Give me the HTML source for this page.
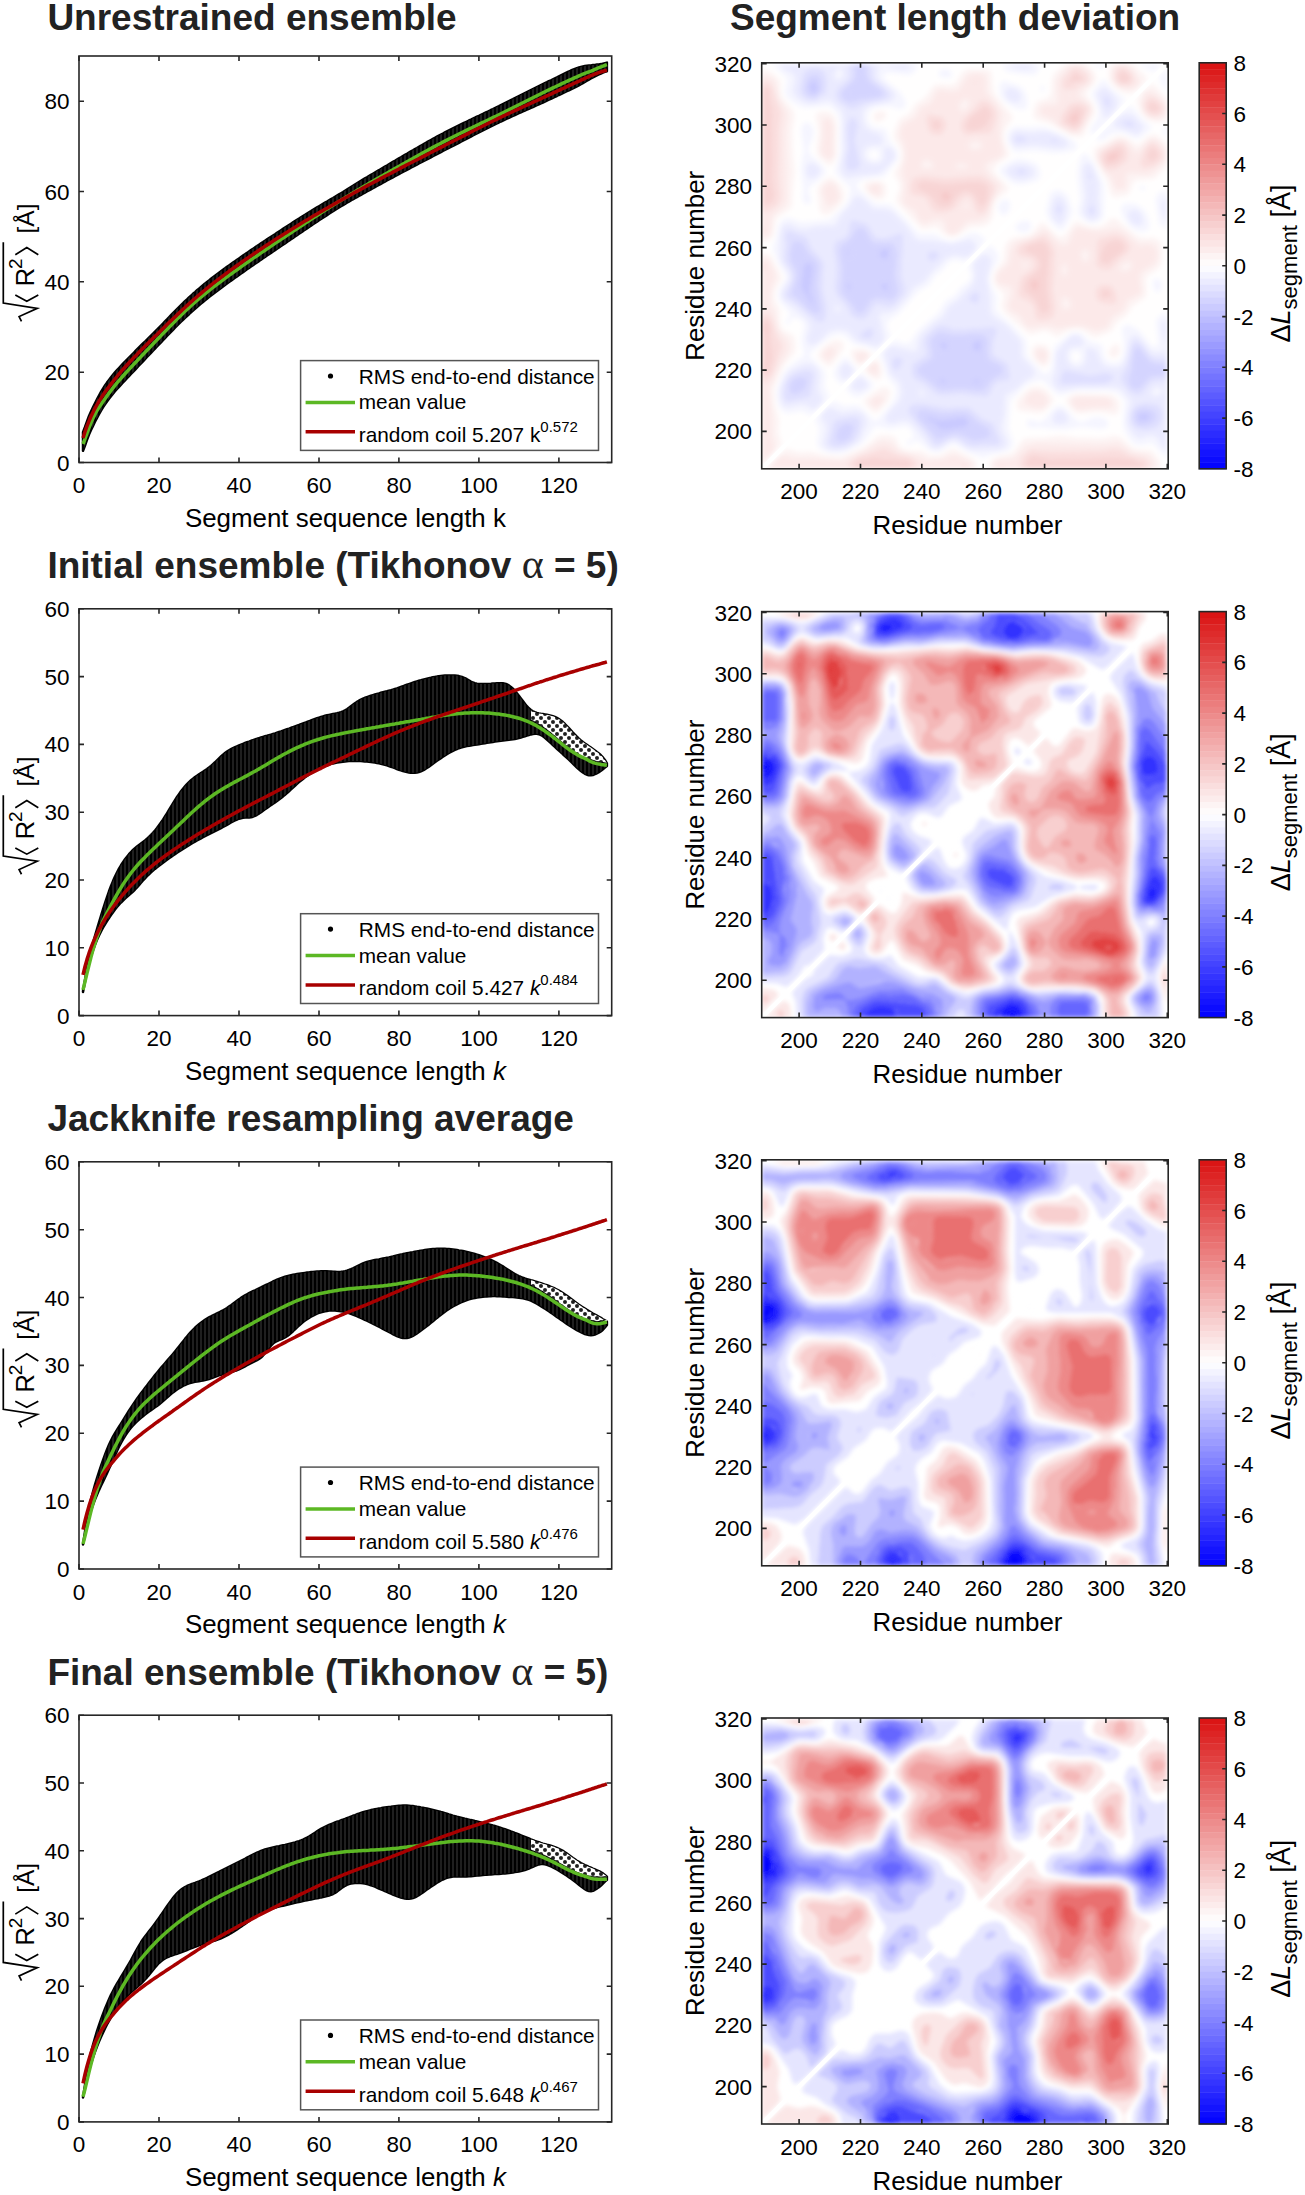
<!DOCTYPE html><html><head><meta charset="utf-8"><style>html,body{margin:0;padding:0;background:#fff;width:1305px;height:2195px;overflow:hidden}svg{display:block}</style></head><body>
<svg width="1305" height="2195" viewBox="0 0 1305 2195" font-family='"Liberation Sans", sans-serif'>
<defs><filter id="hb" x="-5%" y="-5%" width="110%" height="110%"><feGaussianBlur stdDeviation="4"/></filter><clipPath id="hc"><rect x="0" y="0" width="406.5" height="406"/></clipPath><pattern id="vlines" patternUnits="userSpaceOnUse" x="79" y="0" width="4" height="4"><rect x="1.7" y="0" width="0.6" height="4" fill="#fff" fill-opacity="0.4"/></pattern><pattern id="sparse" patternUnits="userSpaceOnUse" x="79" y="0" width="8" height="8"><rect width="8" height="8" fill="#fff"/><circle cx="2" cy="2" r="1.9" fill="#000"/><circle cx="6" cy="6" r="1.9" fill="#000"/></pattern></defs>
<text x="47.4" y="29.9" font-size="37" font-weight="bold" fill="#222">Unrestrained ensemble</text>
<text x="730" y="29.9" font-size="37" font-weight="bold" fill="#222">Segment length deviation</text>
<polygon points="83.0,432.2 85.0,427.0 87.0,421.4 89.0,416.0 91.0,411.5 93.0,407.4 95.0,403.2 97.0,399.3 99.0,395.5 101.0,391.9 103.0,388.6 105.0,385.5 107.0,382.6 109.0,379.9 111.0,377.3 113.0,374.8 115.0,372.4 117.0,370.2 119.0,368.0 121.0,365.8 123.0,363.7 125.0,361.7 127.0,359.6 129.0,357.6 131.0,355.6 133.0,353.6 135.0,351.5 137.0,349.5 139.0,347.5 141.0,345.5 143.0,343.5 145.0,341.6 147.0,339.6 149.0,337.6 151.0,335.6 153.0,333.7 155.0,331.7 157.0,329.7 159.0,327.6 161.0,325.6 163.0,323.5 165.0,321.4 167.0,319.4 169.0,317.3 171.0,315.2 173.0,313.1 175.0,311.1 177.0,309.1 179.0,307.1 181.0,305.1 183.0,303.2 185.0,301.2 187.0,299.4 189.0,297.5 191.0,295.7 193.0,293.8 195.0,292.1 197.0,290.3 199.0,288.6 201.0,286.9 203.0,285.2 205.0,283.6 207.0,281.9 209.0,280.4 211.0,278.8 213.0,277.2 215.0,275.7 217.0,274.2 219.0,272.7 221.0,271.2 223.0,269.7 225.0,268.3 227.0,266.8 229.0,265.4 231.0,264.0 233.0,262.6 235.0,261.2 237.0,259.8 239.0,258.4 241.0,257.0 243.0,255.6 245.0,254.2 247.0,252.9 249.0,251.5 251.0,250.1 253.0,248.8 255.0,247.4 257.0,246.1 259.0,244.7 261.0,243.4 263.0,242.1 265.0,240.7 267.0,239.4 269.0,238.1 271.0,236.8 273.0,235.5 275.0,234.2 277.0,232.8 279.0,231.5 281.0,230.2 283.0,228.9 285.0,227.6 287.0,226.3 289.0,225.0 291.0,223.7 293.0,222.4 295.0,221.1 297.0,219.8 299.0,218.6 301.0,217.3 303.0,216.0 305.0,214.8 307.0,213.5 309.0,212.3 311.0,211.1 313.0,209.8 315.0,208.6 317.0,207.4 319.0,206.2 321.0,205.0 323.0,203.8 325.0,202.6 327.0,201.5 329.0,200.3 331.0,199.1 333.0,198.0 335.0,196.8 337.0,195.6 339.0,194.4 341.0,193.2 343.0,192.0 345.0,190.7 346.9,189.5 348.9,188.2 350.9,187.0 352.9,185.8 354.9,184.5 356.9,183.3 358.9,182.1 360.9,180.9 362.9,179.6 364.9,178.4 366.9,177.3 368.9,176.1 370.9,174.9 372.9,173.7 374.9,172.5 376.9,171.3 378.9,170.2 380.9,169.0 382.9,167.8 384.9,166.6 386.9,165.5 388.9,164.3 390.9,163.1 392.9,161.9 394.9,160.8 396.9,159.6 398.9,158.4 400.9,157.3 402.9,156.1 404.9,154.9 406.9,153.8 408.9,152.6 410.9,151.4 412.9,150.3 414.9,149.1 416.9,148.0 418.9,146.8 420.9,145.7 422.9,144.5 424.9,143.4 426.9,142.2 428.9,141.1 430.9,140.0 432.9,138.9 434.9,137.8 436.9,136.7 438.9,135.6 440.9,134.5 442.9,133.5 444.9,132.4 446.9,131.4 448.9,130.4 450.9,129.4 452.9,128.4 454.9,127.4 456.9,126.4 458.9,125.4 460.9,124.4 462.9,123.4 464.9,122.5 466.9,121.5 468.9,120.5 470.9,119.6 472.9,118.6 474.9,117.7 476.9,116.7 478.9,115.8 480.9,114.8 482.9,113.9 484.9,112.9 486.9,112.0 488.9,111.0 490.9,110.0 492.9,109.1 494.9,108.1 496.9,107.1 498.9,106.2 500.9,105.2 502.9,104.2 504.9,103.2 506.9,102.2 508.9,101.2 510.9,100.2 512.9,99.2 514.9,98.1 516.9,97.1 518.9,96.1 520.9,95.1 522.9,94.1 524.9,93.1 526.9,92.1 528.9,91.1 530.9,90.1 532.9,89.1 534.9,88.1 536.9,87.1 538.9,86.1 540.9,85.1 542.9,84.1 544.9,83.1 546.9,82.2 548.9,81.2 550.9,80.3 552.9,79.3 554.9,78.3 556.9,77.4 558.9,76.4 560.9,75.4 562.9,74.4 564.9,73.4 566.9,72.4 568.9,71.5 570.9,70.5 572.9,69.7 574.9,68.9 576.9,68.1 578.9,67.5 580.9,67.0 582.9,66.5 584.9,66.1 586.9,65.8 588.9,65.6 590.9,65.4 592.9,65.1 594.9,64.9 596.9,64.6 598.9,64.4 600.9,64.1 602.9,63.6 604.9,63.1 606.9,62.6 606.9,71.3 604.9,71.9 602.9,72.6 600.9,73.5 598.9,74.4 596.9,75.3 594.9,76.3 592.9,77.4 590.9,78.5 588.9,79.6 586.9,80.8 584.9,82.0 582.9,83.1 580.9,84.2 578.9,85.3 576.9,86.3 574.9,87.4 572.9,88.4 570.9,89.3 568.9,90.3 566.9,91.2 564.9,92.2 562.9,93.1 560.9,94.1 558.9,95.0 556.9,96.0 554.9,96.9 552.9,97.8 550.9,98.8 548.9,99.7 546.9,100.6 544.9,101.6 542.9,102.5 540.9,103.4 538.9,104.3 536.9,105.2 534.9,106.1 532.9,107.0 530.9,107.9 528.9,108.8 526.9,109.7 524.9,110.5 522.9,111.4 520.9,112.3 518.9,113.2 516.9,114.1 514.9,115.0 512.9,115.9 510.9,116.8 508.9,117.8 506.9,118.7 504.9,119.6 502.9,120.6 500.9,121.5 498.9,122.5 496.9,123.4 494.9,124.4 492.9,125.4 490.9,126.4 488.9,127.4 486.9,128.4 484.9,129.4 482.9,130.4 480.9,131.4 478.9,132.4 476.9,133.5 474.9,134.5 472.9,135.5 470.9,136.6 468.9,137.6 466.9,138.6 464.9,139.7 462.9,140.7 460.9,141.7 458.9,142.8 456.9,143.8 454.9,144.8 452.9,145.9 450.9,146.9 448.9,147.9 446.9,149.0 444.9,150.0 442.9,151.0 440.9,152.1 438.9,153.1 436.9,154.1 434.9,155.2 432.9,156.2 430.9,157.3 428.9,158.3 426.9,159.4 424.9,160.4 422.9,161.4 420.9,162.5 418.9,163.5 416.9,164.6 414.9,165.6 412.9,166.7 410.9,167.7 408.9,168.8 406.9,169.8 404.9,170.9 402.9,171.9 400.9,173.0 398.9,174.1 396.9,175.1 394.9,176.2 392.9,177.3 390.9,178.4 388.9,179.4 386.9,180.5 384.9,181.6 382.9,182.7 380.9,183.8 378.9,184.9 376.9,186.0 374.9,187.1 372.9,188.2 370.9,189.3 368.9,190.4 366.9,191.5 364.9,192.6 362.9,193.7 360.9,194.9 358.9,196.0 356.9,197.1 354.9,198.2 352.9,199.3 350.9,200.5 348.9,201.6 346.9,202.7 345.0,203.9 343.0,205.1 341.0,206.2 339.0,207.5 337.0,208.7 335.0,209.9 333.0,211.2 331.0,212.5 329.0,213.8 327.0,215.1 325.0,216.4 323.0,217.7 321.0,219.0 319.0,220.3 317.0,221.7 315.0,223.0 313.0,224.3 311.0,225.7 309.0,227.0 307.0,228.4 305.0,229.7 303.0,231.1 301.0,232.4 299.0,233.8 297.0,235.2 295.0,236.5 293.0,237.9 291.0,239.3 289.0,240.6 287.0,242.0 285.0,243.4 283.0,244.7 281.0,246.1 279.0,247.5 277.0,248.8 275.0,250.2 273.0,251.5 271.0,252.9 269.0,254.2 267.0,255.6 265.0,257.0 263.0,258.3 261.0,259.7 259.0,261.1 257.0,262.4 255.0,263.8 253.0,265.2 251.0,266.6 249.0,268.0 247.0,269.3 245.0,270.7 243.0,272.2 241.0,273.6 239.0,275.0 237.0,276.4 235.0,277.8 233.0,279.2 231.0,280.7 229.0,282.1 227.0,283.6 225.0,285.0 223.0,286.5 221.0,288.0 219.0,289.5 217.0,291.0 215.0,292.5 213.0,294.0 211.0,295.6 209.0,297.1 207.0,298.7 205.0,300.3 203.0,302.0 201.0,303.6 199.0,305.3 197.0,307.0 195.0,308.8 193.0,310.5 191.0,312.3 189.0,314.2 187.0,316.0 185.0,317.9 183.0,319.8 181.0,321.7 179.0,323.7 177.0,325.7 175.0,327.7 173.0,329.8 171.0,331.8 169.0,333.9 167.0,336.0 165.0,338.1 163.0,340.2 161.0,342.3 159.0,344.4 157.0,346.5 155.0,348.6 153.0,350.7 151.0,352.8 149.0,354.9 147.0,357.0 145.0,359.1 143.0,361.3 141.0,363.4 139.0,365.5 137.0,367.6 135.0,369.8 133.0,371.9 131.0,374.0 129.0,376.1 127.0,378.2 125.0,380.3 123.0,382.5 121.0,384.6 119.0,386.8 117.0,389.0 115.0,391.3 113.0,393.7 111.0,396.2 109.0,398.8 107.0,401.5 105.0,404.4 103.0,407.4 101.0,410.7 99.0,414.2 97.0,417.9 95.0,421.8 93.0,425.9 91.0,430.0 89.0,434.5 87.0,439.9 85.0,445.5 83.0,450.8" fill="#000" stroke="#000" stroke-width="2.5" stroke-linejoin="round"/>
<g clip-path="url(#bandclip0)"><rect x="79.0" y="56.0" width="532.7" height="406.5" fill="url(#vlines)"/></g>
<clipPath id="bandclip0"><polygon points="83.0,432.2 85.0,427.0 87.0,421.4 89.0,416.0 91.0,411.5 93.0,407.4 95.0,403.2 97.0,399.3 99.0,395.5 101.0,391.9 103.0,388.6 105.0,385.5 107.0,382.6 109.0,379.9 111.0,377.3 113.0,374.8 115.0,372.4 117.0,370.2 119.0,368.0 121.0,365.8 123.0,363.7 125.0,361.7 127.0,359.6 129.0,357.6 131.0,355.6 133.0,353.6 135.0,351.5 137.0,349.5 139.0,347.5 141.0,345.5 143.0,343.5 145.0,341.6 147.0,339.6 149.0,337.6 151.0,335.6 153.0,333.7 155.0,331.7 157.0,329.7 159.0,327.6 161.0,325.6 163.0,323.5 165.0,321.4 167.0,319.4 169.0,317.3 171.0,315.2 173.0,313.1 175.0,311.1 177.0,309.1 179.0,307.1 181.0,305.1 183.0,303.2 185.0,301.2 187.0,299.4 189.0,297.5 191.0,295.7 193.0,293.8 195.0,292.1 197.0,290.3 199.0,288.6 201.0,286.9 203.0,285.2 205.0,283.6 207.0,281.9 209.0,280.4 211.0,278.8 213.0,277.2 215.0,275.7 217.0,274.2 219.0,272.7 221.0,271.2 223.0,269.7 225.0,268.3 227.0,266.8 229.0,265.4 231.0,264.0 233.0,262.6 235.0,261.2 237.0,259.8 239.0,258.4 241.0,257.0 243.0,255.6 245.0,254.2 247.0,252.9 249.0,251.5 251.0,250.1 253.0,248.8 255.0,247.4 257.0,246.1 259.0,244.7 261.0,243.4 263.0,242.1 265.0,240.7 267.0,239.4 269.0,238.1 271.0,236.8 273.0,235.5 275.0,234.2 277.0,232.8 279.0,231.5 281.0,230.2 283.0,228.9 285.0,227.6 287.0,226.3 289.0,225.0 291.0,223.7 293.0,222.4 295.0,221.1 297.0,219.8 299.0,218.6 301.0,217.3 303.0,216.0 305.0,214.8 307.0,213.5 309.0,212.3 311.0,211.1 313.0,209.8 315.0,208.6 317.0,207.4 319.0,206.2 321.0,205.0 323.0,203.8 325.0,202.6 327.0,201.5 329.0,200.3 331.0,199.1 333.0,198.0 335.0,196.8 337.0,195.6 339.0,194.4 341.0,193.2 343.0,192.0 345.0,190.7 346.9,189.5 348.9,188.2 350.9,187.0 352.9,185.8 354.9,184.5 356.9,183.3 358.9,182.1 360.9,180.9 362.9,179.6 364.9,178.4 366.9,177.3 368.9,176.1 370.9,174.9 372.9,173.7 374.9,172.5 376.9,171.3 378.9,170.2 380.9,169.0 382.9,167.8 384.9,166.6 386.9,165.5 388.9,164.3 390.9,163.1 392.9,161.9 394.9,160.8 396.9,159.6 398.9,158.4 400.9,157.3 402.9,156.1 404.9,154.9 406.9,153.8 408.9,152.6 410.9,151.4 412.9,150.3 414.9,149.1 416.9,148.0 418.9,146.8 420.9,145.7 422.9,144.5 424.9,143.4 426.9,142.2 428.9,141.1 430.9,140.0 432.9,138.9 434.9,137.8 436.9,136.7 438.9,135.6 440.9,134.5 442.9,133.5 444.9,132.4 446.9,131.4 448.9,130.4 450.9,129.4 452.9,128.4 454.9,127.4 456.9,126.4 458.9,125.4 460.9,124.4 462.9,123.4 464.9,122.5 466.9,121.5 468.9,120.5 470.9,119.6 472.9,118.6 474.9,117.7 476.9,116.7 478.9,115.8 480.9,114.8 482.9,113.9 484.9,112.9 486.9,112.0 488.9,111.0 490.9,110.0 492.9,109.1 494.9,108.1 496.9,107.1 498.9,106.2 500.9,105.2 502.9,104.2 504.9,103.2 506.9,102.2 508.9,101.2 510.9,100.2 512.9,99.2 514.9,98.1 516.9,97.1 518.9,96.1 520.9,95.1 522.9,94.1 524.9,93.1 526.9,92.1 528.9,91.1 530.9,90.1 532.9,89.1 534.9,88.1 536.9,87.1 538.9,86.1 540.9,85.1 542.9,84.1 544.9,83.1 546.9,82.2 548.9,81.2 550.9,80.3 552.9,79.3 554.9,78.3 556.9,77.4 558.9,76.4 560.9,75.4 562.9,74.4 564.9,73.4 566.9,72.4 568.9,71.5 570.9,70.5 572.9,69.7 574.9,68.9 576.9,68.1 578.9,67.5 580.9,67.0 582.9,66.5 584.9,66.1 586.9,65.8 588.9,65.6 590.9,65.4 592.9,65.1 594.9,64.9 596.9,64.6 598.9,64.4 600.9,64.1 602.9,63.6 604.9,63.1 606.9,62.6 606.9,71.3 604.9,71.9 602.9,72.6 600.9,73.5 598.9,74.4 596.9,75.3 594.9,76.3 592.9,77.4 590.9,78.5 588.9,79.6 586.9,80.8 584.9,82.0 582.9,83.1 580.9,84.2 578.9,85.3 576.9,86.3 574.9,87.4 572.9,88.4 570.9,89.3 568.9,90.3 566.9,91.2 564.9,92.2 562.9,93.1 560.9,94.1 558.9,95.0 556.9,96.0 554.9,96.9 552.9,97.8 550.9,98.8 548.9,99.7 546.9,100.6 544.9,101.6 542.9,102.5 540.9,103.4 538.9,104.3 536.9,105.2 534.9,106.1 532.9,107.0 530.9,107.9 528.9,108.8 526.9,109.7 524.9,110.5 522.9,111.4 520.9,112.3 518.9,113.2 516.9,114.1 514.9,115.0 512.9,115.9 510.9,116.8 508.9,117.8 506.9,118.7 504.9,119.6 502.9,120.6 500.9,121.5 498.9,122.5 496.9,123.4 494.9,124.4 492.9,125.4 490.9,126.4 488.9,127.4 486.9,128.4 484.9,129.4 482.9,130.4 480.9,131.4 478.9,132.4 476.9,133.5 474.9,134.5 472.9,135.5 470.9,136.6 468.9,137.6 466.9,138.6 464.9,139.7 462.9,140.7 460.9,141.7 458.9,142.8 456.9,143.8 454.9,144.8 452.9,145.9 450.9,146.9 448.9,147.9 446.9,149.0 444.9,150.0 442.9,151.0 440.9,152.1 438.9,153.1 436.9,154.1 434.9,155.2 432.9,156.2 430.9,157.3 428.9,158.3 426.9,159.4 424.9,160.4 422.9,161.4 420.9,162.5 418.9,163.5 416.9,164.6 414.9,165.6 412.9,166.7 410.9,167.7 408.9,168.8 406.9,169.8 404.9,170.9 402.9,171.9 400.9,173.0 398.9,174.1 396.9,175.1 394.9,176.2 392.9,177.3 390.9,178.4 388.9,179.4 386.9,180.5 384.9,181.6 382.9,182.7 380.9,183.8 378.9,184.9 376.9,186.0 374.9,187.1 372.9,188.2 370.9,189.3 368.9,190.4 366.9,191.5 364.9,192.6 362.9,193.7 360.9,194.9 358.9,196.0 356.9,197.1 354.9,198.2 352.9,199.3 350.9,200.5 348.9,201.6 346.9,202.7 345.0,203.9 343.0,205.1 341.0,206.2 339.0,207.5 337.0,208.7 335.0,209.9 333.0,211.2 331.0,212.5 329.0,213.8 327.0,215.1 325.0,216.4 323.0,217.7 321.0,219.0 319.0,220.3 317.0,221.7 315.0,223.0 313.0,224.3 311.0,225.7 309.0,227.0 307.0,228.4 305.0,229.7 303.0,231.1 301.0,232.4 299.0,233.8 297.0,235.2 295.0,236.5 293.0,237.9 291.0,239.3 289.0,240.6 287.0,242.0 285.0,243.4 283.0,244.7 281.0,246.1 279.0,247.5 277.0,248.8 275.0,250.2 273.0,251.5 271.0,252.9 269.0,254.2 267.0,255.6 265.0,257.0 263.0,258.3 261.0,259.7 259.0,261.1 257.0,262.4 255.0,263.8 253.0,265.2 251.0,266.6 249.0,268.0 247.0,269.3 245.0,270.7 243.0,272.2 241.0,273.6 239.0,275.0 237.0,276.4 235.0,277.8 233.0,279.2 231.0,280.7 229.0,282.1 227.0,283.6 225.0,285.0 223.0,286.5 221.0,288.0 219.0,289.5 217.0,291.0 215.0,292.5 213.0,294.0 211.0,295.6 209.0,297.1 207.0,298.7 205.0,300.3 203.0,302.0 201.0,303.6 199.0,305.3 197.0,307.0 195.0,308.8 193.0,310.5 191.0,312.3 189.0,314.2 187.0,316.0 185.0,317.9 183.0,319.8 181.0,321.7 179.0,323.7 177.0,325.7 175.0,327.7 173.0,329.8 171.0,331.8 169.0,333.9 167.0,336.0 165.0,338.1 163.0,340.2 161.0,342.3 159.0,344.4 157.0,346.5 155.0,348.6 153.0,350.7 151.0,352.8 149.0,354.9 147.0,357.0 145.0,359.1 143.0,361.3 141.0,363.4 139.0,365.5 137.0,367.6 135.0,369.8 133.0,371.9 131.0,374.0 129.0,376.1 127.0,378.2 125.0,380.3 123.0,382.5 121.0,384.6 119.0,386.8 117.0,389.0 115.0,391.3 113.0,393.7 111.0,396.2 109.0,398.8 107.0,401.5 105.0,404.4 103.0,407.4 101.0,410.7 99.0,414.2 97.0,417.9 95.0,421.8 93.0,425.9 91.0,430.0 89.0,434.5 87.0,439.9 85.0,445.5 83.0,450.8"/></clipPath>
<path d="M83.0,444.0 L85.0,438.8 L87.0,433.2 L89.0,427.8 L91.0,422.8 L93.0,418.3 L95.0,414.2 L97.0,410.5 L99.0,407.3 L101.0,404.4 L103.0,401.6 L105.0,398.7 L107.0,395.9 L109.0,393.1 L111.0,390.5 L113.0,387.9 L115.0,385.4 L117.0,382.9 L119.0,380.6 L121.0,378.3 L123.0,376.0 L125.0,373.8 L127.0,371.6 L129.0,369.4 L131.0,367.3 L133.0,365.1 L135.0,363.0 L137.0,360.9 L139.0,358.7 L141.0,356.6 L143.0,354.5 L145.0,352.4 L147.0,350.3 L149.0,348.2 L151.0,346.1 L153.0,344.0 L155.0,341.9 L157.0,339.8 L159.0,337.7 L161.0,335.6 L163.0,333.5 L165.0,331.4 L167.0,329.4 L169.0,327.3 L171.0,325.2 L173.0,323.2 L175.0,321.2 L177.0,319.1 L179.0,317.2 L181.0,315.2 L183.0,313.2 L185.0,311.3 L187.0,309.4 L189.0,307.6 L191.0,305.8 L193.0,304.0 L195.0,302.2 L197.0,300.5 L199.0,298.7 L201.0,297.1 L203.0,295.4 L205.0,293.8 L207.0,292.1 L209.0,290.6 L211.0,289.0 L213.0,287.4 L215.0,285.9 L217.0,284.3 L219.0,282.8 L221.0,281.3 L223.0,279.8 L225.0,278.4 L227.0,276.9 L229.0,275.4 L231.0,274.0 L233.0,272.5 L235.0,271.1 L237.0,269.7 L239.0,268.3 L241.0,266.8 L243.0,265.4 L245.0,264.0 L247.0,262.6 L249.0,261.2 L251.0,259.8 L253.0,258.4 L255.0,257.1 L257.0,255.7 L259.0,254.3 L261.0,252.9 L263.0,251.6 L265.0,250.2 L267.0,248.8 L269.0,247.5 L271.0,246.1 L273.0,244.8 L275.0,243.4 L277.0,242.1 L279.0,240.7 L281.0,239.4 L283.0,238.0 L285.0,236.7 L287.0,235.3 L289.0,234.0 L291.0,232.7 L293.0,231.3 L295.0,230.0 L297.0,228.7 L299.0,227.3 L301.0,226.0 L303.0,224.7 L305.0,223.3 L307.0,222.0 L309.0,220.7 L311.0,219.4 L313.0,218.1 L315.0,216.8 L317.0,215.5 L319.0,214.2 L321.0,212.9 L323.0,211.6 L325.0,210.3 L327.0,209.1 L329.0,207.8 L331.0,206.5 L333.0,205.3 L335.0,204.0 L337.0,202.8 L339.0,201.5 L341.0,200.3 L343.0,199.0 L345.0,197.8 L346.9,196.6 L348.9,195.4 L350.9,194.1 L352.9,192.9 L354.9,191.7 L356.9,190.5 L358.9,189.4 L360.9,188.2 L362.9,187.0 L364.9,185.8 L366.9,184.7 L368.9,183.5 L370.9,182.3 L372.9,181.2 L374.9,180.0 L376.9,178.9 L378.9,177.7 L380.9,176.6 L382.9,175.5 L384.9,174.3 L386.9,173.2 L388.9,172.0 L390.9,170.9 L392.9,169.8 L394.9,168.6 L396.9,167.5 L398.9,166.4 L400.9,165.2 L402.9,164.1 L404.9,163.0 L406.9,161.8 L408.9,160.7 L410.9,159.6 L412.9,158.5 L414.9,157.3 L416.9,156.2 L418.9,155.1 L420.9,154.0 L422.9,152.9 L424.9,151.8 L426.9,150.7 L428.9,149.6 L430.9,148.5 L432.9,147.4 L434.9,146.4 L436.9,145.3 L438.9,144.2 L440.9,143.2 L442.9,142.1 L444.9,141.1 L446.9,140.1 L448.9,139.0 L450.9,138.0 L452.9,137.0 L454.9,136.0 L456.9,135.0 L458.9,134.0 L460.9,133.0 L462.9,132.1 L464.9,131.1 L466.9,130.1 L468.9,129.1 L470.9,128.2 L472.9,127.2 L474.9,126.3 L476.9,125.3 L478.9,124.4 L480.9,123.4 L482.9,122.4 L484.9,121.5 L486.9,120.5 L488.9,119.6 L490.9,118.6 L492.9,117.6 L494.9,116.7 L496.9,115.7 L498.9,114.7 L500.9,113.7 L502.9,112.7 L504.9,111.7 L506.9,110.7 L508.9,109.7 L510.9,108.7 L512.9,107.7 L514.9,106.7 L516.9,105.7 L518.9,104.7 L520.9,103.7 L522.9,102.7 L524.9,101.7 L526.9,100.7 L528.9,99.7 L530.9,98.7 L532.9,97.7 L534.9,96.7 L536.9,95.7 L538.9,94.7 L540.9,93.7 L542.9,92.7 L544.9,91.8 L546.9,90.8 L548.9,89.8 L550.9,88.9 L552.9,87.9 L554.9,87.0 L556.9,86.0 L558.9,85.1 L560.9,84.1 L562.9,83.2 L564.9,82.3 L566.9,81.3 L568.9,80.4 L570.9,79.5 L572.9,78.6 L574.9,77.6 L576.9,76.8 L578.9,75.9 L580.9,75.0 L582.9,74.1 L584.9,73.3 L586.9,72.5 L588.9,71.8 L590.9,71.1 L592.9,70.3 L594.9,69.4 L596.9,68.5 L598.9,67.6 L600.9,66.9 L602.9,66.1 L604.9,65.4 L606.9,64.7" fill="none" stroke="#5cb824" stroke-width="3.5" stroke-linejoin="round"/>
<path d="M83.0,438.1 L85.0,431.7 L87.0,426.2 L89.0,421.1 L91.0,416.5 L93.0,412.3 L95.0,408.3 L97.0,404.7 L99.0,401.3 L101.0,398.1 L103.0,395.0 L105.0,392.1 L107.0,389.4 L109.0,386.7 L111.0,384.1 L113.0,381.5 L115.0,379.0 L117.0,376.5 L119.0,374.1 L121.0,371.7 L123.0,369.4 L125.0,367.2 L127.0,365.0 L129.0,362.8 L131.0,360.6 L133.0,358.5 L135.0,356.4 L137.0,354.4 L139.0,352.3 L141.0,350.3 L143.0,348.3 L145.0,346.3 L147.0,344.3 L149.0,342.3 L151.0,340.3 L153.0,338.3 L155.0,336.3 L157.0,334.4 L159.0,332.4 L161.0,330.4 L163.0,328.5 L165.0,326.5 L167.0,324.6 L169.0,322.6 L171.0,320.7 L173.0,318.8 L175.0,316.9 L177.0,314.9 L179.0,313.1 L181.0,311.2 L183.0,309.3 L185.0,307.5 L187.0,305.6 L189.0,303.8 L191.0,302.0 L193.0,300.2 L195.0,298.5 L197.0,296.7 L199.0,295.0 L201.0,293.3 L203.0,291.6 L205.0,290.0 L207.0,288.3 L209.0,286.7 L211.0,285.1 L213.0,283.5 L215.0,281.9 L217.0,280.4 L219.0,278.8 L221.0,277.3 L223.0,275.8 L225.0,274.3 L227.0,272.8 L229.0,271.3 L231.0,269.9 L233.0,268.4 L235.0,267.0 L237.0,265.5 L239.0,264.1 L241.0,262.7 L243.0,261.3 L245.0,259.9 L247.0,258.5 L249.0,257.1 L251.0,255.7 L253.0,254.4 L255.0,253.0 L257.0,251.7 L259.0,250.3 L261.0,249.0 L263.0,247.6 L265.0,246.3 L267.0,245.0 L269.0,243.7 L271.0,242.4 L273.0,241.1 L275.0,239.8 L277.0,238.5 L279.0,237.2 L281.0,236.0 L283.0,234.7 L285.0,233.4 L287.0,232.2 L289.0,230.9 L291.0,229.7 L293.0,228.4 L295.0,227.2 L297.0,226.0 L299.0,224.7 L301.0,223.5 L303.0,222.3 L305.0,221.1 L307.0,219.9 L309.0,218.7 L311.0,217.5 L313.0,216.3 L315.0,215.1 L317.0,214.0 L319.0,212.8 L321.0,211.6 L323.0,210.5 L325.0,209.3 L327.0,208.2 L329.0,207.0 L331.0,205.9 L333.0,204.7 L335.0,203.6 L337.0,202.5 L339.0,201.3 L341.0,200.2 L343.0,199.1 L345.0,198.0 L346.9,196.9 L348.9,195.8 L350.9,194.7 L352.9,193.5 L354.9,192.4 L356.9,191.4 L358.9,190.3 L360.9,189.2 L362.9,188.1 L364.9,187.0 L366.9,185.9 L368.9,184.8 L370.9,183.8 L372.9,182.7 L374.9,181.6 L376.9,180.6 L378.9,179.5 L380.9,178.4 L382.9,177.4 L384.9,176.3 L386.9,175.3 L388.9,174.2 L390.9,173.2 L392.9,172.1 L394.9,171.1 L396.9,170.0 L398.9,169.0 L400.9,167.9 L402.9,166.9 L404.9,165.9 L406.9,164.8 L408.9,163.8 L410.9,162.8 L412.9,161.7 L414.9,160.7 L416.9,159.7 L418.9,158.7 L420.9,157.6 L422.9,156.6 L424.9,155.6 L426.9,154.6 L428.9,153.5 L430.9,152.5 L432.9,151.5 L434.9,150.5 L436.9,149.4 L438.9,148.4 L440.9,147.4 L442.9,146.4 L444.9,145.3 L446.9,144.3 L448.9,143.3 L450.9,142.3 L452.9,141.2 L454.9,140.2 L456.9,139.2 L458.9,138.2 L460.9,137.1 L462.9,136.1 L464.9,135.1 L466.9,134.1 L468.9,133.1 L470.9,132.0 L472.9,131.0 L474.9,130.0 L476.9,129.0 L478.9,128.0 L480.9,127.0 L482.9,126.0 L484.9,125.0 L486.9,124.0 L488.9,123.0 L490.9,122.0 L492.9,121.0 L494.9,120.1 L496.9,119.1 L498.9,118.1 L500.9,117.2 L502.9,116.2 L504.9,115.3 L506.9,114.3 L508.9,113.4 L510.9,112.5 L512.9,111.5 L514.9,110.6 L516.9,109.7 L518.9,108.8 L520.9,107.8 L522.9,106.9 L524.9,106.0 L526.9,105.1 L528.9,104.2 L530.9,103.3 L532.9,102.3 L534.9,101.4 L536.9,100.5 L538.9,99.6 L540.9,98.7 L542.9,97.7 L544.9,96.8 L546.9,95.9 L548.9,95.0 L550.9,94.1 L552.9,93.1 L554.9,92.2 L556.9,91.3 L558.9,90.3 L560.9,89.4 L562.9,88.5 L564.9,87.6 L566.9,86.6 L568.9,85.7 L570.9,84.8 L572.9,83.9 L574.9,83.0 L576.9,82.1 L578.9,81.2 L580.9,80.2 L582.9,79.3 L584.9,78.4 L586.9,77.5 L588.9,76.6 L590.9,75.7 L592.9,74.9 L594.9,74.0 L596.9,73.3 L598.9,72.5 L600.9,71.9 L602.9,71.3 L604.9,70.7 L606.9,70.1" fill="none" stroke="#a80000" stroke-width="3.5" stroke-linejoin="round"/>
<rect x="79.0" y="56.0" width="532.7" height="406.5" fill="none" stroke="#262626" stroke-width="1.6"/>
<text x="79.0" y="493.0" font-size="22.5" text-anchor="middle">0</text>
<text x="159.0" y="493.0" font-size="22.5" text-anchor="middle">20</text>
<text x="239.0" y="493.0" font-size="22.5" text-anchor="middle">40</text>
<text x="319.0" y="493.0" font-size="22.5" text-anchor="middle">60</text>
<text x="398.9" y="493.0" font-size="22.5" text-anchor="middle">80</text>
<text x="478.9" y="493.0" font-size="22.5" text-anchor="middle">100</text>
<text x="558.9" y="493.0" font-size="22.5" text-anchor="middle">120</text>
<text x="69.5" y="470.5" font-size="22.5" text-anchor="end">0</text>
<text x="69.5" y="380.2" font-size="22.5" text-anchor="end">20</text>
<text x="69.5" y="289.8" font-size="22.5" text-anchor="end">40</text>
<text x="69.5" y="199.5" font-size="22.5" text-anchor="end">60</text>
<text x="69.5" y="109.2" font-size="22.5" text-anchor="end">80</text>
<path d="M79.0,462.5v-5M79.0,56.0v5M159.0,462.5v-5M159.0,56.0v5M239.0,462.5v-5M239.0,56.0v5M319.0,462.5v-5M319.0,56.0v5M398.9,462.5v-5M398.9,56.0v5M478.9,462.5v-5M478.9,56.0v5M558.9,462.5v-5M558.9,56.0v5M79.0,462.5h5M611.7,462.5h-5M79.0,372.2h5M611.7,372.2h-5M79.0,281.8h5M611.7,281.8h-5M79.0,191.5h5M611.7,191.5h-5M79.0,101.2h5M611.7,101.2h-5" stroke="#262626" stroke-width="1.6" fill="none"/>
<text x="345.4" y="526.5" font-size="25.9" text-anchor="middle">Segment sequence length k</text>
<g transform="translate(0,0.00)">
<text transform="translate(34,286.5) rotate(-90)" font-size="26">R</text>
<text transform="translate(22,269) rotate(-90)" font-size="19">2</text>
<text transform="translate(33.7,233.5) rotate(-90)" font-size="24.5">[Å]</text>
<path d="M15.3,295 L26.8,301.2 L38.3,295 M15.3,254.8 L26.8,247.6 L38.3,254.8 M3.3,242.3 L3.3,303.1 L37.3,308.3 L19.1,316.6 L21.5,321.3" fill="none" stroke="#000" stroke-width="1.7"/>
</g>
<rect x="300.6" y="360.6" width="297.9" height="89.8" fill="#fff" stroke="#555" stroke-width="1.5"/>
<circle cx="330.5" cy="376.0" r="2.6" fill="#000"/>
<text x="358.8" y="383.6" font-size="20.8">RMS end-to-end distance</text>
<path d="M305.6,402.4H355" stroke="#5cb824" stroke-width="3.5"/>
<text x="358.8" y="409.4" font-size="20.8">mean value</text>
<path d="M305.6,431.8H355" stroke="#a80000" stroke-width="3.5"/>
<text x="358.8" y="442.3" font-size="20.8">random coil 5.207 k<tspan dy="-10" font-size="15">0.572</tspan></text>
<g transform="translate(761.7,62.8)">
<defs><filter id="hf0" x="-2%" y="-2%" width="104%" height="104%"><feGaussianBlur stdDeviation="2.60"/></filter><clipPath id="hcl0"><rect x="0" y="0" width="406.5" height="406.0"/></clipPath></defs><g clip-path="url(#hcl0)"><g filter="url(#hf0)"><path transform="scale(.5)" d="M356 733 368 735 405 729 413 726 414 720 412 714 405 708 356 715 337 708 328 708 330 714 344 721 356 733ZM755 716 761 718 773 715 777 708 774 702 767 699 755 701 751 708 755 716ZM356 641 368 642 371 640 373 634 356 632 354 634 356 641ZM423 641 436 641 437 634 430 632 422 634 423 641ZM749 636 753 634 749 633 749 636ZM755 598 755 591 755 598ZM362 576 368 574 373 567 371 561 362 558 356 561 355 567 362 576ZM423 574 430 578 436 578 439 573 441 561 436 555 430 555 420 561 419 567 423 574ZM98 482 104 485 105 481 97 457 104 410 99 401 92 398 86 400 83 408 77 450 98 482ZM172 457 178 459 180 457 178 439 172 441 170 444 172 457ZM245 457 252 456 254 450 252 441 245 439 238 444 236 450 245 457ZM172 390 179 389 178 376 171 377 172 390ZM239 391 245 394 252 393 255 389 257 377 252 372 245 371 235 377 234 383 239 391ZM178 65 178 60 176 64 178 65ZM98 60 104 62 110 59 113 52 111 40 104 36 98 39 95 46 94 52 98 60ZM215 58 222 58 215 58Z" fill="#c9c9ff" fill-rule="evenodd"/><path transform="scale(.5)" d="M153 759 166 758 178 751 185 732 184 726 178 721 166 721 153 729 147 751 153 759ZM423 757 454 751 458 745 458 738 454 731 430 716 411 698 399 697 362 701 325 692 313 695 309 702 313 714 337 738 350 754 387 743 399 745 423 757ZM355 732 344 721 330 714 328 708 337 708 356 715 405 708 412 714 414 720 413 726 399 730 368 735 355 732ZM755 726 767 727 784 720 790 708 785 696 767 689 755 691 749 695 744 702 744 714 749 723 755 726ZM753 714 751 708 754 702 761 699 773 701 777 708 774 714 767 717 761 718 753 714ZM55 662 67 664 86 656 92 640 91 634 86 628 74 628 61 634 54 647 55 662ZM350 653 362 656 399 652 430 657 442 657 448 653 460 635 482 622 484 616 479 604 460 596 454 590 452 579 453 555 448 545 430 541 387 545 356 538 340 548 336 561 341 579 339 591 318 604 312 610 310 616 313 623 331 635 350 653ZM355 640 354 634 356 632 373 634 371 640 368 642 355 640ZM423 640 423 633 437 634 436 641 423 640ZM358 573 355 567 356 561 362 558 371 561 373 567 369 573 362 576 358 573ZM422 573 419 567 420 561 423 558 436 555 441 561 441 567 436 578 430 578 422 573ZM742 653 755 653 779 628 792 626 810 628 810 601 792 602 779 599 755 569 749 568 742 579 740 610 733 634 736 647 742 653ZM748 634 753 634 749 636 748 634ZM755 598 755 591 755 598ZM98 500 110 503 117 500 119 493 111 444 116 408 111 395 96 383 81 359 67 355 61 359 55 383 56 395 67 414 69 426 58 463 74 475 98 500ZM97 481 77 450 83 408 86 400 92 398 99 401 104 410 97 457 105 481 104 485 97 481ZM190 500 196 502 204 499 221 473 233 471 258 476 268 469 274 457 267 426 271 383 267 365 258 359 233 361 223 359 217 352 208 334 196 328 187 334 177 352 159 365 154 377 161 414 157 457 160 463 177 481 190 500ZM171 457 170 444 172 441 178 439 180 457 178 459 171 457ZM243 457 236 450 238 444 245 439 252 441 254 450 252 456 243 457ZM172 389 171 377 178 376 180 383 178 391 172 389ZM238 389 234 383 235 377 239 374 252 372 257 377 258 383 252 393 245 394 238 389ZM166 77 178 80 202 73 233 71 244 64 243 58 214 34 210 21 211 3 184 3 186 21 184 34 159 58 159 70 166 77ZM176 64 178 60 179 64 176 64ZM214 58 222 58 214 58ZM92 66 104 70 110 69 121 58 122 40 117 28 110 23 98 24 89 34 85 52 86 59 92 66ZM96 58 94 52 97 40 104 36 110 39 113 46 111 58 104 62 96 58Z" fill="#d4d4ff" fill-rule="evenodd"/><path transform="scale(.5)" d="M147 770 166 767 184 757 192 745 198 726 196 710 184 707 147 714 143 720 134 757 135 764 147 770ZM150 757 148 745 156 726 172 720 178 721 184 726 184 738 178 751 166 758 150 757ZM344 764 350 766 356 765 380 751 393 752 411 765 423 768 442 765 472 765 476 763 478 757 463 720 442 712 423 695 411 687 368 690 325 682 301 683 294 689 292 696 294 702 326 738 344 764ZM421 757 399 745 387 743 350 754 337 738 313 714 309 702 313 695 325 692 362 701 399 697 411 698 430 716 454 731 458 738 458 745 454 751 421 757ZM749 733 767 736 785 732 796 726 803 708 799 689 788 683 767 680 749 685 740 696 737 708 738 720 749 733ZM754 726 749 723 744 714 744 702 749 695 755 691 767 689 785 696 790 708 784 720 767 727 754 726ZM49 678 55 678 92 670 98 666 105 628 102 616 86 614 67 620 55 628 47 640 43 659 44 671 49 678ZM53 659 54 647 61 634 80 627 86 628 91 634 91 647 83 659 61 665 53 659ZM356 666 399 663 448 669 456 665 464 647 470 640 498 634 495 610 491 600 466 586 462 579 463 561 472 536 470 530 460 528 387 533 368 526 356 525 344 532 327 548 324 561 329 579 328 585 301 602 299 622 306 634 325 642 344 660 356 666ZM349 653 331 635 313 623 310 616 312 610 318 604 339 591 341 579 336 561 340 548 356 538 387 545 430 541 448 545 453 555 452 579 454 590 460 596 479 604 484 616 482 622 460 635 448 653 442 657 430 657 399 652 362 656 349 653ZM736 659 749 665 755 665 761 662 779 639 792 636 810 638 810 628 785 626 773 632 755 653 742 653 736 647 733 634 740 610 742 579 749 568 755 569 779 599 792 602 810 601 810 590 792 592 779 588 761 564 749 556 742 560 739 567 730 607 718 628 721 640 736 659ZM190 641 193 640 190 634 190 641ZM601 644 687 643 704 634 705 628 698 622 687 619 657 625 607 614 601 618 596 634 597 640 601 644ZM172 623 178 622 172 619 172 623ZM270 616 277 610 283 598 282 591 270 586 261 591 259 604 264 616 270 616ZM202 552 215 554 224 548 225 536 221 530 209 532 196 542 197 548 202 552ZM110 518 117 520 123 518 129 512 130 506 130 487 122 450 125 401 117 389 100 371 92 349 55 335 49 336 46 346 48 365 45 395 57 414 62 426 60 438 46 463 49 470 74 486 110 518ZM98 499 74 475 58 463 69 426 67 414 56 395 55 383 61 359 67 355 81 359 96 383 111 395 116 408 111 444 119 493 117 500 110 503 98 499ZM190 513 210 512 227 484 233 483 252 488 264 486 285 463 287 450 280 426 284 352 282 342 276 340 252 349 233 350 226 346 212 322 184 314 177 316 172 342 166 349 147 357 143 371 149 408 146 450 148 463 170 487 178 506 190 513ZM189 499 177 481 160 463 157 457 161 414 154 377 159 365 177 352 187 334 196 328 208 334 217 352 223 359 233 361 258 359 267 365 271 383 267 426 274 457 270 466 260 475 252 476 233 471 221 473 204 499 196 502 189 499ZM423 482 430 482 436 477 436 460 430 457 418 463 414 469 413 475 423 482ZM337 399 350 395 356 383 352 377 337 376 331 380 331 393 337 399ZM595 305 601 297 601 291 595 281 588 291 589 299 595 305ZM657 306 663 306 667 297 663 285 657 284 652 297 657 306ZM810 301 810 284 810 301ZM657 238 661 230 657 217 652 224 657 238ZM515 224 525 224 532 218 522 211 515 212 507 218 515 224ZM172 216 184 216 195 211 198 205 187 156 193 126 190 115 184 108 178 109 172 117 169 132 171 169 167 205 172 216ZM509 159 522 160 529 156 528 150 515 146 509 147 506 150 506 156 509 159ZM577 157 589 161 596 156 583 151 577 153 575 156 577 157ZM730 127 742 129 748 126 742 117 730 115 721 120 725 126 730 127ZM172 91 184 94 205 83 245 74 253 70 256 64 248 52 224 34 220 21 222 3 211 3 211 28 218 40 243 58 244 64 233 71 202 73 178 80 165 77 159 70 159 58 180 40 186 28 184 3 174 3 176 28 172 35 151 52 147 64 153 77 172 91ZM693 92 698 83 698 77 693 68 687 65 683 70 684 77 687 88 693 92ZM86 72 98 76 110 75 127 64 132 46 129 25 123 14 110 10 98 11 88 15 83 21 76 52 79 64 86 72ZM89 64 85 52 89 34 98 24 110 23 117 28 122 40 121 58 117 65 104 70 89 64ZM515 4 529 3 512 3 515 4Z" fill="#dfdfff" fill-rule="evenodd"/><path transform="scale(.5)" d="M141 776 153 776 172 772 195 757 211 720 208 708 202 701 190 696 160 700 135 688 121 702 117 708 126 720 130 732 122 763 129 772 141 776ZM144 769 135 764 134 757 143 720 147 714 184 707 196 710 198 726 192 745 184 757 166 767 144 769ZM423 776 472 775 488 769 491 757 482 738 480 726 486 702 487 665 509 653 528 636 542 628 547 622 542 610 523 591 520 585 520 561 515 552 489 524 462 506 458 499 457 469 451 432 460 395 454 386 442 382 422 401 427 426 423 441 393 474 374 487 362 509 344 520 320 542 313 555 311 573 307 577 301 577 258 566 244 579 256 622 276 640 280 659 275 677 256 696 248 708 247 714 251 720 264 722 282 715 295 718 320 745 337 769 344 773 356 772 374 759 387 757 411 772 423 776ZM343 763 326 738 294 702 292 696 294 689 301 683 325 682 368 690 411 687 423 695 442 712 463 720 478 757 476 763 472 765 442 765 423 768 411 765 393 752 380 751 356 765 350 766 343 763ZM318 665 314 659 319 655 324 659 325 665 318 665ZM354 665 344 660 325 642 306 634 299 622 301 602 328 585 329 579 324 555 331 543 344 532 356 525 368 526 387 533 460 528 470 530 472 536 463 561 462 579 466 586 491 600 495 610 498 634 470 640 464 647 456 665 448 669 399 663 354 665ZM268 616 264 616 260 610 259 598 264 588 276 587 282 591 283 598 276 610 268 616ZM420 481 413 475 414 469 418 463 430 457 436 460 436 477 430 482 420 481ZM810 779 810 638 785 637 778 640 761 662 749 665 736 659 730 653 721 640 718 628 730 607 739 567 742 560 749 556 761 564 779 588 792 592 810 590 810 512 802 518 800 524 800 536 807 567 807 573 802 579 785 581 779 578 755 548 742 545 735 555 725 598 718 607 712 610 693 608 683 604 669 574 657 569 650 569 648 573 648 591 644 604 632 609 620 606 611 591 613 573 620 569 644 567 645 561 639 548 632 545 626 544 616 548 589 579 587 616 581 634 585 647 591 653 601 656 632 650 706 649 718 653 739 677 731 702 730 714 732 726 742 743 755 752 773 746 785 746 792 751 801 769 810 779ZM747 732 738 720 737 708 740 696 749 685 767 680 788 683 799 689 803 708 796 726 785 732 767 736 755 736 747 732ZM780 665 779 659 785 650 792 648 801 653 802 659 795 665 785 667 780 665ZM597 640 597 628 601 618 607 614 657 625 687 619 698 622 705 628 704 634 696 640 681 643 644 642 607 645 597 640ZM589 723 607 722 614 714 609 702 601 695 595 694 589 696 581 708 583 719 589 723ZM49 690 80 683 92 686 104 695 124 677 113 653 116 622 115 616 104 604 98 602 86 602 61 613 49 623 38 647 35 665 40 683 49 690ZM48 677 44 671 43 659 47 640 55 628 67 620 86 614 102 616 105 628 98 666 92 670 55 678 48 677ZM184 654 196 657 207 653 212 647 211 640 200 628 196 627 190 631 177 647 184 654ZM189 640 190 634 193 640 189 640ZM166 635 178 626 186 616 172 602 166 600 160 605 155 616 158 628 166 635ZM171 622 172 619 178 622 171 622ZM227 567 233 568 246 555 236 512 235 506 239 501 258 499 270 492 292 469 303 450 325 438 339 420 372 389 387 385 411 390 417 386 430 371 426 359 417 353 380 362 344 356 313 355 307 350 288 324 261 297 252 293 227 292 221 290 202 270 190 266 184 270 176 285 159 303 147 326 110 327 86 333 74 331 55 322 43 324 37 340 36 389 40 401 53 420 55 432 40 457 39 469 43 475 67 493 94 518 97 530 90 548 92 561 98 565 104 564 117 557 135 537 153 533 172 536 190 557 227 567ZM197 548 196 542 209 532 221 530 225 536 226 542 221 551 209 554 197 548ZM110 518 74 486 49 470 46 463 60 438 62 426 57 414 45 395 48 365 46 346 49 336 55 335 92 349 100 371 117 389 125 401 122 450 130 487 130 506 129 512 123 518 117 520 110 518ZM185 512 178 506 170 487 148 463 146 450 149 408 143 371 147 357 166 349 172 342 177 316 184 314 212 322 226 346 233 350 252 349 276 340 282 342 284 352 280 426 287 450 285 463 264 486 252 488 233 483 227 484 221 492 215 507 209 513 185 512ZM147 493 147 487 153 488 158 493 153 498 147 493ZM332 395 330 383 335 377 352 377 356 382 350 395 344 399 337 399 332 395ZM595 324 601 321 607 311 611 291 605 273 595 266 589 268 583 274 578 297 583 313 595 324ZM592 303 588 291 595 281 601 291 601 297 595 305 592 303ZM742 323 755 327 761 323 763 316 760 303 749 294 736 296 732 303 736 316 742 323ZM663 316 674 309 677 303 673 273 675 242 663 209 657 202 650 200 644 205 641 218 648 267 642 297 647 309 657 316 663 316ZM653 303 653 291 657 284 663 285 667 297 666 303 663 306 657 306 653 303ZM655 236 652 224 657 217 661 230 660 236 657 238 655 236ZM810 318 810 268 803 273 798 285 803 309 810 318ZM98 233 110 229 118 218 117 211 110 204 98 199 90 205 88 218 92 229 98 233ZM172 231 202 225 233 223 242 218 266 193 268 187 264 175 258 170 245 168 243 193 239 200 221 202 207 193 203 181 209 169 221 165 239 165 243 162 243 156 239 144 209 130 204 120 202 101 205 95 215 87 258 78 267 70 265 58 235 34 231 28 233 11 239 6 245 6 276 13 288 13 295 11 300 3 222 3 220 21 224 34 248 52 256 64 253 70 245 74 205 83 184 94 172 91 160 83 153 77 147 64 151 52 172 35 176 28 174 3 33 3 43 12 61 21 66 28 66 40 61 58 69 70 86 80 98 83 110 82 135 74 159 95 163 107 162 181 157 211 161 224 172 231ZM168 211 170 126 178 109 184 108 190 115 193 126 187 156 198 205 195 211 178 217 172 216 168 211ZM84 70 79 64 76 52 83 21 88 15 98 11 110 10 123 14 129 25 132 46 127 64 117 73 104 76 84 70ZM149 34 145 28 147 18 153 11 160 12 164 21 162 28 154 34 149 34ZM503 232 522 235 539 230 545 224 546 218 544 211 528 203 515 202 501 205 492 211 489 218 493 224 503 232ZM514 224 507 218 515 212 522 211 532 218 525 224 514 224ZM509 170 546 165 595 172 608 169 613 162 611 156 604 150 577 139 564 137 540 140 509 136 503 139 497 150 500 162 509 170ZM506 156 506 150 515 146 528 150 529 156 515 161 506 156ZM575 156 583 151 596 156 589 161 575 156ZM736 139 749 143 755 141 763 132 764 126 742 104 724 102 709 113 702 126 736 139ZM725 126 721 120 730 115 736 115 745 120 748 126 742 129 725 126ZM687 111 693 109 707 95 711 89 711 77 709 70 699 59 687 49 681 50 672 58 670 64 681 100 687 111ZM689 89 683 70 687 65 693 68 698 77 696 89 693 92 689 89ZM497 77 509 80 515 78 519 70 516 58 503 50 491 51 486 58 489 70 497 77ZM503 10 522 14 534 14 540 10 545 3 494 3 503 10Z" fill="#eaeaff" fill-rule="evenodd"/><path transform="scale(.5)" d="M436 788 442 791 460 784 485 779 495 775 501 769 503 757 494 732 498 677 528 646 540 640 558 635 564 637 583 657 595 666 632 656 693 657 712 661 726 677 722 726 726 738 739 757 745 763 755 766 779 761 785 765 810 792 810 779 801 769 792 750 779 745 755 752 749 749 736 734 731 720 730 708 739 677 718 653 706 649 632 650 595 655 585 647 581 634 587 616 589 579 616 548 626 544 639 548 643 555 645 567 620 569 613 573 610 585 613 598 617 604 626 608 638 608 644 603 648 591 648 573 650 569 669 574 678 598 687 606 706 610 718 607 728 591 735 555 742 545 755 548 779 578 785 581 802 579 807 573 807 567 800 536 800 524 802 518 810 512 810 499 795 506 788 518 793 555 790 567 785 568 779 565 755 535 736 524 727 524 721 530 720 536 725 561 723 585 715 598 699 600 686 591 681 564 657 557 638 540 620 539 585 567 579 610 571 621 564 622 531 585 530 555 501 524 473 499 469 493 471 469 459 444 457 432 460 418 473 395 473 383 460 366 454 367 430 387 413 408 419 426 414 438 397 450 387 465 368 476 354 499 312 536 295 561 282 561 270 555 264 556 238 579 235 585 244 604 250 628 266 647 269 659 263 677 233 713 227 717 196 686 184 684 166 687 147 677 141 678 129 687 106 714 115 732 110 763 119 775 135 781 160 782 192 769 206 757 227 727 258 733 288 727 297 732 303 745 301 753 290 757 288 763 299 763 307 756 313 757 334 775 350 780 362 776 380 764 387 764 411 779 436 788ZM137 775 126 769 122 763 130 732 126 720 117 708 121 702 135 688 160 700 190 696 202 701 208 708 211 720 195 757 184 766 166 774 153 776 137 775ZM421 775 411 772 387 757 374 759 356 772 344 773 337 769 320 745 295 718 282 715 264 722 251 720 247 714 248 708 256 696 275 677 280 659 276 640 256 622 244 579 258 566 301 577 307 577 311 573 313 555 320 542 344 520 362 509 374 487 393 474 423 441 427 426 422 401 442 382 454 386 460 395 451 432 457 469 458 499 462 506 489 524 515 552 520 561 520 585 523 591 542 610 547 622 542 628 528 636 509 653 487 665 486 702 480 726 482 738 491 757 488 769 472 775 421 775ZM624 598 619 591 620 582 626 577 632 577 638 583 638 591 632 599 624 598ZM67 757 71 757 67 757ZM55 745 55 741 55 745ZM577 733 607 734 638 728 681 733 693 727 694 720 687 711 675 708 663 709 644 718 632 717 607 690 595 684 583 692 564 715 558 719 534 713 529 720 531 726 540 731 558 729 577 733ZM584 720 580 714 581 708 591 696 601 695 613 708 614 714 607 722 595 724 584 720ZM49 702 80 697 98 706 117 692 134 671 135 665 125 647 128 628 126 616 95 585 99 579 135 550 153 543 166 546 184 563 209 568 227 577 233 574 257 548 257 542 251 530 252 517 276 500 313 458 336 444 347 426 362 415 374 399 387 394 405 399 426 383 445 359 447 352 430 340 417 340 395 352 380 356 368 354 344 341 319 343 313 340 288 311 258 283 227 281 190 248 191 242 202 234 245 228 273 193 272 175 256 156 248 132 221 127 212 113 215 98 227 90 252 87 276 93 282 92 288 86 288 77 277 58 247 34 244 28 245 23 258 20 295 25 307 18 313 3 300 3 295 11 288 13 276 13 245 6 239 6 233 11 231 28 235 34 265 58 267 70 258 78 221 85 205 95 202 107 206 126 215 135 239 144 243 162 239 165 221 165 209 169 204 175 204 187 209 196 215 200 227 202 239 200 243 193 245 168 258 170 264 174 268 187 264 197 233 223 196 226 178 232 166 228 157 218 162 181 163 107 159 95 135 74 104 82 92 82 78 77 63 64 61 58 67 34 62 21 43 12 33 3 20 3 47 28 51 34 46 58 49 68 55 74 74 87 86 91 135 87 151 101 156 120 156 181 146 218 155 230 176 248 177 254 173 273 166 285 135 314 80 319 61 311 49 310 38 316 33 328 28 352 21 371 33 401 48 426 48 432 33 457 32 469 37 479 55 499 56 506 48 518 49 524 55 523 59 512 67 510 80 516 85 524 79 555 85 585 49 612 39 628 30 653 30 671 32 683 37 693 49 702ZM49 689 40 683 35 665 38 647 49 623 61 613 86 602 98 602 104 604 115 616 116 622 113 653 124 677 104 695 92 686 80 683 49 689ZM226 567 190 557 172 536 153 533 135 537 117 557 104 564 98 565 92 561 90 548 97 530 94 518 67 493 43 475 39 469 40 457 55 432 53 420 40 401 36 389 37 340 43 324 55 322 74 331 86 333 110 327 147 326 159 303 176 285 184 270 190 266 202 270 221 290 227 292 252 293 261 297 288 324 307 350 313 355 344 356 380 362 417 353 426 359 430 371 417 386 411 390 387 385 372 389 339 420 325 438 303 450 292 469 270 492 258 499 239 501 235 506 236 512 246 555 233 568 226 567ZM220 193 214 187 214 181 221 174 229 175 235 181 235 187 230 193 220 193ZM184 668 196 668 215 657 224 647 222 640 202 622 196 622 184 631 181 628 190 616 190 610 172 591 166 589 151 604 143 622 149 634 160 644 178 632 181 634 168 653 184 668ZM182 653 177 647 186 634 196 627 211 640 212 647 202 655 190 657 182 653ZM163 634 156 622 155 616 160 605 166 600 172 602 186 616 172 632 166 635 163 634ZM319 666 325 665 324 659 319 655 314 659 319 666ZM785 667 798 663 802 659 801 653 792 648 785 650 779 659 780 665 785 667ZM147 495 153 498 158 493 153 488 147 487 147 495ZM792 459 798 456 801 444 798 434 792 431 785 432 781 444 785 456 792 459ZM522 340 528 340 538 334 539 322 534 316 528 315 515 318 507 328 508 334 522 340ZM595 336 601 335 607 329 618 309 622 297 613 267 601 256 589 254 577 260 568 297 575 316 595 336ZM592 322 581 309 578 291 584 273 589 268 595 266 601 269 607 276 611 297 608 309 601 321 595 324 592 322ZM749 336 761 339 774 334 776 322 771 303 762 291 749 283 736 281 724 282 718 291 723 309 736 328 749 336ZM741 322 736 316 732 303 736 296 749 294 760 303 763 316 762 322 755 327 741 322ZM804 330 810 332 810 318 803 309 798 285 803 273 810 268 810 255 793 260 787 273 795 322 804 330ZM657 322 675 319 684 309 686 248 682 236 663 198 650 183 644 182 638 187 632 211 632 236 637 273 632 297 636 309 657 322ZM657 316 647 309 642 297 648 267 641 218 644 205 650 200 657 202 664 211 672 230 676 248 673 273 677 303 669 314 657 316ZM479 305 485 306 495 297 498 285 497 279 491 273 479 275 472 285 474 297 479 305ZM86 282 92 284 98 280 99 273 93 254 97 248 121 230 129 218 122 205 95 181 94 169 103 150 105 138 101 126 92 119 86 119 80 126 78 138 84 175 79 199 78 224 83 254 81 273 86 282ZM93 230 88 218 90 205 98 199 104 200 117 211 118 218 116 224 104 232 93 230ZM761 256 768 254 768 248 761 246 755 248 757 254 761 256ZM509 244 528 243 552 236 559 224 553 205 540 197 515 191 503 195 484 205 477 211 476 218 480 224 497 238 509 244ZM500 230 489 218 492 211 509 203 534 204 544 211 546 218 545 224 540 229 528 234 515 235 500 230ZM583 181 607 179 626 175 631 169 629 162 624 156 604 144 564 127 534 129 509 127 498 132 493 138 490 150 493 162 503 176 509 180 546 176 583 181ZM507 169 500 162 497 150 503 139 509 136 540 140 564 137 577 139 604 150 611 156 613 162 608 169 595 172 546 165 515 171 507 169ZM675 157 687 153 699 143 712 140 724 141 749 153 755 152 779 132 778 126 761 111 742 89 736 86 712 105 675 144 670 150 672 156 675 157ZM733 138 702 126 709 113 724 102 742 104 764 126 763 132 755 141 749 143 733 138ZM810 151 810 128 802 132 802 138 810 151ZM657 141 663 143 699 110 726 77 724 70 701 52 687 35 681 34 661 58 660 64 672 89 673 101 670 113 657 132 657 141ZM685 107 670 64 675 54 681 50 687 49 705 64 709 70 711 83 707 95 699 104 687 111 685 107ZM503 90 522 95 528 93 532 83 530 64 523 52 515 46 485 36 479 39 475 46 476 64 485 77 503 90ZM496 77 489 70 486 58 491 51 503 50 516 58 519 70 515 78 509 80 496 77ZM564 58 565 46 558 45 558 56 564 58ZM810 59 810 10 795 28 801 46 810 59ZM153 34 162 28 164 21 160 12 153 11 146 21 147 33 153 34ZM362 30 374 31 380 28 381 21 378 15 368 12 356 15 353 21 356 28 362 30ZM509 22 546 25 552 20 557 3 545 3 540 10 528 14 503 10 494 3 481 3 485 13 491 18 509 22ZM779 17 785 18 803 3 754 3 779 17ZM675 11 681 11 685 3 662 3 675 11Z" fill="#f5f5ff" fill-rule="evenodd"/><path transform="scale(.5)" d="M6 812 49 772 74 779 98 778 129 786 160 788 205 769 233 746 245 744 264 747 268 751 276 768 282 773 295 776 319 776 337 786 356 786 380 772 387 773 426 794 430 800 432 812 453 812 455 800 460 793 472 788 502 781 522 754 528 751 564 750 595 746 632 750 681 751 712 747 718 749 742 771 755 774 779 775 795 794 801 812 810 812 810 792 785 765 779 761 761 765 749 765 742 761 730 745 722 726 726 677 712 661 693 657 632 656 595 666 583 657 564 637 558 635 540 640 528 646 498 677 494 732 503 757 501 769 491 778 460 784 442 791 411 779 387 764 380 764 362 776 350 780 334 775 313 757 307 756 299 763 288 763 290 757 301 753 303 745 297 732 288 727 258 733 227 727 206 757 192 769 160 782 135 781 119 775 110 763 115 732 106 714 129 687 141 678 147 677 166 687 184 684 196 686 227 717 233 713 263 677 269 659 266 647 250 628 244 604 235 585 238 579 264 556 270 555 282 561 295 561 312 536 354 499 368 476 387 465 397 450 414 438 419 426 413 408 417 401 436 381 454 367 460 366 470 377 474 389 473 395 459 420 457 432 459 444 471 469 469 493 473 499 501 524 530 555 531 585 564 622 571 621 579 610 585 567 620 539 638 540 657 557 681 564 686 591 699 600 715 598 723 585 725 561 720 536 721 530 727 524 736 524 755 535 779 565 785 568 792 566 793 555 788 518 795 506 810 499 810 332 800 328 795 322 787 273 793 260 810 255 810 206 785 232 755 233 746 236 741 242 736 260 730 265 706 269 699 265 691 236 672 205 663 181 664 175 669 169 687 161 712 146 730 150 749 164 755 163 773 147 785 143 797 150 810 163 810 151 802 138 802 132 810 128 810 116 792 119 773 115 759 101 751 77 756 64 779 43 785 44 810 71 810 59 801 46 795 28 810 10 810 3 803 3 785 18 767 12 754 3 742 3 769 28 770 34 749 57 736 62 712 54 698 40 694 21 697 3 685 3 681 11 675 11 662 3 649 3 663 16 669 28 666 40 650 58 648 64 663 83 666 101 652 126 644 144 638 149 632 150 607 141 577 122 548 113 543 107 547 83 552 77 571 72 577 67 580 58 581 28 607 3 557 3 552 20 540 26 491 18 485 13 481 3 313 3 307 18 295 25 258 20 247 21 244 28 247 34 277 58 288 77 288 86 282 92 276 93 252 87 227 90 215 98 212 113 221 127 248 132 256 156 272 175 273 193 245 228 202 234 191 242 190 248 227 281 258 283 288 311 313 340 319 343 344 341 368 354 380 356 393 353 417 340 423 339 436 342 447 352 445 359 432 377 411 396 405 399 387 394 374 399 362 415 347 426 336 444 313 458 276 500 252 517 251 530 257 542 257 548 233 574 227 577 209 568 184 563 166 546 153 543 135 550 99 579 95 585 126 616 128 628 125 647 135 665 134 671 125 683 98 706 80 697 49 702 37 693 31 677 30 653 43 620 55 606 85 585 79 555 85 524 80 516 67 510 59 512 55 523 49 524 49 514 56 506 55 499 37 479 32 463 36 450 48 432 48 426 33 401 21 371 28 352 34 322 43 312 55 310 80 319 135 314 166 285 173 273 177 254 176 248 155 230 146 218 156 181 156 120 151 101 135 87 86 91 67 83 51 70 47 64 47 52 51 34 47 28 20 3 0 3 0 12 18 18 37 34 38 58 41 70 63 95 66 107 61 132 62 181 66 218 62 248 61 285 58 291 31 310 24 340 18 353 12 358 0 359 0 380 12 382 18 386 39 426 40 432 26 457 26 475 36 493 36 518 39 530 44 536 61 544 65 548 68 567 66 579 43 607 25 647 24 671 34 708 33 738 40 763 0 805 0 812 6 812ZM67 757 71 757 67 757ZM55 745 55 741 55 745ZM575 732 558 729 540 731 531 726 529 720 534 713 558 719 564 715 583 692 595 684 607 690 632 717 644 718 663 709 675 708 687 711 694 720 693 727 681 733 638 728 607 734 575 732ZM631 702 616 689 608 677 610 671 626 662 699 664 710 671 716 683 712 702 706 704 675 698 638 703 631 702ZM218 696 207 683 205 677 208 671 239 649 252 649 258 657 258 665 249 683 233 699 227 700 218 696ZM515 696 510 689 510 677 525 659 540 648 558 648 571 656 583 671 583 677 580 683 564 699 552 701 515 696ZM180 665 168 653 181 634 178 632 160 644 149 634 143 622 151 604 166 589 172 591 190 610 190 616 181 628 184 631 196 622 202 622 222 640 224 647 215 657 196 668 190 669 180 665ZM232 634 221 630 205 616 213 604 227 593 235 598 241 616 239 630 232 634ZM126 604 114 591 112 585 114 579 125 567 141 556 153 554 160 557 165 567 163 573 147 597 135 607 126 604ZM191 604 179 585 178 579 182 573 202 572 217 579 220 585 209 599 196 607 191 604ZM555 604 540 585 540 573 546 565 564 563 571 566 575 573 576 598 571 607 564 609 555 604ZM695 585 694 579 699 569 706 563 712 563 717 573 714 585 706 590 695 585ZM665 548 644 536 632 532 614 535 595 546 589 547 571 537 564 536 540 543 534 542 485 499 479 487 485 463 466 445 463 432 466 418 484 395 486 371 491 358 503 350 528 347 540 343 558 320 564 320 589 344 595 348 601 349 607 344 626 318 632 318 657 328 669 329 681 326 699 312 706 310 749 346 761 351 785 350 798 357 802 377 800 401 792 413 771 426 768 432 770 457 768 469 742 486 730 505 711 518 699 537 681 546 665 548ZM786 457 782 438 785 432 794 432 800 438 800 450 798 456 792 459 786 457ZM368 346 350 328 325 333 319 332 270 279 269 273 277 248 276 242 265 224 266 218 277 199 280 181 276 169 264 150 265 138 275 113 295 102 307 83 327 70 344 45 356 43 380 45 387 42 400 21 411 13 448 13 455 15 460 21 462 52 466 64 502 107 501 113 487 132 484 144 485 156 495 181 494 187 468 205 464 211 464 218 469 224 493 248 493 254 470 273 465 285 462 309 454 322 442 327 417 329 387 349 368 346ZM520 340 508 334 507 328 509 323 522 316 534 316 539 322 538 334 528 340 520 340ZM591 334 575 316 568 297 577 260 589 254 601 256 613 267 622 297 618 309 607 329 601 335 591 334ZM745 334 730 322 723 309 718 291 724 282 736 281 749 283 762 291 771 303 776 322 774 334 761 339 745 334ZM656 322 636 309 632 297 637 273 632 236 632 211 638 187 644 182 650 183 663 198 682 236 686 248 684 309 675 319 656 322ZM125 303 116 297 111 254 113 248 123 237 135 229 141 230 161 248 165 267 161 279 147 293 135 302 125 303ZM478 303 472 291 475 279 484 273 491 273 497 279 498 285 495 297 485 306 478 303ZM83 279 81 267 83 248 78 211 84 175 79 132 85 120 92 119 101 126 105 138 103 150 94 169 95 181 122 205 129 218 121 230 97 248 93 254 99 273 98 280 92 284 83 279ZM227 273 206 254 204 248 206 242 221 236 239 237 246 242 249 248 248 267 239 273 227 273ZM757 254 755 248 761 246 768 248 768 254 757 254ZM504 242 487 230 476 218 477 211 484 205 503 195 515 191 540 197 553 205 559 224 552 236 522 244 504 242ZM125 199 113 187 109 175 114 138 108 107 110 101 123 97 135 99 141 103 147 111 150 126 151 181 148 193 141 203 135 205 125 199ZM579 181 540 176 509 180 503 176 493 162 490 150 493 138 498 132 509 127 534 129 564 127 604 144 624 156 629 162 631 169 626 175 601 180 579 181ZM672 156 670 150 703 113 736 86 742 89 761 111 778 126 779 132 755 152 749 153 724 141 712 140 699 143 681 156 672 156ZM656 138 660 126 670 113 673 101 672 89 660 64 661 58 681 34 687 35 701 52 724 70 726 77 708 101 669 138 663 143 657 141 656 138ZM223 113 222 107 227 99 239 96 250 101 249 107 239 116 233 119 227 117 223 113ZM502 89 485 77 476 64 475 46 479 39 485 36 515 46 523 52 530 64 532 83 528 93 515 94 502 89ZM564 58 558 56 558 45 565 46 566 52 564 58ZM356 28 353 21 356 15 362 13 374 13 380 19 380 28 374 31 356 28ZM626 599 632 599 638 591 638 583 632 577 622 579 619 585 620 592 626 599ZM221 193 230 193 235 187 235 181 229 175 221 174 214 181 214 187 221 193Z" fill="#fffefe" fill-rule="evenodd"/><path transform="scale(.5)" d="M12 812 37 787 43 786 67 792 104 792 160 797 208 775 233 760 245 757 258 761 276 777 313 787 331 796 362 793 380 785 393 787 417 797 423 806 423 812 432 812 430 800 426 794 387 773 380 772 356 786 337 786 319 776 295 776 282 773 276 768 268 751 264 747 245 744 233 746 205 769 160 788 129 786 98 778 74 779 49 772 7 812 12 812ZM454 812 462 812 465 800 472 794 503 793 528 767 540 762 675 765 706 760 718 763 742 778 773 785 783 794 787 812 801 812 795 794 779 775 755 774 742 771 718 749 706 746 681 751 632 750 595 746 564 750 528 751 522 754 502 781 472 788 459 794 455 800 454 812ZM6 800 40 763 33 738 35 714 26 683 24 653 43 607 66 579 68 567 65 548 61 544 44 536 39 530 36 518 36 493 26 475 26 457 40 432 39 426 18 386 12 382 0 380 0 390 6 390 15 395 26 420 27 432 19 450 16 481 25 499 35 536 51 555 55 567 52 579 37 604 15 653 20 708 20 745 26 769 25 775 0 800 0 805 6 800ZM632 702 675 698 706 704 712 702 716 683 710 671 699 664 626 662 610 671 608 677 620 694 632 702ZM625 689 618 677 623 671 632 668 687 669 699 674 703 683 699 688 693 690 663 690 638 694 625 689ZM221 698 227 700 233 699 253 677 258 659 252 649 239 649 208 671 205 677 207 683 221 698ZM225 689 218 683 216 677 220 671 233 664 240 665 244 671 239 683 233 688 225 689ZM515 696 552 701 564 699 580 683 583 677 583 671 571 656 558 648 540 648 525 659 510 677 510 689 515 696ZM542 689 528 683 525 677 534 662 540 658 552 657 567 665 573 677 564 689 552 692 542 689ZM233 635 239 630 241 616 235 598 227 593 213 604 205 616 221 630 233 635ZM220 622 212 616 212 610 227 597 234 610 233 620 227 624 220 622ZM129 605 135 607 141 604 163 573 165 567 160 557 153 554 141 556 125 567 114 579 112 585 114 591 129 605ZM125 591 122 585 129 573 141 568 147 572 148 579 141 592 135 596 125 591ZM196 607 216 591 220 585 217 579 202 572 182 573 178 579 179 585 186 598 196 607ZM194 598 188 585 192 579 202 578 215 585 202 600 196 601 194 598ZM558 606 564 609 573 604 577 592 577 579 571 566 552 563 544 567 539 579 543 591 558 606ZM558 598 551 591 548 579 552 573 558 572 565 573 570 579 572 585 567 598 558 598ZM699 589 706 590 714 585 717 573 712 563 706 563 696 573 694 579 695 585 699 589ZM669 549 699 537 711 518 730 505 742 486 768 469 770 457 768 432 771 426 792 413 800 401 802 377 798 357 785 350 761 351 749 346 706 310 699 312 681 326 669 329 657 328 632 318 626 318 607 344 601 349 595 348 589 344 564 320 558 320 540 343 528 347 503 350 491 358 486 371 484 395 466 418 463 432 466 445 485 463 479 487 485 499 534 542 540 543 564 536 571 537 589 547 595 546 614 535 632 532 644 536 663 548 669 549ZM668 536 638 526 620 527 595 532 571 526 534 530 526 524 515 506 497 497 492 487 500 463 499 450 497 448 478 444 472 441 469 432 472 421 494 401 497 377 503 364 515 356 540 349 564 334 571 336 595 362 607 365 614 359 624 334 632 329 669 337 712 331 730 342 755 364 773 362 785 365 792 377 790 395 785 403 758 420 756 432 760 457 757 463 732 475 725 493 718 500 704 506 690 530 668 536ZM607 494 618 487 619 481 607 468 601 472 600 481 601 490 607 494ZM607 427 611 414 607 400 601 405 601 414 607 427ZM718 416 724 418 735 414 740 408 740 401 736 398 724 400 718 408 718 416ZM528 408 531 401 522 401 523 408 528 408ZM644 398 650 399 655 389 654 377 650 373 640 377 638 383 644 398ZM6 359 18 353 23 346 28 316 31 309 58 291 61 285 62 248 66 218 62 181 61 132 66 107 63 95 41 70 38 58 37 34 18 18 0 12 0 26 18 30 28 40 34 70 49 95 52 107 47 138 50 273 45 285 19 309 18 340 12 347 0 350 0 359 6 359ZM368 346 387 349 417 329 442 327 454 322 462 309 465 285 470 273 493 254 493 248 469 224 464 218 464 211 468 205 494 187 495 181 485 156 484 144 487 132 501 113 502 107 466 64 462 52 460 21 455 15 448 13 411 13 400 21 387 42 380 45 356 43 344 45 327 70 307 83 295 102 275 113 265 138 264 150 276 169 280 181 277 199 266 218 265 224 276 242 277 248 269 273 270 279 319 332 325 333 350 328 368 346ZM372 340 368 334 364 316 350 313 325 321 319 319 311 309 307 297 288 286 282 279 286 242 280 218 286 193 286 175 284 162 277 150 276 138 282 123 307 109 318 89 337 81 350 56 356 53 380 57 393 55 411 26 423 21 436 21 448 28 450 40 449 58 470 83 481 101 476 144 484 181 479 189 454 199 448 205 447 211 456 224 477 242 479 248 464 273 454 302 448 310 436 316 411 318 393 339 387 343 380 344 372 340ZM129 304 141 299 153 288 161 279 165 267 161 248 141 230 135 229 123 237 113 248 111 254 116 297 123 303 129 304ZM129 285 122 267 121 254 129 243 141 241 154 254 154 273 141 286 135 288 129 285ZM405 290 411 290 411 281 405 285 405 290ZM227 273 239 273 248 267 249 248 246 242 239 237 215 237 206 242 204 248 211 260 227 273ZM219 260 213 248 220 242 233 242 240 248 239 260 233 265 227 265 219 260ZM706 269 730 265 736 260 741 242 749 234 779 233 788 230 810 206 810 195 779 221 767 223 736 220 730 223 728 248 724 254 718 257 712 255 706 249 699 230 677 205 671 187 675 175 706 156 718 152 730 157 749 180 755 176 771 156 779 152 792 155 810 174 810 163 792 146 785 143 773 147 755 163 749 164 730 150 712 146 687 161 669 169 664 175 666 193 691 236 699 265 706 269ZM325 212 340 211 344 205 337 197 331 194 325 195 318 205 325 212ZM399 212 407 211 413 205 399 202 385 205 399 212ZM129 202 135 205 141 203 150 187 150 126 147 111 141 103 135 99 123 97 110 101 108 107 114 138 109 175 113 187 129 202ZM130 193 122 187 118 175 122 150 122 120 124 113 129 110 135 111 142 120 145 175 141 190 135 194 130 193ZM430 175 439 169 440 162 436 158 423 158 413 162 415 169 430 175ZM620 146 638 149 644 144 652 126 666 101 663 83 648 64 650 58 666 40 669 28 663 16 649 3 639 3 658 21 661 34 657 42 636 58 633 64 656 83 661 95 657 107 638 138 626 142 607 135 583 114 564 107 557 101 556 95 558 89 564 85 590 83 592 77 590 46 592 34 618 3 607 3 585 21 580 34 579 64 571 72 552 77 545 89 543 107 548 113 577 122 620 146ZM227 117 233 119 244 113 249 107 250 101 239 96 227 99 222 107 227 117ZM773 115 792 119 810 116 810 105 798 111 779 112 767 103 761 95 759 83 761 71 767 59 773 57 785 60 810 82 810 71 785 44 779 43 756 64 751 77 759 101 773 115ZM399 96 405 95 413 89 415 77 411 73 405 73 399 78 395 89 399 96ZM724 60 736 62 749 57 770 34 769 28 742 3 731 3 753 28 756 40 754 46 742 52 730 54 718 52 709 46 701 34 702 15 708 3 697 3 694 21 695 34 706 49 724 60Z" fill="#fdf3f3" fill-rule="evenodd"/><path transform="scale(.5)" d="M12 812 171 812 175 800 190 789 245 771 270 783 305 794 311 800 313 812 397 812 398 806 405 803 410 806 411 812 423 812 423 806 417 797 393 787 380 785 362 793 331 796 313 787 276 777 258 761 245 757 233 760 208 775 160 797 104 792 67 792 43 786 37 787 12 812ZM466 812 474 812 479 804 485 806 486 812 514 812 516 800 527 781 534 776 546 773 583 778 681 777 712 773 767 792 774 800 776 812 787 812 787 806 783 794 773 785 742 778 712 760 675 765 546 762 528 767 503 793 472 794 465 800 463 806 462 812 466 812ZM0 800 25 775 26 769 20 745 20 708 15 653 37 604 52 579 55 567 51 555 35 536 25 499 16 481 19 450 27 432 26 420 15 395 6 390 0 390 0 401 6 402 9 408 6 415 0 415 0 500 12 502 18 507 29 542 41 567 23 622 12 637 0 641 0 800ZM227 690 233 688 243 677 244 671 240 665 227 667 216 677 218 683 227 690ZM546 690 558 691 564 689 573 677 567 665 552 657 540 658 534 662 525 677 528 683 546 690ZM551 677 552 671 553 677 551 677ZM626 690 638 694 663 690 693 690 699 688 703 683 699 674 687 669 632 668 623 671 618 677 626 690ZM221 623 227 624 232 622 234 616 233 607 227 597 212 610 212 616 221 623ZM196 601 202 600 215 585 202 578 190 581 188 585 190 591 196 601ZM558 598 567 598 572 585 570 579 565 573 558 572 552 573 548 579 551 591 558 598ZM129 595 135 596 146 585 148 573 141 568 129 573 124 579 122 585 129 595ZM669 536 690 530 704 506 718 500 725 493 732 475 757 463 760 457 756 432 758 420 785 403 790 395 792 377 785 365 773 362 755 364 730 342 712 331 669 337 632 329 624 334 614 359 607 365 595 362 571 336 564 334 540 349 515 356 503 364 497 377 494 401 472 421 469 432 472 441 478 444 497 448 499 450 500 463 492 487 497 497 515 506 526 524 534 530 571 526 595 532 620 527 638 526 669 536ZM548 512 543 487 534 478 515 469 513 457 517 432 522 426 540 414 546 401 540 392 515 386 510 377 516 365 564 345 577 356 587 377 583 444 587 499 583 509 577 514 558 516 548 512ZM606 493 601 490 600 481 601 472 607 468 619 481 618 487 614 491 606 493ZM681 481 671 475 668 469 667 457 670 450 681 443 699 445 708 457 711 475 709 481 699 484 681 481ZM606 426 601 418 601 408 607 400 611 414 608 426 606 426ZM678 414 670 408 667 395 670 359 674 352 706 343 724 348 737 365 736 377 718 391 699 412 687 416 678 414ZM717 414 718 408 724 400 736 398 740 401 740 408 735 414 724 418 717 414ZM523 408 522 401 531 401 528 408 523 408ZM642 395 638 383 640 377 650 373 656 383 652 395 650 399 642 395ZM770 389 773 382 775 383 775 389 770 389ZM6 350 12 347 18 340 19 309 45 285 50 273 47 138 52 107 49 95 34 70 29 46 25 35 12 27 0 26 0 37 12 39 20 46 39 101 35 132 34 230 38 273 36 279 25 290 12 297 0 299 0 326 6 328 8 334 0 339 0 350 6 350ZM374 342 380 344 392 340 411 318 436 316 448 310 454 302 464 273 479 248 477 242 456 224 447 211 448 205 454 199 479 189 484 181 476 144 481 101 470 83 449 58 450 40 448 28 436 21 423 21 411 26 393 55 380 57 356 53 350 56 337 81 318 89 307 109 282 123 276 138 277 150 284 162 286 175 286 193 280 218 286 242 282 279 288 286 307 297 311 309 319 319 325 321 350 313 364 316 368 334 374 342ZM344 297 330 273 319 267 301 265 297 260 297 242 301 233 307 228 325 226 368 230 436 225 457 236 467 248 451 291 442 302 430 301 420 273 411 266 399 273 387 291 380 295 362 299 344 297ZM405 285 411 281 411 290 405 290 405 285ZM323 211 318 205 325 195 331 194 337 197 344 205 340 211 323 211ZM394 211 385 205 399 202 413 205 407 211 394 211ZM429 175 415 169 413 162 423 158 436 158 440 162 439 169 429 175ZM342 144 334 138 329 120 329 107 337 102 350 103 362 108 367 113 370 126 367 138 362 143 350 146 342 144ZM408 144 400 138 397 132 398 120 401 113 421 95 436 77 448 76 460 83 470 101 469 113 460 139 454 142 423 146 408 144ZM397 95 395 89 399 78 405 73 411 73 415 77 413 89 405 95 397 95ZM422 40 430 38 431 40 423 43 422 40ZM135 288 150 279 156 267 150 248 141 241 135 240 123 248 121 260 129 285 135 288ZM135 260 141 260 135 260ZM221 262 233 265 239 260 239 248 233 242 227 241 215 246 214 254 221 262ZM712 255 724 254 728 248 730 223 736 220 767 223 779 221 810 195 810 174 792 155 779 152 773 155 755 176 749 180 730 157 718 152 706 156 675 175 671 187 674 199 687 219 699 230 706 249 712 255ZM688 211 677 193 678 181 685 175 712 160 724 161 733 175 733 193 728 199 706 215 699 216 688 211ZM765 211 757 205 760 187 773 164 779 160 785 160 800 175 804 187 798 196 785 207 773 212 765 211ZM135 194 141 190 144 181 143 126 138 113 129 110 124 113 122 120 122 150 118 175 122 187 135 194ZM614 139 626 142 638 138 660 101 661 95 657 84 633 64 636 58 657 42 661 34 658 21 639 3 618 3 595 28 590 40 592 77 590 83 564 85 558 89 556 95 557 101 564 107 583 114 593 126 614 139ZM610 132 602 126 597 113 598 107 614 84 620 80 632 79 650 87 654 95 653 101 635 132 626 136 610 132ZM604 52 601 46 602 34 620 12 632 10 644 17 653 28 653 34 649 40 638 48 614 56 604 52ZM773 109 792 113 810 105 810 82 785 60 773 57 767 59 764 64 759 83 761 95 773 109ZM785 107 771 101 765 89 767 77 773 70 779 68 792 73 805 89 805 95 801 101 785 107ZM724 53 736 53 749 49 755 44 755 34 743 15 731 3 708 3 702 15 701 34 712 48 724 53ZM718 46 707 34 706 21 712 12 718 8 724 8 740 21 745 34 743 40 736 46 724 48 718 46Z" fill="#fce9e9" fill-rule="evenodd"/><path transform="scale(.5)" d="M172 812 184 812 185 806 190 798 197 794 215 790 282 793 299 800 302 812 313 812 312 806 311 800 301 791 270 783 245 771 190 789 175 800 172 812ZM399 812 411 812 410 806 405 803 399 805 399 812ZM479 812 486 812 485 806 476 806 474 812 479 812ZM515 812 526 812 531 794 538 787 546 786 577 793 712 790 736 792 755 796 762 800 765 812 776 812 774 800 767 792 736 783 718 775 706 773 681 777 583 778 540 774 528 781 522 789 514 806 515 812ZM552 677 552 671 552 677ZM4 640 12 637 23 622 41 567 29 542 18 507 12 502 0 500 0 510 12 514 18 524 21 561 20 610 12 624 0 628 0 641 4 640ZM552 515 564 516 580 512 585 506 587 493 583 450 587 377 577 356 564 345 516 365 510 377 515 386 540 392 546 401 540 414 522 426 517 432 513 457 515 469 534 478 543 487 548 512 552 515ZM560 499 547 475 529 463 524 450 529 432 554 414 557 401 550 389 527 377 525 371 531 365 558 357 564 358 571 365 576 389 570 450 576 481 576 493 571 501 564 503 560 499ZM681 481 699 484 709 481 711 475 708 457 699 445 681 443 670 450 667 457 668 469 671 475 681 481ZM680 469 677 463 681 455 687 452 697 457 699 463 698 469 693 472 687 472 680 469ZM6 415 9 408 6 402 0 401 0 415 6 415ZM681 415 693 415 699 412 718 391 736 377 737 365 724 348 706 343 674 352 670 359 668 401 670 408 681 415ZM679 401 677 395 677 383 687 362 706 354 712 354 722 359 726 365 726 371 699 400 687 406 679 401ZM773 390 775 383 773 382 770 389 773 390ZM6 337 6 328 0 326 0 339 6 337ZM6 299 18 294 31 285 38 273 34 230 35 132 39 101 20 46 12 39 0 37 0 48 12 51 18 64 22 101 20 236 26 267 25 274 18 282 0 286 0 299 6 299ZM350 299 368 299 380 295 387 291 399 273 411 266 420 273 430 301 442 302 448 297 454 285 466 254 466 246 454 234 436 225 368 230 325 226 307 228 301 233 297 242 297 260 301 265 319 267 330 273 339 291 344 297 350 299ZM351 285 337 266 313 253 310 248 313 240 325 236 368 243 430 237 448 242 454 248 453 267 448 281 442 288 436 286 423 263 411 256 399 259 385 279 374 287 362 289 351 285ZM135 262 141 260 135 259 135 262ZM693 215 706 215 728 199 733 193 733 175 724 161 712 160 685 175 678 181 677 187 679 199 687 211 693 215ZM692 205 683 193 686 181 712 167 720 169 725 181 721 193 706 205 699 207 692 205ZM767 212 785 207 798 196 804 187 800 175 785 160 779 160 773 164 765 175 758 193 757 205 767 212ZM779 199 773 197 771 193 772 181 779 170 785 170 792 177 793 187 785 196 779 199ZM344 145 356 145 362 143 369 132 370 120 362 107 337 102 329 107 329 120 334 138 344 145ZM343 132 340 126 344 115 350 114 356 116 360 126 358 132 350 135 343 132ZM411 145 454 142 460 139 469 113 470 101 465 89 454 78 442 75 436 77 421 95 401 113 398 120 397 132 405 143 411 145ZM409 132 408 120 436 91 442 87 448 87 454 91 459 101 459 107 450 126 430 136 417 136 409 132ZM614 133 626 136 632 134 640 126 654 95 652 89 644 82 632 79 620 80 614 84 598 107 598 120 602 126 614 133ZM611 126 607 120 606 113 620 92 632 87 644 93 646 101 632 127 620 130 611 126ZM785 107 801 101 805 95 805 89 792 73 779 68 773 70 767 77 765 89 771 101 785 107ZM784 101 773 95 772 89 773 82 779 77 792 82 796 89 796 95 784 101ZM607 55 626 53 649 40 653 34 649 21 632 10 620 12 602 34 601 46 607 55ZM616 40 614 34 616 28 626 20 636 21 642 28 642 34 635 40 626 43 616 40ZM718 46 736 46 743 40 745 34 740 21 724 8 718 8 712 12 706 21 707 34 718 46ZM719 40 713 34 712 27 718 17 724 17 731 21 736 34 730 40 719 40ZM423 43 431 40 430 38 423 38 423 43Z" fill="#fadede" fill-rule="evenodd"/><path transform="scale(.5)" d="M184 812 201 812 202 806 209 805 211 812 272 812 274 806 282 804 288 806 289 812 302 812 299 800 288 794 221 790 196 794 188 800 184 812ZM528 812 740 812 742 808 746 812 765 812 762 800 742 793 712 790 577 793 546 786 538 787 531 794 526 806 528 812ZM0 628 12 624 18 616 22 591 18 524 12 514 0 510 0 523 6 524 8 530 6 539 0 540 0 601 7 604 6 610 0 611 0 628ZM564 503 573 499 577 489 570 450 576 383 571 365 564 358 558 357 531 365 525 371 527 377 550 389 557 401 554 414 529 432 524 450 528 461 547 475 558 498 564 503ZM537 450 536 444 540 437 546 434 552 436 554 444 552 453 546 456 537 450ZM681 470 687 472 698 469 699 463 697 457 687 452 681 455 677 463 681 470ZM681 403 693 404 722 377 726 371 726 365 722 359 712 354 706 354 687 362 677 383 677 395 681 403ZM693 383 693 381 693 383ZM698 377 700 377 698 377ZM6 286 22 279 26 267 20 236 22 101 16 58 12 51 0 48 0 67 4 70 0 73 0 286 6 286ZM356 288 368 289 379 285 399 259 411 256 423 263 436 286 442 288 448 281 453 267 454 248 448 242 430 237 368 243 325 236 313 240 310 248 313 253 337 266 350 284 356 288ZM359 273 357 267 359 260 368 258 377 260 378 267 374 274 368 277 359 273ZM693 206 706 205 721 193 725 181 720 169 712 167 686 181 683 193 687 202 693 206ZM692 193 692 187 699 181 706 179 713 181 713 187 706 194 699 197 692 193ZM779 199 789 193 793 187 792 177 785 170 779 170 775 175 770 187 773 197 779 199ZM344 133 350 135 358 132 360 126 356 116 350 114 344 115 340 120 340 126 344 133ZM411 134 417 136 430 136 450 126 459 107 459 101 454 91 448 87 442 87 413 113 407 126 411 134ZM428 120 431 120 428 120ZM614 127 626 130 633 126 646 101 644 93 632 87 626 88 617 95 606 113 607 120 614 127ZM618 120 616 113 620 106 626 100 632 100 634 107 632 114 626 121 618 120ZM785 101 796 95 796 89 792 82 779 77 773 82 772 89 773 95 785 101ZM620 42 638 38 642 34 642 28 632 20 623 21 614 34 616 40 620 42ZM724 41 731 40 736 34 736 28 730 20 724 17 718 17 712 27 713 34 718 40 724 41Z" fill="#f8d4d4" fill-rule="evenodd"/><path transform="scale(.5)" d="M202 812 211 812 209 806 202 806 202 812ZM276 812 289 812 288 806 276 805 272 812 276 812ZM742 812 746 812 742 808 740 812 742 812ZM6 610 6 603 0 601 0 611 6 610ZM6 539 8 530 6 524 0 523 0 540 6 539ZM540 453 546 456 552 453 554 444 552 436 546 434 539 438 536 444 540 453ZM693 384 693 381 693 384ZM362 275 368 277 376 273 378 267 377 260 368 258 359 260 357 267 362 275ZM693 195 699 197 707 193 713 187 713 181 706 179 699 181 692 187 693 195ZM430 120 431 120 430 120ZM620 121 626 121 632 114 634 107 632 100 626 100 619 107 616 113 620 121ZM436 115 436 113 436 115ZM4 70 0 67 0 73 4 70Z" fill="#f7c9c9" fill-rule="evenodd"/></g><path d="M-5,411.0 L411.5,-5" stroke="#fff" stroke-width="4.5"/></g>
</g>
<rect x="761.7" y="62.8" width="406.5" height="406" fill="none" stroke="#262626" stroke-width="1.6"/>
<text x="799.1" y="499.3" font-size="22.5" text-anchor="middle">200</text>
<text x="752" y="439.4" font-size="22.5" text-anchor="end">200</text>
<text x="860.5" y="499.3" font-size="22.5" text-anchor="middle">220</text>
<text x="752" y="378.1" font-size="22.5" text-anchor="end">220</text>
<text x="921.8" y="499.3" font-size="22.5" text-anchor="middle">240</text>
<text x="752" y="316.9" font-size="22.5" text-anchor="end">240</text>
<text x="983.2" y="499.3" font-size="22.5" text-anchor="middle">260</text>
<text x="752" y="255.6" font-size="22.5" text-anchor="end">260</text>
<text x="1044.6" y="499.3" font-size="22.5" text-anchor="middle">280</text>
<text x="752" y="194.3" font-size="22.5" text-anchor="end">280</text>
<text x="1105.9" y="499.3" font-size="22.5" text-anchor="middle">300</text>
<text x="752" y="133.0" font-size="22.5" text-anchor="end">300</text>
<text x="1167.3" y="499.3" font-size="22.5" text-anchor="middle">320</text>
<text x="752" y="71.7" font-size="22.5" text-anchor="end">320</text>
<path d="M799.1,468.8v-5M799.1,62.8v5M761.7,431.4h5M1168.2,431.4h-5M860.5,468.8v-5M860.5,62.8v5M761.7,370.1h5M1168.2,370.1h-5M921.8,468.8v-5M921.8,62.8v5M761.7,308.9h5M1168.2,308.9h-5M983.2,468.8v-5M983.2,62.8v5M761.7,247.6h5M1168.2,247.6h-5M1044.6,468.8v-5M1044.6,62.8v5M761.7,186.3h5M1168.2,186.3h-5M1105.9,468.8v-5M1105.9,62.8v5M761.7,125.0h5M1168.2,125.0h-5M1167.3,468.8v-5M1167.3,62.8v5M761.7,63.7h5M1168.2,63.7h-5" stroke="#262626" stroke-width="1.6" fill="none"/>
<text x="967.5" y="534.4" font-size="25.9" text-anchor="middle">Residue number</text>
<text transform="translate(703.6,265.8) rotate(-90)" font-size="25.9" text-anchor="middle">Residue number</text>
<rect x="1199.20" y="62.80" width="27.00" height="6.74" fill="#db1515"/><rect x="1199.20" y="69.14" width="27.00" height="6.74" fill="#dc1c1c"/><rect x="1199.20" y="75.49" width="27.00" height="6.74" fill="#dd2424"/><rect x="1199.20" y="81.83" width="27.00" height="6.74" fill="#de2b2b"/><rect x="1199.20" y="88.17" width="27.00" height="6.74" fill="#df3232"/><rect x="1199.20" y="94.52" width="27.00" height="6.74" fill="#e03a3a"/><rect x="1199.20" y="100.86" width="27.00" height="6.74" fill="#e24141"/><rect x="1199.20" y="107.21" width="27.00" height="6.74" fill="#e34949"/><rect x="1199.20" y="113.55" width="27.00" height="6.74" fill="#e45050"/><rect x="1199.20" y="119.89" width="27.00" height="6.74" fill="#e55858"/><rect x="1199.20" y="126.24" width="27.00" height="6.74" fill="#e65f5f"/><rect x="1199.20" y="132.58" width="27.00" height="6.74" fill="#e76767"/><rect x="1199.20" y="138.93" width="27.00" height="6.74" fill="#e86e6e"/><rect x="1199.20" y="145.27" width="27.00" height="6.74" fill="#ea7575"/><rect x="1199.20" y="151.61" width="27.00" height="6.74" fill="#eb7d7d"/><rect x="1199.20" y="157.96" width="27.00" height="6.74" fill="#ec8484"/><rect x="1199.20" y="164.30" width="27.00" height="6.74" fill="#ed8c8c"/><rect x="1199.20" y="170.64" width="27.00" height="6.74" fill="#ee9393"/><rect x="1199.20" y="176.99" width="27.00" height="6.74" fill="#ef9b9b"/><rect x="1199.20" y="183.33" width="27.00" height="6.74" fill="#f1a2a2"/><rect x="1199.20" y="189.68" width="27.00" height="6.74" fill="#f2a9a9"/><rect x="1199.20" y="196.02" width="27.00" height="6.74" fill="#f3b1b1"/><rect x="1199.20" y="202.36" width="27.00" height="6.74" fill="#f4b8b8"/><rect x="1199.20" y="208.71" width="27.00" height="6.74" fill="#f5c0c0"/><rect x="1199.20" y="215.05" width="27.00" height="6.74" fill="#f6c7c7"/><rect x="1199.20" y="221.39" width="27.00" height="6.74" fill="#f7cfcf"/><rect x="1199.20" y="227.74" width="27.00" height="6.74" fill="#f9d6d6"/><rect x="1199.20" y="234.08" width="27.00" height="6.74" fill="#fadede"/><rect x="1199.20" y="240.43" width="27.00" height="6.74" fill="#fbe5e5"/><rect x="1199.20" y="246.77" width="27.00" height="6.74" fill="#fcecec"/><rect x="1199.20" y="253.11" width="27.00" height="6.74" fill="#fdf4f4"/><rect x="1199.20" y="259.46" width="27.00" height="6.74" fill="#fefbfb"/><rect x="1199.20" y="265.80" width="27.00" height="6.74" fill="#fbfbff"/><rect x="1199.20" y="272.14" width="27.00" height="6.74" fill="#f3f3ff"/><rect x="1199.20" y="278.49" width="27.00" height="6.74" fill="#ebebff"/><rect x="1199.20" y="284.83" width="27.00" height="6.74" fill="#e3e3ff"/><rect x="1199.20" y="291.18" width="27.00" height="6.74" fill="#dbdbff"/><rect x="1199.20" y="297.52" width="27.00" height="6.74" fill="#d3d3ff"/><rect x="1199.20" y="303.86" width="27.00" height="6.74" fill="#cbcbff"/><rect x="1199.20" y="310.21" width="27.00" height="6.74" fill="#c3c3ff"/><rect x="1199.20" y="316.55" width="27.00" height="6.74" fill="#bbbbff"/><rect x="1199.20" y="322.89" width="27.00" height="6.74" fill="#b3b3ff"/><rect x="1199.20" y="329.24" width="27.00" height="6.74" fill="#ababff"/><rect x="1199.20" y="335.58" width="27.00" height="6.74" fill="#a3a3ff"/><rect x="1199.20" y="341.93" width="27.00" height="6.74" fill="#9b9bff"/><rect x="1199.20" y="348.27" width="27.00" height="6.74" fill="#9393ff"/><rect x="1199.20" y="354.61" width="27.00" height="6.74" fill="#8b8bff"/><rect x="1199.20" y="360.96" width="27.00" height="6.74" fill="#8383ff"/><rect x="1199.20" y="367.30" width="27.00" height="6.74" fill="#7c7cff"/><rect x="1199.20" y="373.64" width="27.00" height="6.74" fill="#7474ff"/><rect x="1199.20" y="379.99" width="27.00" height="6.74" fill="#6c6cff"/><rect x="1199.20" y="386.33" width="27.00" height="6.74" fill="#6464ff"/><rect x="1199.20" y="392.68" width="27.00" height="6.74" fill="#5c5cff"/><rect x="1199.20" y="399.02" width="27.00" height="6.74" fill="#5454ff"/><rect x="1199.20" y="405.36" width="27.00" height="6.74" fill="#4c4cff"/><rect x="1199.20" y="411.71" width="27.00" height="6.74" fill="#4444ff"/><rect x="1199.20" y="418.05" width="27.00" height="6.74" fill="#3c3cff"/><rect x="1199.20" y="424.39" width="27.00" height="6.74" fill="#3434ff"/><rect x="1199.20" y="430.74" width="27.00" height="6.74" fill="#2c2cff"/><rect x="1199.20" y="437.08" width="27.00" height="6.74" fill="#2424ff"/><rect x="1199.20" y="443.43" width="27.00" height="6.74" fill="#1c1cff"/><rect x="1199.20" y="449.77" width="27.00" height="6.74" fill="#1414ff"/><rect x="1199.20" y="456.11" width="27.00" height="6.74" fill="#0c0cff"/><rect x="1199.20" y="462.46" width="27.00" height="6.74" fill="#0404ff"/>
<rect x="1199.2" y="62.8" width="27.0" height="406" fill="none" stroke="#262626" stroke-width="1.6"/>
<text x="1233.5" y="476.8" font-size="22.5">-8</text>
<text x="1233.5" y="426.1" font-size="22.5">-6</text>
<text x="1233.5" y="375.3" font-size="22.5">-4</text>
<text x="1233.5" y="324.6" font-size="22.5">-2</text>
<text x="1233.5" y="273.8" font-size="22.5">0</text>
<text x="1233.5" y="223.1" font-size="22.5">2</text>
<text x="1233.5" y="172.3" font-size="22.5">4</text>
<text x="1233.5" y="121.5" font-size="22.5">6</text>
<text x="1233.5" y="70.8" font-size="22.5">8</text>
<path d="M1226.2,418.1h-4M1226.2,367.3h-4M1226.2,316.6h-4M1226.2,265.8h-4M1226.2,215.1h-4M1226.2,164.3h-4M1226.2,113.5h-4" stroke="#262626" stroke-width="1.6" fill="none"/>
<g transform="translate(1290,263.5) rotate(-90)"><text x="0" y="0" font-size="27" text-anchor="middle">Δ<tspan font-style="italic">L</tspan><tspan dy="7" font-size="22">segment</tspan><tspan dy="-7"> [Å]</tspan></text></g>
<text x="47.4" y="578.3" font-size="37" font-weight="bold" fill="#222">Initial ensemble (Tikhonov <tspan font-weight="normal" font-family="Liberation Serif" font-size="42">α</tspan> = 5)</text>
<polygon points="83.0,991.2 85.0,979.7 87.0,968.2 89.0,958.2 91.0,950.1 93.0,943.0 95.0,935.9 97.0,929.0 99.0,922.4 101.0,915.8 103.0,909.4 105.0,903.1 107.0,897.1 109.0,891.3 111.0,886.0 113.0,881.1 115.0,876.6 117.0,872.5 119.0,868.7 121.0,865.3 123.0,862.2 125.0,859.3 127.0,856.7 129.0,854.2 131.0,852.0 133.0,849.9 135.0,848.1 137.0,846.4 139.0,844.9 141.0,843.4 143.0,841.9 145.0,840.4 147.0,838.7 149.0,836.9 151.0,834.9 153.0,832.8 155.0,830.5 157.0,828.0 159.0,825.3 161.0,822.5 163.0,819.6 165.0,816.5 167.0,813.3 169.0,810.0 171.0,806.7 173.0,803.4 175.0,800.2 177.0,797.0 179.0,794.1 181.0,791.2 183.0,788.7 185.0,786.3 187.0,784.1 189.0,782.1 191.0,780.3 193.0,778.7 195.0,777.1 197.0,775.7 199.0,774.3 201.0,773.0 203.0,771.7 205.0,770.4 207.0,769.0 209.0,767.5 211.0,765.9 213.0,764.1 215.0,762.3 217.0,760.3 219.0,758.4 221.0,756.5 223.0,754.7 225.0,753.1 227.0,751.6 229.0,750.3 231.0,749.2 233.0,748.1 235.0,747.2 237.0,746.3 239.0,745.4 241.0,744.6 243.0,743.8 245.0,743.0 247.0,742.3 249.0,741.6 251.0,740.8 253.0,740.1 255.0,739.4 257.0,738.8 259.0,738.1 261.0,737.5 263.0,736.9 265.0,736.3 267.0,735.8 269.0,735.2 271.0,734.6 273.0,734.0 275.0,733.4 277.0,732.7 279.0,732.0 281.0,731.4 283.0,730.7 285.0,730.0 287.0,729.3 289.0,728.6 291.0,727.8 293.0,727.1 295.0,726.4 297.0,725.7 299.0,725.0 301.0,724.2 303.0,723.5 305.0,722.8 307.0,722.0 309.0,721.3 311.0,720.5 313.0,719.7 315.0,719.0 317.0,718.3 319.0,717.6 321.0,717.0 323.0,716.4 325.0,715.8 327.0,715.3 329.0,714.9 331.0,714.5 333.0,714.1 335.0,713.7 337.0,713.3 339.0,712.8 341.0,712.2 343.0,711.4 345.0,710.4 346.9,709.2 348.9,707.8 350.9,706.3 352.9,704.8 354.9,703.3 356.9,701.9 358.9,700.7 360.9,699.6 362.9,698.7 364.9,697.8 366.9,697.1 368.9,696.4 370.9,695.7 372.9,695.1 374.9,694.5 376.9,693.9 378.9,693.4 380.9,692.8 382.9,692.3 384.9,691.8 386.9,691.3 388.9,690.7 390.9,690.2 392.9,689.6 394.9,689.0 396.9,688.4 398.9,687.7 400.9,687.0 402.9,686.3 404.9,685.5 406.9,684.8 408.9,684.1 410.9,683.4 412.9,682.7 414.9,682.0 416.9,681.4 418.9,680.8 420.9,680.3 422.9,679.7 424.9,679.2 426.9,678.7 428.9,678.2 430.9,677.8 432.9,677.3 434.9,676.9 436.9,676.6 438.9,676.2 440.9,675.9 442.9,675.7 444.9,675.5 446.9,675.4 448.9,675.4 450.9,675.4 452.9,675.4 454.9,675.6 456.9,675.8 458.9,676.1 460.9,676.6 462.9,677.3 464.9,678.1 466.9,679.2 468.9,680.4 470.9,681.5 472.9,682.5 474.9,683.2 476.9,683.7 478.9,684.0 480.9,684.1 482.9,684.1 484.9,684.1 486.9,684.0 488.9,683.9 490.9,683.8 492.9,683.6 494.9,683.5 496.9,683.3 498.9,683.2 500.9,683.2 502.9,683.3 504.9,683.7 506.9,684.3 508.9,685.4 510.9,686.9 512.9,688.7 514.9,690.9 516.9,693.2 518.9,695.7 520.9,698.4 522.9,701.1 524.9,703.7 526.9,706.2 528.9,708.3 530.9,710.0 532.9,711.3 534.9,712.2 536.9,712.9 538.9,713.4 540.9,713.8 542.9,714.1 544.9,714.4 546.9,714.8 548.9,715.2 550.9,715.7 552.9,716.3 554.9,717.0 556.9,717.9 558.9,719.1 560.9,720.5 562.9,722.1 564.9,724.0 566.9,726.1 568.9,728.2 570.9,730.4 572.9,732.6 574.9,734.7 576.9,736.7 578.9,738.6 580.9,740.4 582.9,742.0 584.9,743.4 586.9,744.8 588.9,746.2 590.9,747.6 592.9,749.0 594.9,750.4 596.9,752.0 598.9,753.5 600.9,755.3 602.9,757.4 604.9,760.0 606.9,763.4 606.9,766.0 604.9,767.6 602.9,769.2 600.9,770.8 598.9,772.1 596.9,773.3 594.9,774.2 592.9,775.0 590.9,775.3 588.9,775.2 586.9,774.7 584.9,773.8 582.9,772.5 580.9,771.0 578.9,769.3 576.9,767.5 574.9,765.6 572.9,763.6 570.9,761.7 568.9,759.7 566.9,757.8 564.9,756.0 562.9,754.2 560.9,752.3 558.9,750.6 556.9,748.8 554.9,746.9 552.9,745.1 550.9,743.2 548.9,741.3 546.9,739.5 544.9,737.7 542.9,736.2 540.9,735.0 538.9,734.2 536.9,733.8 534.9,733.8 532.9,734.0 530.9,734.4 528.9,735.0 526.9,735.6 524.9,736.3 522.9,736.9 520.9,737.5 518.9,738.0 516.9,738.5 514.9,738.9 512.9,739.2 510.9,739.5 508.9,739.7 506.9,740.0 504.9,740.2 502.9,740.5 500.9,740.7 498.9,741.0 496.9,741.3 494.9,741.6 492.9,741.9 490.9,742.2 488.9,742.5 486.9,742.8 484.9,743.2 482.9,743.5 480.9,743.8 478.9,744.2 476.9,744.5 474.9,744.8 472.9,745.1 470.9,745.4 468.9,745.8 466.9,746.1 464.9,746.5 462.9,747.0 460.9,747.6 458.9,748.2 456.9,749.0 454.9,749.8 452.9,750.8 450.9,751.9 448.9,753.0 446.9,754.2 444.9,755.5 442.9,756.8 440.9,758.1 438.9,759.4 436.9,760.8 434.9,762.3 432.9,763.7 430.9,765.2 428.9,766.7 426.9,768.0 424.9,769.3 422.9,770.4 420.9,771.3 418.9,772.0 416.9,772.5 414.9,772.7 412.9,772.8 410.9,772.7 408.9,772.4 406.9,772.1 404.9,771.6 402.9,771.1 400.9,770.4 398.9,769.7 396.9,769.0 394.9,768.2 392.9,767.4 390.9,766.7 388.9,766.0 386.9,765.3 384.9,764.7 382.9,764.2 380.9,763.7 378.9,763.3 376.9,762.9 374.9,762.6 372.9,762.3 370.9,762.0 368.9,761.8 366.9,761.6 364.9,761.4 362.9,761.2 360.9,761.1 358.9,761.0 356.9,761.0 354.9,761.0 352.9,761.0 350.9,761.0 348.9,761.1 346.9,761.3 345.0,761.5 343.0,761.7 341.0,761.9 339.0,762.2 337.0,762.6 335.0,763.0 333.0,763.4 331.0,763.9 329.0,764.5 327.0,765.1 325.0,765.9 323.0,766.7 321.0,767.6 319.0,768.5 317.0,769.6 315.0,770.7 313.0,771.9 311.0,773.1 309.0,774.5 307.0,775.9 305.0,777.3 303.0,778.9 301.0,780.5 299.0,782.1 297.0,783.9 295.0,785.7 293.0,787.5 291.0,789.4 289.0,791.2 287.0,793.0 285.0,794.7 283.0,796.4 281.0,798.0 279.0,799.5 277.0,801.0 275.0,802.4 273.0,803.8 271.0,805.1 269.0,806.5 267.0,807.9 265.0,809.3 263.0,810.7 261.0,812.2 259.0,813.6 257.0,814.8 255.0,815.9 253.0,816.7 251.0,817.2 249.0,817.5 247.0,817.6 245.0,817.6 243.0,817.8 241.0,818.2 239.0,818.7 237.0,819.5 235.0,820.4 233.0,821.4 231.0,822.5 229.0,823.7 227.0,824.8 225.0,825.9 223.0,827.0 221.0,828.1 219.0,829.1 217.0,830.1 215.0,831.1 213.0,832.1 211.0,833.1 209.0,834.1 207.0,835.1 205.0,836.1 203.0,837.2 201.0,838.3 199.0,839.4 197.0,840.5 195.0,841.6 193.0,842.8 191.0,844.0 189.0,845.2 187.0,846.4 185.0,847.7 183.0,848.9 181.0,850.2 179.0,851.5 177.0,852.8 175.0,854.2 173.0,855.5 171.0,856.9 169.0,858.3 167.0,859.8 165.0,861.2 163.0,862.7 161.0,864.2 159.0,865.7 157.0,867.3 155.0,868.9 153.0,870.6 151.0,872.4 149.0,874.3 147.0,876.2 145.0,878.3 143.0,880.5 141.0,882.8 139.0,885.1 137.0,887.3 135.0,889.5 133.0,891.5 131.0,893.4 129.0,895.1 127.0,896.9 125.0,898.6 123.0,900.5 121.0,902.5 119.0,904.6 117.0,907.0 115.0,909.5 113.0,912.3 111.0,915.1 109.0,918.1 107.0,921.1 105.0,924.3 103.0,927.7 101.0,931.4 99.0,935.4 97.0,939.8 95.0,944.7 93.0,950.2 91.0,956.0 89.0,962.7 87.0,971.3 85.0,981.7 83.0,991.9" fill="#000" stroke="#000" stroke-width="2.5" stroke-linejoin="round"/>
<polygon points="530.9,710.0 532.9,711.3 534.9,712.2 536.9,712.9 538.9,713.4 540.9,713.8 542.9,714.1 544.9,714.4 546.9,714.8 548.9,715.2 550.9,715.7 552.9,716.3 554.9,717.0 556.9,717.9 558.9,719.1 560.9,720.5 562.9,722.1 564.9,724.0 566.9,726.1 568.9,728.2 570.9,730.4 572.9,732.6 574.9,734.7 576.9,736.7 578.9,738.6 580.9,740.4 582.9,742.0 584.9,743.4 586.9,744.8 588.9,746.2 590.9,747.6 592.9,749.0 594.9,750.4 596.9,752.0 598.9,753.5 600.9,755.3 602.9,757.4 604.9,760.0 606.9,763.4 606.9,762.6 604.9,762.3 602.9,762.0 600.9,761.7 598.9,761.3 596.9,760.9 594.9,760.4 592.9,759.7 590.9,759.1 588.9,758.5 586.9,757.8 584.9,757.1 582.9,756.2 580.9,755.2 578.9,754.1 576.9,752.9 574.9,751.6 572.9,750.2 570.9,748.7 568.9,747.2 566.9,745.6 564.9,744.0 562.9,742.3 560.9,740.6 558.9,738.9 556.9,737.3 554.9,735.6 552.9,733.9 550.9,732.3 548.9,730.7 546.9,729.2 544.9,727.7 542.9,726.3 540.9,724.9 538.9,723.7 536.9,722.5 534.9,721.4 532.9,720.3 530.9,719.4" fill="url(#sparse)"/>
<g clip-path="url(#bandclip1)"><rect x="79.0" y="608.8" width="532.7" height="406.8" fill="url(#vlines)"/></g>
<clipPath id="bandclip1"><polygon points="83.0,991.2 85.0,979.7 87.0,968.2 89.0,958.2 91.0,950.1 93.0,943.0 95.0,935.9 97.0,929.0 99.0,922.4 101.0,915.8 103.0,909.4 105.0,903.1 107.0,897.1 109.0,891.3 111.0,886.0 113.0,881.1 115.0,876.6 117.0,872.5 119.0,868.7 121.0,865.3 123.0,862.2 125.0,859.3 127.0,856.7 129.0,854.2 131.0,852.0 133.0,849.9 135.0,848.1 137.0,846.4 139.0,844.9 141.0,843.4 143.0,841.9 145.0,840.4 147.0,838.7 149.0,836.9 151.0,834.9 153.0,832.8 155.0,830.5 157.0,828.0 159.0,825.3 161.0,822.5 163.0,819.6 165.0,816.5 167.0,813.3 169.0,810.0 171.0,806.7 173.0,803.4 175.0,800.2 177.0,797.0 179.0,794.1 181.0,791.2 183.0,788.7 185.0,786.3 187.0,784.1 189.0,782.1 191.0,780.3 193.0,778.7 195.0,777.1 197.0,775.7 199.0,774.3 201.0,773.0 203.0,771.7 205.0,770.4 207.0,769.0 209.0,767.5 211.0,765.9 213.0,764.1 215.0,762.3 217.0,760.3 219.0,758.4 221.0,756.5 223.0,754.7 225.0,753.1 227.0,751.6 229.0,750.3 231.0,749.2 233.0,748.1 235.0,747.2 237.0,746.3 239.0,745.4 241.0,744.6 243.0,743.8 245.0,743.0 247.0,742.3 249.0,741.6 251.0,740.8 253.0,740.1 255.0,739.4 257.0,738.8 259.0,738.1 261.0,737.5 263.0,736.9 265.0,736.3 267.0,735.8 269.0,735.2 271.0,734.6 273.0,734.0 275.0,733.4 277.0,732.7 279.0,732.0 281.0,731.4 283.0,730.7 285.0,730.0 287.0,729.3 289.0,728.6 291.0,727.8 293.0,727.1 295.0,726.4 297.0,725.7 299.0,725.0 301.0,724.2 303.0,723.5 305.0,722.8 307.0,722.0 309.0,721.3 311.0,720.5 313.0,719.7 315.0,719.0 317.0,718.3 319.0,717.6 321.0,717.0 323.0,716.4 325.0,715.8 327.0,715.3 329.0,714.9 331.0,714.5 333.0,714.1 335.0,713.7 337.0,713.3 339.0,712.8 341.0,712.2 343.0,711.4 345.0,710.4 346.9,709.2 348.9,707.8 350.9,706.3 352.9,704.8 354.9,703.3 356.9,701.9 358.9,700.7 360.9,699.6 362.9,698.7 364.9,697.8 366.9,697.1 368.9,696.4 370.9,695.7 372.9,695.1 374.9,694.5 376.9,693.9 378.9,693.4 380.9,692.8 382.9,692.3 384.9,691.8 386.9,691.3 388.9,690.7 390.9,690.2 392.9,689.6 394.9,689.0 396.9,688.4 398.9,687.7 400.9,687.0 402.9,686.3 404.9,685.5 406.9,684.8 408.9,684.1 410.9,683.4 412.9,682.7 414.9,682.0 416.9,681.4 418.9,680.8 420.9,680.3 422.9,679.7 424.9,679.2 426.9,678.7 428.9,678.2 430.9,677.8 432.9,677.3 434.9,676.9 436.9,676.6 438.9,676.2 440.9,675.9 442.9,675.7 444.9,675.5 446.9,675.4 448.9,675.4 450.9,675.4 452.9,675.4 454.9,675.6 456.9,675.8 458.9,676.1 460.9,676.6 462.9,677.3 464.9,678.1 466.9,679.2 468.9,680.4 470.9,681.5 472.9,682.5 474.9,683.2 476.9,683.7 478.9,684.0 480.9,684.1 482.9,684.1 484.9,684.1 486.9,684.0 488.9,683.9 490.9,683.8 492.9,683.6 494.9,683.5 496.9,683.3 498.9,683.2 500.9,683.2 502.9,683.3 504.9,683.7 506.9,684.3 508.9,685.4 510.9,686.9 512.9,688.7 514.9,690.9 516.9,693.2 518.9,695.7 520.9,698.4 522.9,701.1 524.9,703.7 526.9,706.2 528.9,708.3 530.9,710.0 532.9,711.3 534.9,712.2 536.9,712.9 538.9,713.4 540.9,713.8 542.9,714.1 544.9,714.4 546.9,714.8 548.9,715.2 550.9,715.7 552.9,716.3 554.9,717.0 556.9,717.9 558.9,719.1 560.9,720.5 562.9,722.1 564.9,724.0 566.9,726.1 568.9,728.2 570.9,730.4 572.9,732.6 574.9,734.7 576.9,736.7 578.9,738.6 580.9,740.4 582.9,742.0 584.9,743.4 586.9,744.8 588.9,746.2 590.9,747.6 592.9,749.0 594.9,750.4 596.9,752.0 598.9,753.5 600.9,755.3 602.9,757.4 604.9,760.0 606.9,763.4 606.9,766.0 604.9,767.6 602.9,769.2 600.9,770.8 598.9,772.1 596.9,773.3 594.9,774.2 592.9,775.0 590.9,775.3 588.9,775.2 586.9,774.7 584.9,773.8 582.9,772.5 580.9,771.0 578.9,769.3 576.9,767.5 574.9,765.6 572.9,763.6 570.9,761.7 568.9,759.7 566.9,757.8 564.9,756.0 562.9,754.2 560.9,752.3 558.9,750.6 556.9,748.8 554.9,746.9 552.9,745.1 550.9,743.2 548.9,741.3 546.9,739.5 544.9,737.7 542.9,736.2 540.9,735.0 538.9,734.2 536.9,733.8 534.9,733.8 532.9,734.0 530.9,734.4 528.9,735.0 526.9,735.6 524.9,736.3 522.9,736.9 520.9,737.5 518.9,738.0 516.9,738.5 514.9,738.9 512.9,739.2 510.9,739.5 508.9,739.7 506.9,740.0 504.9,740.2 502.9,740.5 500.9,740.7 498.9,741.0 496.9,741.3 494.9,741.6 492.9,741.9 490.9,742.2 488.9,742.5 486.9,742.8 484.9,743.2 482.9,743.5 480.9,743.8 478.9,744.2 476.9,744.5 474.9,744.8 472.9,745.1 470.9,745.4 468.9,745.8 466.9,746.1 464.9,746.5 462.9,747.0 460.9,747.6 458.9,748.2 456.9,749.0 454.9,749.8 452.9,750.8 450.9,751.9 448.9,753.0 446.9,754.2 444.9,755.5 442.9,756.8 440.9,758.1 438.9,759.4 436.9,760.8 434.9,762.3 432.9,763.7 430.9,765.2 428.9,766.7 426.9,768.0 424.9,769.3 422.9,770.4 420.9,771.3 418.9,772.0 416.9,772.5 414.9,772.7 412.9,772.8 410.9,772.7 408.9,772.4 406.9,772.1 404.9,771.6 402.9,771.1 400.9,770.4 398.9,769.7 396.9,769.0 394.9,768.2 392.9,767.4 390.9,766.7 388.9,766.0 386.9,765.3 384.9,764.7 382.9,764.2 380.9,763.7 378.9,763.3 376.9,762.9 374.9,762.6 372.9,762.3 370.9,762.0 368.9,761.8 366.9,761.6 364.9,761.4 362.9,761.2 360.9,761.1 358.9,761.0 356.9,761.0 354.9,761.0 352.9,761.0 350.9,761.0 348.9,761.1 346.9,761.3 345.0,761.5 343.0,761.7 341.0,761.9 339.0,762.2 337.0,762.6 335.0,763.0 333.0,763.4 331.0,763.9 329.0,764.5 327.0,765.1 325.0,765.9 323.0,766.7 321.0,767.6 319.0,768.5 317.0,769.6 315.0,770.7 313.0,771.9 311.0,773.1 309.0,774.5 307.0,775.9 305.0,777.3 303.0,778.9 301.0,780.5 299.0,782.1 297.0,783.9 295.0,785.7 293.0,787.5 291.0,789.4 289.0,791.2 287.0,793.0 285.0,794.7 283.0,796.4 281.0,798.0 279.0,799.5 277.0,801.0 275.0,802.4 273.0,803.8 271.0,805.1 269.0,806.5 267.0,807.9 265.0,809.3 263.0,810.7 261.0,812.2 259.0,813.6 257.0,814.8 255.0,815.9 253.0,816.7 251.0,817.2 249.0,817.5 247.0,817.6 245.0,817.6 243.0,817.8 241.0,818.2 239.0,818.7 237.0,819.5 235.0,820.4 233.0,821.4 231.0,822.5 229.0,823.7 227.0,824.8 225.0,825.9 223.0,827.0 221.0,828.1 219.0,829.1 217.0,830.1 215.0,831.1 213.0,832.1 211.0,833.1 209.0,834.1 207.0,835.1 205.0,836.1 203.0,837.2 201.0,838.3 199.0,839.4 197.0,840.5 195.0,841.6 193.0,842.8 191.0,844.0 189.0,845.2 187.0,846.4 185.0,847.7 183.0,848.9 181.0,850.2 179.0,851.5 177.0,852.8 175.0,854.2 173.0,855.5 171.0,856.9 169.0,858.3 167.0,859.8 165.0,861.2 163.0,862.7 161.0,864.2 159.0,865.7 157.0,867.3 155.0,868.9 153.0,870.6 151.0,872.4 149.0,874.3 147.0,876.2 145.0,878.3 143.0,880.5 141.0,882.8 139.0,885.1 137.0,887.3 135.0,889.5 133.0,891.5 131.0,893.4 129.0,895.1 127.0,896.9 125.0,898.6 123.0,900.5 121.0,902.5 119.0,904.6 117.0,907.0 115.0,909.5 113.0,912.3 111.0,915.1 109.0,918.1 107.0,921.1 105.0,924.3 103.0,927.7 101.0,931.4 99.0,935.4 97.0,939.8 95.0,944.7 93.0,950.2 91.0,956.0 89.0,962.7 87.0,971.3 85.0,981.7 83.0,991.9"/></clipPath>
<path d="M83.0,989.8 L85.0,981.7 L87.0,973.2 L89.0,965.0 L91.0,957.1 L93.0,949.8 L95.0,943.2 L97.0,937.0 L99.0,931.3 L101.0,925.9 L103.0,921.0 L105.0,916.7 L107.0,912.9 L109.0,909.1 L111.0,905.3 L113.0,901.6 L115.0,897.9 L117.0,894.3 L119.0,890.9 L121.0,887.6 L123.0,884.4 L125.0,881.4 L127.0,878.5 L129.0,875.7 L131.0,873.0 L133.0,870.5 L135.0,868.1 L137.0,865.7 L139.0,863.5 L141.0,861.3 L143.0,859.2 L145.0,857.2 L147.0,855.1 L149.0,853.2 L151.0,851.2 L153.0,849.3 L155.0,847.4 L157.0,845.5 L159.0,843.6 L161.0,841.7 L163.0,839.8 L165.0,838.0 L167.0,836.1 L169.0,834.2 L171.0,832.3 L173.0,830.4 L175.0,828.5 L177.0,826.6 L179.0,824.7 L181.0,822.8 L183.0,820.9 L185.0,819.0 L187.0,817.1 L189.0,815.2 L191.0,813.3 L193.0,811.5 L195.0,809.7 L197.0,807.9 L199.0,806.2 L201.0,804.5 L203.0,802.8 L205.0,801.2 L207.0,799.6 L209.0,798.1 L211.0,796.6 L213.0,795.2 L215.0,793.8 L217.0,792.5 L219.0,791.2 L221.0,789.9 L223.0,788.7 L225.0,787.5 L227.0,786.4 L229.0,785.2 L231.0,784.1 L233.0,783.0 L235.0,781.9 L237.0,780.9 L239.0,779.8 L241.0,778.8 L243.0,777.7 L245.0,776.6 L247.0,775.6 L249.0,774.5 L251.0,773.4 L253.0,772.3 L255.0,771.2 L257.0,770.1 L259.0,768.9 L261.0,767.8 L263.0,766.6 L265.0,765.4 L267.0,764.2 L269.0,763.0 L271.0,761.8 L273.0,760.6 L275.0,759.4 L277.0,758.3 L279.0,757.1 L281.0,756.0 L283.0,754.8 L285.0,753.7 L287.0,752.7 L289.0,751.6 L291.0,750.6 L293.0,749.6 L295.0,748.6 L297.0,747.7 L299.0,746.8 L301.0,745.9 L303.0,745.1 L305.0,744.2 L307.0,743.4 L309.0,742.7 L311.0,741.9 L313.0,741.2 L315.0,740.5 L317.0,739.8 L319.0,739.2 L321.0,738.6 L323.0,738.0 L325.0,737.4 L327.0,736.9 L329.0,736.4 L331.0,735.9 L333.0,735.4 L335.0,735.0 L337.0,734.5 L339.0,734.1 L341.0,733.7 L343.0,733.3 L345.0,732.9 L346.9,732.5 L348.9,732.1 L350.9,731.8 L352.9,731.4 L354.9,731.0 L356.9,730.6 L358.9,730.3 L360.9,729.9 L362.9,729.6 L364.9,729.2 L366.9,728.8 L368.9,728.5 L370.9,728.1 L372.9,727.7 L374.9,727.4 L376.9,727.0 L378.9,726.7 L380.9,726.3 L382.9,726.0 L384.9,725.6 L386.9,725.2 L388.9,724.9 L390.9,724.6 L392.9,724.2 L394.9,723.9 L396.9,723.5 L398.9,723.2 L400.9,722.8 L402.9,722.5 L404.9,722.1 L406.9,721.8 L408.9,721.5 L410.9,721.1 L412.9,720.8 L414.9,720.4 L416.9,720.1 L418.9,719.7 L420.9,719.4 L422.9,719.0 L424.9,718.7 L426.9,718.3 L428.9,718.0 L430.9,717.6 L432.9,717.3 L434.9,717.0 L436.9,716.6 L438.9,716.3 L440.9,716.0 L442.9,715.6 L444.9,715.3 L446.9,715.0 L448.9,714.7 L450.9,714.5 L452.9,714.2 L454.9,714.0 L456.9,713.8 L458.9,713.6 L460.9,713.4 L462.9,713.2 L464.9,713.1 L466.9,713.0 L468.9,712.9 L470.9,712.8 L472.9,712.8 L474.9,712.7 L476.9,712.7 L478.9,712.7 L480.9,712.8 L482.9,712.8 L484.9,712.9 L486.9,713.0 L488.9,713.1 L490.9,713.3 L492.9,713.5 L494.9,713.7 L496.9,713.9 L498.9,714.1 L500.9,714.4 L502.9,714.7 L504.9,715.0 L506.9,715.4 L508.9,715.8 L510.9,716.2 L512.9,716.7 L514.9,717.2 L516.9,717.7 L518.9,718.3 L520.9,718.9 L522.9,719.6 L524.9,720.4 L526.9,721.1 L528.9,722.0 L530.9,722.9 L532.9,723.9 L534.9,724.9 L536.9,726.0 L538.9,727.2 L540.9,728.5 L542.9,729.8 L544.9,731.1 L546.9,732.5 L548.9,734.0 L550.9,735.4 L552.9,737.0 L554.9,738.5 L556.9,740.1 L558.9,741.6 L560.9,743.2 L562.9,744.8 L564.9,746.3 L566.9,747.8 L568.9,749.3 L570.9,750.7 L572.9,752.0 L574.9,753.3 L576.9,754.5 L578.9,755.6 L580.9,756.6 L582.9,757.6 L584.9,758.4 L586.9,759.4 L588.9,760.6 L590.9,761.6 L592.9,762.5 L594.9,763.1 L596.9,763.6 L598.9,764.0 L600.9,764.4 L602.9,764.7 L604.9,765.0 L606.9,765.3" fill="none" stroke="#5cb824" stroke-width="3.5" stroke-linejoin="round"/>
<path d="M83.0,974.9 L85.0,966.5 L87.0,959.4 L89.0,953.2 L91.0,947.6 L93.0,942.6 L95.0,938.0 L97.0,933.8 L99.0,929.8 L101.0,926.1 L103.0,922.6 L105.0,919.2 L107.0,916.0 L109.0,913.0 L111.0,910.1 L113.0,907.3 L115.0,904.5 L117.0,901.9 L119.0,899.3 L121.0,896.9 L123.0,894.5 L125.0,892.1 L127.0,889.9 L129.0,887.6 L131.0,885.5 L133.0,883.4 L135.0,881.4 L137.0,879.4 L139.0,877.5 L141.0,875.6 L143.0,873.7 L145.0,871.9 L147.0,870.2 L149.0,868.5 L151.0,866.8 L153.0,865.2 L155.0,863.5 L157.0,862.0 L159.0,860.4 L161.0,858.9 L163.0,857.4 L165.0,856.0 L167.0,854.5 L169.0,853.1 L171.0,851.7 L173.0,850.3 L175.0,848.9 L177.0,847.6 L179.0,846.3 L181.0,844.9 L183.0,843.6 L185.0,842.4 L187.0,841.1 L189.0,839.8 L191.0,838.6 L193.0,837.3 L195.0,836.1 L197.0,834.8 L199.0,833.6 L201.0,832.4 L203.0,831.2 L205.0,830.0 L207.0,828.8 L209.0,827.7 L211.0,826.5 L213.0,825.3 L215.0,824.2 L217.0,823.0 L219.0,821.9 L221.0,820.7 L223.0,819.6 L225.0,818.5 L227.0,817.4 L229.0,816.3 L231.0,815.2 L233.0,814.1 L235.0,813.0 L237.0,811.9 L239.0,810.8 L241.0,809.8 L243.0,808.7 L245.0,807.6 L247.0,806.6 L249.0,805.5 L251.0,804.5 L253.0,803.4 L255.0,802.4 L257.0,801.4 L259.0,800.3 L261.0,799.3 L263.0,798.3 L265.0,797.2 L267.0,796.2 L269.0,795.1 L271.0,794.1 L273.0,793.1 L275.0,792.0 L277.0,791.0 L279.0,789.9 L281.0,788.9 L283.0,787.8 L285.0,786.8 L287.0,785.7 L289.0,784.7 L291.0,783.6 L293.0,782.6 L295.0,781.5 L297.0,780.5 L299.0,779.4 L301.0,778.4 L303.0,777.4 L305.0,776.3 L307.0,775.3 L309.0,774.3 L311.0,773.3 L313.0,772.2 L315.0,771.2 L317.0,770.2 L319.0,769.2 L321.0,768.3 L323.0,767.3 L325.0,766.3 L327.0,765.3 L329.0,764.4 L331.0,763.4 L333.0,762.4 L335.0,761.5 L337.0,760.5 L339.0,759.6 L341.0,758.6 L343.0,757.7 L345.0,756.7 L346.9,755.8 L348.9,754.8 L350.9,753.8 L352.9,752.9 L354.9,751.9 L356.9,750.9 L358.9,750.0 L360.9,749.0 L362.9,748.1 L364.9,747.1 L366.9,746.1 L368.9,745.2 L370.9,744.2 L372.9,743.3 L374.9,742.3 L376.9,741.4 L378.9,740.4 L380.9,739.5 L382.9,738.6 L384.9,737.7 L386.9,736.8 L388.9,735.9 L390.9,735.0 L392.9,734.1 L394.9,733.2 L396.9,732.4 L398.9,731.5 L400.9,730.7 L402.9,729.9 L404.9,729.0 L406.9,728.2 L408.9,727.4 L410.9,726.6 L412.9,725.8 L414.9,725.0 L416.9,724.3 L418.9,723.5 L420.9,722.7 L422.9,722.0 L424.9,721.2 L426.9,720.5 L428.9,719.8 L430.9,719.1 L432.9,718.4 L434.9,717.6 L436.9,716.9 L438.9,716.2 L440.9,715.6 L442.9,714.9 L444.9,714.2 L446.9,713.5 L448.9,712.8 L450.9,712.1 L452.9,711.5 L454.9,710.8 L456.9,710.1 L458.9,709.5 L460.9,708.8 L462.9,708.1 L464.9,707.5 L466.9,706.8 L468.9,706.1 L470.9,705.5 L472.9,704.8 L474.9,704.1 L476.9,703.5 L478.9,702.8 L480.9,702.1 L482.9,701.4 L484.9,700.8 L486.9,700.1 L488.9,699.4 L490.9,698.7 L492.9,698.1 L494.9,697.4 L496.9,696.7 L498.9,696.0 L500.9,695.3 L502.9,694.6 L504.9,694.0 L506.9,693.3 L508.9,692.6 L510.9,691.9 L512.9,691.2 L514.9,690.5 L516.9,689.8 L518.9,689.1 L520.9,688.5 L522.9,687.8 L524.9,687.1 L526.9,686.4 L528.9,685.7 L530.9,685.1 L532.9,684.4 L534.9,683.7 L536.9,683.0 L538.9,682.4 L540.9,681.7 L542.9,681.1 L544.9,680.4 L546.9,679.7 L548.9,679.1 L550.9,678.5 L552.9,677.8 L554.9,677.2 L556.9,676.6 L558.9,675.9 L560.9,675.3 L562.9,674.7 L564.9,674.1 L566.9,673.5 L568.9,672.9 L570.9,672.3 L572.9,671.7 L574.9,671.1 L576.9,670.5 L578.9,669.9 L580.9,669.3 L582.9,668.7 L584.9,668.1 L586.9,667.5 L588.9,667.0 L590.9,666.4 L592.9,665.8 L594.9,665.3 L596.9,664.7 L598.9,664.2 L600.9,663.6 L602.9,663.0 L604.9,662.5 L606.9,661.9" fill="none" stroke="#a80000" stroke-width="3.5" stroke-linejoin="round"/>
<rect x="79.0" y="608.8" width="532.7" height="406.8" fill="none" stroke="#262626" stroke-width="1.6"/>
<text x="79.0" y="1046.1" font-size="22.5" text-anchor="middle">0</text>
<text x="159.0" y="1046.1" font-size="22.5" text-anchor="middle">20</text>
<text x="239.0" y="1046.1" font-size="22.5" text-anchor="middle">40</text>
<text x="319.0" y="1046.1" font-size="22.5" text-anchor="middle">60</text>
<text x="398.9" y="1046.1" font-size="22.5" text-anchor="middle">80</text>
<text x="478.9" y="1046.1" font-size="22.5" text-anchor="middle">100</text>
<text x="558.9" y="1046.1" font-size="22.5" text-anchor="middle">120</text>
<text x="69.5" y="1023.6" font-size="22.5" text-anchor="end">0</text>
<text x="69.5" y="955.8" font-size="22.5" text-anchor="end">10</text>
<text x="69.5" y="888.0" font-size="22.5" text-anchor="end">20</text>
<text x="69.5" y="820.2" font-size="22.5" text-anchor="end">30</text>
<text x="69.5" y="752.4" font-size="22.5" text-anchor="end">40</text>
<text x="69.5" y="684.6" font-size="22.5" text-anchor="end">50</text>
<text x="69.5" y="616.8" font-size="22.5" text-anchor="end">60</text>
<path d="M79.0,1015.6v-5M79.0,608.8v5M159.0,1015.6v-5M159.0,608.8v5M239.0,1015.6v-5M239.0,608.8v5M319.0,1015.6v-5M319.0,608.8v5M398.9,1015.6v-5M398.9,608.8v5M478.9,1015.6v-5M478.9,608.8v5M558.9,1015.6v-5M558.9,608.8v5M79.0,1015.6h5M611.7,1015.6h-5M79.0,947.8h5M611.7,947.8h-5M79.0,880.0h5M611.7,880.0h-5M79.0,812.2h5M611.7,812.2h-5M79.0,744.4h5M611.7,744.4h-5M79.0,676.6h5M611.7,676.6h-5M79.0,608.8h5M611.7,608.8h-5" stroke="#262626" stroke-width="1.6" fill="none"/>
<text x="345.4" y="1079.6" font-size="25.9" text-anchor="middle">Segment sequence length <tspan font-style="italic">k</tspan></text>
<g transform="translate(0,552.95)">
<text transform="translate(34,286.5) rotate(-90)" font-size="26">R</text>
<text transform="translate(22,269) rotate(-90)" font-size="19">2</text>
<text transform="translate(33.7,233.5) rotate(-90)" font-size="24.5">[Å]</text>
<path d="M15.3,295 L26.8,301.2 L38.3,295 M15.3,254.8 L26.8,247.6 L38.3,254.8 M3.3,242.3 L3.3,303.1 L37.3,308.3 L19.1,316.6 L21.5,321.3" fill="none" stroke="#000" stroke-width="1.7"/>
</g>
<rect x="300.6" y="913.7" width="297.9" height="89.8" fill="#fff" stroke="#555" stroke-width="1.5"/>
<circle cx="330.5" cy="929.1" r="2.6" fill="#000"/>
<text x="358.8" y="936.7" font-size="20.8">RMS end-to-end distance</text>
<path d="M305.6,955.5H355" stroke="#5cb824" stroke-width="3.5"/>
<text x="358.8" y="962.5" font-size="20.8">mean value</text>
<path d="M305.6,984.9H355" stroke="#a80000" stroke-width="3.5"/>
<text x="358.8" y="995.4" font-size="20.8">random coil 5.427 <tspan font-style="italic">k</tspan><tspan dy="-10" font-size="15">0.484</tspan></text>
<g transform="translate(761.7,611.6)">
<defs><filter id="hf1" x="-2%" y="-2%" width="104%" height="104%"><feGaussianBlur stdDeviation="2.20"/></filter><clipPath id="hcl1"><rect x="0" y="0" width="406.5" height="406.0"/></clipPath></defs><g clip-path="url(#hcl1)"><g filter="url(#hf1)"><path transform="scale(.5)" d="M497 812 508 812 509 806 503 798 496 800 493 806 495 812 497 812ZM6 319 12 316 14 309 6 303 0 305 0 318 6 319Z" fill="#0000ff" fill-rule="evenodd"/><path transform="scale(.5)" d="M479 812 495 812 493 806 496 800 503 798 509 806 508 812 522 812 521 800 512 787 497 785 485 792 478 800 479 812ZM773 574 779 577 786 573 789 561 785 549 779 552 774 561 773 574ZM6 336 18 330 25 321 27 309 22 297 6 291 0 291 0 305 6 303 14 309 12 316 6 319 0 318 0 335 6 336ZM239 40 252 39 261 34 263 28 252 24 239 27 236 34 239 40Z" fill="#1919ff" fill-rule="evenodd"/><path transform="scale(.5)" d="M209 812 270 812 270 806 264 793 239 787 221 792 209 800 206 806 206 812 209 812ZM466 812 477 812 479 799 485 792 497 785 509 786 515 790 521 800 522 812 530 812 530 800 524 787 517 781 509 778 497 777 466 794 462 806 463 812 466 812ZM6 607 12 603 18 594 25 573 19 548 6 542 0 543 0 607 6 607ZM767 580 773 584 785 582 792 577 799 561 802 548 800 542 792 530 785 527 779 530 767 558 765 573 767 580ZM773 573 774 561 779 552 785 549 789 561 786 573 779 577 773 573ZM6 351 18 346 25 338 33 322 35 309 32 297 25 289 6 282 0 282 0 291 12 291 18 294 25 301 27 309 25 321 18 330 12 334 0 335 0 350 6 351ZM767 331 785 327 792 322 795 316 790 297 779 287 767 289 757 303 759 322 767 331ZM491 54 503 57 517 52 527 40 522 28 503 18 491 21 481 40 482 46 491 54ZM233 46 245 48 255 46 283 34 286 28 282 21 270 13 264 11 252 14 236 21 230 28 228 40 233 46ZM238 40 236 34 239 27 252 24 263 28 261 34 252 39 238 40Z" fill="#3333ff" fill-rule="evenodd"/><path transform="scale(.5)" d="M196 812 206 812 209 800 218 794 239 787 264 794 269 800 270 812 332 812 332 806 326 794 313 786 233 777 221 780 197 794 191 806 191 812 196 812ZM454 812 463 812 463 800 466 794 497 777 509 778 524 787 530 800 530 812 538 812 538 800 533 787 522 777 509 772 497 771 454 787 451 794 449 806 450 812 454 812ZM6 621 17 616 25 606 34 585 35 573 24 493 12 482 0 481 0 543 12 543 18 548 24 567 24 579 18 594 12 604 0 607 0 621 6 621ZM767 587 779 589 790 585 810 559 810 535 785 510 779 509 773 520 761 561 760 579 767 587ZM767 579 765 567 767 558 779 530 785 527 792 530 800 542 802 548 799 561 792 577 785 582 773 584 767 579ZM485 550 497 552 504 548 506 536 500 524 485 515 454 512 449 518 449 524 454 536 485 550ZM6 363 18 362 25 359 41 309 38 297 30 285 18 276 6 274 0 274 0 282 12 282 25 289 32 297 35 309 31 326 18 346 12 350 0 350 0 363 6 363ZM276 359 288 364 295 363 301 359 301 346 298 328 291 316 282 308 270 307 263 309 260 322 276 359ZM767 357 773 356 787 346 810 343 810 306 792 279 767 254 764 273 755 292 750 309 755 331 767 357ZM763 328 757 316 757 303 767 289 779 287 790 297 795 316 792 322 779 329 767 331 763 328ZM485 59 509 62 540 49 559 46 533 21 507 3 469 3 466 26 456 40 456 46 485 59ZM487 52 482 46 481 40 491 21 497 18 509 20 522 27 526 34 524 46 515 53 503 57 487 52ZM233 53 252 52 293 40 304 34 302 28 277 3 253 3 233 16 225 28 225 46 233 53ZM233 46 228 40 230 28 236 21 252 14 264 11 270 13 282 21 286 28 283 34 255 46 239 48 233 46Z" fill="#4c4cff" fill-rule="evenodd"/><path transform="scale(.5)" d="M184 812 191 812 193 800 197 794 221 780 233 777 313 786 326 794 330 800 332 812 342 812 342 806 339 794 331 784 302 769 282 765 258 768 239 766 221 770 189 787 181 800 181 812 184 812ZM442 812 450 812 449 800 454 787 497 771 509 772 528 782 537 794 538 812 547 812 547 800 542 787 528 775 509 766 497 766 454 776 445 781 441 794 442 812ZM595 812 653 812 655 794 652 781 638 778 607 778 595 781 590 794 592 812 595 812ZM6 632 18 629 25 623 42 591 45 579 44 555 47 530 43 510 31 484 18 473 0 470 0 481 12 482 25 495 35 573 32 591 18 615 12 620 0 621 0 632 6 632ZM767 593 792 590 798 585 810 570 810 559 792 584 779 589 767 587 760 579 761 560 773 520 779 509 785 510 810 535 810 523 794 506 788 493 792 457 785 444 779 444 773 457 766 524 755 567 757 585 767 593ZM485 561 503 561 510 555 515 536 511 524 503 514 491 506 454 498 448 498 442 505 438 518 439 530 444 542 454 553 485 561ZM481 548 454 536 449 524 449 518 454 512 485 515 497 521 503 528 506 542 503 549 497 552 481 548ZM767 379 773 383 779 382 792 365 810 357 810 343 787 346 773 356 767 357 761 347 750 309 755 292 764 273 767 254 792 279 810 306 810 282 792 258 778 236 767 229 761 232 754 242 753 279 746 309 755 359 760 371 767 379ZM6 372 25 371 33 365 47 309 43 296 31 276 18 267 6 265 0 266 0 274 12 274 25 279 37 294 41 309 25 359 12 363 0 363 0 372 6 372ZM276 371 295 374 307 371 314 365 315 359 303 316 288 302 270 298 256 303 252 309 250 322 259 359 264 365 276 371ZM276 359 260 322 263 309 270 307 282 308 291 316 298 328 301 346 301 359 295 363 288 364 276 359ZM6 222 25 222 31 218 34 211 34 169 31 161 25 158 0 160 0 220 6 222ZM491 65 509 66 540 59 571 59 581 52 583 44 577 35 554 21 531 3 507 3 533 21 559 46 540 49 509 62 497 62 482 58 456 46 456 40 466 26 469 3 456 3 452 15 431 34 430 40 440 52 448 56 491 65ZM227 55 245 58 288 47 350 42 368 34 369 28 356 21 319 25 307 19 289 3 277 3 302 28 304 34 293 40 252 52 233 53 225 46 223 34 228 21 253 3 242 3 227 15 221 26 220 46 227 55Z" fill="#6666ff" fill-rule="evenodd"/><path transform="scale(.5)" d="M172 812 181 812 181 800 189 787 221 770 233 767 258 768 282 765 302 769 328 781 339 794 342 812 351 812 351 806 347 787 336 775 282 755 233 756 196 772 178 776 171 775 161 763 153 761 135 762 121 769 119 775 123 777 166 778 169 787 172 812ZM436 812 441 812 442 787 448 779 497 766 515 768 537 781 545 794 547 812 558 812 558 800 552 787 538 775 509 762 497 761 472 768 448 771 440 775 434 787 434 812 436 812ZM577 812 592 812 590 794 595 781 607 778 638 778 652 781 655 794 653 812 661 812 660 781 657 775 644 771 595 772 587 775 577 787 575 800 577 812ZM761 777 767 781 773 780 778 775 779 769 773 763 767 764 760 769 761 777ZM37 693 43 691 51 671 50 653 37 642 36 634 40 616 56 579 57 530 43 488 36 475 18 463 0 461 0 470 18 473 31 484 47 524 45 579 42 591 25 623 12 631 0 632 0 641 25 643 34 647 34 683 37 693ZM761 596 792 595 800 591 810 581 810 570 798 585 792 590 773 593 761 590 756 579 756 561 766 524 771 463 779 444 785 444 792 457 788 487 790 499 810 523 810 513 802 506 796 493 799 444 782 414 792 383 798 375 810 367 810 357 792 365 779 382 773 383 767 379 760 371 755 359 747 316 747 303 754 273 753 248 755 239 761 232 769 230 778 236 792 258 810 282 810 256 785 219 773 211 761 215 749 236 748 279 743 309 753 371 777 414 761 487 761 524 751 567 752 585 755 591 761 596ZM454 568 466 571 497 570 509 565 515 559 522 542 521 530 515 518 497 497 454 486 448 486 439 493 432 512 431 530 442 556 454 568ZM482 561 454 553 444 542 439 530 438 518 442 505 448 498 454 498 491 506 503 514 511 524 515 536 510 555 497 562 482 561ZM6 379 25 379 38 371 52 309 43 286 31 266 18 256 6 254 0 255 0 266 18 267 31 276 43 296 47 309 33 365 25 371 0 372 0 379 6 379ZM270 377 288 382 307 379 323 371 327 359 315 316 294 297 276 291 264 293 252 299 244 309 241 328 244 359 256 371 270 377ZM274 371 259 359 250 316 258 302 276 298 291 303 303 316 315 359 313 366 301 373 288 374 274 371ZM6 237 18 237 31 232 40 218 41 169 37 156 31 152 0 152 0 160 25 158 31 161 34 169 34 205 31 218 18 223 0 220 0 236 6 237ZM466 65 503 70 534 65 575 64 597 52 602 40 594 28 557 3 531 3 554 21 577 35 583 44 581 52 571 59 534 60 509 66 454 58 442 53 433 46 430 40 431 34 448 21 456 3 446 3 438 15 430 21 399 31 368 14 319 17 307 11 299 3 289 3 313 23 325 25 356 21 369 28 368 34 350 42 288 47 245 58 227 55 221 50 219 40 222 21 227 15 242 3 232 3 224 9 216 28 216 52 221 58 233 61 252 61 288 52 325 52 399 36 442 60 466 65ZM37 53 43 53 48 46 49 40 43 34 37 35 32 40 31 46 37 53Z" fill="#7f7fff" fill-rule="evenodd"/><path transform="scale(.5)" d="M160 812 171 812 169 787 166 778 123 777 119 775 121 769 135 762 153 761 161 763 171 775 178 776 196 772 233 756 282 755 324 769 337 777 350 794 351 812 360 812 364 781 362 775 344 764 319 759 270 742 252 739 196 753 178 741 172 740 120 757 103 769 101 787 104 798 110 803 129 793 147 793 156 800 160 812ZM430 812 434 812 434 787 440 775 448 771 472 768 497 761 515 764 546 781 557 794 558 812 577 812 575 800 577 787 587 775 595 772 644 771 657 775 662 787 661 812 666 812 667 787 663 775 650 767 595 767 564 780 509 757 497 756 472 763 448 766 436 771 431 775 426 787 427 812 430 812ZM761 788 773 790 779 788 784 781 786 769 779 756 767 757 752 769 753 781 761 788ZM760 775 760 769 767 764 773 763 779 769 778 775 773 780 767 781 760 775ZM18 709 37 711 49 703 61 677 72 640 71 634 59 616 72 567 71 548 54 499 49 469 37 450 31 449 0 452 0 461 25 465 37 477 56 524 58 548 54 585 40 616 36 634 37 642 49 652 51 659 50 677 43 691 37 693 35 689 34 647 25 643 0 641 0 654 12 656 19 665 19 683 9 702 18 709ZM779 700 789 689 794 671 793 659 785 653 779 656 774 671 773 690 779 700ZM755 600 761 602 810 601 810 581 798 593 773 597 761 596 755 591 752 585 752 561 761 524 761 487 777 414 755 375 750 359 743 309 748 279 748 242 755 223 761 215 773 211 785 219 810 256 810 226 783 193 774 162 761 151 749 148 742 156 751 205 744 242 744 273 739 309 748 371 763 401 765 414 761 457 755 493 756 524 748 567 749 588 755 600ZM466 586 503 575 515 568 522 561 528 542 527 524 502 487 491 454 479 456 463 469 439 481 431 493 424 518 426 536 442 571 454 582 466 586ZM452 567 442 556 431 530 432 512 439 493 448 486 454 486 497 497 515 518 521 530 522 542 515 559 506 567 491 571 466 571 452 567ZM325 550 344 550 350 542 336 524 319 516 313 522 312 530 316 542 325 550ZM810 513 810 503 803 487 809 438 796 414 795 401 801 383 810 376 810 367 798 375 792 383 782 414 799 444 796 493 802 506 810 513ZM282 500 295 497 295 487 287 475 270 462 263 469 262 487 270 496 282 500ZM288 389 307 386 328 377 334 371 344 350 357 334 359 322 325 311 288 286 270 284 252 291 244 297 237 309 226 346 231 359 241 371 270 384 288 389ZM269 377 256 371 244 359 241 346 242 322 244 309 252 299 264 293 276 291 294 297 315 316 327 359 323 371 307 379 288 382 269 377ZM6 386 31 385 43 374 57 316 55 303 32 248 45 218 45 162 37 150 25 146 0 147 0 152 25 151 37 156 41 169 40 218 37 225 25 235 12 238 0 236 0 255 18 256 31 266 48 297 51 316 38 371 25 379 0 379 0 386 6 386ZM485 71 503 73 540 69 571 69 607 62 650 72 659 70 665 64 661 52 650 39 620 30 587 3 557 3 594 28 602 40 597 52 590 58 571 65 534 65 503 70 454 63 438 58 399 36 325 52 288 52 252 61 233 61 221 58 215 46 220 15 232 3 212 3 210 52 212 58 225 64 252 65 288 57 319 58 356 52 399 48 411 50 442 65 485 71ZM31 60 43 61 49 56 57 40 55 33 43 27 36 28 24 34 22 46 31 60ZM35 52 31 46 32 40 37 35 43 34 49 40 48 46 43 53 35 52ZM123 40 147 38 156 34 159 28 155 21 147 19 129 21 116 28 112 34 123 40ZM393 28 399 31 423 24 438 15 446 3 437 3 430 12 411 18 399 17 374 4 325 10 310 3 299 3 307 11 319 17 362 13 374 16 393 28Z" fill="#9999ff" fill-rule="evenodd"/><path transform="scale(.5)" d="M92 812 159 812 156 800 147 793 129 793 110 803 103 794 101 775 104 768 117 759 172 740 178 741 196 753 239 741 258 740 313 758 344 764 362 775 364 781 360 812 371 812 373 800 388 781 389 775 384 769 368 761 350 746 344 745 325 751 307 749 252 723 228 708 196 712 172 708 161 714 150 732 143 738 104 756 96 763 89 781 89 812 92 812ZM423 812 427 812 428 781 436 771 448 766 472 763 497 756 509 757 564 780 595 767 638 766 656 769 666 781 666 812 670 812 671 787 668 775 663 769 650 763 595 763 558 770 497 750 472 758 442 763 428 769 422 775 418 787 419 812 423 812ZM767 802 773 805 779 802 790 781 790 763 785 754 779 748 773 748 761 755 745 769 744 775 749 785 767 802ZM760 787 753 781 752 769 767 757 779 756 786 769 784 781 779 788 773 790 760 787ZM6 723 37 722 49 716 56 708 74 669 80 662 98 652 104 640 100 616 104 584 89 561 63 506 61 487 67 469 66 463 51 444 43 428 37 424 31 424 12 440 0 442 0 452 31 449 37 450 49 469 54 499 73 555 71 573 59 616 71 634 72 640 53 696 44 708 37 711 18 709 9 702 19 683 19 665 12 656 0 654 0 723 6 723ZM485 714 497 718 510 708 511 696 503 685 484 702 481 708 485 714ZM773 711 779 713 785 708 798 683 803 659 801 647 798 644 779 645 772 653 767 696 773 711ZM775 696 773 683 775 665 779 656 785 653 793 659 794 677 785 696 779 700 775 696ZM190 656 196 657 202 647 196 633 190 633 183 640 182 647 190 656ZM810 637 810 601 761 602 753 598 748 585 748 561 756 524 755 493 765 420 763 401 748 371 739 309 744 273 744 242 751 205 741 162 745 150 749 148 758 150 774 162 783 193 810 226 810 201 799 187 790 162 755 139 742 136 736 139 732 150 742 205 741 273 736 309 745 371 757 401 758 414 757 457 750 493 751 524 745 561 744 585 749 602 755 608 785 604 798 607 804 616 810 637ZM166 631 172 630 179 622 179 616 166 610 155 616 156 622 166 631ZM466 599 479 597 495 585 522 573 530 561 537 536 535 524 512 493 506 475 503 444 497 437 485 440 466 448 436 471 428 481 416 518 416 530 436 575 448 588 466 599ZM464 585 448 578 439 567 426 536 424 518 431 493 439 481 463 469 479 456 491 454 502 487 527 524 528 542 522 561 515 568 472 585 464 585ZM319 555 337 558 356 555 368 548 369 542 339 512 325 503 319 505 313 510 301 524 308 542 319 555ZM322 548 316 542 312 530 313 522 319 516 336 524 350 542 344 550 331 551 322 548ZM276 507 288 511 303 499 308 493 309 487 301 474 270 443 264 444 258 455 254 481 257 493 262 499 276 507ZM280 499 270 496 262 487 263 469 270 462 287 475 295 487 295 497 288 500 280 499ZM810 503 810 420 804 410 802 401 804 394 810 385 810 376 801 383 795 401 796 414 809 438 803 487 810 503ZM282 397 295 396 337 381 364 346 375 322 374 314 368 309 337 307 319 301 282 276 252 283 239 291 227 317 215 334 214 346 224 365 233 374 282 397ZM288 389 270 384 241 371 231 359 226 346 237 309 244 297 252 291 270 284 288 286 325 311 359 322 357 334 344 350 334 371 328 377 307 386 288 389ZM6 394 31 393 43 384 50 371 54 340 62 316 42 254 50 218 49 162 43 150 37 145 25 142 0 142 0 147 31 147 43 157 46 175 45 218 32 248 55 303 57 316 43 374 31 385 0 386 0 393 6 394ZM98 328 104 331 110 328 127 309 117 302 104 303 95 316 98 328ZM503 77 540 72 607 71 663 81 674 77 677 70 674 58 650 23 626 14 612 3 587 3 620 30 650 39 663 55 665 64 663 68 650 72 607 62 571 69 540 69 503 73 442 65 411 50 393 48 319 58 288 57 252 65 227 65 215 60 210 52 212 3 176 3 196 9 205 15 208 28 204 58 210 64 221 68 245 69 288 62 319 63 356 56 399 55 411 56 442 68 503 77ZM31 67 43 67 55 55 64 40 64 34 58 28 37 22 25 25 10 34 7 40 10 46 31 67ZM29 58 22 46 24 34 36 28 43 27 56 34 55 46 47 58 37 62 29 58ZM117 46 162 40 167 34 168 15 160 10 141 11 104 28 99 34 101 40 117 46ZM122 40 112 34 116 28 129 21 147 19 155 21 159 28 156 34 147 38 122 40ZM399 17 411 18 423 15 437 3 427 3 419 9 411 11 402 9 393 3 310 3 325 10 374 4 399 17Z" fill="#b2b2ff" fill-rule="evenodd"/><path transform="scale(.5)" d="M80 812 89 812 89 781 96 763 104 756 143 738 150 732 161 714 172 708 196 712 228 708 252 723 313 751 325 751 344 745 350 746 368 761 384 769 389 775 388 781 373 800 371 812 385 812 391 800 399 796 405 798 408 812 419 812 419 781 428 769 442 763 472 758 497 750 558 770 601 762 638 762 657 765 663 769 670 781 670 812 675 812 675 787 669 769 657 762 607 759 552 764 534 760 497 742 472 754 442 758 411 773 405 773 374 757 350 737 337 737 325 742 313 743 264 717 245 703 190 693 155 702 148 708 133 732 94 751 86 757 80 775 80 812ZM761 812 792 812 795 769 789 751 779 737 749 759 740 769 740 781 752 800 755 812 761 812ZM765 800 749 785 744 775 745 769 761 755 773 748 779 748 785 754 790 763 790 781 779 802 773 805 765 800ZM6 733 43 731 55 726 61 718 80 679 104 664 110 657 119 622 109 567 95 548 70 499 70 487 75 475 75 463 55 438 39 408 39 401 54 371 58 340 70 316 52 279 48 260 53 205 50 156 43 144 25 138 0 138 0 142 31 143 43 150 47 156 50 175 50 211 42 254 62 316 54 340 50 371 43 384 31 393 0 393 0 404 14 408 16 414 12 422 0 428 0 442 12 440 31 424 37 424 43 428 51 444 66 463 67 469 61 487 62 499 89 561 104 584 100 616 104 640 98 652 80 662 74 669 56 708 49 716 31 723 0 723 0 733 6 733ZM491 727 497 728 503 725 517 708 515 689 509 676 503 670 472 708 479 719 491 727ZM484 714 481 708 484 702 503 685 511 696 510 708 497 718 484 714ZM779 728 792 710 809 671 810 637 804 616 798 607 785 604 755 608 749 602 745 591 744 567 751 524 750 493 757 457 758 414 757 401 745 371 736 309 741 273 742 205 732 150 736 139 742 136 749 136 783 156 794 169 799 187 810 201 810 159 773 144 756 132 742 118 736 116 724 128 721 144 736 211 737 273 733 309 741 371 753 408 752 457 746 493 747 524 741 561 741 585 746 610 755 618 779 608 789 610 796 616 795 628 789 634 771 640 766 653 762 702 767 715 779 728ZM771 708 767 696 772 653 779 645 798 644 801 647 803 659 798 684 785 708 779 713 771 708ZM190 669 196 670 202 664 209 647 205 634 196 626 176 647 177 653 190 669ZM187 653 182 647 183 640 190 633 196 633 202 647 200 653 196 657 187 653ZM160 635 166 637 176 628 186 616 184 612 166 603 148 610 142 616 143 622 160 635ZM162 628 156 622 155 616 160 612 166 610 179 616 179 622 172 630 166 631 162 628ZM466 610 479 613 501 591 532 579 538 573 549 542 548 530 544 524 528 508 517 493 512 475 510 438 503 429 497 427 449 438 422 463 417 496 402 530 417 552 435 585 466 610ZM464 598 448 588 436 575 416 530 416 518 428 481 436 471 466 448 485 440 497 437 503 444 509 487 515 499 535 524 537 530 536 542 530 561 522 573 495 585 479 597 472 599 464 598ZM319 561 344 562 374 556 386 548 390 542 390 536 368 524 344 498 331 493 308 512 295 530 307 553 319 561ZM318 555 308 542 301 524 319 505 325 503 337 511 369 542 368 548 356 555 331 558 318 555ZM577 557 595 558 604 555 605 548 595 545 583 545 575 548 573 555 577 557ZM270 512 282 517 288 515 305 499 320 481 314 469 288 445 276 423 270 422 264 426 256 438 251 457 249 481 254 499 270 512ZM273 506 258 494 254 481 258 455 264 444 270 443 301 474 309 487 308 493 303 499 288 511 273 506ZM810 420 810 385 804 394 802 401 804 410 810 420ZM276 408 282 411 317 395 344 393 351 389 374 364 385 316 380 306 374 303 344 302 325 298 307 287 288 268 276 263 239 275 235 279 221 312 199 334 199 340 226 377 261 395 276 408ZM279 395 233 374 224 365 214 346 215 334 227 317 239 291 252 283 282 276 319 301 337 307 368 309 374 314 375 322 364 346 337 381 295 396 279 395ZM104 341 142 309 136 303 110 295 93 303 84 316 85 322 93 334 104 341ZM98 328 95 316 104 303 117 302 127 309 110 328 104 331 98 328ZM258 240 264 237 267 230 268 218 264 208 258 208 254 218 253 230 258 240ZM650 220 659 218 663 205 658 187 650 183 644 190 642 205 644 215 650 220ZM601 170 622 169 630 162 628 156 615 150 601 150 593 156 592 162 601 170ZM657 90 681 91 693 83 697 77 695 70 681 57 669 40 654 3 612 3 626 14 644 19 657 30 676 64 677 70 674 77 663 81 607 71 540 72 503 77 442 68 411 56 399 55 356 56 319 63 288 62 245 69 221 68 210 64 204 58 208 28 205 15 196 9 176 3 141 4 102 21 84 34 98 46 110 51 160 47 172 41 179 21 190 16 196 17 204 28 203 40 194 58 198 64 215 71 245 72 288 66 319 67 356 61 405 60 442 72 503 80 540 76 601 77 657 90ZM116 46 101 40 99 34 104 28 141 11 160 10 168 15 167 34 162 40 116 46ZM31 73 43 73 49 69 76 34 61 23 43 18 0 21 0 58 12 61 31 73ZM27 64 10 46 7 40 10 34 25 25 37 22 58 28 64 34 64 40 49 63 37 68 27 64ZM405 10 417 10 427 3 393 3 405 10Z" fill="#ccccff" fill-rule="evenodd"/><path transform="scale(.5)" d="M74 812 79 812 80 775 86 757 94 751 133 732 148 708 155 702 190 693 245 703 264 717 313 743 325 742 337 737 350 737 374 757 405 773 411 773 442 758 472 754 497 742 534 760 552 764 607 759 657 762 669 769 673 775 675 787 675 812 679 812 679 787 673 769 657 759 620 755 546 759 528 754 514 745 508 732 523 708 524 702 509 660 497 639 494 640 495 659 491 677 482 689 466 702 464 708 471 720 483 732 484 738 479 745 466 750 442 754 411 764 380 754 350 731 313 731 273 708 258 687 245 692 227 693 215 690 209 685 205 677 215 647 211 634 202 623 196 622 184 631 181 628 190 616 189 610 172 598 160 598 135 607 129 605 123 598 119 579 125 555 104 539 81 499 81 463 58 432 49 408 62 346 67 333 74 328 80 330 92 342 104 349 110 347 123 330 135 321 153 318 172 319 173 316 152 303 110 289 104 289 80 304 67 299 58 285 53 267 57 187 55 162 51 150 43 139 37 136 0 134 0 138 25 138 37 140 47 150 52 162 53 211 48 260 52 279 70 316 58 340 54 371 39 401 39 408 55 438 75 463 75 475 70 487 70 499 95 548 109 567 119 622 110 657 104 664 80 679 61 718 55 726 37 732 0 733 0 742 31 744 49 751 55 747 76 726 86 708 92 709 98 705 125 677 123 653 129 635 135 632 141 633 160 643 178 631 181 634 169 653 180 671 181 677 177 683 160 689 135 687 108 714 103 720 104 726 86 736 65 757 61 763 68 781 70 812 74 812ZM490 726 479 719 472 708 503 670 509 676 515 689 517 708 503 725 497 728 490 726ZM187 665 177 653 176 647 196 626 208 640 208 653 202 664 196 670 187 665ZM158 634 143 622 142 616 148 610 166 603 184 612 186 616 172 632 166 637 158 634ZM102 340 92 333 84 316 98 300 104 296 117 296 136 303 142 309 123 324 110 338 102 340ZM387 812 408 812 405 798 399 796 393 798 386 806 387 812ZM749 812 755 812 755 806 740 781 740 769 749 759 779 737 789 751 795 769 792 812 802 812 800 769 790 732 795 714 810 684 810 668 792 710 779 728 767 715 762 702 766 653 771 640 792 633 797 622 796 616 785 609 773 610 755 618 749 614 742 598 741 567 747 524 746 493 752 457 753 408 741 371 733 309 737 273 736 211 721 138 725 126 736 116 742 118 761 136 779 147 810 159 810 148 779 141 761 129 751 113 742 82 703 120 696 132 718 167 729 205 734 260 730 309 738 371 748 408 747 457 742 493 737 585 742 614 759 640 761 671 757 702 768 732 761 745 735 769 735 781 744 800 747 812 749 812ZM773 628 770 622 773 618 779 615 786 616 787 622 785 625 779 629 773 628ZM491 639 495 616 503 602 515 597 547 591 577 572 631 555 630 548 601 537 567 530 528 501 518 481 516 438 509 424 497 420 466 424 442 412 436 414 423 438 405 450 401 457 401 463 410 487 407 499 399 510 387 515 374 512 365 499 356 474 350 472 307 509 304 506 340 463 339 457 313 448 301 438 297 426 299 420 309 408 319 403 331 404 350 412 356 412 362 407 374 389 399 377 400 371 389 346 393 316 388 303 380 298 331 295 319 290 307 280 283 248 270 197 264 183 258 182 240 236 220 267 216 297 210 309 196 318 173 322 217 377 227 386 254 401 257 408 245 469 246 493 250 506 258 514 276 523 282 523 301 509 304 512 290 530 289 536 299 555 313 565 325 567 350 566 399 555 411 558 431 591 491 639ZM466 610 435 585 417 552 402 530 417 496 422 463 449 438 497 427 503 429 510 438 512 475 517 493 528 508 544 524 548 530 549 542 538 573 532 579 501 591 479 613 466 610ZM318 561 307 553 295 530 308 512 331 493 344 498 368 524 390 536 390 542 386 548 374 556 344 562 318 561ZM573 555 575 548 583 545 595 545 605 548 604 555 595 558 583 559 573 555ZM269 512 254 499 249 481 251 457 256 438 264 426 270 422 276 423 288 445 314 469 320 481 305 499 288 515 282 517 269 512ZM276 408 261 395 226 377 199 340 199 334 221 312 235 279 239 275 276 263 288 268 307 287 325 298 344 302 374 303 380 306 385 316 374 364 351 389 344 393 317 395 282 411 276 408ZM255 236 254 218 258 208 264 208 268 218 267 230 264 237 258 240 255 236ZM252 576 256 573 252 572 252 576ZM239 562 239 556 236 561 239 562ZM638 555 663 558 671 555 673 548 663 546 639 548 635 555 638 555ZM6 427 12 422 16 414 14 408 0 404 0 428 6 427ZM528 305 534 307 542 303 534 294 526 297 525 303 528 305ZM509 287 515 287 519 279 509 271 505 279 509 287ZM650 230 663 227 669 211 669 181 663 161 644 175 631 193 634 218 638 224 650 230ZM646 218 643 211 642 199 644 190 650 183 657 185 661 193 663 211 657 220 646 218ZM607 181 620 182 626 179 648 156 650 148 614 143 589 148 583 156 584 169 595 179 607 181ZM598 169 592 162 593 156 601 150 620 152 628 156 630 162 622 169 614 171 598 169ZM258 178 264 173 266 162 267 150 264 140 258 141 254 150 258 178ZM681 117 693 110 731 70 699 62 684 52 672 34 665 3 654 3 666 34 677 52 695 70 697 77 687 87 675 92 601 77 540 76 503 80 442 72 405 60 356 61 319 67 288 66 252 72 221 71 202 67 194 58 204 34 202 24 196 17 184 17 179 21 173 40 166 46 110 51 98 46 84 34 102 21 144 3 128 3 98 18 80 23 43 13 0 11 0 21 43 18 61 23 76 34 53 64 43 73 31 73 12 61 0 58 0 66 12 69 37 79 49 74 67 51 80 44 110 56 141 52 172 54 198 70 227 76 319 71 356 66 405 65 442 75 503 83 546 79 595 82 638 92 681 117ZM184 40 184 34 187 28 190 26 196 27 198 34 194 40 190 43 184 40Z" fill="#e5e5ff" fill-rule="evenodd"/><path transform="scale(.5)" d="M12 812 30 812 32 800 37 797 44 800 46 812 60 812 56 787 49 780 43 779 31 788 9 812 12 812ZM687 812 689 787 687 775 678 763 663 754 626 749 571 747 540 750 527 745 522 738 521 732 528 721 540 708 539 702 524 677 518 640 521 628 526 622 564 605 584 585 595 578 626 571 663 572 687 563 695 555 698 548 694 536 687 530 675 528 638 531 620 528 607 524 583 510 558 505 540 498 530 487 526 475 528 438 525 426 509 410 480 401 476 395 476 389 480 365 480 346 497 326 503 322 546 330 564 328 571 319 577 297 583 292 600 285 615 260 626 251 632 250 646 254 647 260 642 279 632 290 614 297 611 303 612 309 616 316 626 322 638 324 645 322 669 282 685 193 693 182 706 186 716 205 726 242 727 267 723 303 730 336 732 371 738 401 734 432 736 469 729 542 730 579 736 622 752 659 753 677 746 708 757 732 750 745 728 763 722 775 732 812 739 812 737 800 729 781 730 769 756 745 762 732 751 702 757 677 755 653 739 616 734 585 734 548 742 463 740 432 743 401 735 371 733 340 727 309 730 260 726 218 718 187 712 176 706 169 693 164 687 166 681 174 673 224 665 236 650 239 626 233 620 236 595 268 589 270 581 267 571 254 564 256 543 279 558 297 560 309 556 316 546 320 534 320 509 312 503 316 469 352 465 371 454 383 454 389 458 401 466 411 472 413 503 414 518 426 522 438 520 463 523 481 528 493 540 505 582 524 626 537 669 536 686 542 688 548 686 555 675 563 657 567 626 564 592 573 580 579 552 601 515 612 509 622 518 671 530 702 530 708 515 732 520 745 534 753 546 755 626 752 663 758 675 765 682 775 683 812 687 812ZM4 800 33 769 32 763 25 757 0 752 0 766 12 768 15 775 12 780 0 782 0 803 4 800ZM810 787 810 767 802 732 810 707 810 695 801 714 796 732 810 787ZM405 758 460 747 472 740 473 732 459 714 456 702 461 696 482 683 486 677 488 665 481 647 454 619 428 598 405 567 393 565 319 572 301 568 282 561 279 585 270 601 264 604 258 603 239 588 233 587 221 595 207 610 204 616 220 640 220 653 214 671 214 677 219 683 227 687 241 683 258 657 264 661 282 696 312 708 328 720 356 728 380 749 405 758ZM396 751 380 744 362 725 333 714 319 700 293 689 282 679 267 647 266 634 271 622 301 581 374 572 399 573 407 579 423 602 449 622 481 659 483 671 479 681 466 687 447 689 447 702 463 732 462 738 448 745 417 752 396 751ZM225 677 222 671 223 665 232 647 211 616 212 610 221 600 227 595 233 594 247 610 251 622 247 634 238 647 239 671 233 678 225 677ZM160 677 166 676 168 671 166 663 160 661 151 671 160 677ZM141 661 151 653 149 647 141 644 136 647 135 653 141 661ZM190 604 196 608 202 605 217 591 225 579 225 573 209 555 208 548 211 542 227 534 252 530 244 512 240 493 248 420 246 408 215 384 190 355 160 328 147 324 135 326 125 334 117 351 110 356 98 354 80 340 74 339 67 346 54 401 60 426 67 438 85 457 92 485 104 501 116 530 151 548 155 555 129 571 126 579 127 591 135 598 141 598 160 592 172 592 190 604ZM191 598 166 580 141 590 135 587 134 579 141 573 166 574 184 563 196 563 215 576 218 579 217 585 202 601 196 602 191 598ZM159 542 125 524 116 499 98 479 87 450 67 431 60 408 67 364 74 350 80 349 110 365 123 365 127 340 131 334 141 330 153 331 160 335 190 364 210 389 235 408 241 420 239 450 231 512 184 545 172 546 159 542ZM387 492 393 487 387 481 384 487 387 492ZM325 429 331 426 325 420 320 426 325 429ZM423 359 430 358 442 348 460 344 497 309 501 303 493 279 493 267 497 257 503 253 515 254 534 270 551 254 558 242 546 232 543 224 545 218 576 193 580 187 573 162 575 150 580 144 589 140 632 134 644 128 649 120 648 113 637 101 620 93 583 85 546 83 509 86 472 80 442 78 411 70 380 73 350 71 258 80 221 79 190 72 160 58 135 56 110 62 80 51 67 57 43 83 31 84 12 76 0 74 0 81 37 91 49 85 67 62 80 56 104 67 135 60 153 61 190 77 239 84 276 84 350 77 380 79 411 75 442 81 476 83 509 90 564 87 603 95 626 106 631 113 631 120 620 128 531 144 491 168 489 175 491 187 497 197 503 201 509 202 515 199 523 181 534 171 552 166 558 167 563 181 561 187 552 198 528 213 521 230 515 236 493 242 485 248 482 267 491 309 486 316 466 333 448 333 423 337 417 337 411 333 403 303 387 287 374 284 337 286 325 282 314 273 307 254 303 230 288 206 284 193 282 175 285 138 282 126 276 118 264 115 258 117 250 126 240 150 242 187 234 218 227 229 207 248 190 287 184 292 172 294 135 289 110 273 104 273 91 285 80 291 74 291 67 286 62 273 65 242 64 187 58 150 49 135 37 126 25 124 0 125 0 130 37 131 47 138 54 150 60 187 57 267 59 279 67 292 80 297 104 283 110 282 141 295 190 304 201 297 211 260 233 232 239 220 248 187 245 156 250 138 258 127 264 125 270 127 276 144 275 187 288 231 308 273 319 285 331 290 350 292 374 291 387 294 399 309 399 340 402 346 411 355 423 359ZM792 139 810 140 810 133 785 133 771 126 762 113 760 89 767 74 810 54 810 44 798 45 781 58 761 65 755 77 755 101 760 120 773 133 792 139ZM718 58 742 57 748 52 755 32 768 15 769 3 759 3 739 46 730 52 718 54 699 50 687 42 680 28 680 3 673 3 675 28 685 46 699 55 718 58ZM74 17 92 15 117 3 106 3 80 11 45 3 25 3 74 17Z" fill="#fbe7e7" fill-rule="evenodd"/><path transform="scale(.5)" d="M31 812 46 812 43 799 37 797 32 800 31 812ZM693 812 697 787 695 775 684 763 669 753 638 746 595 745 571 740 540 745 529 738 527 732 534 723 546 718 564 718 577 708 579 702 571 692 546 694 534 687 526 671 524 653 528 634 536 628 571 616 578 610 595 585 620 577 657 579 681 572 693 566 705 555 710 542 710 536 693 520 681 515 638 523 620 519 611 512 606 493 595 485 577 482 566 493 558 495 546 493 540 489 534 480 532 469 537 432 522 410 491 392 487 377 490 359 497 347 503 343 517 340 531 346 526 365 530 377 540 381 546 379 553 371 560 352 577 339 589 317 595 314 617 328 644 337 650 336 674 291 689 248 686 218 689 205 693 199 699 198 706 203 718 230 722 248 719 303 728 340 734 401 727 438 730 463 729 487 719 530 719 542 732 622 748 659 750 671 739 708 750 726 750 738 722 763 713 775 713 781 722 800 724 812 732 812 730 800 723 781 724 769 750 745 757 732 746 708 753 677 752 659 736 622 730 579 729 542 736 469 734 432 738 401 732 371 730 336 723 303 727 267 726 242 712 194 699 182 693 182 685 193 669 282 645 322 638 324 626 322 616 316 612 309 611 303 614 297 632 290 642 279 647 260 646 254 632 250 626 251 615 260 600 285 583 292 577 297 571 319 564 328 546 330 503 322 497 326 480 346 480 365 476 389 476 395 480 401 509 410 525 426 528 438 526 475 530 487 540 498 558 505 583 510 607 524 620 528 638 531 675 528 687 530 694 536 698 548 695 555 687 563 663 572 626 571 595 578 584 585 564 605 526 622 521 628 518 640 524 677 539 702 540 708 528 721 521 732 522 738 527 745 540 750 571 747 626 749 663 754 675 761 684 769 689 781 688 812 693 812ZM622 273 626 269 629 273 626 278 622 273ZM6 782 12 780 15 775 12 768 0 766 0 782 6 782ZM810 767 808 732 810 707 802 732 810 767ZM399 751 417 752 448 745 462 738 463 732 447 702 447 689 466 687 479 681 483 671 479 654 449 622 423 602 407 579 399 573 374 572 301 581 271 622 266 634 267 647 282 679 293 689 313 697 333 714 362 725 380 744 399 751ZM392 745 381 738 368 721 344 712 319 690 295 680 282 663 277 647 278 634 287 622 301 611 310 591 318 585 362 577 394 579 402 585 420 610 448 630 477 665 477 671 472 679 460 679 448 670 442 668 436 672 433 677 436 696 452 726 453 732 448 738 417 747 392 745ZM227 678 233 678 239 671 238 647 247 634 251 622 247 610 233 594 227 595 221 600 212 610 211 616 232 647 222 671 227 678ZM229 622 217 610 221 603 227 603 234 610 236 616 234 622 229 622ZM196 602 202 601 212 591 217 585 218 579 196 563 184 563 166 574 141 573 134 579 135 587 141 590 166 580 196 602ZM197 591 191 585 190 579 196 577 209 585 209 591 202 595 197 591ZM160 542 172 546 184 545 231 512 239 450 241 420 235 408 210 389 190 364 160 335 153 331 141 330 131 334 127 340 123 365 110 365 80 349 74 350 67 364 60 408 67 431 87 450 98 479 116 499 125 524 160 542ZM149 530 133 518 123 493 100 469 91 444 70 426 65 408 71 371 74 364 80 359 123 378 135 379 140 377 144 371 143 365 135 356 132 346 133 340 141 335 155 340 184 367 202 392 227 411 234 420 236 432 231 481 227 495 221 503 202 511 190 526 178 534 166 536 149 530ZM564 471 571 474 586 450 605 438 610 432 608 420 601 412 589 408 577 411 554 432 552 438 552 450 564 471ZM417 337 466 333 486 316 491 309 482 267 485 248 493 242 515 236 521 230 528 213 552 198 561 187 563 181 558 167 552 166 534 171 523 181 515 199 509 202 503 201 497 197 491 187 489 175 491 168 531 144 620 128 631 120 627 107 607 97 571 87 546 86 509 90 476 83 442 81 411 75 380 79 344 77 270 84 233 83 190 77 153 61 135 60 104 67 80 56 67 62 43 89 31 90 12 83 0 81 0 89 12 91 31 100 37 99 49 91 74 63 86 63 104 73 141 63 153 65 190 81 270 94 282 94 325 84 350 83 374 86 411 79 472 85 509 94 564 91 583 95 609 107 615 113 614 120 607 124 595 126 564 123 522 139 476 162 475 169 485 196 499 218 496 224 474 236 460 253 442 259 434 267 432 273 436 283 448 287 466 282 472 296 470 309 466 316 454 322 436 325 420 322 403 291 380 275 344 281 333 279 323 273 319 266 317 254 319 247 330 236 327 218 319 206 301 202 293 193 290 175 298 132 292 120 276 103 270 103 258 108 247 120 240 132 233 156 235 193 227 217 202 234 196 242 184 277 178 284 160 289 141 287 125 279 118 267 120 242 110 234 104 235 94 248 94 267 89 279 80 285 74 284 67 273 72 242 67 218 66 175 59 144 49 128 37 118 25 115 0 118 0 125 31 124 43 129 51 138 58 150 64 187 65 242 62 273 67 286 74 291 80 291 91 285 104 273 110 273 135 289 172 294 184 292 190 287 207 248 227 229 234 218 242 187 240 150 250 126 258 117 264 115 276 118 282 126 285 138 282 175 284 193 288 206 303 230 307 254 314 273 325 282 337 286 374 284 387 287 403 303 411 333 417 337ZM535 187 540 184 544 187 540 190 535 187ZM368 262 380 258 401 236 404 218 393 204 380 203 374 208 362 227 339 242 349 254 368 262ZM785 133 810 133 810 124 792 128 779 126 773 121 765 107 765 89 774 77 810 66 810 54 767 74 761 83 759 95 762 113 771 126 785 133ZM706 52 724 53 736 49 743 40 759 3 747 3 736 40 730 46 718 49 706 48 692 40 687 34 685 21 688 3 680 3 679 21 682 34 692 46 706 52ZM67 10 86 11 106 3 80 5 45 3 67 10Z" fill="#f8cfcf" fill-rule="evenodd"/><path transform="scale(.5)" d="M699 812 724 812 722 800 713 781 713 775 722 763 745 745 752 732 739 708 749 677 749 665 732 622 719 536 729 493 730 469 727 438 734 401 728 340 719 303 722 248 712 215 706 203 699 198 693 199 687 210 689 248 674 291 650 336 644 337 617 328 595 314 589 317 577 339 560 352 553 371 546 379 540 381 530 377 526 365 531 346 517 340 503 343 497 347 490 359 487 377 491 392 522 410 537 432 532 469 534 480 540 489 546 493 558 495 566 493 577 482 595 485 606 493 611 512 620 519 638 523 681 515 693 520 710 536 710 542 705 555 693 566 681 572 657 579 620 577 595 585 578 610 571 616 536 628 528 634 524 653 526 671 534 687 546 694 571 692 579 702 577 708 564 718 546 718 534 723 527 732 529 738 540 745 571 740 595 745 638 746 669 753 684 763 695 775 697 787 695 812 699 812ZM693 763 669 750 644 743 626 740 595 741 583 736 579 732 579 726 595 711 607 710 626 716 644 718 670 714 678 708 672 702 652 696 614 698 601 695 580 677 572 665 572 659 584 634 602 616 601 598 607 589 626 583 663 585 712 564 718 570 729 628 745 665 745 677 732 702 731 708 746 732 739 745 712 764 706 766 693 763ZM538 732 548 732 540 736 538 732ZM539 683 531 671 529 653 534 641 546 637 555 640 561 647 569 659 569 665 561 677 553 683 539 683ZM631 506 627 493 631 481 639 481 650 487 651 499 646 506 638 507 631 506ZM701 506 687 488 665 475 665 463 673 438 672 432 664 426 632 424 626 421 609 401 595 396 564 396 546 413 540 413 530 401 534 396 558 393 575 359 601 338 624 340 644 356 650 359 657 357 668 316 680 297 706 237 712 240 716 254 713 297 725 340 729 401 719 438 724 475 723 493 718 507 712 511 701 506ZM563 469 552 450 552 438 554 432 577 411 589 408 601 412 608 420 610 432 605 438 586 450 571 474 563 469ZM600 469 596 463 601 456 614 455 620 463 620 470 614 472 600 469ZM500 383 498 371 503 362 509 362 515 377 515 386 509 389 500 383ZM393 745 417 747 448 738 453 732 452 726 436 696 433 677 436 672 442 668 448 670 460 679 472 679 477 671 477 665 448 630 420 610 402 585 394 579 362 577 318 585 310 591 301 611 287 622 278 634 277 647 282 663 295 680 319 690 344 712 368 721 381 738 393 745ZM392 738 385 732 383 726 387 702 381 696 366 708 349 708 340 702 319 674 301 669 295 665 288 655 288 640 295 635 306 640 319 658 325 659 335 653 337 647 325 622 321 604 326 591 337 585 368 581 390 585 397 591 417 621 439 634 447 647 443 653 430 662 424 677 428 696 442 726 441 732 417 741 392 738ZM810 749 810 722 808 732 810 749ZM233 622 236 616 234 610 227 603 221 603 217 610 221 616 227 622 233 622ZM202 595 209 591 209 585 202 579 196 577 190 579 191 585 202 595ZM153 532 166 536 178 534 190 526 202 511 224 499 232 475 236 432 234 420 227 411 202 392 184 367 155 340 141 335 133 340 132 346 135 356 143 365 144 371 140 377 135 379 123 378 80 359 74 364 71 371 65 408 70 426 91 444 100 469 123 493 133 518 153 532ZM157 524 147 518 143 512 138 493 110 473 104 464 104 446 117 432 110 426 86 430 80 427 74 420 72 395 80 372 86 370 117 385 135 389 151 383 160 369 166 366 178 374 191 395 221 415 227 422 231 438 230 457 227 474 221 487 215 491 202 491 166 476 160 477 153 487 154 493 172 506 177 518 172 524 157 524ZM423 324 436 325 454 322 466 316 470 309 472 297 469 285 466 282 454 286 442 286 433 279 432 273 436 264 460 253 474 236 496 224 499 218 485 196 475 169 476 162 522 139 564 123 595 126 607 124 614 120 615 113 609 107 583 95 564 91 509 94 472 85 411 79 374 86 350 83 325 84 282 94 270 94 190 81 147 64 135 64 104 73 80 61 67 68 49 91 37 99 31 100 12 91 0 89 0 118 25 115 37 118 49 128 59 144 66 175 67 218 72 242 67 273 74 284 80 285 89 279 94 267 94 248 104 235 110 234 120 242 118 267 125 279 135 285 153 289 166 289 178 284 184 277 196 242 202 234 227 218 233 205 236 187 233 156 243 126 258 108 270 103 276 103 292 120 298 132 290 175 293 193 301 202 319 206 325 213 329 224 330 236 319 248 319 267 325 274 337 280 380 275 403 291 417 319 423 324ZM426 309 424 303 426 297 436 297 451 303 451 309 442 314 436 315 426 309ZM134 279 128 273 129 260 135 252 147 244 153 244 166 251 174 260 175 273 166 282 147 283 134 279ZM405 279 400 273 399 267 416 248 417 218 411 204 391 187 388 181 387 149 380 141 374 140 350 148 337 148 324 126 303 107 301 101 305 95 331 89 374 94 405 85 417 84 472 88 515 100 552 96 572 101 576 107 515 133 497 144 456 156 454 162 456 169 472 189 475 211 454 238 419 254 416 279 411 283 405 279ZM77 273 80 265 81 273 77 273ZM364 260 349 254 339 242 362 227 374 208 380 203 393 204 404 218 401 236 380 258 374 261 364 260ZM141 236 120 218 114 205 117 161 110 141 104 134 98 143 94 169 96 187 103 205 101 218 86 234 80 234 74 226 69 169 63 144 46 113 46 107 61 83 74 68 86 69 104 82 110 81 135 68 147 68 184 84 243 95 248 101 228 150 228 193 221 209 215 212 196 210 178 229 160 239 147 241 141 236ZM343 211 340 199 342 193 350 193 357 199 356 211 350 217 343 211ZM306 181 306 169 313 162 324 162 329 169 331 182 319 186 306 181ZM626 278 629 273 626 269 622 273 626 278ZM540 190 544 187 540 184 535 187 540 190ZM779 126 792 128 810 124 810 109 808 113 798 121 785 122 779 120 770 107 768 95 773 84 785 78 804 80 810 86 810 66 779 74 767 83 764 95 765 107 771 120 779 126ZM706 48 724 48 736 40 747 3 727 3 733 9 735 28 729 40 718 45 706 43 693 34 691 28 692 15 699 5 704 3 688 3 685 21 687 34 693 42 706 48ZM67 4 90 3 63 3 67 4Z" fill="#f4b8b8" fill-rule="evenodd"/><path transform="scale(.5)" d="M693 763 706 766 712 764 739 745 746 732 731 708 732 702 745 677 745 665 729 628 718 570 712 564 663 585 626 583 607 589 601 598 602 616 584 634 572 659 572 665 580 677 601 695 614 698 652 696 672 702 678 708 670 714 644 718 626 716 607 710 595 711 579 726 579 732 583 736 595 741 626 740 644 743 669 750 693 763ZM695 757 648 738 638 732 647 726 687 717 702 708 663 692 607 683 595 674 592 659 596 647 626 622 632 601 638 598 663 593 706 576 712 578 715 585 725 634 738 659 741 671 736 685 716 708 736 725 740 732 738 738 732 745 718 754 706 758 695 757ZM595 732 595 726 601 724 613 726 614 732 595 732ZM393 739 417 741 441 732 442 726 428 696 424 677 430 662 443 653 447 647 439 634 417 621 397 591 390 585 368 581 337 585 326 591 321 604 325 622 337 647 335 653 325 659 319 658 306 640 295 635 288 640 288 655 295 665 301 669 319 674 340 702 349 708 366 708 381 696 387 702 383 726 385 732 393 739ZM405 732 397 726 402 696 393 680 380 674 368 676 356 697 350 697 344 689 344 679 356 666 357 659 354 647 337 622 332 610 334 598 341 591 368 587 386 591 395 604 413 640 416 653 415 689 428 720 428 726 423 730 405 732ZM540 736 548 732 540 731 540 736ZM540 684 553 683 561 677 569 665 569 659 561 647 555 640 546 637 534 641 529 653 531 671 534 679 540 684ZM538 671 536 659 540 652 546 652 552 665 550 671 546 674 538 671ZM160 525 172 524 177 518 172 506 154 493 153 487 160 477 166 476 202 491 215 491 221 487 227 474 230 457 231 438 227 422 221 415 191 395 178 374 166 366 160 369 151 383 135 389 117 385 86 370 80 372 72 395 74 420 80 427 86 430 110 426 117 432 104 446 104 464 110 473 138 493 147 518 160 525ZM189 475 166 459 153 455 147 457 133 469 123 469 117 465 117 454 136 444 138 438 136 426 129 416 117 410 104 410 92 415 83 414 79 401 86 385 92 384 129 399 166 397 215 421 221 427 225 438 225 457 221 471 215 478 209 480 189 475ZM632 506 644 506 651 499 650 489 644 483 631 481 627 493 632 506ZM706 510 712 511 718 507 723 493 724 475 719 438 729 401 725 340 713 297 716 254 712 240 706 237 680 297 668 316 657 357 650 359 644 356 624 340 601 338 575 359 558 393 534 396 530 401 540 413 546 413 564 396 595 396 609 401 626 421 632 424 664 426 672 432 673 438 665 463 665 475 687 488 706 510ZM703 481 684 463 683 457 691 438 690 432 685 426 669 418 638 411 628 401 620 385 592 377 588 371 599 359 614 355 620 359 627 371 632 374 650 374 665 371 669 365 669 340 673 322 687 305 693 299 699 298 718 325 723 346 723 401 718 415 703 438 712 471 712 487 703 481ZM601 470 614 472 620 470 620 463 614 455 601 456 596 463 601 470ZM503 386 509 389 515 386 515 377 509 362 503 362 498 371 498 377 503 386ZM430 313 442 314 451 309 451 303 436 297 426 297 424 303 430 313ZM135 280 153 284 166 282 175 273 174 260 166 251 153 244 147 244 135 252 129 260 128 273 135 280ZM138 273 138 267 147 261 160 267 161 273 153 277 147 277 138 273ZM405 279 411 283 416 279 419 254 454 238 475 211 472 189 456 169 454 162 456 156 497 144 515 133 576 107 572 101 552 96 515 100 472 88 417 84 405 85 374 94 331 89 305 95 301 101 303 107 324 126 337 148 350 148 374 140 380 141 387 149 388 181 391 187 411 204 417 218 416 248 399 267 400 273 405 279ZM439 224 434 218 428 193 411 185 401 175 395 144 387 128 380 123 374 122 356 130 350 129 327 107 326 101 341 101 374 110 397 95 411 90 466 90 488 95 515 113 514 120 508 126 491 140 472 144 448 143 442 148 439 162 439 181 442 186 454 193 457 205 448 221 439 224ZM80 274 80 265 77 273 80 274ZM141 237 147 241 160 239 178 229 196 210 215 212 221 209 228 193 228 150 248 101 243 95 184 84 147 68 135 68 110 81 104 82 86 69 74 68 61 83 46 107 46 113 63 144 69 169 74 226 80 234 86 234 101 218 103 205 96 187 94 169 98 143 104 134 110 141 117 161 114 205 120 218 141 237ZM80 218 80 199 86 200 88 211 86 218 80 218ZM138 218 129 205 120 150 104 111 95 126 86 166 80 175 74 165 56 120 54 107 62 89 74 75 80 73 86 76 104 96 127 77 141 72 153 75 178 88 219 95 234 101 235 113 219 150 215 175 211 181 190 187 164 218 153 221 138 218ZM344 213 350 217 356 211 357 199 350 193 342 193 340 199 344 213ZM307 182 319 186 331 182 331 174 325 163 313 162 307 167 305 175 307 182ZM779 120 785 122 798 121 808 113 810 109 808 83 792 78 779 80 773 84 768 101 772 113 779 120ZM779 113 773 101 776 89 785 84 798 88 802 101 798 111 792 115 779 113ZM699 41 718 45 730 38 735 21 730 5 704 3 696 9 692 15 691 28 699 41ZM710 40 699 34 698 21 706 13 718 11 725 15 729 28 724 37 718 40 710 40Z" fill="#f0a0a0" fill-rule="evenodd"/><path transform="scale(.5)" d="M699 758 712 757 724 750 738 738 740 732 736 725 716 708 736 685 741 671 738 659 725 634 715 585 712 578 706 576 663 593 638 598 632 601 626 622 596 647 592 659 595 674 607 683 663 692 702 708 687 717 647 726 638 732 648 738 699 758ZM699 751 669 738 665 732 712 721 724 724 730 730 730 738 723 745 712 750 699 751ZM696 696 624 677 614 671 611 665 616 653 632 639 650 615 657 611 675 607 692 591 699 589 706 590 710 598 718 634 735 671 731 683 724 690 712 696 696 696ZM405 732 423 730 428 726 428 720 415 689 416 653 413 640 395 604 386 591 368 587 341 591 334 598 332 610 337 622 354 647 357 659 356 666 344 679 344 689 350 697 356 697 368 676 380 674 393 680 402 696 397 726 405 732ZM379 653 353 628 344 616 343 604 350 597 362 594 374 596 387 608 393 628 393 647 387 654 379 653ZM595 732 614 732 613 726 601 724 595 726 595 732ZM540 674 546 674 552 665 546 652 540 652 536 659 536 665 540 674ZM706 485 712 487 712 475 703 438 718 415 723 401 723 346 718 325 699 298 693 299 687 305 673 322 669 340 669 365 665 371 650 374 632 374 627 371 620 359 614 355 599 359 588 371 592 377 620 385 628 401 638 411 669 418 685 426 690 432 691 438 683 457 684 463 706 485ZM673 408 650 403 645 395 649 389 657 386 681 384 687 377 677 352 675 334 681 322 687 316 699 313 712 322 719 340 716 395 712 405 706 410 673 408ZM190 476 209 480 215 478 221 471 225 457 225 438 221 427 215 421 166 397 129 399 92 384 86 385 79 401 83 414 92 415 104 410 117 410 129 416 136 426 138 438 136 444 117 454 117 465 123 469 133 469 147 457 153 455 166 459 190 476ZM199 469 188 463 162 438 158 426 164 420 190 421 204 426 215 434 218 450 215 463 209 469 199 469ZM141 275 153 277 161 273 160 267 147 261 141 263 138 267 141 275ZM442 225 454 213 457 199 454 193 442 186 439 181 439 162 442 148 448 143 472 144 491 140 508 126 514 120 515 113 488 95 466 90 411 90 397 95 374 110 341 101 326 101 327 107 350 129 356 130 374 122 380 123 387 128 395 144 401 175 411 185 428 193 436 221 442 225ZM410 162 401 113 407 101 417 97 466 93 485 98 496 107 499 120 491 132 479 137 466 137 436 126 429 132 423 164 417 168 410 162ZM80 218 86 218 88 211 86 200 80 199 80 218ZM141 219 153 221 164 218 190 187 211 181 215 175 219 150 235 113 234 101 219 95 178 88 153 75 141 72 127 77 104 96 86 76 80 73 74 75 62 89 54 107 56 120 74 165 80 175 86 166 95 126 104 111 120 150 129 205 135 215 141 219ZM141 199 135 189 117 120 117 101 122 89 129 82 141 78 153 82 172 93 210 101 222 107 222 120 205 138 201 156 197 162 173 181 157 199 147 202 141 199ZM74 144 63 120 61 107 67 90 74 83 80 81 88 89 91 101 80 148 74 144ZM779 113 792 115 798 111 802 101 798 88 785 84 776 89 773 101 779 113ZM779 101 780 95 785 92 792 95 792 103 785 107 779 101ZM712 40 724 37 729 28 725 15 718 11 706 13 698 21 699 34 712 40ZM712 34 706 28 710 21 718 21 721 28 718 33 712 34Z" fill="#ed8888" fill-rule="evenodd"/><path transform="scale(.5)" d="M699 751 712 750 723 745 730 738 730 730 724 724 712 721 665 732 669 738 699 751ZM698 738 705 732 712 732 716 738 706 741 698 738ZM699 696 712 696 724 690 731 683 735 671 718 634 710 598 706 590 699 589 692 591 675 607 657 611 650 615 632 639 616 653 611 665 614 671 624 677 699 696ZM693 689 670 683 640 671 636 665 637 659 657 639 663 638 706 643 724 659 728 671 727 677 712 688 693 689ZM380 653 389 653 393 648 394 640 391 622 384 604 378 598 368 594 348 598 343 604 344 616 368 644 380 653ZM367 616 368 615 367 616ZM202 470 209 469 215 463 218 450 215 434 204 426 190 421 164 420 158 426 162 438 188 463 202 470ZM675 408 706 410 712 405 716 395 719 340 712 322 699 313 687 316 681 322 675 334 677 352 687 377 681 384 657 386 649 389 645 395 650 403 675 408ZM696 365 684 352 681 340 687 325 699 322 712 332 715 346 712 362 706 368 696 365ZM147 202 160 197 173 181 197 162 201 156 205 138 221 121 224 113 222 107 215 103 178 95 141 78 129 82 122 89 117 101 116 113 135 189 141 199 147 202ZM144 175 135 161 122 113 126 95 135 86 141 85 153 89 170 107 174 150 169 162 160 172 153 176 144 175ZM411 165 417 168 424 162 430 130 436 126 466 137 485 135 491 132 499 120 496 107 485 98 466 93 417 97 407 101 401 113 406 150 411 165ZM470 132 456 126 445 113 444 107 451 101 472 98 488 107 491 120 487 126 479 131 470 132ZM74 144 80 148 91 101 88 89 80 81 74 83 67 90 61 107 63 120 74 144ZM73 113 71 107 74 97 80 101 80 108 73 113ZM779 101 785 107 792 103 792 95 785 92 780 95 779 101ZM712 34 718 33 721 28 718 21 710 21 706 28 712 34Z" fill="#e97070" fill-rule="evenodd"/><path transform="scale(.5)" d="M699 739 706 741 716 738 712 732 705 732 699 739ZM693 690 712 688 727 677 728 671 724 659 706 643 663 638 657 639 637 659 636 665 640 671 670 683 693 690ZM691 683 671 677 661 671 657 665 660 659 669 654 687 653 699 654 712 659 718 667 716 677 706 683 691 683ZM196 446 198 444 196 446ZM699 367 706 368 712 362 715 340 706 324 693 322 685 328 681 340 687 357 699 367ZM696 352 688 340 693 331 699 330 706 334 709 346 706 353 696 352ZM147 177 153 176 163 169 173 156 174 150 170 107 153 89 141 85 135 86 126 95 122 113 135 161 141 173 147 177ZM140 150 131 132 128 113 132 101 141 94 147 96 157 107 159 132 158 144 153 153 147 155 140 150ZM472 132 487 126 491 120 488 107 472 98 451 101 444 107 450 120 460 128 472 132ZM462 120 458 113 460 107 466 104 479 107 482 113 481 120 472 125 462 120ZM74 115 80 108 80 101 74 97 71 107 74 115Z" fill="#e55858" fill-rule="evenodd"/><path transform="scale(.5)" d="M693 684 706 683 716 677 718 667 712 659 699 654 687 653 669 654 660 659 657 665 661 671 671 677 693 684ZM684 671 687 667 693 666 701 671 693 674 684 671ZM699 354 706 353 709 346 706 334 699 330 693 331 688 340 693 351 699 354ZM141 152 147 155 155 150 159 126 158 113 153 101 141 94 132 101 128 113 131 132 141 152ZM140 126 141 112 146 120 145 126 141 129 140 126ZM466 123 472 125 481 120 482 113 479 107 466 104 460 107 458 113 466 123Z" fill="#e14141" fill-rule="evenodd"/><path transform="scale(.5)" d="M687 672 701 671 693 666 687 667 684 671 687 672ZM141 129 145 126 146 120 141 112 139 120 141 129Z" fill="#de2929" fill-rule="evenodd"/></g><path d="M-5,411.0 L411.5,-5" stroke="#fff" stroke-width="4.5"/></g>
</g>
<rect x="761.7" y="611.6" width="406.5" height="406" fill="none" stroke="#262626" stroke-width="1.6"/>
<text x="799.1" y="1048.1" font-size="22.5" text-anchor="middle">200</text>
<text x="752" y="988.2" font-size="22.5" text-anchor="end">200</text>
<text x="860.5" y="1048.1" font-size="22.5" text-anchor="middle">220</text>
<text x="752" y="926.9" font-size="22.5" text-anchor="end">220</text>
<text x="921.8" y="1048.1" font-size="22.5" text-anchor="middle">240</text>
<text x="752" y="865.7" font-size="22.5" text-anchor="end">240</text>
<text x="983.2" y="1048.1" font-size="22.5" text-anchor="middle">260</text>
<text x="752" y="804.4" font-size="22.5" text-anchor="end">260</text>
<text x="1044.6" y="1048.1" font-size="22.5" text-anchor="middle">280</text>
<text x="752" y="743.1" font-size="22.5" text-anchor="end">280</text>
<text x="1105.9" y="1048.1" font-size="22.5" text-anchor="middle">300</text>
<text x="752" y="681.8" font-size="22.5" text-anchor="end">300</text>
<text x="1167.3" y="1048.1" font-size="22.5" text-anchor="middle">320</text>
<text x="752" y="620.5" font-size="22.5" text-anchor="end">320</text>
<path d="M799.1,1017.6v-5M799.1,611.6v5M761.7,980.2h5M1168.2,980.2h-5M860.5,1017.6v-5M860.5,611.6v5M761.7,918.9h5M1168.2,918.9h-5M921.8,1017.6v-5M921.8,611.6v5M761.7,857.7h5M1168.2,857.7h-5M983.2,1017.6v-5M983.2,611.6v5M761.7,796.4h5M1168.2,796.4h-5M1044.6,1017.6v-5M1044.6,611.6v5M761.7,735.1h5M1168.2,735.1h-5M1105.9,1017.6v-5M1105.9,611.6v5M761.7,673.8h5M1168.2,673.8h-5M1167.3,1017.6v-5M1167.3,611.6v5M761.7,612.5h5M1168.2,612.5h-5" stroke="#262626" stroke-width="1.6" fill="none"/>
<text x="967.5" y="1083.2" font-size="25.9" text-anchor="middle">Residue number</text>
<text transform="translate(703.6,814.6) rotate(-90)" font-size="25.9" text-anchor="middle">Residue number</text>
<rect x="1199.20" y="611.60" width="27.00" height="6.74" fill="#db1515"/><rect x="1199.20" y="617.94" width="27.00" height="6.74" fill="#dc1c1c"/><rect x="1199.20" y="624.29" width="27.00" height="6.74" fill="#dd2424"/><rect x="1199.20" y="630.63" width="27.00" height="6.74" fill="#de2b2b"/><rect x="1199.20" y="636.98" width="27.00" height="6.74" fill="#df3232"/><rect x="1199.20" y="643.32" width="27.00" height="6.74" fill="#e03a3a"/><rect x="1199.20" y="649.66" width="27.00" height="6.74" fill="#e24141"/><rect x="1199.20" y="656.01" width="27.00" height="6.74" fill="#e34949"/><rect x="1199.20" y="662.35" width="27.00" height="6.74" fill="#e45050"/><rect x="1199.20" y="668.69" width="27.00" height="6.74" fill="#e55858"/><rect x="1199.20" y="675.04" width="27.00" height="6.74" fill="#e65f5f"/><rect x="1199.20" y="681.38" width="27.00" height="6.74" fill="#e76767"/><rect x="1199.20" y="687.73" width="27.00" height="6.74" fill="#e86e6e"/><rect x="1199.20" y="694.07" width="27.00" height="6.74" fill="#ea7575"/><rect x="1199.20" y="700.41" width="27.00" height="6.74" fill="#eb7d7d"/><rect x="1199.20" y="706.76" width="27.00" height="6.74" fill="#ec8484"/><rect x="1199.20" y="713.10" width="27.00" height="6.74" fill="#ed8c8c"/><rect x="1199.20" y="719.44" width="27.00" height="6.74" fill="#ee9393"/><rect x="1199.20" y="725.79" width="27.00" height="6.74" fill="#ef9b9b"/><rect x="1199.20" y="732.13" width="27.00" height="6.74" fill="#f1a2a2"/><rect x="1199.20" y="738.48" width="27.00" height="6.74" fill="#f2a9a9"/><rect x="1199.20" y="744.82" width="27.00" height="6.74" fill="#f3b1b1"/><rect x="1199.20" y="751.16" width="27.00" height="6.74" fill="#f4b8b8"/><rect x="1199.20" y="757.51" width="27.00" height="6.74" fill="#f5c0c0"/><rect x="1199.20" y="763.85" width="27.00" height="6.74" fill="#f6c7c7"/><rect x="1199.20" y="770.19" width="27.00" height="6.74" fill="#f7cfcf"/><rect x="1199.20" y="776.54" width="27.00" height="6.74" fill="#f9d6d6"/><rect x="1199.20" y="782.88" width="27.00" height="6.74" fill="#fadede"/><rect x="1199.20" y="789.23" width="27.00" height="6.74" fill="#fbe5e5"/><rect x="1199.20" y="795.57" width="27.00" height="6.74" fill="#fcecec"/><rect x="1199.20" y="801.91" width="27.00" height="6.74" fill="#fdf4f4"/><rect x="1199.20" y="808.26" width="27.00" height="6.74" fill="#fefbfb"/><rect x="1199.20" y="814.60" width="27.00" height="6.74" fill="#fbfbff"/><rect x="1199.20" y="820.94" width="27.00" height="6.74" fill="#f3f3ff"/><rect x="1199.20" y="827.29" width="27.00" height="6.74" fill="#ebebff"/><rect x="1199.20" y="833.63" width="27.00" height="6.74" fill="#e3e3ff"/><rect x="1199.20" y="839.98" width="27.00" height="6.74" fill="#dbdbff"/><rect x="1199.20" y="846.32" width="27.00" height="6.74" fill="#d3d3ff"/><rect x="1199.20" y="852.66" width="27.00" height="6.74" fill="#cbcbff"/><rect x="1199.20" y="859.01" width="27.00" height="6.74" fill="#c3c3ff"/><rect x="1199.20" y="865.35" width="27.00" height="6.74" fill="#bbbbff"/><rect x="1199.20" y="871.69" width="27.00" height="6.74" fill="#b3b3ff"/><rect x="1199.20" y="878.04" width="27.00" height="6.74" fill="#ababff"/><rect x="1199.20" y="884.38" width="27.00" height="6.74" fill="#a3a3ff"/><rect x="1199.20" y="890.73" width="27.00" height="6.74" fill="#9b9bff"/><rect x="1199.20" y="897.07" width="27.00" height="6.74" fill="#9393ff"/><rect x="1199.20" y="903.41" width="27.00" height="6.74" fill="#8b8bff"/><rect x="1199.20" y="909.76" width="27.00" height="6.74" fill="#8383ff"/><rect x="1199.20" y="916.10" width="27.00" height="6.74" fill="#7c7cff"/><rect x="1199.20" y="922.44" width="27.00" height="6.74" fill="#7474ff"/><rect x="1199.20" y="928.79" width="27.00" height="6.74" fill="#6c6cff"/><rect x="1199.20" y="935.13" width="27.00" height="6.74" fill="#6464ff"/><rect x="1199.20" y="941.48" width="27.00" height="6.74" fill="#5c5cff"/><rect x="1199.20" y="947.82" width="27.00" height="6.74" fill="#5454ff"/><rect x="1199.20" y="954.16" width="27.00" height="6.74" fill="#4c4cff"/><rect x="1199.20" y="960.51" width="27.00" height="6.74" fill="#4444ff"/><rect x="1199.20" y="966.85" width="27.00" height="6.74" fill="#3c3cff"/><rect x="1199.20" y="973.19" width="27.00" height="6.74" fill="#3434ff"/><rect x="1199.20" y="979.54" width="27.00" height="6.74" fill="#2c2cff"/><rect x="1199.20" y="985.88" width="27.00" height="6.74" fill="#2424ff"/><rect x="1199.20" y="992.23" width="27.00" height="6.74" fill="#1c1cff"/><rect x="1199.20" y="998.57" width="27.00" height="6.74" fill="#1414ff"/><rect x="1199.20" y="1004.91" width="27.00" height="6.74" fill="#0c0cff"/><rect x="1199.20" y="1011.26" width="27.00" height="6.74" fill="#0404ff"/>
<rect x="1199.2" y="611.6" width="27.0" height="406" fill="none" stroke="#262626" stroke-width="1.6"/>
<text x="1233.5" y="1025.6" font-size="22.5">-8</text>
<text x="1233.5" y="974.9" font-size="22.5">-6</text>
<text x="1233.5" y="924.1" font-size="22.5">-4</text>
<text x="1233.5" y="873.4" font-size="22.5">-2</text>
<text x="1233.5" y="822.6" font-size="22.5">0</text>
<text x="1233.5" y="771.9" font-size="22.5">2</text>
<text x="1233.5" y="721.1" font-size="22.5">4</text>
<text x="1233.5" y="670.4" font-size="22.5">6</text>
<text x="1233.5" y="619.6" font-size="22.5">8</text>
<path d="M1226.2,966.9h-4M1226.2,916.1h-4M1226.2,865.4h-4M1226.2,814.6h-4M1226.2,763.9h-4M1226.2,713.1h-4M1226.2,662.4h-4" stroke="#262626" stroke-width="1.6" fill="none"/>
<g transform="translate(1290,812.3) rotate(-90)"><text x="0" y="0" font-size="27" text-anchor="middle">Δ<tspan font-style="italic">L</tspan><tspan dy="7" font-size="22">segment</tspan><tspan dy="-7"> [Å]</tspan></text></g>
<text x="47.4" y="1131.4" font-size="37" font-weight="bold" fill="#222">Jackknife resampling average</text>
<polygon points="83.0,1544.2 85.0,1531.7 87.0,1518.8 89.0,1507.9 91.0,1499.3 93.0,1491.9 95.0,1484.7 97.0,1478.0 99.0,1471.8 101.0,1465.8 103.0,1460.1 105.0,1454.6 107.0,1449.5 109.0,1444.8 111.0,1440.5 113.0,1436.7 115.0,1433.2 117.0,1429.9 119.0,1426.7 121.0,1423.6 123.0,1420.4 125.0,1417.1 127.0,1413.9 129.0,1410.7 131.0,1407.6 133.0,1404.6 135.0,1401.7 137.0,1398.8 139.0,1396.1 141.0,1393.3 143.0,1390.7 145.0,1388.0 147.0,1385.4 149.0,1382.8 151.0,1380.2 153.0,1377.7 155.0,1375.1 157.0,1372.7 159.0,1370.2 161.0,1367.8 163.0,1365.5 165.0,1363.2 167.0,1360.9 169.0,1358.6 171.0,1356.3 173.0,1354.0 175.0,1351.6 177.0,1349.1 179.0,1346.6 181.0,1344.0 183.0,1341.5 185.0,1338.9 187.0,1336.5 189.0,1334.1 191.0,1331.9 193.0,1329.8 195.0,1327.8 197.0,1326.0 199.0,1324.3 201.0,1322.7 203.0,1321.2 205.0,1319.8 207.0,1318.6 209.0,1317.4 211.0,1316.4 213.0,1315.3 215.0,1314.4 217.0,1313.4 219.0,1312.5 221.0,1311.4 223.0,1310.4 225.0,1309.2 227.0,1308.0 229.0,1306.6 231.0,1305.2 233.0,1303.7 235.0,1302.2 237.0,1300.7 239.0,1299.3 241.0,1297.9 243.0,1296.6 245.0,1295.4 247.0,1294.3 249.0,1293.2 251.0,1292.2 253.0,1291.2 255.0,1290.3 257.0,1289.3 259.0,1288.3 261.0,1287.4 263.0,1286.4 265.0,1285.4 267.0,1284.5 269.0,1283.5 271.0,1282.5 273.0,1281.5 275.0,1280.6 277.0,1279.7 279.0,1278.9 281.0,1278.1 283.0,1277.4 285.0,1276.8 287.0,1276.2 289.0,1275.7 291.0,1275.2 293.0,1274.8 295.0,1274.4 297.0,1274.1 299.0,1273.8 301.0,1273.5 303.0,1273.2 305.0,1272.9 307.0,1272.6 309.0,1272.4 311.0,1272.1 313.0,1271.9 315.0,1271.7 317.0,1271.5 319.0,1271.4 321.0,1271.3 323.0,1271.3 325.0,1271.3 327.0,1271.3 329.0,1271.4 331.0,1271.5 333.0,1271.7 335.0,1271.8 337.0,1271.9 339.0,1271.9 341.0,1271.8 343.0,1271.6 345.0,1271.2 346.9,1270.7 348.9,1270.0 350.9,1269.2 352.9,1268.3 354.9,1267.3 356.9,1266.3 358.9,1265.3 360.9,1264.4 362.9,1263.5 364.9,1262.7 366.9,1262.0 368.9,1261.4 370.9,1260.9 372.9,1260.5 374.9,1260.1 376.9,1259.7 378.9,1259.4 380.9,1259.0 382.9,1258.6 384.9,1258.2 386.9,1257.8 388.9,1257.4 390.9,1256.9 392.9,1256.5 394.9,1256.0 396.9,1255.5 398.9,1255.0 400.9,1254.6 402.9,1254.1 404.9,1253.7 406.9,1253.3 408.9,1252.9 410.9,1252.5 412.9,1252.2 414.9,1251.8 416.9,1251.4 418.9,1251.1 420.9,1250.7 422.9,1250.4 424.9,1250.1 426.9,1249.8 428.9,1249.5 430.9,1249.3 432.9,1249.1 434.9,1248.9 436.9,1248.8 438.9,1248.7 440.9,1248.7 442.9,1248.7 444.9,1248.8 446.9,1248.9 448.9,1249.1 450.9,1249.3 452.9,1249.5 454.9,1249.7 456.9,1250.0 458.9,1250.4 460.9,1250.7 462.9,1251.1 464.9,1251.5 466.9,1251.9 468.9,1252.4 470.9,1252.9 472.9,1253.4 474.9,1254.0 476.9,1254.6 478.9,1255.3 480.9,1256.0 482.9,1256.7 484.9,1257.5 486.9,1258.3 488.9,1259.1 490.9,1260.0 492.9,1260.9 494.9,1261.9 496.9,1262.9 498.9,1264.0 500.9,1265.2 502.9,1266.4 504.9,1267.7 506.9,1269.0 508.9,1270.3 510.9,1271.6 512.9,1272.9 514.9,1274.0 516.9,1275.1 518.9,1276.1 520.9,1277.0 522.9,1277.8 524.9,1278.5 526.9,1279.1 528.9,1279.7 530.9,1280.3 532.9,1280.8 534.9,1281.4 536.9,1282.0 538.9,1282.6 540.9,1283.2 542.9,1283.9 544.9,1284.6 546.9,1285.3 548.9,1286.0 550.9,1286.8 552.9,1287.6 554.9,1288.5 556.9,1289.5 558.9,1290.6 560.9,1291.8 562.9,1293.0 564.9,1294.4 566.9,1295.8 568.9,1297.3 570.9,1298.8 572.9,1300.3 574.9,1301.8 576.9,1303.2 578.9,1304.7 580.9,1306.0 582.9,1307.4 584.9,1308.6 586.9,1309.9 588.9,1311.1 590.9,1312.3 592.9,1313.5 594.9,1314.6 596.9,1315.7 598.9,1316.8 600.9,1317.9 602.9,1319.2 604.9,1320.4 606.9,1321.5 606.9,1324.9 604.9,1327.5 602.9,1329.8 600.9,1331.5 598.9,1332.7 596.9,1333.7 594.9,1334.5 592.9,1335.0 590.9,1335.2 588.9,1335.1 586.9,1334.6 584.9,1334.0 582.9,1333.2 580.9,1332.2 578.9,1331.2 576.9,1330.1 574.9,1328.9 572.9,1327.7 570.9,1326.4 568.9,1325.2 566.9,1323.9 564.9,1322.5 562.9,1321.1 560.9,1319.7 558.9,1318.3 556.9,1316.9 554.9,1315.4 552.9,1314.0 550.9,1312.7 548.9,1311.3 546.9,1310.0 544.9,1308.6 542.9,1307.4 540.9,1306.1 538.9,1304.9 536.9,1303.7 534.9,1302.6 532.9,1301.6 530.9,1300.7 528.9,1299.9 526.9,1299.3 524.9,1298.7 522.9,1298.3 520.9,1298.0 518.9,1297.7 516.9,1297.5 514.9,1297.3 512.9,1297.1 510.9,1297.0 508.9,1296.9 506.9,1296.7 504.9,1296.6 502.9,1296.5 500.9,1296.3 498.9,1296.2 496.9,1296.2 494.9,1296.1 492.9,1296.1 490.9,1296.2 488.9,1296.2 486.9,1296.4 484.9,1296.5 482.9,1296.7 480.9,1296.9 478.9,1297.2 476.9,1297.5 474.9,1297.9 472.9,1298.3 470.9,1298.8 468.9,1299.4 466.9,1300.1 464.9,1300.8 462.9,1301.6 460.9,1302.4 458.9,1303.3 456.9,1304.3 454.9,1305.4 452.9,1306.5 450.9,1307.7 448.9,1308.9 446.9,1310.3 444.9,1311.7 442.9,1313.2 440.9,1314.7 438.9,1316.3 436.9,1317.9 434.9,1319.6 432.9,1321.2 430.9,1322.8 428.9,1324.4 426.9,1326.0 424.9,1327.6 422.9,1329.1 420.9,1330.6 418.9,1332.1 416.9,1333.5 414.9,1334.7 412.9,1335.9 410.9,1336.8 408.9,1337.5 406.9,1337.9 404.9,1338.1 402.9,1337.9 400.9,1337.5 398.9,1336.9 396.9,1336.1 394.9,1335.2 392.9,1334.1 390.9,1333.0 388.9,1331.9 386.9,1330.9 384.9,1329.8 382.9,1328.8 380.9,1327.7 378.9,1326.7 376.9,1325.7 374.9,1324.7 372.9,1323.7 370.9,1322.7 368.9,1321.7 366.9,1320.7 364.9,1319.8 362.9,1318.8 360.9,1317.9 358.9,1317.0 356.9,1316.1 354.9,1315.3 352.9,1314.5 350.9,1313.8 348.9,1313.1 346.9,1312.5 345.0,1312.0 343.0,1311.6 341.0,1311.2 339.0,1310.9 337.0,1310.7 335.0,1310.5 333.0,1310.5 331.0,1310.5 329.0,1310.6 327.0,1310.9 325.0,1311.2 323.0,1311.7 321.0,1312.2 319.0,1312.9 317.0,1313.7 315.0,1314.6 313.0,1315.7 311.0,1316.7 309.0,1317.9 307.0,1319.2 305.0,1320.6 303.0,1322.1 301.0,1323.8 299.0,1325.6 297.0,1327.4 295.0,1329.3 293.0,1331.2 291.0,1333.0 289.0,1334.7 287.0,1336.2 285.0,1337.5 283.0,1338.5 281.0,1339.4 279.0,1340.1 277.0,1341.0 275.0,1342.1 273.0,1343.6 271.0,1345.6 269.0,1348.0 267.0,1350.6 265.0,1353.2 263.0,1355.5 261.0,1357.5 259.0,1359.0 257.0,1360.2 255.0,1361.2 253.0,1362.1 251.0,1363.1 249.0,1364.1 247.0,1365.2 245.0,1366.3 243.0,1367.4 241.0,1368.4 239.0,1369.4 237.0,1370.2 235.0,1370.9 233.0,1371.5 231.0,1372.1 229.0,1372.6 227.0,1373.0 225.0,1373.5 223.0,1374.1 221.0,1374.7 219.0,1375.4 217.0,1376.1 215.0,1376.8 213.0,1377.6 211.0,1378.3 209.0,1379.0 207.0,1379.6 205.0,1380.1 203.0,1380.5 201.0,1380.8 199.0,1381.2 197.0,1381.5 195.0,1381.8 193.0,1382.2 191.0,1382.8 189.0,1383.4 187.0,1384.2 185.0,1385.0 183.0,1386.0 181.0,1387.1 179.0,1388.2 177.0,1389.5 175.0,1390.9 173.0,1392.4 171.0,1394.1 169.0,1395.8 167.0,1397.6 165.0,1399.3 163.0,1401.1 161.0,1402.8 159.0,1404.4 157.0,1405.9 155.0,1407.3 153.0,1408.8 151.0,1410.2 149.0,1411.6 147.0,1413.1 145.0,1414.6 143.0,1416.2 141.0,1417.8 139.0,1419.5 137.0,1421.4 135.0,1423.3 133.0,1425.5 131.0,1427.8 129.0,1430.3 127.0,1433.1 125.0,1436.1 123.0,1439.4 121.0,1442.9 119.0,1446.8 117.0,1451.0 115.0,1455.4 113.0,1459.8 111.0,1464.4 109.0,1468.8 107.0,1473.2 105.0,1477.4 103.0,1481.6 101.0,1485.8 99.0,1490.1 97.0,1494.7 95.0,1499.6 93.0,1504.9 91.0,1510.6 89.0,1517.0 87.0,1525.3 85.0,1535.1 83.0,1544.6" fill="#000" stroke="#000" stroke-width="2.5" stroke-linejoin="round"/>
<polygon points="530.9,1280.3 532.9,1280.8 534.9,1281.4 536.9,1282.0 538.9,1282.6 540.9,1283.2 542.9,1283.9 544.9,1284.6 546.9,1285.3 548.9,1286.0 550.9,1286.8 552.9,1287.6 554.9,1288.5 556.9,1289.5 558.9,1290.6 560.9,1291.8 562.9,1293.0 564.9,1294.4 566.9,1295.8 568.9,1297.3 570.9,1298.8 572.9,1300.3 574.9,1301.8 576.9,1303.2 578.9,1304.7 580.9,1306.0 582.9,1307.4 584.9,1308.6 586.9,1309.9 588.9,1311.1 590.9,1312.3 592.9,1313.5 594.9,1314.6 596.9,1315.7 598.9,1316.8 600.9,1317.9 602.9,1319.2 604.9,1320.4 606.9,1321.5 606.9,1319.4 604.9,1319.8 602.9,1320.3 600.9,1320.7 598.9,1321.0 596.9,1321.1 594.9,1320.8 592.9,1320.3 590.9,1319.8 588.9,1319.4 586.9,1318.8 584.9,1318.2 582.9,1317.4 580.9,1316.5 578.9,1315.5 576.9,1314.4 574.9,1313.2 572.9,1312.0 570.9,1310.7 568.9,1309.3 566.9,1307.9 564.9,1306.5 562.9,1305.1 560.9,1303.7 558.9,1302.2 556.9,1300.8 554.9,1299.3 552.9,1297.9 550.9,1296.5 548.9,1295.1 546.9,1293.7 544.9,1292.4 542.9,1291.1 540.9,1289.9 538.9,1288.7 536.9,1287.6 534.9,1286.6 532.9,1285.6 530.9,1284.7" fill="url(#sparse)"/>
<g clip-path="url(#bandclip2)"><rect x="79.0" y="1161.8" width="532.7" height="407.2" fill="url(#vlines)"/></g>
<clipPath id="bandclip2"><polygon points="83.0,1544.2 85.0,1531.7 87.0,1518.8 89.0,1507.9 91.0,1499.3 93.0,1491.9 95.0,1484.7 97.0,1478.0 99.0,1471.8 101.0,1465.8 103.0,1460.1 105.0,1454.6 107.0,1449.5 109.0,1444.8 111.0,1440.5 113.0,1436.7 115.0,1433.2 117.0,1429.9 119.0,1426.7 121.0,1423.6 123.0,1420.4 125.0,1417.1 127.0,1413.9 129.0,1410.7 131.0,1407.6 133.0,1404.6 135.0,1401.7 137.0,1398.8 139.0,1396.1 141.0,1393.3 143.0,1390.7 145.0,1388.0 147.0,1385.4 149.0,1382.8 151.0,1380.2 153.0,1377.7 155.0,1375.1 157.0,1372.7 159.0,1370.2 161.0,1367.8 163.0,1365.5 165.0,1363.2 167.0,1360.9 169.0,1358.6 171.0,1356.3 173.0,1354.0 175.0,1351.6 177.0,1349.1 179.0,1346.6 181.0,1344.0 183.0,1341.5 185.0,1338.9 187.0,1336.5 189.0,1334.1 191.0,1331.9 193.0,1329.8 195.0,1327.8 197.0,1326.0 199.0,1324.3 201.0,1322.7 203.0,1321.2 205.0,1319.8 207.0,1318.6 209.0,1317.4 211.0,1316.4 213.0,1315.3 215.0,1314.4 217.0,1313.4 219.0,1312.5 221.0,1311.4 223.0,1310.4 225.0,1309.2 227.0,1308.0 229.0,1306.6 231.0,1305.2 233.0,1303.7 235.0,1302.2 237.0,1300.7 239.0,1299.3 241.0,1297.9 243.0,1296.6 245.0,1295.4 247.0,1294.3 249.0,1293.2 251.0,1292.2 253.0,1291.2 255.0,1290.3 257.0,1289.3 259.0,1288.3 261.0,1287.4 263.0,1286.4 265.0,1285.4 267.0,1284.5 269.0,1283.5 271.0,1282.5 273.0,1281.5 275.0,1280.6 277.0,1279.7 279.0,1278.9 281.0,1278.1 283.0,1277.4 285.0,1276.8 287.0,1276.2 289.0,1275.7 291.0,1275.2 293.0,1274.8 295.0,1274.4 297.0,1274.1 299.0,1273.8 301.0,1273.5 303.0,1273.2 305.0,1272.9 307.0,1272.6 309.0,1272.4 311.0,1272.1 313.0,1271.9 315.0,1271.7 317.0,1271.5 319.0,1271.4 321.0,1271.3 323.0,1271.3 325.0,1271.3 327.0,1271.3 329.0,1271.4 331.0,1271.5 333.0,1271.7 335.0,1271.8 337.0,1271.9 339.0,1271.9 341.0,1271.8 343.0,1271.6 345.0,1271.2 346.9,1270.7 348.9,1270.0 350.9,1269.2 352.9,1268.3 354.9,1267.3 356.9,1266.3 358.9,1265.3 360.9,1264.4 362.9,1263.5 364.9,1262.7 366.9,1262.0 368.9,1261.4 370.9,1260.9 372.9,1260.5 374.9,1260.1 376.9,1259.7 378.9,1259.4 380.9,1259.0 382.9,1258.6 384.9,1258.2 386.9,1257.8 388.9,1257.4 390.9,1256.9 392.9,1256.5 394.9,1256.0 396.9,1255.5 398.9,1255.0 400.9,1254.6 402.9,1254.1 404.9,1253.7 406.9,1253.3 408.9,1252.9 410.9,1252.5 412.9,1252.2 414.9,1251.8 416.9,1251.4 418.9,1251.1 420.9,1250.7 422.9,1250.4 424.9,1250.1 426.9,1249.8 428.9,1249.5 430.9,1249.3 432.9,1249.1 434.9,1248.9 436.9,1248.8 438.9,1248.7 440.9,1248.7 442.9,1248.7 444.9,1248.8 446.9,1248.9 448.9,1249.1 450.9,1249.3 452.9,1249.5 454.9,1249.7 456.9,1250.0 458.9,1250.4 460.9,1250.7 462.9,1251.1 464.9,1251.5 466.9,1251.9 468.9,1252.4 470.9,1252.9 472.9,1253.4 474.9,1254.0 476.9,1254.6 478.9,1255.3 480.9,1256.0 482.9,1256.7 484.9,1257.5 486.9,1258.3 488.9,1259.1 490.9,1260.0 492.9,1260.9 494.9,1261.9 496.9,1262.9 498.9,1264.0 500.9,1265.2 502.9,1266.4 504.9,1267.7 506.9,1269.0 508.9,1270.3 510.9,1271.6 512.9,1272.9 514.9,1274.0 516.9,1275.1 518.9,1276.1 520.9,1277.0 522.9,1277.8 524.9,1278.5 526.9,1279.1 528.9,1279.7 530.9,1280.3 532.9,1280.8 534.9,1281.4 536.9,1282.0 538.9,1282.6 540.9,1283.2 542.9,1283.9 544.9,1284.6 546.9,1285.3 548.9,1286.0 550.9,1286.8 552.9,1287.6 554.9,1288.5 556.9,1289.5 558.9,1290.6 560.9,1291.8 562.9,1293.0 564.9,1294.4 566.9,1295.8 568.9,1297.3 570.9,1298.8 572.9,1300.3 574.9,1301.8 576.9,1303.2 578.9,1304.7 580.9,1306.0 582.9,1307.4 584.9,1308.6 586.9,1309.9 588.9,1311.1 590.9,1312.3 592.9,1313.5 594.9,1314.6 596.9,1315.7 598.9,1316.8 600.9,1317.9 602.9,1319.2 604.9,1320.4 606.9,1321.5 606.9,1324.9 604.9,1327.5 602.9,1329.8 600.9,1331.5 598.9,1332.7 596.9,1333.7 594.9,1334.5 592.9,1335.0 590.9,1335.2 588.9,1335.1 586.9,1334.6 584.9,1334.0 582.9,1333.2 580.9,1332.2 578.9,1331.2 576.9,1330.1 574.9,1328.9 572.9,1327.7 570.9,1326.4 568.9,1325.2 566.9,1323.9 564.9,1322.5 562.9,1321.1 560.9,1319.7 558.9,1318.3 556.9,1316.9 554.9,1315.4 552.9,1314.0 550.9,1312.7 548.9,1311.3 546.9,1310.0 544.9,1308.6 542.9,1307.4 540.9,1306.1 538.9,1304.9 536.9,1303.7 534.9,1302.6 532.9,1301.6 530.9,1300.7 528.9,1299.9 526.9,1299.3 524.9,1298.7 522.9,1298.3 520.9,1298.0 518.9,1297.7 516.9,1297.5 514.9,1297.3 512.9,1297.1 510.9,1297.0 508.9,1296.9 506.9,1296.7 504.9,1296.6 502.9,1296.5 500.9,1296.3 498.9,1296.2 496.9,1296.2 494.9,1296.1 492.9,1296.1 490.9,1296.2 488.9,1296.2 486.9,1296.4 484.9,1296.5 482.9,1296.7 480.9,1296.9 478.9,1297.2 476.9,1297.5 474.9,1297.9 472.9,1298.3 470.9,1298.8 468.9,1299.4 466.9,1300.1 464.9,1300.8 462.9,1301.6 460.9,1302.4 458.9,1303.3 456.9,1304.3 454.9,1305.4 452.9,1306.5 450.9,1307.7 448.9,1308.9 446.9,1310.3 444.9,1311.7 442.9,1313.2 440.9,1314.7 438.9,1316.3 436.9,1317.9 434.9,1319.6 432.9,1321.2 430.9,1322.8 428.9,1324.4 426.9,1326.0 424.9,1327.6 422.9,1329.1 420.9,1330.6 418.9,1332.1 416.9,1333.5 414.9,1334.7 412.9,1335.9 410.9,1336.8 408.9,1337.5 406.9,1337.9 404.9,1338.1 402.9,1337.9 400.9,1337.5 398.9,1336.9 396.9,1336.1 394.9,1335.2 392.9,1334.1 390.9,1333.0 388.9,1331.9 386.9,1330.9 384.9,1329.8 382.9,1328.8 380.9,1327.7 378.9,1326.7 376.9,1325.7 374.9,1324.7 372.9,1323.7 370.9,1322.7 368.9,1321.7 366.9,1320.7 364.9,1319.8 362.9,1318.8 360.9,1317.9 358.9,1317.0 356.9,1316.1 354.9,1315.3 352.9,1314.5 350.9,1313.8 348.9,1313.1 346.9,1312.5 345.0,1312.0 343.0,1311.6 341.0,1311.2 339.0,1310.9 337.0,1310.7 335.0,1310.5 333.0,1310.5 331.0,1310.5 329.0,1310.6 327.0,1310.9 325.0,1311.2 323.0,1311.7 321.0,1312.2 319.0,1312.9 317.0,1313.7 315.0,1314.6 313.0,1315.7 311.0,1316.7 309.0,1317.9 307.0,1319.2 305.0,1320.6 303.0,1322.1 301.0,1323.8 299.0,1325.6 297.0,1327.4 295.0,1329.3 293.0,1331.2 291.0,1333.0 289.0,1334.7 287.0,1336.2 285.0,1337.5 283.0,1338.5 281.0,1339.4 279.0,1340.1 277.0,1341.0 275.0,1342.1 273.0,1343.6 271.0,1345.6 269.0,1348.0 267.0,1350.6 265.0,1353.2 263.0,1355.5 261.0,1357.5 259.0,1359.0 257.0,1360.2 255.0,1361.2 253.0,1362.1 251.0,1363.1 249.0,1364.1 247.0,1365.2 245.0,1366.3 243.0,1367.4 241.0,1368.4 239.0,1369.4 237.0,1370.2 235.0,1370.9 233.0,1371.5 231.0,1372.1 229.0,1372.6 227.0,1373.0 225.0,1373.5 223.0,1374.1 221.0,1374.7 219.0,1375.4 217.0,1376.1 215.0,1376.8 213.0,1377.6 211.0,1378.3 209.0,1379.0 207.0,1379.6 205.0,1380.1 203.0,1380.5 201.0,1380.8 199.0,1381.2 197.0,1381.5 195.0,1381.8 193.0,1382.2 191.0,1382.8 189.0,1383.4 187.0,1384.2 185.0,1385.0 183.0,1386.0 181.0,1387.1 179.0,1388.2 177.0,1389.5 175.0,1390.9 173.0,1392.4 171.0,1394.1 169.0,1395.8 167.0,1397.6 165.0,1399.3 163.0,1401.1 161.0,1402.8 159.0,1404.4 157.0,1405.9 155.0,1407.3 153.0,1408.8 151.0,1410.2 149.0,1411.6 147.0,1413.1 145.0,1414.6 143.0,1416.2 141.0,1417.8 139.0,1419.5 137.0,1421.4 135.0,1423.3 133.0,1425.5 131.0,1427.8 129.0,1430.3 127.0,1433.1 125.0,1436.1 123.0,1439.4 121.0,1442.9 119.0,1446.8 117.0,1451.0 115.0,1455.4 113.0,1459.8 111.0,1464.4 109.0,1468.8 107.0,1473.2 105.0,1477.4 103.0,1481.6 101.0,1485.8 99.0,1490.1 97.0,1494.7 95.0,1499.6 93.0,1504.9 91.0,1510.6 89.0,1517.0 87.0,1525.3 85.0,1535.1 83.0,1544.6"/></clipPath>
<path d="M83.0,1543.9 L85.0,1536.1 L87.0,1527.7 L89.0,1519.3 L91.0,1511.2 L93.0,1503.6 L95.0,1496.5 L97.0,1489.8 L99.0,1483.5 L101.0,1477.6 L103.0,1472.1 L105.0,1467.5 L107.0,1463.3 L109.0,1459.0 L111.0,1454.8 L113.0,1450.7 L115.0,1446.6 L117.0,1442.7 L119.0,1438.9 L121.0,1435.2 L123.0,1431.7 L125.0,1428.3 L127.0,1425.1 L129.0,1422.1 L131.0,1419.2 L133.0,1416.5 L135.0,1413.9 L137.0,1411.5 L139.0,1409.1 L141.0,1406.9 L143.0,1404.8 L145.0,1402.8 L147.0,1400.9 L149.0,1399.0 L151.0,1397.2 L153.0,1395.4 L155.0,1393.7 L157.0,1392.0 L159.0,1390.3 L161.0,1388.6 L163.0,1387.0 L165.0,1385.3 L167.0,1383.7 L169.0,1382.1 L171.0,1380.4 L173.0,1378.8 L175.0,1377.2 L177.0,1375.6 L179.0,1373.9 L181.0,1372.3 L183.0,1370.7 L185.0,1369.1 L187.0,1367.4 L189.0,1365.8 L191.0,1364.2 L193.0,1362.6 L195.0,1361.0 L197.0,1359.4 L199.0,1357.8 L201.0,1356.2 L203.0,1354.7 L205.0,1353.1 L207.0,1351.6 L209.0,1350.1 L211.0,1348.6 L213.0,1347.1 L215.0,1345.7 L217.0,1344.3 L219.0,1342.9 L221.0,1341.5 L223.0,1340.2 L225.0,1339.0 L227.0,1337.7 L229.0,1336.5 L231.0,1335.3 L233.0,1334.2 L235.0,1333.0 L237.0,1331.9 L239.0,1330.8 L241.0,1329.6 L243.0,1328.5 L245.0,1327.4 L247.0,1326.3 L249.0,1325.2 L251.0,1324.1 L253.0,1323.0 L255.0,1321.8 L257.0,1320.7 L259.0,1319.6 L261.0,1318.5 L263.0,1317.4 L265.0,1316.4 L267.0,1315.3 L269.0,1314.2 L271.0,1313.2 L273.0,1312.1 L275.0,1311.1 L277.0,1310.1 L279.0,1309.0 L281.0,1308.0 L283.0,1307.1 L285.0,1306.1 L287.0,1305.1 L289.0,1304.2 L291.0,1303.3 L293.0,1302.4 L295.0,1301.5 L297.0,1300.7 L299.0,1299.9 L301.0,1299.1 L303.0,1298.4 L305.0,1297.7 L307.0,1297.1 L309.0,1296.5 L311.0,1295.9 L313.0,1295.3 L315.0,1294.8 L317.0,1294.3 L319.0,1293.8 L321.0,1293.4 L323.0,1293.0 L325.0,1292.6 L327.0,1292.2 L329.0,1291.8 L331.0,1291.4 L333.0,1291.1 L335.0,1290.7 L337.0,1290.4 L339.0,1290.1 L341.0,1289.8 L343.0,1289.5 L345.0,1289.3 L346.9,1289.0 L348.9,1288.8 L350.9,1288.6 L352.9,1288.4 L354.9,1288.2 L356.9,1288.0 L358.9,1287.9 L360.9,1287.7 L362.9,1287.6 L364.9,1287.4 L366.9,1287.3 L368.9,1287.1 L370.9,1287.0 L372.9,1286.8 L374.9,1286.6 L376.9,1286.5 L378.9,1286.3 L380.9,1286.1 L382.9,1285.9 L384.9,1285.6 L386.9,1285.4 L388.9,1285.1 L390.9,1284.9 L392.9,1284.6 L394.9,1284.3 L396.9,1284.0 L398.9,1283.6 L400.9,1283.3 L402.9,1283.0 L404.9,1282.6 L406.9,1282.3 L408.9,1281.9 L410.9,1281.5 L412.9,1281.2 L414.9,1280.8 L416.9,1280.4 L418.9,1280.1 L420.9,1279.7 L422.9,1279.4 L424.9,1279.0 L426.9,1278.7 L428.9,1278.4 L430.9,1278.0 L432.9,1277.7 L434.9,1277.4 L436.9,1277.1 L438.9,1276.8 L440.9,1276.6 L442.9,1276.3 L444.9,1276.1 L446.9,1275.9 L448.9,1275.7 L450.9,1275.5 L452.9,1275.4 L454.9,1275.3 L456.9,1275.2 L458.9,1275.1 L460.9,1275.1 L462.9,1275.1 L464.9,1275.1 L466.9,1275.1 L468.9,1275.2 L470.9,1275.3 L472.9,1275.4 L474.9,1275.5 L476.9,1275.7 L478.9,1275.8 L480.9,1276.0 L482.9,1276.2 L484.9,1276.5 L486.9,1276.7 L488.9,1277.0 L490.9,1277.3 L492.9,1277.6 L494.9,1277.9 L496.9,1278.2 L498.9,1278.6 L500.9,1278.9 L502.9,1279.3 L504.9,1279.8 L506.9,1280.2 L508.9,1280.7 L510.9,1281.2 L512.9,1281.7 L514.9,1282.2 L516.9,1282.8 L518.9,1283.5 L520.9,1284.1 L522.9,1284.8 L524.9,1285.6 L526.9,1286.3 L528.9,1287.2 L530.9,1288.1 L532.9,1289.0 L534.9,1290.0 L536.9,1291.0 L538.9,1292.1 L540.9,1293.2 L542.9,1294.4 L544.9,1295.6 L546.9,1296.9 L548.9,1298.2 L550.9,1299.5 L552.9,1300.8 L554.9,1302.2 L556.9,1303.5 L558.9,1304.9 L560.9,1306.3 L562.9,1307.6 L564.9,1309.0 L566.9,1310.3 L568.9,1311.5 L570.9,1312.8 L572.9,1313.9 L574.9,1315.1 L576.9,1316.1 L578.9,1317.1 L580.9,1318.0 L582.9,1318.8 L584.9,1319.5 L586.9,1320.4 L588.9,1321.4 L590.9,1322.3 L592.9,1323.1 L594.9,1323.6 L596.9,1323.8 L598.9,1323.7 L600.9,1323.4 L602.9,1323.0 L604.9,1322.5 L606.9,1322.1" fill="none" stroke="#5cb824" stroke-width="3.5" stroke-linejoin="round"/>
<path d="M83.0,1529.6 L85.0,1520.7 L87.0,1512.9 L89.0,1505.9 L91.0,1499.8 L93.0,1494.3 L95.0,1489.5 L97.0,1485.2 L99.0,1481.4 L101.0,1477.9 L103.0,1474.7 L105.0,1471.8 L107.0,1469.0 L109.0,1466.4 L111.0,1463.9 L113.0,1461.6 L115.0,1459.1 L117.0,1456.8 L119.0,1454.5 L121.0,1452.4 L123.0,1450.3 L125.0,1448.3 L127.0,1446.4 L129.0,1444.5 L131.0,1442.7 L133.0,1440.9 L135.0,1439.2 L137.0,1437.5 L139.0,1435.9 L141.0,1434.3 L143.0,1432.7 L145.0,1431.1 L147.0,1429.6 L149.0,1428.1 L151.0,1426.6 L153.0,1425.2 L155.0,1423.7 L157.0,1422.2 L159.0,1420.8 L161.0,1419.4 L163.0,1417.9 L165.0,1416.5 L167.0,1415.1 L169.0,1413.7 L171.0,1412.3 L173.0,1410.8 L175.0,1409.4 L177.0,1408.0 L179.0,1406.6 L181.0,1405.1 L183.0,1403.7 L185.0,1402.3 L187.0,1400.9 L189.0,1399.4 L191.0,1398.0 L193.0,1396.6 L195.0,1395.2 L197.0,1393.8 L199.0,1392.5 L201.0,1391.1 L203.0,1389.7 L205.0,1388.4 L207.0,1387.1 L209.0,1385.8 L211.0,1384.5 L213.0,1383.2 L215.0,1381.9 L217.0,1380.7 L219.0,1379.5 L221.0,1378.2 L223.0,1377.0 L225.0,1375.8 L227.0,1374.6 L229.0,1373.5 L231.0,1372.3 L233.0,1371.1 L235.0,1369.9 L237.0,1368.8 L239.0,1367.6 L241.0,1366.4 L243.0,1365.3 L245.0,1364.1 L247.0,1363.0 L249.0,1361.9 L251.0,1360.7 L253.0,1359.6 L255.0,1358.5 L257.0,1357.4 L259.0,1356.2 L261.0,1355.1 L263.0,1354.1 L265.0,1353.0 L267.0,1351.9 L269.0,1350.8 L271.0,1349.7 L273.0,1348.7 L275.0,1347.6 L277.0,1346.6 L279.0,1345.5 L281.0,1344.5 L283.0,1343.4 L285.0,1342.4 L287.0,1341.3 L289.0,1340.3 L291.0,1339.3 L293.0,1338.2 L295.0,1337.2 L297.0,1336.1 L299.0,1335.1 L301.0,1334.1 L303.0,1333.0 L305.0,1332.0 L307.0,1331.0 L309.0,1330.0 L311.0,1329.0 L313.0,1328.0 L315.0,1327.0 L317.0,1326.0 L319.0,1325.0 L321.0,1324.0 L323.0,1323.1 L325.0,1322.2 L327.0,1321.2 L329.0,1320.3 L331.0,1319.4 L333.0,1318.6 L335.0,1317.7 L337.0,1316.8 L339.0,1316.0 L341.0,1315.1 L343.0,1314.3 L345.0,1313.5 L346.9,1312.6 L348.9,1311.8 L350.9,1311.0 L352.9,1310.2 L354.9,1309.4 L356.9,1308.6 L358.9,1307.7 L360.9,1306.9 L362.9,1306.1 L364.9,1305.3 L366.9,1304.5 L368.9,1303.6 L370.9,1302.8 L372.9,1301.9 L374.9,1301.1 L376.9,1300.3 L378.9,1299.4 L380.9,1298.6 L382.9,1297.7 L384.9,1296.8 L386.9,1296.0 L388.9,1295.1 L390.9,1294.2 L392.9,1293.4 L394.9,1292.5 L396.9,1291.6 L398.9,1290.8 L400.9,1289.9 L402.9,1289.0 L404.9,1288.2 L406.9,1287.3 L408.9,1286.4 L410.9,1285.6 L412.9,1284.7 L414.9,1283.9 L416.9,1283.1 L418.9,1282.2 L420.9,1281.4 L422.9,1280.6 L424.9,1279.8 L426.9,1279.0 L428.9,1278.2 L430.9,1277.4 L432.9,1276.6 L434.9,1275.9 L436.9,1275.1 L438.9,1274.4 L440.9,1273.6 L442.9,1272.9 L444.9,1272.2 L446.9,1271.4 L448.9,1270.7 L450.9,1270.0 L452.9,1269.3 L454.9,1268.6 L456.9,1267.9 L458.9,1267.2 L460.9,1266.5 L462.9,1265.8 L464.9,1265.2 L466.9,1264.5 L468.9,1263.8 L470.9,1263.1 L472.9,1262.4 L474.9,1261.8 L476.9,1261.1 L478.9,1260.4 L480.9,1259.8 L482.9,1259.1 L484.9,1258.4 L486.9,1257.8 L488.9,1257.1 L490.9,1256.5 L492.9,1255.8 L494.9,1255.2 L496.9,1254.5 L498.9,1253.9 L500.9,1253.3 L502.9,1252.6 L504.9,1252.0 L506.9,1251.4 L508.9,1250.7 L510.9,1250.1 L512.9,1249.5 L514.9,1248.9 L516.9,1248.3 L518.9,1247.6 L520.9,1247.0 L522.9,1246.4 L524.9,1245.8 L526.9,1245.2 L528.9,1244.6 L530.9,1244.0 L532.9,1243.4 L534.9,1242.8 L536.9,1242.2 L538.9,1241.5 L540.9,1240.9 L542.9,1240.3 L544.9,1239.7 L546.9,1239.1 L548.9,1238.5 L550.9,1237.8 L552.9,1237.2 L554.9,1236.6 L556.9,1235.9 L558.9,1235.3 L560.9,1234.7 L562.9,1234.0 L564.9,1233.4 L566.9,1232.8 L568.9,1232.1 L570.9,1231.5 L572.9,1230.8 L574.9,1230.2 L576.9,1229.6 L578.9,1228.9 L580.9,1228.3 L582.9,1227.6 L584.9,1227.0 L586.9,1226.3 L588.9,1225.6 L590.9,1225.0 L592.9,1224.3 L594.9,1223.7 L596.9,1223.0 L598.9,1222.3 L600.9,1221.7 L602.9,1221.0 L604.9,1220.4 L606.9,1219.7" fill="none" stroke="#a80000" stroke-width="3.5" stroke-linejoin="round"/>
<rect x="79.0" y="1161.8" width="532.7" height="407.2" fill="none" stroke="#262626" stroke-width="1.6"/>
<text x="79.0" y="1599.5" font-size="22.5" text-anchor="middle">0</text>
<text x="159.0" y="1599.5" font-size="22.5" text-anchor="middle">20</text>
<text x="239.0" y="1599.5" font-size="22.5" text-anchor="middle">40</text>
<text x="319.0" y="1599.5" font-size="22.5" text-anchor="middle">60</text>
<text x="398.9" y="1599.5" font-size="22.5" text-anchor="middle">80</text>
<text x="478.9" y="1599.5" font-size="22.5" text-anchor="middle">100</text>
<text x="558.9" y="1599.5" font-size="22.5" text-anchor="middle">120</text>
<text x="69.5" y="1577.0" font-size="22.5" text-anchor="end">0</text>
<text x="69.5" y="1509.1" font-size="22.5" text-anchor="end">10</text>
<text x="69.5" y="1441.3" font-size="22.5" text-anchor="end">20</text>
<text x="69.5" y="1373.4" font-size="22.5" text-anchor="end">30</text>
<text x="69.5" y="1305.5" font-size="22.5" text-anchor="end">40</text>
<text x="69.5" y="1237.7" font-size="22.5" text-anchor="end">50</text>
<text x="69.5" y="1169.8" font-size="22.5" text-anchor="end">60</text>
<path d="M79.0,1569.0v-5M79.0,1161.8v5M159.0,1569.0v-5M159.0,1161.8v5M239.0,1569.0v-5M239.0,1161.8v5M319.0,1569.0v-5M319.0,1161.8v5M398.9,1569.0v-5M398.9,1161.8v5M478.9,1569.0v-5M478.9,1161.8v5M558.9,1569.0v-5M558.9,1161.8v5M79.0,1569.0h5M611.7,1569.0h-5M79.0,1501.1h5M611.7,1501.1h-5M79.0,1433.3h5M611.7,1433.3h-5M79.0,1365.4h5M611.7,1365.4h-5M79.0,1297.5h5M611.7,1297.5h-5M79.0,1229.7h5M611.7,1229.7h-5M79.0,1161.8h5M611.7,1161.8h-5" stroke="#262626" stroke-width="1.6" fill="none"/>
<text x="345.4" y="1633.0" font-size="25.9" text-anchor="middle">Segment sequence length <tspan font-style="italic">k</tspan></text>
<g transform="translate(0,1106.15)">
<text transform="translate(34,286.5) rotate(-90)" font-size="26">R</text>
<text transform="translate(22,269) rotate(-90)" font-size="19">2</text>
<text transform="translate(33.7,233.5) rotate(-90)" font-size="24.5">[Å]</text>
<path d="M15.3,295 L26.8,301.2 L38.3,295 M15.3,254.8 L26.8,247.6 L38.3,254.8 M3.3,242.3 L3.3,303.1 L37.3,308.3 L19.1,316.6 L21.5,321.3" fill="none" stroke="#000" stroke-width="1.7"/>
</g>
<rect x="300.6" y="1467.1" width="297.9" height="89.8" fill="#fff" stroke="#555" stroke-width="1.5"/>
<circle cx="330.5" cy="1482.5" r="2.6" fill="#000"/>
<text x="358.8" y="1490.1" font-size="20.8">RMS end-to-end distance</text>
<path d="M305.6,1508.9H355" stroke="#5cb824" stroke-width="3.5"/>
<text x="358.8" y="1515.9" font-size="20.8">mean value</text>
<path d="M305.6,1538.3H355" stroke="#a80000" stroke-width="3.5"/>
<text x="358.8" y="1548.8" font-size="20.8">random coil 5.580 <tspan font-style="italic">k</tspan><tspan dy="-10" font-size="15">0.476</tspan></text>
<g transform="translate(761.7,1159.8)">
<defs><filter id="hf2" x="-2%" y="-2%" width="104%" height="104%"><feGaussianBlur stdDeviation="2.20"/></filter><clipPath id="hcl2"><rect x="0" y="0" width="406.5" height="406.0"/></clipPath></defs><g clip-path="url(#hcl2)"><g filter="url(#hf2)"><path transform="scale(.5)" d="M497 812 518 812 517 800 512 794 503 792 497 797 494 806 494 812 497 812ZM6 319 18 312 20 303 12 296 0 295 0 319 6 319Z" fill="#0000ff" fill-rule="evenodd"/><path transform="scale(.5)" d="M491 812 494 812 495 800 503 792 512 794 517 800 518 812 525 812 522 794 515 786 509 784 497 787 489 800 488 812 491 812ZM6 325 17 322 25 316 28 303 26 297 18 290 0 288 0 295 12 296 20 303 20 309 15 316 0 319 0 325 6 325Z" fill="#0000ff" fill-rule="evenodd"/><path transform="scale(.5)" d="M258 812 268 812 269 806 264 798 257 800 255 812 258 812ZM485 812 488 812 491 794 503 784 515 786 522 793 525 812 532 812 530 794 521 781 509 777 503 778 491 785 485 794 482 806 483 812 485 812ZM6 557 13 555 14 548 6 544 0 544 0 557 6 557ZM6 330 18 327 27 322 32 316 35 303 31 292 25 286 6 280 0 281 0 288 18 290 26 297 28 303 25 316 18 321 0 325 0 330 6 330Z" fill="#1919ff" fill-rule="evenodd"/><path transform="scale(.5)" d="M245 812 255 812 257 800 264 798 269 806 268 812 282 812 280 794 270 784 258 784 252 788 245 798 245 812ZM479 812 483 812 483 800 489 787 503 778 515 778 527 787 532 800 532 812 544 812 546 806 531 781 522 773 509 770 497 773 485 784 477 800 477 812 479 812ZM6 569 14 567 24 561 28 555 28 542 18 532 0 530 0 544 6 544 14 548 12 555 0 557 0 568 6 569ZM779 565 785 563 789 555 785 540 779 541 777 548 779 565ZM6 336 18 334 31 326 39 316 42 303 39 291 31 281 6 267 0 268 0 281 12 281 25 286 31 292 35 303 32 316 25 324 12 330 0 330 0 336 6 336ZM252 36 270 34 272 28 264 24 252 26 247 34 252 36Z" fill="#3333ff" fill-rule="evenodd"/><path transform="scale(.5)" d="M239 812 244 812 245 800 252 788 264 783 276 787 280 794 282 812 297 812 296 787 292 781 282 775 270 773 255 775 245 781 238 794 235 812 239 812ZM472 812 477 812 479 794 487 781 497 773 509 770 522 773 531 781 544 800 544 812 593 812 594 806 592 800 583 794 552 788 528 768 509 761 497 765 479 781 469 800 469 812 472 812ZM779 583 792 570 797 555 793 536 785 524 779 524 776 530 770 555 771 573 773 579 779 583ZM777 561 779 542 785 540 789 548 787 561 779 565 777 561ZM6 577 25 572 31 567 38 555 39 542 37 529 31 520 18 515 0 515 0 530 18 532 25 536 29 548 25 560 18 565 0 568 0 577 6 577ZM503 562 509 555 503 552 501 555 503 562ZM6 344 25 338 37 328 47 316 51 303 44 285 24 260 18 230 12 221 6 219 0 219 0 268 12 269 31 281 39 291 42 303 39 316 28 328 12 335 0 336 0 344 6 344ZM773 332 779 333 788 328 800 309 799 303 792 292 779 285 767 296 762 309 765 322 773 332ZM252 311 260 309 258 303 252 306 252 311ZM491 48 503 51 517 46 527 34 526 28 509 14 497 15 488 21 480 34 481 40 491 48ZM239 42 258 43 276 40 288 34 288 28 270 17 252 17 234 28 229 34 234 40 239 42ZM247 34 249 28 258 24 272 28 271 34 264 36 247 34Z" fill="#4c4cff" fill-rule="evenodd"/><path transform="scale(.5)" d="M227 812 235 812 238 794 245 781 264 773 282 775 292 781 298 794 297 812 329 812 330 806 327 794 313 774 301 765 282 763 252 767 239 774 228 794 227 812ZM454 812 469 812 469 800 479 781 497 765 509 761 528 768 552 788 589 798 594 806 593 812 605 812 606 806 601 794 595 789 552 778 509 749 503 749 497 754 471 781 455 800 454 812ZM779 607 798 572 803 555 798 530 785 508 779 505 773 517 768 536 764 567 767 589 773 601 779 607ZM774 579 769 561 772 542 779 524 785 524 793 536 797 555 793 567 785 579 779 583 774 579ZM6 586 25 582 38 573 45 561 50 530 47 512 38 499 18 486 6 482 0 483 0 515 18 515 31 520 37 529 39 542 38 555 31 567 18 575 0 577 0 586 6 586ZM497 578 509 575 520 561 518 548 509 541 503 539 497 542 491 551 490 567 497 578ZM502 561 503 552 509 555 506 561 502 561ZM6 359 12 357 39 334 63 309 63 303 34 260 23 218 18 211 6 207 0 208 0 219 6 219 15 224 24 260 44 285 51 303 47 316 31 333 12 343 0 344 0 359 6 359ZM767 347 773 351 779 350 810 320 810 296 795 279 785 262 779 259 773 265 754 303 756 322 767 347ZM768 328 763 316 764 303 773 288 779 285 785 287 799 303 798 316 792 325 779 333 773 332 768 328ZM245 323 258 323 271 316 273 309 271 303 264 295 252 293 238 303 234 316 245 323ZM250 309 258 303 260 309 258 311 250 309ZM497 59 515 57 548 40 554 34 550 28 534 18 516 3 493 3 467 28 462 40 466 46 476 52 497 59ZM486 46 481 40 480 34 488 21 497 15 509 14 526 28 527 34 524 40 515 47 503 51 486 46ZM227 47 245 49 264 47 296 40 307 34 304 28 282 15 258 10 240 15 206 34 211 40 227 47ZM234 40 229 34 234 28 245 20 258 16 276 20 288 28 288 34 270 41 252 43 234 40Z" fill="#6666ff" fill-rule="evenodd"/><path transform="scale(.5)" d="M166 812 201 812 202 806 191 794 178 788 172 788 166 791 161 800 160 812 166 812ZM209 812 226 812 230 787 245 770 258 765 282 763 301 765 314 775 329 800 329 812 366 812 367 806 344 788 313 758 301 752 288 751 245 757 233 762 203 806 205 812 209 812ZM442 812 454 812 455 800 476 775 503 749 509 749 552 778 595 789 605 800 605 812 615 812 616 806 613 794 607 787 595 781 558 773 527 751 503 728 497 733 489 751 479 763 444 794 439 806 440 812 442 812ZM6 652 21 647 24 634 18 621 6 610 0 612 0 653 6 652ZM779 635 785 631 796 591 810 559 809 542 793 506 789 487 791 450 788 377 794 359 810 337 810 320 779 350 773 351 767 347 761 336 754 316 754 303 773 265 779 259 785 262 795 279 810 296 810 279 794 248 787 242 779 240 773 242 767 249 748 297 746 309 769 383 770 493 759 579 767 610 779 635ZM776 604 767 589 764 567 768 536 773 517 779 505 785 508 798 530 803 555 785 599 779 607 776 604ZM6 609 50 579 55 567 61 524 60 512 54 499 24 469 6 446 0 446 0 483 12 483 37 498 47 512 50 530 45 561 38 573 18 584 0 586 0 607 6 609ZM497 594 503 593 515 580 525 567 528 555 522 542 503 530 490 536 484 548 481 561 481 573 485 585 497 594ZM492 573 489 561 492 548 497 542 503 539 509 541 518 548 520 555 517 567 503 578 497 578 492 573ZM6 373 18 369 49 334 61 324 79 316 84 309 61 285 39 254 31 218 25 205 18 200 6 197 0 198 0 208 12 208 23 218 34 260 63 303 63 309 37 337 12 357 0 359 0 373 6 373ZM233 331 258 331 276 322 282 309 276 297 264 286 258 284 245 288 232 297 220 309 219 316 221 322 233 331ZM241 322 234 316 234 309 245 296 258 292 264 295 271 303 273 309 271 316 264 321 252 323 241 322ZM497 66 515 65 564 46 571 40 572 28 564 19 533 3 516 3 534 18 550 28 554 34 548 40 522 54 503 59 476 52 466 46 462 40 467 28 493 3 475 3 454 19 436 25 362 22 325 24 307 20 270 4 253 3 221 17 181 28 177 34 202 46 233 54 319 43 423 43 497 66ZM224 46 211 40 206 34 240 15 258 10 282 15 304 28 307 34 296 40 264 47 239 49 224 46Z" fill="#7f7fff" fill-rule="evenodd"/><path transform="scale(.5)" d="M153 812 160 812 161 800 166 791 178 788 198 800 202 806 201 812 205 812 203 806 233 762 245 757 288 751 301 752 313 758 344 788 361 800 367 806 366 812 385 812 386 806 380 796 350 780 307 743 288 739 258 744 239 737 227 741 214 763 202 772 166 771 160 777 152 794 150 812 153 812ZM436 812 440 812 440 800 444 794 479 763 489 751 497 733 503 728 527 751 558 773 595 781 607 787 615 800 615 812 628 812 629 800 627 794 615 781 601 775 571 771 558 765 528 742 512 720 507 702 510 671 509 622 518 591 537 561 538 555 530 542 503 519 497 519 484 530 475 548 470 567 473 585 491 616 483 653 485 738 472 759 436 789 430 806 431 812 436 812ZM492 591 482 579 482 555 491 536 503 530 522 542 528 555 528 561 509 587 503 593 492 591ZM160 753 166 755 172 745 171 732 166 728 160 730 154 738 154 745 160 753ZM258 716 264 714 267 708 267 702 264 698 255 702 253 708 258 716ZM6 662 25 658 41 647 40 610 49 599 71 585 75 573 68 555 73 524 69 506 32 463 16 432 6 427 0 427 0 446 6 446 12 452 24 469 54 499 60 512 61 524 55 567 50 579 6 609 0 607 0 612 6 610 12 614 24 634 24 640 18 648 0 653 0 662 6 662ZM61 655 74 658 82 653 84 647 80 641 67 641 57 647 61 655ZM779 657 785 655 792 641 804 592 810 578 810 559 796 591 785 631 779 635 767 610 759 579 770 493 769 383 746 309 748 297 765 254 773 242 785 241 792 245 810 279 810 254 804 242 792 231 779 229 767 234 761 241 738 303 763 401 762 512 754 567 754 585 767 634 773 649 779 657ZM98 557 104 559 110 557 114 548 110 545 104 545 98 548 98 557ZM810 547 810 528 799 499 797 481 799 389 801 377 810 362 810 337 794 359 788 377 791 450 789 487 810 547ZM6 382 25 376 53 340 74 327 160 330 196 321 227 340 245 342 264 338 282 328 293 316 293 309 270 283 258 275 252 275 221 295 190 304 141 303 110 305 92 300 70 285 47 254 41 242 37 211 31 198 18 186 12 184 0 184 0 198 12 198 25 205 31 218 39 254 61 285 84 309 79 316 61 324 49 334 18 369 12 372 0 373 0 382 6 382ZM227 328 219 316 220 309 245 288 258 284 264 286 280 303 281 316 270 326 245 332 227 328ZM497 72 509 74 572 52 579 46 583 34 578 15 559 3 533 3 567 21 572 28 571 40 558 48 515 65 503 67 430 44 319 43 233 54 202 46 177 34 181 28 221 17 253 3 234 3 221 9 171 21 158 28 155 34 163 40 178 46 227 59 245 59 301 51 411 50 472 64 497 72ZM313 22 325 24 362 22 442 24 460 15 475 3 451 3 436 12 423 14 331 16 313 14 285 3 266 3 313 22Z" fill="#9999ff" fill-rule="evenodd"/><path transform="scale(.5)" d="M141 812 150 812 153 789 166 771 202 772 214 763 227 741 239 737 258 744 288 739 307 743 350 780 380 796 386 806 385 812 397 812 398 806 393 794 387 788 350 771 333 757 313 734 287 720 285 708 291 677 288 672 282 671 258 679 233 675 231 677 236 702 233 714 220 726 202 753 196 755 190 753 187 745 189 714 188 708 172 707 147 724 141 732 137 745 143 775 141 812ZM157 751 154 738 160 730 166 728 171 732 172 745 166 755 157 751ZM256 714 253 708 255 702 264 698 267 702 267 708 264 714 256 714ZM423 812 431 812 431 800 437 787 472 759 485 738 483 653 491 616 473 585 470 567 475 548 484 530 497 519 503 519 530 542 538 555 537 561 518 591 509 622 510 671 507 702 512 720 528 742 558 765 571 771 601 775 615 781 627 794 629 800 628 812 660 812 660 800 653 787 614 772 564 761 534 739 520 720 516 702 517 640 524 604 531 585 540 575 552 567 601 564 611 561 615 555 607 548 595 546 558 551 546 546 521 524 514 512 509 492 503 487 466 539 445 555 457 573 476 616 473 696 478 732 470 751 430 781 424 787 421 800 421 812 423 812ZM779 812 787 812 784 769 787 732 787 683 810 600 810 578 804 592 792 641 785 655 779 657 773 649 767 634 754 585 754 567 762 512 763 401 738 303 751 273 760 242 767 234 779 229 792 231 804 242 810 254 810 223 785 218 767 222 757 230 745 273 730 303 744 340 757 401 758 518 749 561 749 579 761 634 775 677 771 708 771 745 762 769 771 794 773 812 779 812ZM6 672 37 669 67 676 80 671 92 661 106 640 104 625 98 623 67 626 60 622 57 616 59 610 86 592 98 579 110 576 135 581 137 579 133 555 142 530 140 524 135 522 104 527 92 525 78 499 55 479 41 463 24 426 18 419 6 415 0 415 0 427 6 427 16 432 32 463 69 506 73 524 68 555 75 573 71 585 49 599 40 610 41 647 23 659 0 662 0 671 6 672ZM59 653 57 647 67 641 80 641 84 647 82 653 74 658 67 659 59 653ZM96 555 98 548 104 545 110 545 114 548 110 557 104 559 96 555ZM313 562 319 565 325 561 327 555 326 548 319 548 313 552 313 562ZM350 531 356 527 356 518 350 516 344 524 350 531ZM810 528 810 510 804 481 806 450 805 408 810 385 810 362 801 377 799 389 797 481 799 499 810 528ZM252 500 258 501 264 495 264 487 258 485 252 488 248 493 252 500ZM282 465 288 468 295 465 295 457 285 457 282 465ZM6 392 18 391 31 384 57 346 67 338 80 334 117 340 196 336 239 355 258 368 273 346 325 309 321 303 301 299 288 292 266 267 261 254 266 218 264 206 258 198 252 201 248 211 245 260 238 273 227 282 209 289 172 295 110 297 92 293 73 279 51 248 40 199 25 160 12 153 0 153 0 184 12 184 18 186 31 198 37 211 41 242 47 254 70 285 92 300 110 305 141 303 190 304 221 295 252 275 258 275 270 283 293 309 293 316 282 328 264 338 245 342 227 340 196 321 160 330 74 327 53 340 23 377 12 382 0 382 0 391 6 392ZM497 79 509 83 540 68 583 56 591 46 594 34 590 3 559 3 571 9 581 21 583 34 577 48 571 53 540 62 509 74 411 50 301 51 245 59 227 59 178 46 163 40 155 34 158 28 171 21 221 9 234 3 212 3 129 26 80 26 43 29 0 26 0 40 18 41 43 51 67 42 104 41 135 38 178 52 227 63 252 64 295 55 411 56 472 69 497 79ZM319 15 423 14 436 12 451 3 428 3 405 8 362 7 331 9 302 3 285 3 319 15Z" fill="#b2b2ff" fill-rule="evenodd"/><path transform="scale(.5)" d="M117 812 141 812 143 775 137 745 141 732 153 718 172 707 188 708 189 714 187 745 190 753 196 755 202 753 220 726 233 714 236 702 231 677 233 675 258 679 282 671 288 672 291 677 285 708 288 721 313 734 333 757 350 771 393 793 397 800 397 812 421 812 421 800 424 787 430 781 470 751 478 732 473 696 476 616 457 573 445 555 466 539 503 487 509 492 514 512 521 524 546 546 558 551 595 546 607 548 615 555 611 561 601 564 552 567 540 575 531 585 524 604 517 640 516 702 523 726 534 739 568 763 614 772 650 786 658 794 660 812 672 812 671 794 663 780 650 774 571 756 534 731 523 708 524 640 540 591 552 584 620 568 640 555 631 548 607 541 552 536 540 532 526 518 521 487 515 475 503 462 491 461 486 469 482 493 472 511 454 530 430 538 422 548 424 561 428 567 450 585 465 622 465 689 469 732 460 749 442 762 405 780 364 769 337 752 328 738 319 718 306 708 303 702 301 665 295 655 282 654 258 661 239 650 233 649 221 657 202 683 172 687 160 693 142 714 121 732 117 745 112 806 112 812 117 812ZM767 812 773 812 773 800 762 769 771 745 771 708 775 677 761 634 752 598 749 573 758 518 757 401 744 340 730 303 745 273 754 236 761 225 779 219 810 223 810 203 792 201 767 208 753 218 747 230 738 273 720 303 738 334 751 401 753 518 743 561 748 604 766 671 767 683 765 738 761 751 749 769 762 794 764 812 767 812ZM792 812 797 812 791 769 794 689 810 630 810 600 787 683 787 732 784 775 787 812 792 812ZM6 700 67 696 80 691 98 670 119 653 125 640 130 610 155 591 163 579 162 573 151 555 159 530 157 518 147 511 110 509 104 506 94 493 74 484 61 475 43 449 32 408 50 371 63 352 80 343 123 347 190 348 227 362 245 384 252 389 264 391 274 383 282 359 302 340 319 330 344 326 352 322 350 309 337 297 325 292 295 287 280 273 276 260 271 205 264 182 258 173 244 193 229 260 221 273 172 289 104 290 82 279 56 242 38 162 32 150 18 141 0 140 0 153 18 155 26 162 40 199 49 244 73 279 86 289 110 297 172 295 209 289 227 282 238 273 245 260 248 211 252 201 258 198 264 206 266 218 261 254 266 267 288 292 301 299 321 303 325 309 273 346 258 368 239 355 196 336 117 340 80 334 61 342 31 383 25 388 12 392 0 391 0 415 12 416 19 420 41 463 55 479 78 499 91 524 104 527 135 522 140 524 142 530 133 555 137 579 135 581 110 576 98 579 86 592 59 610 57 616 60 622 67 626 98 623 104 625 106 640 99 653 80 671 67 676 37 669 0 671 0 701 6 700ZM270 623 279 616 276 612 266 616 270 623ZM301 583 313 583 325 579 333 573 344 554 350 548 379 542 372 506 368 501 356 498 344 500 336 506 325 527 300 542 296 555 295 567 301 583ZM312 561 312 555 317 548 326 548 327 555 325 561 319 565 312 561ZM347 530 344 524 348 518 356 518 356 527 347 530ZM190 544 196 546 199 542 200 536 196 533 190 540 190 544ZM233 515 252 517 270 512 285 487 307 476 312 469 314 457 311 444 307 440 270 434 264 463 259 469 239 480 233 487 228 506 229 512 233 515ZM250 499 248 493 252 488 258 485 264 487 265 493 260 499 250 499ZM281 463 285 457 295 457 296 463 288 468 281 463ZM810 510 810 385 805 401 806 450 804 481 810 510ZM417 471 423 472 425 469 423 466 417 468 417 471ZM454 439 472 422 477 414 479 408 472 396 466 402 460 423 451 432 448 438 454 439ZM344 396 346 389 344 388 341 389 344 396ZM374 364 380 362 389 352 411 346 416 340 405 334 393 338 374 356 374 364ZM595 293 600 291 602 285 595 276 590 279 588 285 595 293ZM663 286 663 273 658 248 659 193 657 184 650 178 647 181 647 187 655 224 656 279 663 286ZM528 224 534 223 537 218 528 211 522 213 520 218 528 224ZM607 163 632 166 635 162 629 156 620 154 564 155 540 150 527 150 533 156 589 158 607 163ZM749 151 761 155 770 150 769 144 766 138 749 125 736 120 730 121 726 126 749 151ZM503 91 509 93 540 75 583 66 595 60 604 46 611 28 610 3 590 3 594 34 591 46 583 56 540 68 509 83 472 69 411 56 295 55 239 64 215 61 178 52 135 38 104 41 67 42 43 51 18 41 0 40 0 49 18 51 43 64 61 52 74 48 129 46 141 47 209 65 252 70 295 60 411 62 472 73 485 78 503 91ZM681 83 687 87 692 83 691 70 675 47 663 43 658 52 659 58 663 65 681 83ZM31 28 129 26 212 3 183 3 135 17 117 19 43 22 0 16 0 26 31 28ZM307 5 325 9 368 7 405 8 428 3 302 3 307 5Z" fill="#ccccff" fill-rule="evenodd"/><path transform="scale(.5)" d="M98 812 112 812 117 745 121 732 142 714 160 693 172 687 202 683 221 657 233 649 239 650 258 661 282 654 295 655 301 665 303 702 306 708 319 718 337 751 362 768 381 775 405 780 442 762 458 751 466 741 469 732 465 689 465 622 450 585 428 567 424 561 422 548 430 538 454 530 466 518 482 493 489 463 497 460 509 467 515 475 521 487 526 518 540 532 552 536 607 541 631 548 640 555 620 568 552 584 540 591 524 640 522 702 527 720 540 736 572 757 657 777 669 787 672 812 683 812 681 787 670 775 650 767 591 757 577 752 539 726 531 714 528 702 531 640 547 604 558 595 589 583 626 574 663 555 660 548 644 543 552 526 540 521 533 512 526 475 499 432 485 392 472 375 466 372 460 375 449 408 435 420 422 438 405 451 393 470 387 475 374 478 362 476 356 471 350 473 327 493 313 512 278 542 268 555 276 569 275 585 270 592 252 604 236 628 219 640 202 663 196 668 184 668 172 656 166 656 89 732 82 745 95 781 98 812ZM388 757 380 751 368 756 356 755 344 747 336 732 345 708 343 702 319 693 313 677 313 647 307 622 309 610 319 598 340 585 351 567 362 561 399 567 436 588 446 604 457 640 460 720 455 738 441 751 423 759 405 762 388 757ZM268 622 266 616 270 614 276 612 279 616 273 622 268 622ZM297 579 295 561 300 542 325 527 336 506 344 500 356 498 368 501 372 506 379 542 350 548 344 554 333 573 325 579 307 584 301 583 297 579ZM417 469 423 466 425 469 423 472 417 469ZM448 438 451 432 460 423 466 402 472 396 479 408 474 420 456 438 448 438ZM761 812 764 812 763 800 749 769 761 751 765 738 767 677 749 605 743 561 753 518 751 401 738 334 720 303 738 273 747 230 753 218 767 208 785 201 810 203 810 144 792 138 767 121 742 96 736 93 730 94 712 109 693 132 700 138 724 149 763 181 762 193 741 218 735 260 724 283 712 291 699 294 687 287 679 273 671 248 669 177 666 162 663 161 644 175 634 187 632 193 636 211 636 242 641 273 638 287 632 294 626 295 607 266 601 261 589 258 578 267 568 297 572 303 589 306 699 306 724 320 736 340 746 401 748 518 742 536 736 542 722 548 724 555 730 558 736 566 739 573 747 622 760 671 761 732 758 745 749 756 720 769 720 775 749 788 756 800 757 812 761 812ZM592 291 588 285 589 280 595 276 601 282 601 289 595 293 592 291ZM661 285 657 279 655 224 647 187 647 181 650 178 657 184 659 193 658 248 664 279 663 285 661 285ZM747 150 726 126 730 121 736 120 749 125 766 138 769 144 770 150 761 155 747 150ZM798 812 805 812 797 763 799 702 810 657 810 630 796 677 794 696 791 769 798 812ZM61 728 67 730 86 718 156 647 156 640 144 628 144 616 149 610 172 594 184 577 208 561 220 542 227 537 244 536 258 544 270 534 301 500 319 486 340 463 342 457 337 450 334 438 337 426 342 420 362 408 374 390 393 377 404 365 436 354 440 346 437 340 421 328 380 314 337 287 301 280 291 273 286 260 269 169 264 153 258 149 239 187 229 224 217 254 209 266 172 282 110 284 98 282 86 274 60 236 55 221 45 162 37 143 25 132 0 130 0 140 25 144 35 156 55 241 76 273 92 286 110 290 172 289 221 273 229 260 244 193 258 173 264 182 271 205 276 260 280 273 295 287 325 292 337 297 345 303 353 316 350 324 319 330 294 346 282 359 274 383 264 391 252 389 245 384 227 362 190 348 123 347 80 343 67 349 55 363 32 408 37 432 47 457 61 476 94 493 104 506 110 509 147 511 157 518 159 530 151 555 162 573 163 579 155 591 130 610 125 640 119 653 98 670 80 691 67 696 0 701 0 715 31 717 61 728ZM190 542 196 533 200 536 196 546 190 542ZM229 512 229 499 233 487 239 480 259 469 264 463 270 434 307 440 311 444 314 457 312 469 307 476 285 487 270 512 258 517 245 517 229 512ZM135 499 120 493 110 469 104 468 86 475 74 475 65 469 58 457 56 444 62 432 51 414 51 395 61 371 80 354 92 352 135 356 166 355 187 359 221 374 245 414 251 444 250 457 224 475 209 499 190 505 166 499 135 499ZM341 395 341 389 344 388 346 389 345 395 341 395ZM373 359 390 340 399 335 405 334 416 340 411 346 389 352 380 362 374 364 373 359ZM534 298 538 297 534 296 534 298ZM515 280 515 274 515 280ZM515 245 546 235 555 224 552 211 547 205 518 187 518 181 526 175 540 172 571 176 601 176 620 181 626 179 638 169 652 150 650 147 636 144 564 142 535 132 526 126 518 113 524 95 534 86 552 78 595 72 620 51 632 50 664 89 675 113 681 120 699 106 719 83 720 77 717 70 693 48 674 21 668 3 610 3 611 28 604 46 595 60 583 66 540 75 509 93 479 75 411 62 295 60 252 70 209 65 141 47 129 46 74 48 61 52 43 64 18 51 0 49 0 56 12 57 24 64 37 93 43 93 56 64 67 55 80 52 141 53 190 66 239 74 246 77 255 83 258 89 264 91 270 77 276 70 295 65 411 67 479 79 492 89 507 113 506 224 509 241 515 245ZM525 224 520 218 522 213 528 211 534 213 537 218 534 223 525 224ZM605 162 589 158 533 156 527 150 540 150 564 155 620 154 629 156 635 162 632 166 605 162ZM681 83 663 65 659 58 658 52 663 43 675 47 691 70 692 83 687 87 681 83ZM43 22 123 19 183 3 155 3 110 14 49 16 0 8 0 16 43 22Z" fill="#e5e5ff" fill-rule="evenodd"/><path transform="scale(.5)" d="M12 812 51 812 55 797 67 793 75 800 77 812 88 812 86 794 80 782 74 777 55 772 49 774 8 812 12 812ZM693 812 709 812 710 806 718 799 730 800 737 806 737 812 749 812 749 806 742 794 736 791 706 787 699 789 697 794 693 812ZM5 800 34 769 40 757 38 745 30 732 18 726 0 724 0 735 12 737 19 745 15 757 0 761 0 804 5 800ZM810 790 810 681 804 705 802 763 810 790ZM675 770 693 775 712 762 742 753 752 745 756 732 755 677 742 628 736 579 730 568 724 564 697 555 711 542 736 530 742 518 740 401 732 340 725 328 718 322 699 316 669 315 626 317 595 315 558 321 509 317 480 346 481 365 515 438 532 469 546 510 552 514 584 524 657 540 683 555 626 581 590 591 556 610 546 623 538 640 536 708 546 722 589 750 650 762 675 770ZM675 763 591 745 550 714 544 702 548 671 547 647 558 624 577 610 626 589 657 572 687 564 706 564 724 570 733 585 735 628 749 677 748 702 751 732 749 739 736 749 693 763 675 763ZM678 542 650 533 595 520 555 499 526 438 519 414 503 394 493 371 497 354 515 337 528 330 564 330 595 322 632 325 663 322 699 322 712 325 724 333 731 352 735 401 736 512 730 524 706 539 693 544 678 542ZM405 748 417 750 430 746 440 738 449 726 452 708 449 640 439 616 430 601 393 577 380 573 368 574 361 579 350 600 331 616 324 671 326 677 331 681 350 686 356 692 357 714 352 732 356 736 368 731 380 730 393 736 405 748ZM405 732 370 714 367 677 344 668 338 659 338 640 343 628 363 610 371 591 380 585 387 586 423 609 436 628 442 647 442 714 434 726 423 736 417 738 405 732ZM141 488 196 482 212 463 234 450 239 438 235 420 212 383 178 365 166 362 104 360 86 363 70 377 62 395 64 408 76 420 82 432 81 444 76 457 80 460 98 455 120 457 127 463 131 481 135 486 141 488ZM156 475 144 469 135 446 129 443 104 445 94 438 86 416 75 401 74 395 80 384 88 377 104 370 166 370 195 383 208 395 226 426 228 432 225 438 202 449 184 470 172 474 156 475ZM436 394 438 389 436 388 436 394ZM423 378 423 375 419 377 423 378ZM442 329 466 332 496 303 492 254 498 218 495 181 497 120 491 95 479 84 466 79 411 72 295 71 282 77 270 102 258 116 248 89 244 83 232 77 184 71 135 58 80 57 67 61 61 68 50 101 37 120 38 126 49 158 62 224 90 267 96 273 110 277 166 276 178 272 198 260 208 248 220 224 231 187 258 130 272 156 288 229 298 260 303 267 344 280 442 329ZM430 316 399 293 374 287 350 274 319 262 307 250 290 211 279 162 268 126 271 113 282 92 295 79 307 77 405 78 454 81 472 85 485 95 490 120 488 181 491 218 482 248 482 285 476 297 454 318 442 319 430 316ZM104 267 96 260 67 222 48 132 49 120 66 70 73 64 80 62 110 65 135 64 184 78 221 79 235 83 242 89 247 101 247 132 238 162 223 187 214 211 196 246 179 260 166 266 135 265 117 268 104 267ZM699 279 712 280 724 270 729 254 732 211 744 187 741 181 728 169 712 159 699 160 687 165 681 173 678 187 679 248 687 268 699 279ZM703 267 693 259 689 248 687 193 693 179 706 176 715 181 719 187 721 242 718 261 712 267 703 267ZM558 132 620 135 638 132 647 126 651 120 654 107 652 95 638 77 626 69 595 82 564 83 546 87 534 98 533 113 545 126 558 132ZM618 126 564 124 548 113 546 101 552 95 564 92 626 94 634 101 636 113 632 121 618 126ZM804 133 810 135 810 122 774 107 765 95 764 83 773 70 785 66 798 68 804 77 806 95 810 107 810 47 785 40 754 70 755 89 759 101 767 111 804 133ZM1 120 12 118 23 113 25 101 23 83 18 71 12 66 0 63 0 75 7 77 12 83 13 89 9 101 0 104 1 120ZM730 59 742 59 749 55 773 28 766 3 706 3 718 7 736 9 745 15 746 28 743 40 736 46 724 49 713 46 706 40 691 3 678 3 702 46 712 54 730 59ZM43 10 107 9 131 3 22 3 43 10Z" fill="#fbe7e7" fill-rule="evenodd"/><path transform="scale(.5)" d="M55 812 77 812 74 797 67 793 55 797 51 812 55 812ZM712 812 737 812 737 806 730 800 718 799 710 806 709 812 712 812ZM810 770 810 741 810 770ZM681 764 693 763 736 749 749 739 751 732 748 702 749 677 735 628 733 585 724 570 699 564 681 565 657 572 626 589 571 613 555 628 547 647 548 671 544 702 552 716 595 746 681 764ZM673 757 595 739 562 708 558 696 569 671 564 647 569 634 575 628 626 599 652 579 687 570 712 571 724 577 729 585 727 628 736 673 737 702 744 720 744 732 741 738 730 744 693 757 673 757ZM6 761 15 757 19 745 12 737 0 735 0 761 6 761ZM405 732 417 738 423 736 434 726 442 714 442 647 436 628 423 609 387 586 380 585 371 591 363 610 343 628 338 640 338 659 344 668 367 677 370 714 405 732ZM380 708 378 702 385 677 383 671 374 665 356 658 351 653 350 640 356 632 387 611 393 608 405 610 417 616 431 640 434 659 431 689 423 703 405 712 393 713 380 708ZM810 730 810 704 810 730ZM681 544 693 544 721 530 730 524 736 512 735 401 731 352 724 333 712 325 699 322 663 322 632 325 595 322 564 330 528 330 515 337 497 354 493 371 503 394 519 414 526 438 555 499 595 520 650 533 681 544ZM674 536 607 516 571 496 561 487 536 432 545 401 540 395 515 389 504 377 504 365 520 346 534 339 564 342 589 330 601 329 632 332 699 328 712 331 723 340 727 365 730 493 728 512 719 524 699 536 687 539 674 536ZM160 475 184 470 202 449 225 438 228 432 226 426 208 395 195 383 166 370 104 370 88 377 80 384 74 395 75 401 86 416 94 438 104 445 129 443 135 446 144 469 153 475 160 475ZM163 463 154 457 148 438 141 430 129 428 110 434 103 432 99 420 100 408 109 389 116 383 141 379 166 379 188 389 200 401 204 414 201 426 178 459 172 462 163 463ZM436 318 448 320 460 314 476 297 482 285 482 248 491 218 488 181 490 120 485 95 472 85 454 81 405 78 307 77 295 79 282 92 271 113 268 126 279 162 290 211 307 250 319 262 350 274 374 287 399 293 419 309 436 318ZM441 309 430 305 423 297 418 273 411 267 380 277 329 254 317 242 295 200 274 132 277 113 295 88 313 83 454 86 470 89 479 95 484 113 481 181 484 211 482 224 470 248 473 279 467 291 456 303 448 309 441 309ZM104 267 166 266 179 260 196 246 214 211 223 187 238 162 247 132 247 101 242 89 235 83 221 79 184 78 135 64 110 65 80 62 73 64 66 70 49 120 48 132 67 222 96 260 104 267ZM102 248 73 218 55 138 56 120 74 72 86 68 110 76 135 76 178 85 221 83 233 87 240 95 243 107 242 126 237 150 232 162 213 187 184 238 178 244 166 249 141 243 117 254 110 254 102 248ZM706 267 712 267 720 254 720 193 715 181 706 176 699 176 693 179 688 187 687 242 693 259 706 267ZM620 126 632 121 636 113 634 101 626 94 564 92 552 95 546 101 548 113 564 124 620 126ZM810 122 810 107 801 70 785 66 773 70 764 83 765 95 768 101 779 110 810 122ZM780 101 774 95 773 89 779 81 785 80 792 85 793 95 789 101 780 101ZM6 103 12 96 12 83 7 77 0 75 0 104 6 103ZM718 48 730 49 742 40 746 28 745 15 736 9 718 7 706 3 691 3 706 39 718 48ZM723 40 718 39 712 33 712 24 718 20 728 21 733 28 730 36 723 40ZM43 3 71 3 43 3ZM86 3 108 3 83 3 86 3Z" fill="#f8cfcf" fill-rule="evenodd"/><path transform="scale(.5)" d="M675 757 693 757 730 744 741 738 744 732 744 720 737 702 736 673 727 628 729 585 724 577 712 571 687 570 652 579 626 599 575 628 569 634 564 647 569 671 558 696 559 702 587 732 601 741 675 757ZM667 751 607 735 596 726 593 714 598 689 596 647 599 640 638 606 654 585 681 576 712 575 719 579 725 591 719 622 720 665 716 696 718 703 733 720 734 732 726 738 693 750 667 751ZM380 709 393 713 405 712 423 703 431 689 434 659 431 640 417 616 405 610 393 608 387 611 356 632 350 640 351 653 356 658 374 665 383 671 384 683 378 702 380 709ZM403 683 393 663 370 647 370 640 379 634 399 626 411 630 418 640 424 659 423 672 418 683 411 686 403 683ZM675 536 687 539 699 536 719 524 728 512 730 493 727 365 723 340 712 331 699 328 632 332 601 329 589 330 564 342 534 339 520 346 504 365 504 377 515 389 540 395 545 401 536 432 561 487 571 496 607 516 675 536ZM671 530 611 506 595 492 576 481 566 469 562 450 571 420 568 377 582 346 595 337 638 339 706 335 716 340 720 346 723 365 721 506 715 518 699 530 687 534 671 530ZM519 371 522 362 534 353 546 356 554 365 554 371 540 376 528 376 519 371ZM166 463 180 457 201 426 204 414 200 401 188 389 166 379 141 379 116 383 109 389 100 408 99 420 103 432 110 434 129 428 141 430 148 438 154 457 166 463ZM163 438 149 420 127 408 126 401 129 395 140 389 153 389 172 394 183 401 186 414 178 434 172 442 166 443 163 438ZM442 310 448 309 460 299 473 279 470 248 482 224 484 211 481 181 484 113 479 95 470 89 454 86 313 83 295 88 277 113 274 132 295 200 317 242 329 254 380 277 411 267 418 273 423 297 428 303 442 310ZM439 291 436 279 438 267 442 259 448 259 457 267 460 279 448 293 439 291ZM346 248 331 237 301 190 279 132 280 120 288 103 301 94 313 91 368 92 454 90 471 95 476 101 478 113 474 175 476 211 472 224 460 234 436 244 393 241 368 250 346 248ZM104 251 117 254 141 243 166 249 178 244 184 238 213 187 232 162 237 150 242 126 243 107 240 95 233 87 221 83 178 85 135 76 110 76 86 68 74 72 56 120 55 138 73 218 104 251ZM88 218 78 205 60 138 62 120 74 87 80 79 92 80 109 95 117 97 147 93 190 94 215 88 227 89 233 93 238 107 238 120 234 144 229 156 221 165 207 175 172 214 166 217 129 214 98 220 88 218ZM785 102 792 99 793 89 785 80 779 81 773 88 774 95 779 101 785 102ZM724 40 732 34 733 28 728 21 718 20 712 24 712 34 718 39 724 40Z" fill="#f4b8b8" fill-rule="evenodd"/><path transform="scale(.5)" d="M669 751 693 750 726 738 734 732 733 720 718 703 716 696 720 665 719 622 725 591 719 579 712 575 681 576 654 585 638 606 599 640 596 647 598 689 593 714 596 726 607 735 669 751ZM666 745 644 738 627 726 611 689 610 665 616 653 651 622 655 616 660 591 675 583 706 579 718 585 719 598 710 628 707 677 693 708 714 726 712 732 703 738 685 745 666 745ZM657 709 666 708 666 702 655 702 653 708 657 709ZM405 686 411 686 418 683 423 672 424 659 418 640 411 630 399 626 379 634 370 640 370 647 393 663 405 686ZM675 531 687 534 700 530 715 518 721 506 723 365 720 346 716 340 706 335 638 339 595 337 582 346 568 377 571 420 562 450 566 469 576 481 595 492 611 506 675 531ZM672 524 659 512 657 502 651 499 632 499 620 494 592 463 591 450 597 420 593 365 596 352 601 347 620 346 644 350 653 359 658 371 669 375 681 369 688 352 694 346 706 344 712 347 714 352 710 506 706 518 699 524 687 528 672 524ZM166 443 172 442 185 420 186 408 183 401 172 394 153 389 140 389 129 395 126 401 127 408 149 420 166 443ZM522 373 534 377 546 375 554 371 554 365 546 356 534 353 520 365 522 373ZM442 293 450 291 460 279 457 267 448 259 442 259 437 273 436 285 442 293ZM350 249 368 250 393 241 436 244 460 234 472 224 476 211 474 175 478 113 476 101 471 95 454 90 368 92 313 91 301 94 288 103 280 120 279 132 302 193 336 242 350 249ZM345 218 324 199 315 187 310 156 301 154 288 141 284 126 288 113 294 107 307 103 350 100 454 97 465 101 468 107 466 119 460 125 444 132 438 144 442 155 460 164 464 175 467 205 460 217 442 219 393 215 356 222 345 218ZM92 219 129 214 166 217 172 214 207 175 221 165 229 156 234 144 238 120 238 107 233 93 227 89 215 88 190 94 147 93 117 97 109 95 92 80 80 79 74 87 62 120 60 138 78 205 86 217 92 219ZM114 199 86 186 74 169 68 150 67 132 74 110 80 100 86 99 104 119 135 106 184 103 215 93 227 95 233 107 233 120 227 144 221 153 196 158 190 162 153 201 135 204 114 199ZM104 160 110 158 110 147 104 147 104 160Z" fill="#f0a0a0" fill-rule="evenodd"/><path transform="scale(.5)" d="M669 745 687 744 703 738 712 732 714 726 693 708 707 677 710 628 719 598 718 585 706 579 675 583 660 591 655 616 651 622 616 653 610 665 611 689 627 726 644 738 669 745ZM666 732 675 732 666 732ZM653 708 655 702 666 702 666 708 653 708ZM625 689 620 682 620 670 626 661 644 648 667 628 671 616 671 598 675 593 699 586 711 591 712 598 697 634 698 671 693 682 681 687 657 682 638 691 632 692 625 689ZM675 525 687 528 699 524 706 518 710 506 714 352 712 347 706 344 694 346 688 352 681 369 669 375 658 371 653 359 644 350 620 346 601 347 596 352 593 365 597 420 591 450 592 463 620 494 632 499 651 499 657 502 664 518 675 525ZM683 518 684 512 690 512 689 518 683 518ZM625 475 619 469 613 457 620 414 608 371 614 359 620 357 631 359 638 364 646 383 657 393 693 387 699 393 701 401 702 457 696 469 687 472 657 470 638 476 625 475ZM350 221 362 222 393 215 442 219 460 217 467 205 464 175 460 164 442 155 438 144 444 132 460 125 466 119 468 107 465 101 454 97 307 103 295 107 288 113 284 126 288 141 301 154 310 156 313 162 313 181 319 193 350 221ZM354 199 342 193 336 181 343 156 341 126 344 117 350 112 362 111 411 112 423 116 426 126 420 156 423 162 448 175 454 181 456 193 453 199 448 203 436 204 399 193 368 199 354 199ZM294 126 301 123 302 126 301 129 295 130 294 126ZM117 200 135 204 153 201 190 162 196 158 221 153 227 144 233 120 233 107 227 95 215 93 184 103 135 106 104 119 86 99 80 100 74 110 67 132 68 150 74 169 86 186 117 200ZM130 193 122 187 120 181 130 156 125 132 130 120 141 115 178 115 215 101 221 101 227 113 219 138 215 141 196 142 184 146 147 191 141 194 130 193ZM104 156 104 147 110 147 110 158 104 160 104 156ZM79 144 80 138 80 147 79 144Z" fill="#ed8888" fill-rule="evenodd"/><path transform="scale(.5)" d="M669 733 675 732 666 732 669 733ZM626 690 638 691 657 682 681 687 693 682 698 671 697 634 712 598 711 591 706 587 693 586 681 590 671 598 671 616 667 628 644 648 626 661 620 670 620 682 626 690ZM687 519 690 512 687 511 684 512 683 518 687 519ZM626 475 638 476 657 470 687 472 696 469 702 457 701 401 699 393 693 387 657 393 646 383 638 364 631 359 620 357 614 359 608 371 620 414 613 457 619 469 626 475ZM356 200 399 193 436 204 448 203 453 199 456 193 454 181 448 175 423 162 420 156 426 126 423 116 411 112 362 111 350 112 344 117 341 126 343 156 336 181 342 193 356 200ZM135 194 143 193 151 187 164 169 184 146 196 142 215 141 219 138 227 113 221 101 215 101 178 115 141 115 130 120 125 132 130 156 120 181 123 188 135 194ZM80 147 80 138 80 147ZM295 130 301 129 301 123 295 123 295 130Z" fill="#e97070" fill-rule="evenodd"/></g><path d="M-5,411.0 L411.5,-5" stroke="#fff" stroke-width="4.5"/></g>
</g>
<rect x="761.7" y="1159.8" width="406.5" height="406" fill="none" stroke="#262626" stroke-width="1.6"/>
<text x="799.1" y="1596.3" font-size="22.5" text-anchor="middle">200</text>
<text x="752" y="1536.4" font-size="22.5" text-anchor="end">200</text>
<text x="860.5" y="1596.3" font-size="22.5" text-anchor="middle">220</text>
<text x="752" y="1475.1" font-size="22.5" text-anchor="end">220</text>
<text x="921.8" y="1596.3" font-size="22.5" text-anchor="middle">240</text>
<text x="752" y="1413.9" font-size="22.5" text-anchor="end">240</text>
<text x="983.2" y="1596.3" font-size="22.5" text-anchor="middle">260</text>
<text x="752" y="1352.6" font-size="22.5" text-anchor="end">260</text>
<text x="1044.6" y="1596.3" font-size="22.5" text-anchor="middle">280</text>
<text x="752" y="1291.3" font-size="22.5" text-anchor="end">280</text>
<text x="1105.9" y="1596.3" font-size="22.5" text-anchor="middle">300</text>
<text x="752" y="1230.0" font-size="22.5" text-anchor="end">300</text>
<text x="1167.3" y="1596.3" font-size="22.5" text-anchor="middle">320</text>
<text x="752" y="1168.7" font-size="22.5" text-anchor="end">320</text>
<path d="M799.1,1565.8v-5M799.1,1159.8v5M761.7,1528.4h5M1168.2,1528.4h-5M860.5,1565.8v-5M860.5,1159.8v5M761.7,1467.1h5M1168.2,1467.1h-5M921.8,1565.8v-5M921.8,1159.8v5M761.7,1405.9h5M1168.2,1405.9h-5M983.2,1565.8v-5M983.2,1159.8v5M761.7,1344.6h5M1168.2,1344.6h-5M1044.6,1565.8v-5M1044.6,1159.8v5M761.7,1283.3h5M1168.2,1283.3h-5M1105.9,1565.8v-5M1105.9,1159.8v5M761.7,1222.0h5M1168.2,1222.0h-5M1167.3,1565.8v-5M1167.3,1159.8v5M761.7,1160.7h5M1168.2,1160.7h-5" stroke="#262626" stroke-width="1.6" fill="none"/>
<text x="967.5" y="1631.4" font-size="25.9" text-anchor="middle">Residue number</text>
<text transform="translate(703.6,1362.8) rotate(-90)" font-size="25.9" text-anchor="middle">Residue number</text>
<rect x="1199.20" y="1159.80" width="27.00" height="6.74" fill="#db1515"/><rect x="1199.20" y="1166.14" width="27.00" height="6.74" fill="#dc1c1c"/><rect x="1199.20" y="1172.49" width="27.00" height="6.74" fill="#dd2424"/><rect x="1199.20" y="1178.83" width="27.00" height="6.74" fill="#de2b2b"/><rect x="1199.20" y="1185.17" width="27.00" height="6.74" fill="#df3232"/><rect x="1199.20" y="1191.52" width="27.00" height="6.74" fill="#e03a3a"/><rect x="1199.20" y="1197.86" width="27.00" height="6.74" fill="#e24141"/><rect x="1199.20" y="1204.21" width="27.00" height="6.74" fill="#e34949"/><rect x="1199.20" y="1210.55" width="27.00" height="6.74" fill="#e45050"/><rect x="1199.20" y="1216.89" width="27.00" height="6.74" fill="#e55858"/><rect x="1199.20" y="1223.24" width="27.00" height="6.74" fill="#e65f5f"/><rect x="1199.20" y="1229.58" width="27.00" height="6.74" fill="#e76767"/><rect x="1199.20" y="1235.92" width="27.00" height="6.74" fill="#e86e6e"/><rect x="1199.20" y="1242.27" width="27.00" height="6.74" fill="#ea7575"/><rect x="1199.20" y="1248.61" width="27.00" height="6.74" fill="#eb7d7d"/><rect x="1199.20" y="1254.96" width="27.00" height="6.74" fill="#ec8484"/><rect x="1199.20" y="1261.30" width="27.00" height="6.74" fill="#ed8c8c"/><rect x="1199.20" y="1267.64" width="27.00" height="6.74" fill="#ee9393"/><rect x="1199.20" y="1273.99" width="27.00" height="6.74" fill="#ef9b9b"/><rect x="1199.20" y="1280.33" width="27.00" height="6.74" fill="#f1a2a2"/><rect x="1199.20" y="1286.67" width="27.00" height="6.74" fill="#f2a9a9"/><rect x="1199.20" y="1293.02" width="27.00" height="6.74" fill="#f3b1b1"/><rect x="1199.20" y="1299.36" width="27.00" height="6.74" fill="#f4b8b8"/><rect x="1199.20" y="1305.71" width="27.00" height="6.74" fill="#f5c0c0"/><rect x="1199.20" y="1312.05" width="27.00" height="6.74" fill="#f6c7c7"/><rect x="1199.20" y="1318.39" width="27.00" height="6.74" fill="#f7cfcf"/><rect x="1199.20" y="1324.74" width="27.00" height="6.74" fill="#f9d6d6"/><rect x="1199.20" y="1331.08" width="27.00" height="6.74" fill="#fadede"/><rect x="1199.20" y="1337.42" width="27.00" height="6.74" fill="#fbe5e5"/><rect x="1199.20" y="1343.77" width="27.00" height="6.74" fill="#fcecec"/><rect x="1199.20" y="1350.11" width="27.00" height="6.74" fill="#fdf4f4"/><rect x="1199.20" y="1356.46" width="27.00" height="6.74" fill="#fefbfb"/><rect x="1199.20" y="1362.80" width="27.00" height="6.74" fill="#fbfbff"/><rect x="1199.20" y="1369.14" width="27.00" height="6.74" fill="#f3f3ff"/><rect x="1199.20" y="1375.49" width="27.00" height="6.74" fill="#ebebff"/><rect x="1199.20" y="1381.83" width="27.00" height="6.74" fill="#e3e3ff"/><rect x="1199.20" y="1388.17" width="27.00" height="6.74" fill="#dbdbff"/><rect x="1199.20" y="1394.52" width="27.00" height="6.74" fill="#d3d3ff"/><rect x="1199.20" y="1400.86" width="27.00" height="6.74" fill="#cbcbff"/><rect x="1199.20" y="1407.21" width="27.00" height="6.74" fill="#c3c3ff"/><rect x="1199.20" y="1413.55" width="27.00" height="6.74" fill="#bbbbff"/><rect x="1199.20" y="1419.89" width="27.00" height="6.74" fill="#b3b3ff"/><rect x="1199.20" y="1426.24" width="27.00" height="6.74" fill="#ababff"/><rect x="1199.20" y="1432.58" width="27.00" height="6.74" fill="#a3a3ff"/><rect x="1199.20" y="1438.92" width="27.00" height="6.74" fill="#9b9bff"/><rect x="1199.20" y="1445.27" width="27.00" height="6.74" fill="#9393ff"/><rect x="1199.20" y="1451.61" width="27.00" height="6.74" fill="#8b8bff"/><rect x="1199.20" y="1457.96" width="27.00" height="6.74" fill="#8383ff"/><rect x="1199.20" y="1464.30" width="27.00" height="6.74" fill="#7c7cff"/><rect x="1199.20" y="1470.64" width="27.00" height="6.74" fill="#7474ff"/><rect x="1199.20" y="1476.99" width="27.00" height="6.74" fill="#6c6cff"/><rect x="1199.20" y="1483.33" width="27.00" height="6.74" fill="#6464ff"/><rect x="1199.20" y="1489.67" width="27.00" height="6.74" fill="#5c5cff"/><rect x="1199.20" y="1496.02" width="27.00" height="6.74" fill="#5454ff"/><rect x="1199.20" y="1502.36" width="27.00" height="6.74" fill="#4c4cff"/><rect x="1199.20" y="1508.71" width="27.00" height="6.74" fill="#4444ff"/><rect x="1199.20" y="1515.05" width="27.00" height="6.74" fill="#3c3cff"/><rect x="1199.20" y="1521.39" width="27.00" height="6.74" fill="#3434ff"/><rect x="1199.20" y="1527.74" width="27.00" height="6.74" fill="#2c2cff"/><rect x="1199.20" y="1534.08" width="27.00" height="6.74" fill="#2424ff"/><rect x="1199.20" y="1540.42" width="27.00" height="6.74" fill="#1c1cff"/><rect x="1199.20" y="1546.77" width="27.00" height="6.74" fill="#1414ff"/><rect x="1199.20" y="1553.11" width="27.00" height="6.74" fill="#0c0cff"/><rect x="1199.20" y="1559.46" width="27.00" height="6.74" fill="#0404ff"/>
<rect x="1199.2" y="1159.8" width="27.0" height="406" fill="none" stroke="#262626" stroke-width="1.6"/>
<text x="1233.5" y="1573.8" font-size="22.5">-8</text>
<text x="1233.5" y="1523.0" font-size="22.5">-6</text>
<text x="1233.5" y="1472.3" font-size="22.5">-4</text>
<text x="1233.5" y="1421.5" font-size="22.5">-2</text>
<text x="1233.5" y="1370.8" font-size="22.5">0</text>
<text x="1233.5" y="1320.0" font-size="22.5">2</text>
<text x="1233.5" y="1269.3" font-size="22.5">4</text>
<text x="1233.5" y="1218.5" font-size="22.5">6</text>
<text x="1233.5" y="1167.8" font-size="22.5">8</text>
<path d="M1226.2,1515.0h-4M1226.2,1464.3h-4M1226.2,1413.5h-4M1226.2,1362.8h-4M1226.2,1312.0h-4M1226.2,1261.3h-4M1226.2,1210.5h-4" stroke="#262626" stroke-width="1.6" fill="none"/>
<g transform="translate(1290,1360.5) rotate(-90)"><text x="0" y="0" font-size="27" text-anchor="middle">Δ<tspan font-style="italic">L</tspan><tspan dy="7" font-size="22">segment</tspan><tspan dy="-7"> [Å]</tspan></text></g>
<text x="47.4" y="1684.8" font-size="37" font-weight="bold" fill="#222">Final ensemble (Tikhonov <tspan font-weight="normal" font-family="Liberation Serif" font-size="42">α</tspan> = 5)</text>
<polygon points="83.0,2097.5 85.0,2084.9 87.0,2072.0 89.0,2060.9 91.0,2052.4 93.0,2044.9 95.0,2037.8 97.0,2031.2 99.0,2025.1 101.0,2019.4 103.0,2013.9 105.0,2008.8 107.0,2003.9 109.0,1999.2 111.0,1994.9 113.0,1991.0 115.0,1987.2 117.0,1983.7 119.0,1980.3 121.0,1977.0 123.0,1973.7 125.0,1970.4 127.0,1967.0 129.0,1963.6 131.0,1960.1 133.0,1956.4 135.0,1952.7 137.0,1949.1 139.0,1945.6 141.0,1942.3 143.0,1939.3 145.0,1936.5 147.0,1933.9 149.0,1931.3 151.0,1928.8 153.0,1926.2 155.0,1923.5 157.0,1920.7 159.0,1917.9 161.0,1915.1 163.0,1912.1 165.0,1909.2 167.0,1906.3 169.0,1903.5 171.0,1900.7 173.0,1898.1 175.0,1895.6 177.0,1893.4 179.0,1891.4 181.0,1889.7 183.0,1888.2 185.0,1887.0 187.0,1886.0 189.0,1885.1 191.0,1884.3 193.0,1883.6 195.0,1882.9 197.0,1882.1 199.0,1881.4 201.0,1880.6 203.0,1879.7 205.0,1878.8 207.0,1877.9 209.0,1876.9 211.0,1875.9 213.0,1874.9 215.0,1873.9 217.0,1872.9 219.0,1871.9 221.0,1870.8 223.0,1869.8 225.0,1868.8 227.0,1867.8 229.0,1866.8 231.0,1865.8 233.0,1864.8 235.0,1863.8 237.0,1862.8 239.0,1861.8 241.0,1860.8 243.0,1859.8 245.0,1858.8 247.0,1857.7 249.0,1856.7 251.0,1855.6 253.0,1854.6 255.0,1853.6 257.0,1852.7 259.0,1851.8 261.0,1850.9 263.0,1850.2 265.0,1849.5 267.0,1848.9 269.0,1848.4 271.0,1847.9 273.0,1847.4 275.0,1847.0 277.0,1846.6 279.0,1846.2 281.0,1845.7 283.0,1845.3 285.0,1844.9 287.0,1844.4 289.0,1843.9 291.0,1843.4 293.0,1842.9 295.0,1842.4 297.0,1841.8 299.0,1841.2 301.0,1840.5 303.0,1839.7 305.0,1838.7 307.0,1837.7 309.0,1836.6 311.0,1835.3 313.0,1834.0 315.0,1832.7 317.0,1831.4 319.0,1830.1 321.0,1828.9 323.0,1827.8 325.0,1826.8 327.0,1825.8 329.0,1824.9 331.0,1824.1 333.0,1823.3 335.0,1822.5 337.0,1821.8 339.0,1821.1 341.0,1820.3 343.0,1819.6 345.0,1818.9 346.9,1818.1 348.9,1817.4 350.9,1816.6 352.9,1815.8 354.9,1815.1 356.9,1814.3 358.9,1813.6 360.9,1812.9 362.9,1812.3 364.9,1811.7 366.9,1811.1 368.9,1810.6 370.9,1810.1 372.9,1809.7 374.9,1809.3 376.9,1808.9 378.9,1808.5 380.9,1808.2 382.9,1807.8 384.9,1807.5 386.9,1807.2 388.9,1806.9 390.9,1806.7 392.9,1806.4 394.9,1806.2 396.9,1806.0 398.9,1805.8 400.9,1805.7 402.9,1805.6 404.9,1805.6 406.9,1805.6 408.9,1805.7 410.9,1805.9 412.9,1806.1 414.9,1806.4 416.9,1806.8 418.9,1807.1 420.9,1807.5 422.9,1807.8 424.9,1808.2 426.9,1808.6 428.9,1809.0 430.9,1809.4 432.9,1809.9 434.9,1810.4 436.9,1810.9 438.9,1811.4 440.9,1812.0 442.9,1812.5 444.9,1813.1 446.9,1813.7 448.9,1814.4 450.9,1815.0 452.9,1815.6 454.9,1816.1 456.9,1816.7 458.9,1817.2 460.9,1817.7 462.9,1818.2 464.9,1818.7 466.9,1819.1 468.9,1819.6 470.9,1820.1 472.9,1820.5 474.9,1821.0 476.9,1821.4 478.9,1821.9 480.9,1822.4 482.9,1822.9 484.9,1823.4 486.9,1823.9 488.9,1824.4 490.9,1824.9 492.9,1825.5 494.9,1826.0 496.9,1826.6 498.9,1827.3 500.9,1827.9 502.9,1828.6 504.9,1829.3 506.9,1830.0 508.9,1830.7 510.9,1831.5 512.9,1832.2 514.9,1833.0 516.9,1833.7 518.9,1834.5 520.9,1835.3 522.9,1836.1 524.9,1836.9 526.9,1837.7 528.9,1838.5 530.9,1839.4 532.9,1840.1 534.9,1840.9 536.9,1841.6 538.9,1842.3 540.9,1843.0 542.9,1843.6 544.9,1844.1 546.9,1844.7 548.9,1845.2 550.9,1845.8 552.9,1846.4 554.9,1847.1 556.9,1847.9 558.9,1848.8 560.9,1849.8 562.9,1850.9 564.9,1852.2 566.9,1853.6 568.9,1855.0 570.9,1856.4 572.9,1857.9 574.9,1859.3 576.9,1860.7 578.9,1861.9 580.9,1863.1 582.9,1864.1 584.9,1865.1 586.9,1866.0 588.9,1866.9 590.9,1867.7 592.9,1868.6 594.9,1869.4 596.9,1870.3 598.9,1871.2 600.9,1872.2 602.9,1873.4 604.9,1874.9 606.9,1876.6 606.9,1879.9 604.9,1881.6 602.9,1883.5 600.9,1885.5 598.9,1887.2 596.9,1888.6 594.9,1889.8 592.9,1890.8 590.9,1891.2 588.9,1891.0 586.9,1890.3 584.9,1889.2 582.9,1887.8 580.9,1886.3 578.9,1884.7 576.9,1883.1 574.9,1881.6 572.9,1880.1 570.9,1878.6 568.9,1877.2 566.9,1875.8 564.9,1874.5 562.9,1873.2 560.9,1871.9 558.9,1870.7 556.9,1869.5 554.9,1868.4 552.9,1867.3 550.9,1866.4 548.9,1865.5 546.9,1864.8 544.9,1864.3 542.9,1864.1 540.9,1864.1 538.9,1864.4 536.9,1865.1 534.9,1865.9 532.9,1866.8 530.9,1867.7 528.9,1868.6 526.9,1869.3 524.9,1870.0 522.9,1870.5 520.9,1871.0 518.9,1871.4 516.9,1871.8 514.9,1872.1 512.9,1872.5 510.9,1872.7 508.9,1873.0 506.9,1873.2 504.9,1873.4 502.9,1873.6 500.9,1873.7 498.9,1873.9 496.9,1874.0 494.9,1874.1 492.9,1874.2 490.9,1874.4 488.9,1874.5 486.9,1874.7 484.9,1874.8 482.9,1875.0 480.9,1875.2 478.9,1875.4 476.9,1875.6 474.9,1875.8 472.9,1876.0 470.9,1876.2 468.9,1876.3 466.9,1876.4 464.9,1876.4 462.9,1876.4 460.9,1876.4 458.9,1876.4 456.9,1876.4 454.9,1876.4 452.9,1876.6 450.9,1876.9 448.9,1877.3 446.9,1877.9 444.9,1878.6 442.9,1879.5 440.9,1880.5 438.9,1881.6 436.9,1882.8 434.9,1884.1 432.9,1885.4 430.9,1886.8 428.9,1888.2 426.9,1889.5 424.9,1890.9 422.9,1892.4 420.9,1893.8 418.9,1895.1 416.9,1896.3 414.9,1897.3 412.9,1898.1 410.9,1898.6 408.9,1898.8 406.9,1898.8 404.9,1898.5 402.9,1898.1 400.9,1897.6 398.9,1896.9 396.9,1896.1 394.9,1895.3 392.9,1894.5 390.9,1893.6 388.9,1892.8 386.9,1891.9 384.9,1891.1 382.9,1890.2 380.9,1889.3 378.9,1888.5 376.9,1887.6 374.9,1886.7 372.9,1885.9 370.9,1885.2 368.9,1884.5 366.9,1884.0 364.9,1883.6 362.9,1883.2 360.9,1883.0 358.9,1882.9 356.9,1882.9 354.9,1883.0 352.9,1883.2 350.9,1883.6 348.9,1884.1 346.9,1884.8 345.0,1885.8 343.0,1887.1 341.0,1888.5 339.0,1890.1 337.0,1891.6 335.0,1892.9 333.0,1894.0 331.0,1894.9 329.0,1895.6 327.0,1896.1 325.0,1896.6 323.0,1897.0 321.0,1897.4 319.0,1897.9 317.0,1898.3 315.0,1898.6 313.0,1899.0 311.0,1899.4 309.0,1899.8 307.0,1900.2 305.0,1900.6 303.0,1901.0 301.0,1901.5 299.0,1901.9 297.0,1902.3 295.0,1902.8 293.0,1903.2 291.0,1903.7 289.0,1904.2 287.0,1904.7 285.0,1905.2 283.0,1905.7 281.0,1906.1 279.0,1906.6 277.0,1907.1 275.0,1907.7 273.0,1908.2 271.0,1908.8 269.0,1909.4 267.0,1910.2 265.0,1911.0 263.0,1911.9 261.0,1913.0 259.0,1914.1 257.0,1915.4 255.0,1916.8 253.0,1918.2 251.0,1919.6 249.0,1921.1 247.0,1922.5 245.0,1923.9 243.0,1925.3 241.0,1926.7 239.0,1928.0 237.0,1929.4 235.0,1930.6 233.0,1931.9 231.0,1933.1 229.0,1934.3 227.0,1935.4 225.0,1936.4 223.0,1937.4 221.0,1938.3 219.0,1939.1 217.0,1939.8 215.0,1940.5 213.0,1941.1 211.0,1941.6 209.0,1942.2 207.0,1942.7 205.0,1943.3 203.0,1943.9 201.0,1944.6 199.0,1945.3 197.0,1946.0 195.0,1946.8 193.0,1947.6 191.0,1948.4 189.0,1949.2 187.0,1950.0 185.0,1950.8 183.0,1951.5 181.0,1952.3 179.0,1953.0 177.0,1953.7 175.0,1954.4 173.0,1955.0 171.0,1955.7 169.0,1956.5 167.0,1957.4 165.0,1958.4 163.0,1959.7 161.0,1961.2 159.0,1963.0 157.0,1965.1 155.0,1967.4 153.0,1969.9 151.0,1972.4 149.0,1974.9 147.0,1977.3 145.0,1979.5 143.0,1981.6 141.0,1983.5 139.0,1985.3 137.0,1987.0 135.0,1988.8 133.0,1990.5 131.0,1992.3 129.0,1994.1 127.0,1996.0 125.0,1998.0 123.0,2000.2 121.0,2002.5 119.0,2005.0 117.0,2007.7 115.0,2010.7 113.0,2013.9 111.0,2017.2 109.0,2020.8 107.0,2024.5 105.0,2028.4 103.0,2032.6 101.0,2036.9 99.0,2041.6 97.0,2046.5 95.0,2051.9 93.0,2057.6 91.0,2063.6 89.0,2070.3 87.0,2078.7 85.0,2088.3 83.0,2097.5" fill="#000" stroke="#000" stroke-width="2.5" stroke-linejoin="round"/>
<polygon points="530.9,1839.4 532.9,1840.1 534.9,1840.9 536.9,1841.6 538.9,1842.3 540.9,1843.0 542.9,1843.6 544.9,1844.1 546.9,1844.7 548.9,1845.2 550.9,1845.8 552.9,1846.4 554.9,1847.1 556.9,1847.9 558.9,1848.8 560.9,1849.8 562.9,1850.9 564.9,1852.2 566.9,1853.6 568.9,1855.0 570.9,1856.4 572.9,1857.9 574.9,1859.3 576.9,1860.7 578.9,1861.9 580.9,1863.1 582.9,1864.1 584.9,1865.1 586.9,1866.0 588.9,1866.9 590.9,1867.7 592.9,1868.6 594.9,1869.4 596.9,1870.3 598.9,1871.2 600.9,1872.2 602.9,1873.4 604.9,1874.9 606.9,1876.6 606.9,1876.5 604.9,1876.6 602.9,1876.6 600.9,1876.6 598.9,1876.6 596.9,1876.5 594.9,1876.4 592.9,1876.0 590.9,1875.7 588.9,1875.4 586.9,1875.0 584.9,1874.5 582.9,1873.9 580.9,1873.3 578.9,1872.5 576.9,1871.7 574.9,1870.8 572.9,1869.8 570.9,1868.8 568.9,1867.7 566.9,1866.6 564.9,1865.5 562.9,1864.4 560.9,1863.3 558.9,1862.2 556.9,1861.1 554.9,1860.0 552.9,1858.9 550.9,1857.9 548.9,1856.9 546.9,1856.0 544.9,1855.1 542.9,1854.2 540.9,1853.3 538.9,1852.5 536.9,1851.7 534.9,1851.0 532.9,1850.3 530.9,1849.6" fill="url(#sparse)"/>
<g clip-path="url(#bandclip3)"><rect x="79.0" y="1715.2" width="532.7" height="406.7" fill="url(#vlines)"/></g>
<clipPath id="bandclip3"><polygon points="83.0,2097.5 85.0,2084.9 87.0,2072.0 89.0,2060.9 91.0,2052.4 93.0,2044.9 95.0,2037.8 97.0,2031.2 99.0,2025.1 101.0,2019.4 103.0,2013.9 105.0,2008.8 107.0,2003.9 109.0,1999.2 111.0,1994.9 113.0,1991.0 115.0,1987.2 117.0,1983.7 119.0,1980.3 121.0,1977.0 123.0,1973.7 125.0,1970.4 127.0,1967.0 129.0,1963.6 131.0,1960.1 133.0,1956.4 135.0,1952.7 137.0,1949.1 139.0,1945.6 141.0,1942.3 143.0,1939.3 145.0,1936.5 147.0,1933.9 149.0,1931.3 151.0,1928.8 153.0,1926.2 155.0,1923.5 157.0,1920.7 159.0,1917.9 161.0,1915.1 163.0,1912.1 165.0,1909.2 167.0,1906.3 169.0,1903.5 171.0,1900.7 173.0,1898.1 175.0,1895.6 177.0,1893.4 179.0,1891.4 181.0,1889.7 183.0,1888.2 185.0,1887.0 187.0,1886.0 189.0,1885.1 191.0,1884.3 193.0,1883.6 195.0,1882.9 197.0,1882.1 199.0,1881.4 201.0,1880.6 203.0,1879.7 205.0,1878.8 207.0,1877.9 209.0,1876.9 211.0,1875.9 213.0,1874.9 215.0,1873.9 217.0,1872.9 219.0,1871.9 221.0,1870.8 223.0,1869.8 225.0,1868.8 227.0,1867.8 229.0,1866.8 231.0,1865.8 233.0,1864.8 235.0,1863.8 237.0,1862.8 239.0,1861.8 241.0,1860.8 243.0,1859.8 245.0,1858.8 247.0,1857.7 249.0,1856.7 251.0,1855.6 253.0,1854.6 255.0,1853.6 257.0,1852.7 259.0,1851.8 261.0,1850.9 263.0,1850.2 265.0,1849.5 267.0,1848.9 269.0,1848.4 271.0,1847.9 273.0,1847.4 275.0,1847.0 277.0,1846.6 279.0,1846.2 281.0,1845.7 283.0,1845.3 285.0,1844.9 287.0,1844.4 289.0,1843.9 291.0,1843.4 293.0,1842.9 295.0,1842.4 297.0,1841.8 299.0,1841.2 301.0,1840.5 303.0,1839.7 305.0,1838.7 307.0,1837.7 309.0,1836.6 311.0,1835.3 313.0,1834.0 315.0,1832.7 317.0,1831.4 319.0,1830.1 321.0,1828.9 323.0,1827.8 325.0,1826.8 327.0,1825.8 329.0,1824.9 331.0,1824.1 333.0,1823.3 335.0,1822.5 337.0,1821.8 339.0,1821.1 341.0,1820.3 343.0,1819.6 345.0,1818.9 346.9,1818.1 348.9,1817.4 350.9,1816.6 352.9,1815.8 354.9,1815.1 356.9,1814.3 358.9,1813.6 360.9,1812.9 362.9,1812.3 364.9,1811.7 366.9,1811.1 368.9,1810.6 370.9,1810.1 372.9,1809.7 374.9,1809.3 376.9,1808.9 378.9,1808.5 380.9,1808.2 382.9,1807.8 384.9,1807.5 386.9,1807.2 388.9,1806.9 390.9,1806.7 392.9,1806.4 394.9,1806.2 396.9,1806.0 398.9,1805.8 400.9,1805.7 402.9,1805.6 404.9,1805.6 406.9,1805.6 408.9,1805.7 410.9,1805.9 412.9,1806.1 414.9,1806.4 416.9,1806.8 418.9,1807.1 420.9,1807.5 422.9,1807.8 424.9,1808.2 426.9,1808.6 428.9,1809.0 430.9,1809.4 432.9,1809.9 434.9,1810.4 436.9,1810.9 438.9,1811.4 440.9,1812.0 442.9,1812.5 444.9,1813.1 446.9,1813.7 448.9,1814.4 450.9,1815.0 452.9,1815.6 454.9,1816.1 456.9,1816.7 458.9,1817.2 460.9,1817.7 462.9,1818.2 464.9,1818.7 466.9,1819.1 468.9,1819.6 470.9,1820.1 472.9,1820.5 474.9,1821.0 476.9,1821.4 478.9,1821.9 480.9,1822.4 482.9,1822.9 484.9,1823.4 486.9,1823.9 488.9,1824.4 490.9,1824.9 492.9,1825.5 494.9,1826.0 496.9,1826.6 498.9,1827.3 500.9,1827.9 502.9,1828.6 504.9,1829.3 506.9,1830.0 508.9,1830.7 510.9,1831.5 512.9,1832.2 514.9,1833.0 516.9,1833.7 518.9,1834.5 520.9,1835.3 522.9,1836.1 524.9,1836.9 526.9,1837.7 528.9,1838.5 530.9,1839.4 532.9,1840.1 534.9,1840.9 536.9,1841.6 538.9,1842.3 540.9,1843.0 542.9,1843.6 544.9,1844.1 546.9,1844.7 548.9,1845.2 550.9,1845.8 552.9,1846.4 554.9,1847.1 556.9,1847.9 558.9,1848.8 560.9,1849.8 562.9,1850.9 564.9,1852.2 566.9,1853.6 568.9,1855.0 570.9,1856.4 572.9,1857.9 574.9,1859.3 576.9,1860.7 578.9,1861.9 580.9,1863.1 582.9,1864.1 584.9,1865.1 586.9,1866.0 588.9,1866.9 590.9,1867.7 592.9,1868.6 594.9,1869.4 596.9,1870.3 598.9,1871.2 600.9,1872.2 602.9,1873.4 604.9,1874.9 606.9,1876.6 606.9,1879.9 604.9,1881.6 602.9,1883.5 600.9,1885.5 598.9,1887.2 596.9,1888.6 594.9,1889.8 592.9,1890.8 590.9,1891.2 588.9,1891.0 586.9,1890.3 584.9,1889.2 582.9,1887.8 580.9,1886.3 578.9,1884.7 576.9,1883.1 574.9,1881.6 572.9,1880.1 570.9,1878.6 568.9,1877.2 566.9,1875.8 564.9,1874.5 562.9,1873.2 560.9,1871.9 558.9,1870.7 556.9,1869.5 554.9,1868.4 552.9,1867.3 550.9,1866.4 548.9,1865.5 546.9,1864.8 544.9,1864.3 542.9,1864.1 540.9,1864.1 538.9,1864.4 536.9,1865.1 534.9,1865.9 532.9,1866.8 530.9,1867.7 528.9,1868.6 526.9,1869.3 524.9,1870.0 522.9,1870.5 520.9,1871.0 518.9,1871.4 516.9,1871.8 514.9,1872.1 512.9,1872.5 510.9,1872.7 508.9,1873.0 506.9,1873.2 504.9,1873.4 502.9,1873.6 500.9,1873.7 498.9,1873.9 496.9,1874.0 494.9,1874.1 492.9,1874.2 490.9,1874.4 488.9,1874.5 486.9,1874.7 484.9,1874.8 482.9,1875.0 480.9,1875.2 478.9,1875.4 476.9,1875.6 474.9,1875.8 472.9,1876.0 470.9,1876.2 468.9,1876.3 466.9,1876.4 464.9,1876.4 462.9,1876.4 460.9,1876.4 458.9,1876.4 456.9,1876.4 454.9,1876.4 452.9,1876.6 450.9,1876.9 448.9,1877.3 446.9,1877.9 444.9,1878.6 442.9,1879.5 440.9,1880.5 438.9,1881.6 436.9,1882.8 434.9,1884.1 432.9,1885.4 430.9,1886.8 428.9,1888.2 426.9,1889.5 424.9,1890.9 422.9,1892.4 420.9,1893.8 418.9,1895.1 416.9,1896.3 414.9,1897.3 412.9,1898.1 410.9,1898.6 408.9,1898.8 406.9,1898.8 404.9,1898.5 402.9,1898.1 400.9,1897.6 398.9,1896.9 396.9,1896.1 394.9,1895.3 392.9,1894.5 390.9,1893.6 388.9,1892.8 386.9,1891.9 384.9,1891.1 382.9,1890.2 380.9,1889.3 378.9,1888.5 376.9,1887.6 374.9,1886.7 372.9,1885.9 370.9,1885.2 368.9,1884.5 366.9,1884.0 364.9,1883.6 362.9,1883.2 360.9,1883.0 358.9,1882.9 356.9,1882.9 354.9,1883.0 352.9,1883.2 350.9,1883.6 348.9,1884.1 346.9,1884.8 345.0,1885.8 343.0,1887.1 341.0,1888.5 339.0,1890.1 337.0,1891.6 335.0,1892.9 333.0,1894.0 331.0,1894.9 329.0,1895.6 327.0,1896.1 325.0,1896.6 323.0,1897.0 321.0,1897.4 319.0,1897.9 317.0,1898.3 315.0,1898.6 313.0,1899.0 311.0,1899.4 309.0,1899.8 307.0,1900.2 305.0,1900.6 303.0,1901.0 301.0,1901.5 299.0,1901.9 297.0,1902.3 295.0,1902.8 293.0,1903.2 291.0,1903.7 289.0,1904.2 287.0,1904.7 285.0,1905.2 283.0,1905.7 281.0,1906.1 279.0,1906.6 277.0,1907.1 275.0,1907.7 273.0,1908.2 271.0,1908.8 269.0,1909.4 267.0,1910.2 265.0,1911.0 263.0,1911.9 261.0,1913.0 259.0,1914.1 257.0,1915.4 255.0,1916.8 253.0,1918.2 251.0,1919.6 249.0,1921.1 247.0,1922.5 245.0,1923.9 243.0,1925.3 241.0,1926.7 239.0,1928.0 237.0,1929.4 235.0,1930.6 233.0,1931.9 231.0,1933.1 229.0,1934.3 227.0,1935.4 225.0,1936.4 223.0,1937.4 221.0,1938.3 219.0,1939.1 217.0,1939.8 215.0,1940.5 213.0,1941.1 211.0,1941.6 209.0,1942.2 207.0,1942.7 205.0,1943.3 203.0,1943.9 201.0,1944.6 199.0,1945.3 197.0,1946.0 195.0,1946.8 193.0,1947.6 191.0,1948.4 189.0,1949.2 187.0,1950.0 185.0,1950.8 183.0,1951.5 181.0,1952.3 179.0,1953.0 177.0,1953.7 175.0,1954.4 173.0,1955.0 171.0,1955.7 169.0,1956.5 167.0,1957.4 165.0,1958.4 163.0,1959.7 161.0,1961.2 159.0,1963.0 157.0,1965.1 155.0,1967.4 153.0,1969.9 151.0,1972.4 149.0,1974.9 147.0,1977.3 145.0,1979.5 143.0,1981.6 141.0,1983.5 139.0,1985.3 137.0,1987.0 135.0,1988.8 133.0,1990.5 131.0,1992.3 129.0,1994.1 127.0,1996.0 125.0,1998.0 123.0,2000.2 121.0,2002.5 119.0,2005.0 117.0,2007.7 115.0,2010.7 113.0,2013.9 111.0,2017.2 109.0,2020.8 107.0,2024.5 105.0,2028.4 103.0,2032.6 101.0,2036.9 99.0,2041.6 97.0,2046.5 95.0,2051.9 93.0,2057.6 91.0,2063.6 89.0,2070.3 87.0,2078.7 85.0,2088.3 83.0,2097.5"/></clipPath>
<path d="M83.0,2096.8 L85.0,2089.0 L87.0,2080.6 L89.0,2072.2 L91.0,2064.1 L93.0,2056.6 L95.0,2049.6 L97.0,2043.1 L99.0,2036.9 L101.0,2031.2 L103.0,2025.8 L105.0,2021.3 L107.0,2017.1 L109.0,2013.0 L111.0,2008.9 L113.0,2004.8 L115.0,2000.8 L117.0,1996.8 L119.0,1993.0 L121.0,1989.3 L123.0,1985.7 L125.0,1982.3 L127.0,1979.0 L129.0,1975.7 L131.0,1972.7 L133.0,1969.7 L135.0,1966.9 L137.0,1964.1 L139.0,1961.5 L141.0,1958.9 L143.0,1956.5 L145.0,1954.1 L147.0,1951.8 L149.0,1949.5 L151.0,1947.3 L153.0,1945.2 L155.0,1943.1 L157.0,1941.1 L159.0,1939.1 L161.0,1937.2 L163.0,1935.3 L165.0,1933.5 L167.0,1931.7 L169.0,1930.0 L171.0,1928.3 L173.0,1926.6 L175.0,1925.0 L177.0,1923.4 L179.0,1921.9 L181.0,1920.4 L183.0,1918.9 L185.0,1917.4 L187.0,1916.0 L189.0,1914.6 L191.0,1913.2 L193.0,1911.9 L195.0,1910.5 L197.0,1909.2 L199.0,1907.9 L201.0,1906.7 L203.0,1905.5 L205.0,1904.3 L207.0,1903.1 L209.0,1901.9 L211.0,1900.8 L213.0,1899.7 L215.0,1898.6 L217.0,1897.5 L219.0,1896.5 L221.0,1895.4 L223.0,1894.4 L225.0,1893.4 L227.0,1892.4 L229.0,1891.4 L231.0,1890.4 L233.0,1889.4 L235.0,1888.5 L237.0,1887.5 L239.0,1886.6 L241.0,1885.7 L243.0,1884.8 L245.0,1883.9 L247.0,1883.0 L249.0,1882.1 L251.0,1881.2 L253.0,1880.3 L255.0,1879.4 L257.0,1878.5 L259.0,1877.7 L261.0,1876.8 L263.0,1875.9 L265.0,1875.0 L267.0,1874.1 L269.0,1873.2 L271.0,1872.3 L273.0,1871.4 L275.0,1870.5 L277.0,1869.7 L279.0,1868.8 L281.0,1868.0 L283.0,1867.1 L285.0,1866.3 L287.0,1865.5 L289.0,1864.8 L291.0,1864.0 L293.0,1863.3 L295.0,1862.6 L297.0,1861.9 L299.0,1861.3 L301.0,1860.6 L303.0,1860.0 L305.0,1859.4 L307.0,1858.8 L309.0,1858.3 L311.0,1857.8 L313.0,1857.2 L315.0,1856.7 L317.0,1856.3 L319.0,1855.8 L321.0,1855.4 L323.0,1855.0 L325.0,1854.6 L327.0,1854.2 L329.0,1853.8 L331.0,1853.5 L333.0,1853.2 L335.0,1852.9 L337.0,1852.7 L339.0,1852.4 L341.0,1852.2 L343.0,1852.0 L345.0,1851.8 L346.9,1851.6 L348.9,1851.5 L350.9,1851.3 L352.9,1851.2 L354.9,1851.0 L356.9,1850.9 L358.9,1850.8 L360.9,1850.7 L362.9,1850.6 L364.9,1850.5 L366.9,1850.4 L368.9,1850.3 L370.9,1850.1 L372.9,1850.0 L374.9,1849.9 L376.9,1849.8 L378.9,1849.7 L380.9,1849.5 L382.9,1849.4 L384.9,1849.2 L386.9,1849.1 L388.9,1848.9 L390.9,1848.7 L392.9,1848.5 L394.9,1848.4 L396.9,1848.2 L398.9,1848.0 L400.9,1847.7 L402.9,1847.5 L404.9,1847.3 L406.9,1847.1 L408.9,1846.8 L410.9,1846.6 L412.9,1846.4 L414.9,1846.1 L416.9,1845.9 L418.9,1845.6 L420.9,1845.3 L422.9,1845.1 L424.9,1844.8 L426.9,1844.6 L428.9,1844.3 L430.9,1844.0 L432.9,1843.8 L434.9,1843.5 L436.9,1843.2 L438.9,1843.0 L440.9,1842.7 L442.9,1842.5 L444.9,1842.3 L446.9,1842.0 L448.9,1841.8 L450.9,1841.6 L452.9,1841.5 L454.9,1841.3 L456.9,1841.2 L458.9,1841.0 L460.9,1840.9 L462.9,1840.9 L464.9,1840.8 L466.9,1840.8 L468.9,1840.8 L470.9,1840.8 L472.9,1840.8 L474.9,1840.9 L476.9,1841.0 L478.9,1841.1 L480.9,1841.3 L482.9,1841.5 L484.9,1841.7 L486.9,1841.9 L488.9,1842.2 L490.9,1842.5 L492.9,1842.8 L494.9,1843.2 L496.9,1843.5 L498.9,1843.9 L500.9,1844.3 L502.9,1844.8 L504.9,1845.2 L506.9,1845.7 L508.9,1846.2 L510.9,1846.7 L512.9,1847.2 L514.9,1847.8 L516.9,1848.3 L518.9,1848.9 L520.9,1849.5 L522.9,1850.1 L524.9,1850.7 L526.9,1851.3 L528.9,1852.0 L530.9,1852.6 L532.9,1853.3 L534.9,1854.1 L536.9,1854.8 L538.9,1855.6 L540.9,1856.4 L542.9,1857.3 L544.9,1858.2 L546.9,1859.1 L548.9,1860.0 L550.9,1861.0 L552.9,1861.9 L554.9,1862.9 L556.9,1864.0 L558.9,1865.0 L560.9,1866.0 L562.9,1867.1 L564.9,1868.1 L566.9,1869.1 L568.9,1870.1 L570.9,1871.0 L572.9,1871.9 L574.9,1872.8 L576.9,1873.6 L578.9,1874.3 L580.9,1875.0 L582.9,1875.6 L584.9,1876.2 L586.9,1876.8 L588.9,1877.6 L590.9,1878.2 L592.9,1878.7 L594.9,1879.1 L596.9,1879.3 L598.9,1879.3 L600.9,1879.3 L602.9,1879.3 L604.9,1879.3 L606.9,1879.2" fill="none" stroke="#5cb824" stroke-width="3.5" stroke-linejoin="round"/>
<path d="M83.0,2083.3 L85.0,2074.2 L87.0,2066.2 L89.0,2059.2 L91.0,2052.9 L93.0,2047.4 L95.0,2042.6 L97.0,2038.3 L99.0,2034.4 L101.0,2030.9 L103.0,2027.7 L105.0,2024.7 L107.0,2022.0 L109.0,2019.4 L111.0,2016.9 L113.0,2014.6 L115.0,2012.2 L117.0,2009.8 L119.0,2007.6 L121.0,2005.5 L123.0,2003.5 L125.0,2001.5 L127.0,1999.6 L129.0,1997.8 L131.0,1996.0 L133.0,1994.3 L135.0,1992.7 L137.0,1991.1 L139.0,1989.5 L141.0,1988.0 L143.0,1986.5 L145.0,1985.0 L147.0,1983.6 L149.0,1982.2 L151.0,1980.8 L153.0,1979.4 L155.0,1978.0 L157.0,1976.7 L159.0,1975.4 L161.0,1974.0 L163.0,1972.7 L165.0,1971.4 L167.0,1970.0 L169.0,1968.7 L171.0,1967.4 L173.0,1966.1 L175.0,1964.8 L177.0,1963.5 L179.0,1962.1 L181.0,1960.8 L183.0,1959.5 L185.0,1958.2 L187.0,1956.9 L189.0,1955.6 L191.0,1954.3 L193.0,1953.0 L195.0,1951.7 L197.0,1950.4 L199.0,1949.1 L201.0,1947.8 L203.0,1946.6 L205.0,1945.4 L207.0,1944.1 L209.0,1942.9 L211.0,1941.7 L213.0,1940.5 L215.0,1939.4 L217.0,1938.2 L219.0,1937.0 L221.0,1935.9 L223.0,1934.8 L225.0,1933.6 L227.0,1932.5 L229.0,1931.4 L231.0,1930.3 L233.0,1929.2 L235.0,1928.1 L237.0,1927.0 L239.0,1925.9 L241.0,1924.8 L243.0,1923.8 L245.0,1922.7 L247.0,1921.6 L249.0,1920.6 L251.0,1919.5 L253.0,1918.4 L255.0,1917.4 L257.0,1916.3 L259.0,1915.3 L261.0,1914.3 L263.0,1913.2 L265.0,1912.2 L267.0,1911.2 L269.0,1910.2 L271.0,1909.1 L273.0,1908.1 L275.0,1907.1 L277.0,1906.1 L279.0,1905.1 L281.0,1904.1 L283.0,1903.1 L285.0,1902.1 L287.0,1901.1 L289.0,1900.1 L291.0,1899.1 L293.0,1898.1 L295.0,1897.1 L297.0,1896.1 L299.0,1895.1 L301.0,1894.1 L303.0,1893.2 L305.0,1892.2 L307.0,1891.2 L309.0,1890.2 L311.0,1889.3 L313.0,1888.3 L315.0,1887.4 L317.0,1886.4 L319.0,1885.5 L321.0,1884.6 L323.0,1883.6 L325.0,1882.7 L327.0,1881.8 L329.0,1880.9 L331.0,1880.1 L333.0,1879.2 L335.0,1878.3 L337.0,1877.5 L339.0,1876.7 L341.0,1875.8 L343.0,1875.0 L345.0,1874.2 L346.9,1873.5 L348.9,1872.7 L350.9,1871.9 L352.9,1871.1 L354.9,1870.4 L356.9,1869.6 L358.9,1868.9 L360.9,1868.2 L362.9,1867.4 L364.9,1866.7 L366.9,1866.0 L368.9,1865.2 L370.9,1864.5 L372.9,1863.8 L374.9,1863.0 L376.9,1862.3 L378.9,1861.6 L380.9,1860.8 L382.9,1860.1 L384.9,1859.3 L386.9,1858.5 L388.9,1857.8 L390.9,1857.0 L392.9,1856.2 L394.9,1855.5 L396.9,1854.7 L398.9,1853.9 L400.9,1853.1 L402.9,1852.3 L404.9,1851.5 L406.9,1850.7 L408.9,1849.9 L410.9,1849.1 L412.9,1848.3 L414.9,1847.5 L416.9,1846.7 L418.9,1845.9 L420.9,1845.2 L422.9,1844.4 L424.9,1843.6 L426.9,1842.8 L428.9,1842.0 L430.9,1841.2 L432.9,1840.5 L434.9,1839.7 L436.9,1839.0 L438.9,1838.2 L440.9,1837.4 L442.9,1836.7 L444.9,1836.0 L446.9,1835.2 L448.9,1834.5 L450.9,1833.8 L452.9,1833.1 L454.9,1832.3 L456.9,1831.6 L458.9,1830.9 L460.9,1830.2 L462.9,1829.5 L464.9,1828.8 L466.9,1828.2 L468.9,1827.5 L470.9,1826.8 L472.9,1826.1 L474.9,1825.5 L476.9,1824.8 L478.9,1824.2 L480.9,1823.5 L482.9,1822.9 L484.9,1822.2 L486.9,1821.6 L488.9,1820.9 L490.9,1820.3 L492.9,1819.7 L494.9,1819.1 L496.9,1818.4 L498.9,1817.8 L500.9,1817.2 L502.9,1816.6 L504.9,1816.0 L506.9,1815.4 L508.9,1814.8 L510.9,1814.1 L512.9,1813.5 L514.9,1812.9 L516.9,1812.3 L518.9,1811.7 L520.9,1811.1 L522.9,1810.5 L524.9,1809.9 L526.9,1809.3 L528.9,1808.7 L530.9,1808.1 L532.9,1807.5 L534.9,1806.9 L536.9,1806.3 L538.9,1805.7 L540.9,1805.1 L542.9,1804.5 L544.9,1803.9 L546.9,1803.2 L548.9,1802.6 L550.9,1802.0 L552.9,1801.4 L554.9,1800.7 L556.9,1800.1 L558.9,1799.5 L560.9,1798.9 L562.9,1798.2 L564.9,1797.6 L566.9,1796.9 L568.9,1796.3 L570.9,1795.7 L572.9,1795.0 L574.9,1794.4 L576.9,1793.8 L578.9,1793.1 L580.9,1792.5 L582.9,1791.8 L584.9,1791.2 L586.9,1790.5 L588.9,1789.8 L590.9,1789.2 L592.9,1788.5 L594.9,1787.8 L596.9,1787.2 L598.9,1786.5 L600.9,1785.9 L602.9,1785.2 L604.9,1784.6 L606.9,1783.9" fill="none" stroke="#a80000" stroke-width="3.5" stroke-linejoin="round"/>
<rect x="79.0" y="1715.2" width="532.7" height="406.7" fill="none" stroke="#262626" stroke-width="1.6"/>
<text x="79.0" y="2152.4" font-size="22.5" text-anchor="middle">0</text>
<text x="159.0" y="2152.4" font-size="22.5" text-anchor="middle">20</text>
<text x="239.0" y="2152.4" font-size="22.5" text-anchor="middle">40</text>
<text x="319.0" y="2152.4" font-size="22.5" text-anchor="middle">60</text>
<text x="398.9" y="2152.4" font-size="22.5" text-anchor="middle">80</text>
<text x="478.9" y="2152.4" font-size="22.5" text-anchor="middle">100</text>
<text x="558.9" y="2152.4" font-size="22.5" text-anchor="middle">120</text>
<text x="69.5" y="2129.9" font-size="22.5" text-anchor="end">0</text>
<text x="69.5" y="2062.1" font-size="22.5" text-anchor="end">10</text>
<text x="69.5" y="1994.3" font-size="22.5" text-anchor="end">20</text>
<text x="69.5" y="1926.6" font-size="22.5" text-anchor="end">30</text>
<text x="69.5" y="1858.8" font-size="22.5" text-anchor="end">40</text>
<text x="69.5" y="1791.0" font-size="22.5" text-anchor="end">50</text>
<text x="69.5" y="1723.2" font-size="22.5" text-anchor="end">60</text>
<path d="M79.0,2121.9v-5M79.0,1715.2v5M159.0,2121.9v-5M159.0,1715.2v5M239.0,2121.9v-5M239.0,1715.2v5M319.0,2121.9v-5M319.0,1715.2v5M398.9,2121.9v-5M398.9,1715.2v5M478.9,2121.9v-5M478.9,1715.2v5M558.9,2121.9v-5M558.9,1715.2v5M79.0,2121.9h5M611.7,2121.9h-5M79.0,2054.1h5M611.7,2054.1h-5M79.0,1986.3h5M611.7,1986.3h-5M79.0,1918.6h5M611.7,1918.6h-5M79.0,1850.8h5M611.7,1850.8h-5M79.0,1783.0h5M611.7,1783.0h-5M79.0,1715.2h5M611.7,1715.2h-5" stroke="#262626" stroke-width="1.6" fill="none"/>
<text x="345.4" y="2185.9" font-size="25.9" text-anchor="middle">Segment sequence length <tspan font-style="italic">k</tspan></text>
<g transform="translate(0,1659.30)">
<text transform="translate(34,286.5) rotate(-90)" font-size="26">R</text>
<text transform="translate(22,269) rotate(-90)" font-size="19">2</text>
<text transform="translate(33.7,233.5) rotate(-90)" font-size="24.5">[Å]</text>
<path d="M15.3,295 L26.8,301.2 L38.3,295 M15.3,254.8 L26.8,247.6 L38.3,254.8 M3.3,242.3 L3.3,303.1 L37.3,308.3 L19.1,316.6 L21.5,321.3" fill="none" stroke="#000" stroke-width="1.7"/>
</g>
<rect x="300.6" y="2020.0" width="297.9" height="89.8" fill="#fff" stroke="#555" stroke-width="1.5"/>
<circle cx="330.5" cy="2035.4" r="2.6" fill="#000"/>
<text x="358.8" y="2043.0" font-size="20.8">RMS end-to-end distance</text>
<path d="M305.6,2061.8H355" stroke="#5cb824" stroke-width="3.5"/>
<text x="358.8" y="2068.8" font-size="20.8">mean value</text>
<path d="M305.6,2091.2H355" stroke="#a80000" stroke-width="3.5"/>
<text x="358.8" y="2101.7" font-size="20.8">random coil 5.648 <tspan font-style="italic">k</tspan><tspan dy="-10" font-size="15">0.467</tspan></text>
<g transform="translate(761.7,1718.0)">
<defs><filter id="hf3" x="-2%" y="-2%" width="104%" height="104%"><feGaussianBlur stdDeviation="2.20"/></filter><clipPath id="hcl3"><rect x="0" y="0" width="406.5" height="406.0"/></clipPath></defs><g clip-path="url(#hcl3)"><g filter="url(#hf3)"><path transform="scale(.5)" d="M503 812 541 812 541 806 534 796 515 790 509 792 503 799 503 812ZM6 311 18 306 21 291 12 275 0 272 0 310 6 311Z" fill="#0000ff" fill-rule="evenodd"/><path transform="scale(.5)" d="M252 812 265 812 264 802 255 800 250 806 252 812ZM497 812 502 812 503 800 507 794 515 790 528 793 538 800 541 812 551 812 551 806 549 800 540 791 509 780 503 782 494 794 491 812 497 812ZM6 562 12 557 12 551 6 547 0 547 0 562 6 562ZM6 322 25 315 30 309 31 297 18 268 12 264 0 262 0 272 12 275 19 285 22 297 20 303 13 309 0 310 0 321 6 322Z" fill="#1919ff" fill-rule="evenodd"/><path transform="scale(.5)" d="M239 812 250 812 252 803 258 799 264 802 265 812 278 812 276 794 270 787 264 786 252 788 241 800 239 812ZM485 812 491 812 494 794 503 782 509 780 528 785 544 794 549 800 551 812 560 812 560 806 556 794 549 787 509 771 497 776 488 787 480 806 481 812 485 812ZM6 573 20 567 25 560 26 548 25 542 18 536 0 534 0 547 10 548 13 555 9 561 0 562 0 573 6 573ZM6 332 18 329 31 321 40 309 41 303 25 264 18 257 6 252 0 253 0 262 12 264 18 268 27 285 32 303 30 309 18 319 0 321 0 332 6 332ZM767 312 773 314 782 309 784 297 779 290 773 290 764 297 761 303 767 312ZM503 49 509 52 515 49 523 40 523 34 515 29 503 31 499 40 503 49Z" fill="#3333ff" fill-rule="evenodd"/><path transform="scale(.5)" d="M233 812 239 812 241 800 245 792 258 786 270 787 276 793 278 812 341 812 342 806 337 798 325 790 301 785 282 776 270 774 252 778 239 786 232 800 233 812ZM454 812 481 812 481 800 488 787 497 776 509 771 552 790 559 800 560 812 572 812 573 806 569 794 564 787 509 762 497 766 472 792 454 801 452 806 454 812ZM638 810 659 812 660 806 650 800 637 806 638 810ZM6 580 18 578 26 573 34 561 38 542 36 530 27 512 23 487 14 475 6 471 0 471 0 534 18 536 25 542 26 548 25 560 20 567 12 572 0 573 0 580 6 580ZM779 561 779 558 779 561ZM6 361 12 357 20 340 46 316 50 303 25 249 18 243 6 239 0 240 0 253 12 253 22 260 41 303 36 316 25 325 12 331 0 332 0 360 6 361ZM773 324 785 321 793 309 791 291 785 282 779 279 767 284 749 303 750 309 757 316 773 324ZM764 309 761 303 764 297 773 290 779 290 784 297 782 309 773 314 764 309ZM6 176 12 162 6 152 0 154 0 174 6 176ZM503 63 509 63 515 60 529 46 534 34 528 25 509 20 500 21 491 28 489 34 491 46 503 63ZM501 46 499 40 503 31 515 29 523 34 523 40 515 49 509 52 501 46ZM252 34 254 34 252 34Z" fill="#4c4cff" fill-rule="evenodd"/><path transform="scale(.5)" d="M227 812 232 812 233 797 239 786 252 778 270 774 282 776 301 785 319 787 331 792 339 800 341 812 367 812 368 806 364 800 333 781 288 764 270 762 245 771 231 781 226 794 227 812ZM442 812 452 812 454 801 472 792 497 766 509 762 564 787 572 800 572 812 639 812 637 806 650 800 660 806 659 812 676 812 677 806 669 794 657 789 614 794 595 792 571 779 540 769 509 751 497 756 472 780 448 786 442 790 437 806 437 812 442 812ZM6 587 21 585 33 579 47 555 50 536 48 524 28 475 12 449 6 444 0 445 0 471 12 473 20 481 25 493 27 512 36 530 38 542 34 561 26 573 15 579 0 580 0 587 6 587ZM779 582 792 578 799 561 795 542 785 528 779 528 773 533 766 542 762 555 769 573 779 582ZM779 561 779 558 779 561ZM503 575 509 577 515 576 522 568 526 555 523 536 515 529 509 529 503 534 494 548 494 561 503 575ZM6 376 18 373 25 368 32 340 56 316 61 303 43 273 33 242 20 218 18 199 23 156 18 144 6 136 0 136 0 154 6 152 12 162 6 176 0 174 0 240 12 240 25 249 50 303 46 316 20 340 11 359 0 360 0 375 6 376ZM767 330 779 333 785 332 792 328 800 316 801 303 798 291 792 279 785 272 779 271 767 276 739 303 740 309 746 316 767 330ZM767 322 750 309 749 303 767 284 779 279 785 282 791 291 793 309 784 322 779 324 767 322ZM245 316 258 320 264 319 278 309 283 303 284 297 279 291 270 287 258 286 245 290 236 297 235 303 245 316ZM503 73 509 74 515 69 537 46 542 34 540 28 534 21 509 12 491 16 485 21 479 34 483 46 503 73ZM499 58 489 40 491 28 500 21 509 20 522 22 531 28 534 34 533 40 522 54 509 63 503 63 499 58ZM245 48 258 51 270 47 284 34 284 28 276 21 258 14 239 18 233 23 231 34 234 40 245 48ZM251 34 254 34 251 34Z" fill="#6666ff" fill-rule="evenodd"/><path transform="scale(.5)" d="M221 812 225 812 227 791 233 779 252 768 270 762 288 764 337 784 364 800 368 806 367 812 386 812 387 806 381 794 374 789 267 745 264 738 274 708 270 702 258 699 251 702 245 708 244 714 253 745 243 757 220 775 221 812ZM430 812 437 812 437 800 445 787 472 780 497 756 509 751 540 769 571 779 595 792 614 794 657 789 668 794 675 800 676 812 685 812 686 806 680 794 663 783 650 781 614 784 540 760 519 738 516 732 515 700 509 693 503 691 497 693 491 702 492 714 501 732 500 738 472 770 442 778 436 782 429 794 430 812ZM6 593 37 592 55 569 67 560 98 568 105 567 110 561 113 555 111 542 104 538 74 548 67 545 23 438 18 432 6 426 0 426 0 445 6 444 12 449 25 467 46 518 50 536 47 555 37 574 25 584 0 587 0 593 6 593ZM509 594 522 590 540 562 554 555 540 541 522 516 509 507 503 509 483 555 497 583 509 594ZM502 573 494 561 494 548 503 534 509 529 515 529 522 534 526 542 525 561 515 576 509 577 502 573ZM773 587 779 589 792 587 802 579 810 568 810 546 792 518 785 514 773 521 754 548 753 555 758 567 773 587ZM775 579 763 561 763 548 773 533 779 528 785 528 797 548 798 567 790 579 779 582 775 579ZM6 384 18 383 31 377 35 371 42 340 74 313 80 312 98 320 110 322 119 316 121 309 120 303 112 297 80 296 74 294 52 273 42 236 28 199 31 162 29 150 18 133 6 127 0 127 0 136 12 138 18 144 23 156 18 199 20 218 33 242 43 273 61 303 56 316 32 340 26 365 22 371 12 375 0 375 0 384 6 384ZM773 343 779 344 792 339 804 328 810 318 810 303 800 279 792 268 785 265 779 264 767 269 727 303 729 309 773 343ZM764 328 746 316 740 309 739 303 767 276 779 271 785 272 792 279 798 291 801 303 800 316 792 328 785 332 773 332 764 328ZM252 328 264 328 288 314 304 309 305 303 296 291 271 273 258 258 250 273 222 291 219 297 222 309 252 328ZM245 316 235 303 236 297 245 290 258 286 270 287 279 291 284 297 283 303 278 309 264 319 258 320 245 316ZM650 305 669 309 695 303 687 295 669 292 652 297 648 303 650 305ZM509 164 515 161 521 144 517 126 509 117 503 144 509 164ZM503 84 509 86 544 46 548 34 548 28 545 21 534 13 510 3 494 3 478 15 468 34 470 40 503 84ZM501 70 480 40 481 28 485 21 492 15 503 12 515 13 534 21 540 28 542 34 537 46 509 74 501 70ZM252 58 258 60 270 56 297 34 298 28 295 21 267 3 244 3 229 15 223 28 227 42 252 58ZM243 46 233 38 231 28 235 21 245 15 264 16 284 28 284 34 279 40 264 50 258 51 243 46Z" fill="#7f7fff" fill-rule="evenodd"/><path transform="scale(.5)" d="M215 812 219 812 220 775 243 757 253 745 244 714 245 708 251 702 258 699 270 702 274 708 264 738 267 745 374 789 385 800 386 812 398 812 399 806 396 794 387 784 316 757 288 743 283 732 292 708 291 702 282 692 264 689 245 692 231 702 228 708 233 732 231 745 221 755 202 763 196 769 209 787 215 812ZM423 812 429 812 429 794 436 781 442 778 472 770 500 738 501 732 492 714 491 702 497 693 503 691 509 693 515 700 516 732 519 738 540 760 614 784 650 781 663 783 681 795 685 812 692 812 688 794 669 779 657 774 626 777 614 776 584 763 552 756 544 751 534 738 527 720 527 683 515 659 512 622 528 605 543 573 570 561 577 555 574 548 546 535 515 496 503 487 495 487 489 493 490 524 475 548 474 555 490 591 490 616 495 628 500 665 497 671 485 680 481 689 487 738 472 760 460 766 440 769 428 775 419 794 419 812 423 812ZM505 591 491 573 483 555 503 509 509 507 522 516 540 541 554 555 540 562 522 590 515 594 505 591ZM172 720 197 714 206 708 201 702 190 699 162 702 157 708 159 714 172 720ZM98 653 104 655 109 653 113 640 110 611 104 606 98 615 92 634 94 647 98 653ZM37 613 43 616 49 610 57 591 67 582 80 580 104 584 110 582 121 567 123 536 117 525 110 521 104 520 86 529 74 528 67 521 55 497 28 426 18 416 0 414 0 426 12 427 23 438 67 545 74 548 104 538 110 542 113 548 111 561 104 567 92 568 67 560 55 569 37 592 0 593 0 599 25 603 37 613ZM773 594 792 595 810 584 810 568 802 579 792 587 779 589 773 587 761 573 753 555 757 542 767 528 779 515 785 514 792 518 810 546 810 526 798 507 792 503 785 502 773 511 746 548 746 555 751 567 763 585 773 594ZM6 394 25 392 37 384 43 373 46 352 52 340 74 325 123 332 132 328 141 316 147 313 184 318 196 322 221 323 258 339 264 338 288 323 319 324 325 317 326 309 316 297 277 267 264 239 258 236 252 243 239 270 207 285 190 301 153 298 129 286 92 286 74 279 61 269 57 260 49 229 36 199 35 187 38 156 33 144 18 125 0 121 0 127 17 132 29 150 31 162 28 199 42 236 52 273 74 294 80 296 112 297 120 303 121 309 119 316 110 322 98 320 80 312 67 317 42 340 35 371 30 377 18 383 0 384 0 393 6 394ZM251 328 222 309 219 297 222 291 250 273 258 258 271 273 296 291 305 303 304 309 288 314 264 328 251 328ZM767 359 779 358 810 337 810 318 798 335 779 344 773 343 729 309 727 303 767 269 779 264 789 267 796 273 810 303 810 282 801 267 792 259 779 258 767 262 742 285 724 295 712 296 681 284 669 283 645 291 634 297 630 303 637 309 657 313 712 311 724 314 754 334 767 359ZM648 303 652 297 669 292 687 295 695 303 669 309 648 303ZM509 183 515 179 522 168 529 144 528 132 516 101 518 89 528 70 551 46 555 28 550 15 540 8 530 3 510 3 540 17 546 24 548 34 544 46 515 79 509 86 503 84 470 40 468 34 478 15 494 3 475 3 455 34 453 46 479 59 498 89 502 101 499 156 503 176 509 183ZM508 162 503 144 509 117 517 126 521 144 515 161 509 164 508 162ZM252 65 264 67 302 40 310 28 305 15 287 3 267 3 295 21 298 28 297 34 284 46 270 56 258 60 239 52 225 40 223 34 225 21 233 11 244 3 229 3 218 21 218 40 227 50 252 65Z" fill="#9999ff" fill-rule="evenodd"/><path transform="scale(.5)" d="M209 812 213 812 211 794 196 769 202 763 221 755 231 745 233 732 228 708 237 696 252 690 276 689 287 696 292 708 284 726 284 738 291 745 316 757 387 784 396 794 398 812 419 812 420 787 430 774 440 769 466 764 479 754 485 745 488 732 482 708 481 689 485 680 497 671 500 665 495 628 490 616 490 591 474 555 475 548 490 524 489 493 497 487 509 490 546 535 574 548 577 555 570 561 543 573 528 605 512 622 515 659 527 683 527 720 534 738 544 751 552 756 584 763 614 776 626 777 650 774 663 776 687 792 691 800 692 812 698 812 698 806 691 787 663 769 650 767 632 770 618 769 592 757 558 749 551 745 541 732 534 714 536 677 526 653 525 634 537 610 547 579 555 573 582 561 588 555 587 548 552 532 515 483 509 478 497 476 485 480 478 487 476 499 481 518 477 530 466 537 460 536 448 526 442 528 440 536 447 555 472 573 479 585 474 616 484 634 486 647 484 659 472 677 471 683 479 732 472 749 460 757 430 764 405 776 374 769 325 750 305 738 302 732 319 718 321 708 288 675 282 673 258 679 233 678 209 689 166 691 144 696 138 702 138 708 149 720 166 732 172 733 202 726 209 726 216 732 216 738 212 745 202 749 178 755 169 763 169 769 174 775 202 794 206 812 209 812ZM172 720 159 714 157 708 162 702 190 699 201 702 206 708 197 714 172 720ZM767 812 782 812 787 775 785 763 779 755 773 759 766 775 764 794 767 812ZM104 674 110 674 114 671 120 659 123 604 134 579 133 555 139 530 137 524 104 491 94 493 80 510 74 507 62 487 43 438 36 408 48 383 58 346 74 334 86 334 129 341 135 340 153 328 166 326 178 329 196 338 227 334 239 340 258 365 270 372 282 372 286 365 276 352 278 340 285 334 295 331 313 336 325 335 335 322 337 309 329 297 282 263 264 225 258 225 252 231 239 258 233 265 202 275 178 288 160 287 135 276 98 278 80 272 67 261 63 254 55 221 43 194 42 181 45 162 40 144 21 120 12 116 0 115 0 121 12 122 20 126 33 144 38 156 35 187 36 199 49 229 57 260 61 269 74 279 92 286 129 286 153 298 190 301 207 285 239 270 252 243 258 236 264 239 277 267 316 297 326 309 325 317 319 324 288 323 264 338 258 339 221 323 196 322 184 318 147 313 141 316 132 328 123 332 74 325 52 340 46 352 43 373 37 384 25 392 0 393 0 414 18 416 28 426 55 497 70 524 80 530 104 520 110 521 120 530 123 542 121 567 110 582 104 584 80 580 67 582 57 591 49 610 43 616 18 601 0 599 0 606 18 611 37 639 43 643 49 643 57 634 63 610 67 601 74 596 80 596 86 604 86 610 79 640 80 647 92 663 104 674ZM98 653 94 647 92 634 98 615 104 606 110 611 113 640 109 653 104 655 98 653ZM767 598 785 602 810 594 810 584 792 595 773 594 761 583 746 555 749 542 767 518 779 505 785 502 798 507 810 526 810 499 792 487 785 488 779 493 739 548 741 561 767 598ZM657 564 668 561 672 555 672 548 667 542 657 537 650 540 645 548 650 560 657 564ZM337 555 344 560 356 558 362 548 362 542 350 543 340 548 337 555ZM374 533 380 531 385 524 385 518 380 514 374 517 371 524 371 530 374 533ZM258 475 264 472 269 463 270 450 258 453 252 463 252 469 258 475ZM282 441 295 439 298 432 295 428 288 427 282 432 280 438 282 441ZM761 373 767 374 779 371 810 350 810 337 779 358 767 359 754 334 724 314 712 311 657 313 637 309 630 303 634 297 645 291 669 283 681 284 712 296 724 295 742 285 767 262 779 258 792 259 798 263 810 282 810 256 804 252 792 250 773 252 761 259 741 279 724 289 706 287 675 274 663 276 626 290 601 293 599 297 605 303 639 316 663 318 712 316 730 322 742 330 752 340 755 365 761 373ZM515 213 522 207 523 187 537 150 539 138 525 107 524 89 534 71 558 46 563 34 562 15 556 3 530 3 550 15 554 21 555 34 551 46 528 70 518 89 516 101 528 132 529 144 522 168 515 179 509 183 503 176 499 156 502 101 498 89 479 59 453 46 455 34 475 3 463 3 442 34 438 46 439 52 447 58 472 61 483 70 491 83 496 101 495 150 497 174 503 195 509 208 515 213ZM258 167 264 168 270 165 275 156 270 146 264 141 258 141 248 150 252 162 258 167ZM252 72 258 74 270 71 320 34 325 28 326 21 314 3 287 3 305 15 310 28 308 34 294 46 270 63 258 67 230 52 218 40 218 21 229 3 218 3 211 21 211 40 221 52 252 72ZM6 48 37 47 53 40 57 34 49 28 37 26 0 31 0 47 6 48Z" fill="#b2b2ff" fill-rule="evenodd"/><path transform="scale(.5)" d="M196 812 206 812 202 795 196 788 174 775 169 769 169 763 178 755 202 749 212 745 216 738 216 732 209 726 202 726 172 733 166 732 149 720 138 708 138 702 144 696 166 691 209 689 233 678 258 679 282 673 288 675 321 708 319 718 302 732 305 738 325 750 374 769 405 776 430 764 460 757 472 749 479 732 471 683 472 677 484 659 486 647 484 634 474 616 479 585 472 573 447 555 440 536 442 528 448 526 460 536 466 537 477 530 481 518 476 499 478 487 485 480 497 476 509 478 515 483 552 532 587 548 588 555 582 561 555 573 547 579 537 610 525 634 526 653 536 677 534 714 541 732 551 745 558 749 592 757 618 769 632 770 650 767 663 769 691 787 697 800 698 812 704 812 704 806 702 794 693 782 663 762 650 759 632 762 620 761 595 749 564 742 557 738 547 726 541 708 543 677 532 647 534 634 543 616 552 583 558 577 592 561 598 555 599 548 589 540 558 530 552 524 521 475 509 467 497 465 485 467 472 474 456 499 432 512 426 524 422 542 423 561 430 571 442 579 461 585 464 591 466 616 477 640 477 653 465 677 471 726 469 738 465 745 454 751 399 762 374 759 337 738 334 732 335 714 331 703 303 677 288 647 282 644 276 645 258 660 239 651 233 650 227 654 215 672 202 680 190 683 141 682 110 714 135 724 147 732 151 738 150 745 139 763 142 769 172 793 190 801 196 812ZM755 812 766 812 766 775 773 759 779 755 785 763 787 775 782 812 794 812 794 775 785 738 788 708 785 701 779 700 773 708 775 738 756 781 752 800 752 812 755 812ZM98 702 130 671 130 622 132 610 140 598 158 585 162 579 161 573 152 555 166 539 168 530 165 524 130 506 110 482 98 477 80 479 74 475 67 465 53 438 49 420 59 365 64 352 69 346 80 342 135 348 160 336 172 336 196 347 221 348 227 351 233 371 242 383 252 389 270 390 288 387 301 381 313 356 339 340 345 328 347 309 343 297 337 291 288 260 279 248 270 219 264 214 258 215 252 221 235 254 229 260 196 269 178 279 166 280 135 270 104 271 86 266 74 255 70 248 63 218 51 193 50 181 54 162 50 150 35 126 25 114 12 110 0 109 0 115 12 116 25 122 40 144 45 162 42 181 43 194 55 221 63 254 67 261 80 272 98 278 135 276 160 287 178 288 202 275 233 265 239 258 252 231 258 225 264 225 282 263 329 297 337 309 335 322 325 335 313 336 295 331 285 334 278 340 276 352 286 365 282 372 270 372 258 365 239 340 227 334 196 338 178 329 166 326 153 328 135 340 129 341 86 334 74 334 58 346 48 383 36 408 43 438 62 487 74 507 80 510 94 493 104 491 137 524 139 530 133 555 134 579 123 604 122 647 117 668 110 674 104 674 92 663 80 647 79 640 86 610 86 604 80 596 74 596 67 601 63 610 57 634 49 643 43 643 37 639 24 616 17 610 0 606 0 618 12 622 19 640 43 670 49 673 67 662 74 662 80 666 89 677 98 702ZM785 654 798 653 803 647 802 640 792 634 785 634 779 640 779 647 785 654ZM779 610 792 609 810 604 810 594 785 602 767 598 738 555 742 542 785 488 798 489 810 499 810 477 792 462 785 462 779 467 763 506 732 548 734 561 761 600 767 606 779 610ZM331 568 350 570 362 567 396 536 400 518 397 506 393 500 374 497 362 502 356 524 324 548 322 555 323 561 331 568ZM337 555 340 548 350 543 362 542 359 555 350 561 344 560 337 555ZM371 530 374 518 380 514 385 518 385 524 380 531 374 533 371 530ZM650 567 663 570 675 562 680 555 675 542 663 532 657 530 643 536 637 548 643 561 650 567ZM651 561 645 548 647 542 657 537 663 539 672 548 672 555 663 564 651 561ZM252 489 258 491 264 488 288 457 313 448 314 426 307 415 288 412 276 417 246 450 242 463 243 475 245 483 252 489ZM257 475 252 469 255 457 264 450 270 450 269 463 264 472 257 475ZM280 438 282 432 288 427 295 428 298 432 296 438 288 441 282 441 280 438ZM454 444 467 438 470 432 466 426 455 426 447 432 445 438 448 444 454 444ZM767 383 785 378 810 362 810 350 779 371 767 374 761 373 755 365 752 340 742 330 730 322 712 316 663 318 639 316 617 309 605 303 599 297 605 291 626 290 663 276 675 274 706 287 724 289 741 279 761 259 773 252 792 250 810 256 810 233 767 243 755 253 739 273 724 282 712 283 703 279 696 273 687 252 675 245 669 247 663 260 656 267 638 278 626 281 595 278 583 288 581 297 583 303 594 309 618 316 657 321 712 320 730 326 746 340 749 368 753 377 767 383ZM374 367 380 366 387 358 387 347 380 343 374 346 368 359 368 365 374 367ZM663 238 665 236 665 224 663 216 657 211 654 218 655 230 663 238ZM515 232 528 228 534 219 531 187 540 165 552 150 566 144 568 138 561 126 540 116 534 110 529 95 537 77 570 46 580 3 556 3 563 21 561 40 554 52 534 71 524 89 525 107 539 138 537 150 523 187 522 207 515 213 509 208 503 195 497 174 495 150 496 101 491 83 483 70 472 61 447 58 439 52 438 46 442 34 463 3 451 3 432 34 430 52 433 58 442 64 472 67 487 83 492 101 492 156 495 187 503 218 509 229 515 232ZM755 214 761 216 765 211 771 193 756 169 755 129 749 119 742 118 739 126 740 132 754 162 751 199 755 214ZM264 176 276 170 282 156 281 150 271 138 258 133 245 144 242 156 252 170 264 176ZM252 162 248 150 258 141 264 141 273 150 275 156 270 165 264 168 252 162ZM583 157 595 159 602 156 595 149 577 148 575 150 583 157ZM252 79 264 81 307 50 346 34 350 28 350 21 336 3 314 3 324 15 325 28 270 71 258 74 215 46 210 28 218 3 208 3 202 28 207 46 252 79ZM675 71 687 73 693 72 694 64 681 58 644 57 620 42 605 46 597 52 598 58 607 61 650 59 675 71ZM6 61 37 55 74 38 104 40 112 34 111 28 104 25 74 28 37 19 0 19 0 31 37 26 49 28 57 34 53 40 37 47 0 47 0 60 6 61ZM166 34 172 34 178 28 178 21 172 11 166 10 160 15 158 21 159 28 166 34Z" fill="#ccccff" fill-rule="evenodd"/><path transform="scale(.5)" d="M166 812 195 812 190 801 172 793 142 769 139 763 150 745 151 738 147 732 135 724 110 714 141 682 190 683 202 680 215 672 227 654 233 650 239 651 258 660 276 645 282 644 288 647 303 677 331 703 335 714 334 732 337 738 374 759 399 762 454 751 465 745 469 738 471 726 465 677 477 653 477 640 466 616 464 591 461 585 442 579 430 571 423 561 422 542 426 524 432 512 456 499 472 474 485 467 497 465 509 467 521 475 552 524 558 530 589 540 599 548 598 555 592 561 558 577 552 583 543 616 534 634 532 647 543 677 541 708 547 726 557 738 564 742 595 749 620 761 632 762 650 759 663 762 687 777 698 787 703 800 704 812 710 812 710 806 709 794 702 781 657 751 620 752 595 741 571 736 564 732 553 720 549 708 548 671 540 647 542 634 551 616 555 591 564 580 593 567 608 555 612 548 609 542 598 536 571 530 559 524 528 461 522 455 499 444 485 414 476 408 466 406 448 410 436 417 422 438 400 457 393 474 387 480 374 481 356 468 344 476 328 493 344 511 344 518 337 526 312 542 305 555 307 567 319 576 337 579 362 578 393 563 452 598 469 647 458 677 463 720 459 738 442 747 387 751 374 747 355 732 337 696 313 677 306 665 295 634 288 627 276 625 258 631 227 631 217 640 209 660 199 671 178 672 160 664 147 672 121 696 87 732 80 745 86 751 110 759 129 774 147 784 157 794 161 812 166 812ZM329 567 323 561 322 555 324 548 356 524 364 499 380 497 393 500 397 506 400 518 396 536 362 567 344 570 329 567ZM450 444 445 438 448 431 455 426 466 426 470 432 467 438 450 444ZM742 812 752 812 756 781 775 738 773 710 779 700 785 701 788 708 785 738 794 775 794 812 803 812 801 781 792 738 796 702 792 688 785 685 773 691 767 702 767 738 744 787 742 812ZM67 733 80 725 117 691 148 653 140 634 140 616 147 607 172 595 181 585 181 555 188 530 185 524 178 518 147 507 135 499 116 475 86 462 68 444 63 432 62 420 65 371 74 354 92 349 135 355 166 344 215 361 249 420 235 450 234 475 236 493 245 505 258 507 270 500 286 475 295 468 301 469 319 484 337 469 344 457 331 439 332 426 339 420 356 413 374 391 396 377 403 365 407 346 405 337 399 328 368 314 357 291 351 285 288 253 282 242 276 214 270 204 264 201 258 204 245 220 233 248 221 258 196 261 178 271 166 273 141 265 104 264 92 259 80 249 76 242 71 218 61 193 59 181 63 162 58 150 31 111 18 104 0 103 0 109 18 111 30 120 50 150 54 162 50 181 51 193 63 218 70 248 74 255 86 266 104 271 135 270 166 280 178 279 196 269 229 260 235 254 252 221 258 215 264 214 270 219 279 248 288 260 337 291 343 297 347 309 345 328 339 340 313 356 301 381 288 387 270 390 252 389 242 383 233 371 227 351 221 348 196 347 172 336 160 336 135 348 80 342 69 346 64 352 59 365 49 420 53 438 67 465 74 475 80 479 98 477 110 482 130 506 165 524 168 530 166 539 152 555 161 573 162 579 158 585 140 598 132 610 130 622 130 671 98 702 89 677 80 666 74 662 67 662 49 673 43 670 19 640 12 622 0 618 0 651 12 652 25 661 54 702 61 726 67 733ZM249 487 243 475 242 463 245 451 250 444 276 417 288 412 307 415 314 426 313 448 288 457 264 488 258 491 249 487ZM368 365 368 358 374 346 380 343 386 346 387 358 382 365 374 367 368 365ZM779 665 792 670 810 666 810 604 785 610 767 606 734 561 732 548 763 506 779 467 785 462 792 462 810 477 810 416 798 424 772 450 767 461 765 487 760 499 749 519 723 548 722 555 743 579 769 622 769 647 779 665ZM784 653 779 647 779 640 785 634 792 634 802 640 803 647 798 653 792 654 784 653ZM650 573 657 576 669 574 688 555 687 548 677 536 657 523 639 530 628 542 627 548 650 573ZM650 567 639 555 637 548 643 536 657 530 663 532 675 542 680 555 675 562 663 570 650 567ZM761 391 779 391 792 387 810 375 810 362 779 381 761 382 755 379 749 371 746 340 730 326 712 320 657 321 626 317 594 309 583 303 581 297 585 285 594 279 626 281 647 273 663 260 669 247 675 245 687 252 696 273 703 279 718 283 736 276 767 243 810 233 810 165 792 170 779 166 772 156 761 119 749 99 742 96 736 97 730 104 725 120 737 156 737 199 744 242 741 254 734 267 724 275 710 273 706 267 703 248 681 230 663 197 657 190 650 187 645 199 642 236 632 264 626 268 595 269 580 273 570 285 566 297 571 309 589 315 638 323 706 323 726 328 741 340 746 377 755 388 761 391ZM661 236 657 233 654 224 657 211 663 216 665 224 665 236 663 238 661 236ZM753 211 751 199 754 162 740 132 739 126 742 118 749 119 755 129 756 169 771 193 767 207 761 216 755 214 753 211ZM503 242 515 247 528 243 537 236 543 224 544 187 552 178 577 171 614 168 625 162 623 156 616 150 583 132 564 110 546 106 540 103 538 89 546 79 558 72 571 69 614 76 657 76 693 88 706 85 715 77 717 70 714 64 706 58 687 49 657 41 647 34 643 21 647 3 580 3 570 46 533 83 529 95 534 110 540 116 561 126 568 138 566 144 552 150 540 165 531 187 534 219 528 228 515 232 509 229 503 218 494 181 491 150 493 107 489 89 483 77 472 67 442 64 433 58 430 52 432 34 451 3 438 3 426 21 420 40 425 58 431 64 442 69 472 72 486 89 489 107 490 175 498 230 503 242ZM580 156 575 150 583 147 597 150 602 156 589 159 580 156ZM674 70 650 59 607 61 598 58 597 52 605 46 620 42 644 57 681 58 694 64 695 70 687 73 674 70ZM258 182 264 186 276 180 286 169 290 156 276 136 264 126 258 125 239 143 236 156 244 169 258 182ZM260 175 250 169 242 156 245 144 258 133 271 138 281 150 282 156 276 170 270 174 260 175ZM258 91 264 90 293 64 313 53 325 48 351 46 362 41 389 15 397 3 336 3 350 21 350 28 346 34 313 46 288 62 270 78 258 82 215 54 207 46 202 28 208 3 146 3 143 15 143 28 153 39 166 44 190 44 233 70 258 91ZM165 34 159 28 158 21 160 15 166 10 175 15 178 27 172 34 165 34ZM6 71 31 67 74 45 110 46 121 40 128 28 124 21 110 17 74 21 31 12 0 10 0 19 37 19 74 28 104 25 111 28 112 34 102 40 74 38 31 57 0 60 0 71 6 71Z" fill="#e5e5ff" fill-rule="evenodd"/><path transform="scale(.5)" d="M12 812 110 812 112 800 123 794 139 800 142 812 152 812 152 806 147 795 141 790 110 778 98 776 74 781 49 774 37 783 8 812 12 812ZM724 812 727 812 726 794 760 745 763 732 761 702 769 677 758 622 737 579 724 566 706 556 699 557 669 579 657 583 632 564 620 559 566 585 562 591 559 616 547 647 554 677 556 702 564 720 577 729 620 743 657 742 681 761 715 781 723 794 722 812 724 812ZM701 763 681 754 657 732 620 735 580 720 567 708 561 689 555 647 568 616 571 591 577 585 620 566 632 570 657 591 663 590 687 572 706 565 724 572 736 585 752 628 758 665 755 702 757 738 749 754 736 762 724 766 701 763ZM4 800 29 775 38 763 31 738 36 708 28 683 18 666 12 662 0 660 0 670 12 673 18 689 12 701 0 702 0 804 4 800ZM810 786 810 767 802 738 810 710 810 687 800 720 797 738 810 786ZM436 739 442 738 451 732 456 720 451 671 457 640 452 616 446 604 436 596 411 589 399 590 380 600 374 600 359 591 344 589 321 591 308 598 303 604 301 616 312 659 319 671 344 688 368 723 380 732 387 734 405 730 436 739ZM431 720 422 708 411 700 387 702 374 699 363 689 357 677 357 665 369 634 399 605 411 599 423 600 436 605 442 611 446 622 445 634 439 653 445 714 442 722 436 723 431 720ZM324 653 319 639 319 622 325 614 331 612 337 614 339 622 331 655 324 653ZM693 543 699 547 712 546 732 530 747 512 758 487 757 444 761 435 776 420 778 414 774 408 755 397 743 383 736 340 724 331 712 327 644 327 564 319 552 309 541 285 534 288 511 309 497 328 467 352 448 377 485 395 528 434 540 453 553 481 559 512 570 524 620 532 644 518 657 514 669 521 693 543ZM698 536 687 531 663 504 657 502 620 522 575 518 569 512 568 487 564 476 537 420 528 410 503 393 486 377 483 371 485 361 509 345 528 321 534 319 564 330 595 327 644 330 706 330 718 332 730 340 735 352 738 383 748 408 740 438 750 475 749 493 736 518 724 530 712 536 698 536ZM178 507 196 511 209 509 215 504 221 491 223 463 221 453 212 438 212 432 222 414 224 401 212 371 202 363 172 355 141 362 98 357 80 361 74 371 73 377 81 401 78 426 83 438 96 450 123 468 141 494 153 500 178 507ZM173 493 158 487 157 481 190 473 199 475 201 481 196 490 190 493 173 493ZM141 457 125 450 113 438 111 426 112 401 104 391 92 382 89 377 90 371 104 367 160 374 184 367 202 371 211 383 214 395 209 412 178 444 141 457ZM436 365 460 345 485 316 514 291 528 273 503 261 497 254 492 242 485 162 486 107 482 89 472 77 466 74 436 72 423 66 415 58 405 39 399 35 393 37 377 52 368 56 325 55 307 62 280 83 265 107 269 120 291 144 298 156 295 169 280 193 288 243 301 254 331 260 360 273 378 285 417 328 436 365ZM438 328 423 314 397 279 337 248 325 244 301 243 295 237 291 193 310 156 308 150 281 126 275 107 283 89 294 77 307 69 319 64 331 63 374 73 405 65 436 76 466 79 479 90 483 107 482 169 486 211 482 248 494 279 492 285 467 303 454 326 448 330 438 328ZM147 261 172 265 196 254 221 251 230 242 254 193 249 181 230 156 233 144 255 113 254 101 246 89 227 71 190 55 135 43 110 52 80 50 67 53 18 87 0 86 0 91 18 90 31 98 51 132 71 156 68 187 86 242 92 249 104 255 147 261ZM140 254 110 249 99 242 92 233 81 205 76 187 80 156 54 126 47 95 48 83 53 70 67 58 80 55 110 58 141 55 178 60 227 76 244 95 247 107 244 120 223 150 222 156 242 181 247 193 227 235 221 242 196 245 166 257 140 254ZM571 254 583 259 595 260 615 254 632 232 635 224 636 205 632 192 626 194 613 205 577 242 571 254ZM586 242 589 236 595 234 603 236 603 242 595 247 586 242ZM612 224 610 218 612 211 620 204 626 204 626 219 620 225 612 224ZM558 242 571 235 607 200 619 187 621 181 607 177 589 178 581 181 558 198 553 218 553 230 558 242ZM568 224 566 218 569 211 577 210 579 218 577 224 571 226 568 224ZM587 199 588 193 594 187 608 187 609 193 601 200 595 203 587 199ZM706 236 718 242 724 240 729 230 727 187 729 162 727 150 718 135 699 126 667 156 663 162 663 169 666 187 681 218 687 225 706 236ZM700 224 687 215 681 205 675 187 675 175 687 160 706 149 712 149 718 154 720 162 719 218 712 225 700 224ZM785 150 798 150 810 142 810 119 792 128 785 126 773 111 767 95 768 83 777 70 792 67 810 69 810 52 792 46 785 41 767 55 755 70 758 95 779 143 785 150ZM626 146 650 150 663 140 686 113 678 95 663 86 650 84 626 86 589 83 572 89 571 95 573 101 588 126 601 135 626 146ZM624 138 607 132 595 123 588 107 589 98 601 93 659 95 664 101 664 107 650 128 638 138 624 138ZM712 52 742 58 758 46 772 28 767 21 761 3 744 3 746 21 744 34 736 42 724 46 702 40 686 28 685 21 694 3 671 3 663 15 663 28 669 34 712 52ZM74 16 92 13 125 3 102 3 74 11 45 3 26 3 74 16Z" fill="#fbe7e7" fill-rule="evenodd"/><path transform="scale(.5)" d="M110 812 142 812 142 806 135 797 123 794 112 800 110 812ZM706 764 724 766 736 762 749 754 757 738 755 702 758 665 752 628 736 585 724 572 706 565 687 572 663 590 657 591 632 570 620 566 577 585 571 591 568 616 555 647 561 689 567 708 580 720 620 735 657 732 685 757 706 764ZM687 751 663 724 657 722 626 729 614 727 583 711 570 696 565 677 563 653 580 616 580 598 592 585 614 573 626 573 632 576 657 604 663 601 685 579 699 572 712 572 724 578 736 595 749 647 747 683 752 726 751 738 747 745 736 752 699 754 687 751ZM810 767 808 738 810 710 802 738 810 767ZM436 723 442 722 445 714 439 653 445 634 446 622 442 611 436 605 423 600 411 599 399 605 369 634 357 665 357 677 363 689 374 699 387 702 411 700 417 703 436 723ZM380 677 376 665 381 647 395 634 405 616 411 610 423 609 430 612 435 622 432 628 411 647 418 671 416 677 393 681 380 677ZM6 703 12 701 16 696 18 683 12 673 0 670 0 702 6 703ZM325 655 331 655 332 653 339 622 337 614 331 612 325 614 319 622 319 639 325 655ZM699 537 712 536 731 524 744 506 750 487 750 475 740 438 748 408 738 383 735 352 730 340 718 332 706 330 644 330 595 327 564 330 534 319 528 321 509 345 485 361 483 371 486 377 503 393 528 410 537 420 564 476 568 487 569 512 575 518 620 522 657 502 663 504 687 531 699 537ZM689 524 669 489 663 482 657 480 632 505 620 511 599 512 584 506 574 475 553 432 546 401 519 389 506 377 504 371 511 359 534 341 564 343 595 332 706 333 725 340 731 352 736 401 727 438 741 481 741 493 732 512 718 526 706 530 689 524ZM178 494 190 493 196 490 201 481 199 475 190 473 157 481 158 487 178 494ZM141 457 178 444 209 412 214 395 211 383 202 371 184 367 160 374 104 367 90 371 89 377 92 382 104 391 112 401 111 426 113 438 125 450 141 457ZM135 432 131 420 135 397 141 394 166 401 184 380 190 378 200 383 203 389 202 401 196 408 178 418 166 431 147 437 135 432ZM442 330 448 330 454 326 467 303 492 285 494 279 482 248 486 211 482 169 483 107 479 90 466 79 436 76 405 65 374 73 331 63 319 64 307 69 294 77 283 89 275 107 281 126 308 150 310 156 291 193 295 237 301 243 325 244 337 248 397 279 423 314 442 330ZM431 303 422 291 411 266 374 258 337 239 308 230 303 224 300 205 304 187 332 156 330 150 323 144 290 126 283 113 284 101 288 92 307 77 319 72 331 72 374 86 411 77 460 82 472 88 477 95 480 113 481 211 479 228 470 248 471 279 448 306 442 309 431 303ZM141 254 166 257 196 245 221 242 227 235 247 193 242 181 222 156 223 150 244 120 247 107 244 95 227 76 178 60 141 55 110 58 80 55 67 58 53 70 48 83 47 95 54 126 80 156 76 187 81 205 92 233 99 242 110 249 141 254ZM138 248 117 243 106 236 98 226 85 199 83 181 90 156 88 150 61 126 58 113 60 77 67 66 74 62 86 61 129 66 160 64 184 67 227 82 234 89 240 101 240 113 235 126 211 150 208 156 213 162 233 177 240 187 239 199 227 221 215 232 196 233 166 248 138 248ZM589 244 595 247 601 244 603 236 595 234 589 236 586 242 589 244ZM571 226 577 224 579 218 577 210 571 210 566 218 571 226ZM614 226 620 225 626 219 626 204 620 204 612 211 610 218 614 226ZM706 225 715 224 720 211 718 187 720 162 718 154 712 149 699 152 681 165 674 181 679 199 687 215 693 220 706 225ZM699 211 691 205 685 193 685 181 693 173 702 175 707 187 708 205 706 210 699 211ZM589 201 595 203 601 200 609 193 608 187 594 187 588 193 589 201ZM626 138 638 138 648 132 664 107 663 99 659 95 650 93 626 95 601 93 592 95 588 101 588 107 592 120 607 132 626 138ZM612 126 601 113 603 107 607 105 632 107 640 113 640 120 632 128 626 129 612 126ZM785 126 792 128 810 119 810 99 798 109 785 110 778 101 778 89 784 83 792 81 810 88 810 69 792 67 779 69 773 73 768 83 767 95 771 107 785 126ZM724 46 736 42 744 34 746 21 744 3 725 3 731 15 731 28 726 34 718 36 706 30 702 21 706 13 714 3 694 3 685 21 686 28 702 40 724 46ZM67 10 86 9 102 3 74 5 45 3 67 10Z" fill="#f8cfcf" fill-rule="evenodd"/><path transform="scale(.5)" d="M693 753 736 752 747 745 751 738 752 726 747 683 749 647 735 591 730 584 718 574 699 572 685 579 663 601 657 604 632 576 620 572 607 576 583 593 580 616 564 647 564 671 571 697 586 714 614 727 626 729 657 722 663 724 681 746 693 753ZM695 745 684 738 667 708 665 702 665 677 663 668 657 663 644 670 641 677 654 702 653 708 648 714 632 722 620 722 601 714 586 702 577 689 572 671 573 653 595 616 599 591 614 580 626 579 632 584 644 611 650 618 657 621 663 618 679 591 693 580 706 577 716 579 724 584 730 593 742 640 742 653 734 677 743 714 744 732 736 740 695 745ZM810 750 810 727 808 738 810 750ZM380 677 393 681 416 677 418 671 411 647 432 628 435 622 430 612 423 609 411 610 405 616 395 634 381 647 376 665 380 677ZM693 527 706 530 721 524 732 512 741 493 741 481 727 438 736 401 731 352 725 340 706 333 595 332 564 343 534 341 511 359 504 371 506 377 519 389 546 401 553 432 574 475 584 506 599 512 620 511 632 505 657 480 663 482 669 489 683 518 693 527ZM697 518 692 512 684 487 668 463 657 453 650 455 644 462 633 487 620 499 601 500 589 488 564 426 569 401 569 365 574 352 583 343 601 337 699 337 718 340 724 346 727 359 729 395 717 432 717 444 727 493 724 506 714 518 706 520 697 518ZM527 377 523 371 525 365 534 358 540 359 545 365 546 371 542 377 534 379 527 377ZM135 432 147 437 166 431 178 418 196 408 202 401 203 389 200 383 190 378 184 380 166 401 141 394 135 397 131 420 135 432ZM436 307 442 309 448 306 471 279 470 248 479 228 481 211 480 113 477 95 472 88 460 82 411 77 374 86 331 72 319 72 307 77 288 92 284 101 283 113 290 126 323 144 330 150 332 156 304 187 300 205 303 224 308 230 337 239 374 258 411 266 423 294 436 307ZM435 285 435 273 442 267 448 267 453 273 454 279 448 288 442 290 435 285ZM385 248 331 227 316 218 311 205 317 187 325 179 350 169 357 162 360 156 350 144 325 129 298 120 293 113 294 101 307 89 319 86 368 96 380 96 417 84 454 85 466 89 472 95 476 113 476 211 472 226 460 239 448 244 411 244 385 248ZM141 249 166 248 196 233 215 232 227 221 239 199 240 187 233 177 213 162 208 156 238 120 241 107 238 95 228 83 221 78 178 66 160 64 129 66 86 61 74 62 67 66 60 77 58 113 61 126 88 150 90 156 83 181 85 199 98 226 106 236 117 243 141 249ZM123 236 110 227 98 211 90 193 90 181 98 165 104 159 110 159 135 172 143 169 149 156 144 150 135 147 110 148 104 146 71 126 67 113 74 74 80 69 92 69 135 79 160 71 172 71 221 84 228 89 235 101 233 120 221 134 194 150 192 156 194 162 201 169 229 181 234 193 229 205 221 213 196 218 160 239 141 241 123 236ZM699 212 706 210 708 205 707 187 702 175 693 173 685 181 685 193 691 205 699 212ZM614 126 626 129 632 128 640 120 640 113 633 107 626 106 614 104 603 107 601 113 604 120 614 126ZM785 110 798 109 808 101 810 88 792 81 779 86 778 101 785 110ZM712 35 724 35 731 28 731 15 725 3 714 3 704 15 703 28 712 35ZM67 4 86 3 62 3 67 4Z" fill="#f4b8b8" fill-rule="evenodd"/><path transform="scale(.5)" d="M699 745 736 740 744 732 743 714 734 677 742 653 742 640 729 591 724 584 712 578 693 580 679 591 663 618 657 621 650 618 644 611 632 584 626 579 614 580 599 591 595 616 573 653 572 671 577 689 589 705 607 717 626 722 637 720 653 708 654 702 641 677 644 670 657 663 663 668 665 677 665 702 667 708 684 738 693 744 699 745ZM692 726 676 689 664 640 682 598 693 586 706 583 716 585 724 593 734 628 735 647 721 677 722 689 730 714 724 723 706 729 699 730 692 726ZM619 714 607 708 596 696 586 677 584 665 590 647 610 616 614 592 620 588 627 591 634 616 656 640 655 647 635 665 628 677 639 702 638 708 630 714 619 714ZM699 519 712 519 718 514 724 506 727 493 717 444 717 432 729 395 727 359 724 346 718 340 699 337 601 337 583 343 574 352 569 365 569 401 564 426 593 493 600 499 607 501 626 496 633 487 644 462 650 455 657 453 668 463 684 487 692 512 699 519ZM599 481 592 469 590 457 597 432 586 414 580 389 580 365 585 352 595 345 607 343 699 341 717 346 723 359 723 395 709 432 704 463 700 469 693 470 687 467 666 438 663 426 665 401 663 394 657 391 649 401 650 432 633 457 624 475 614 485 607 486 599 481ZM528 377 540 378 546 371 545 365 540 359 534 358 525 365 523 371 528 377ZM436 286 442 290 448 288 454 279 453 273 448 267 442 267 436 271 433 279 436 286ZM387 248 411 244 448 244 460 239 472 226 476 211 476 113 472 95 466 89 454 85 417 84 380 96 368 96 319 86 307 89 294 101 293 113 298 120 325 129 350 144 360 156 357 162 350 169 325 179 317 187 311 205 316 218 331 227 387 248ZM407 230 380 216 350 222 336 218 329 211 327 199 331 193 356 180 374 166 387 162 411 164 421 156 418 150 411 148 387 149 374 147 345 126 342 120 343 113 350 109 380 104 417 90 460 92 469 101 472 113 468 218 460 228 448 233 430 233 407 230ZM129 238 147 241 160 239 196 218 221 213 229 205 234 193 229 181 201 169 194 162 192 156 194 150 221 134 233 120 235 101 228 89 221 84 172 71 160 71 135 79 92 69 80 69 74 74 67 113 71 126 104 146 110 148 135 147 144 150 149 156 143 169 135 172 110 159 104 159 98 165 90 181 90 193 98 211 110 227 129 238ZM128 224 110 212 100 199 97 187 104 175 110 174 135 185 147 177 166 158 172 157 196 179 222 187 224 193 220 199 196 203 160 225 141 228 128 224ZM158 144 117 135 84 120 83 107 92 85 104 84 123 91 135 92 160 79 172 77 209 84 220 89 226 95 229 113 222 126 215 131 172 149 158 144Z" fill="#f0a0a0" fill-rule="evenodd"/><path transform="scale(.5)" d="M693 728 699 730 724 723 730 714 722 689 721 677 735 647 734 628 724 593 716 585 706 583 693 586 682 598 664 640 678 696 693 728ZM687 689 681 671 684 610 693 594 699 590 712 591 718 595 724 606 728 640 724 652 711 671 705 689 699 695 693 694 687 689ZM620 714 630 714 638 708 639 702 628 677 635 665 655 647 656 640 634 616 627 591 620 588 614 592 610 616 590 647 584 665 586 677 596 696 607 708 620 714ZM607 659 605 647 614 632 626 627 632 630 639 640 639 647 635 653 620 662 614 663 607 659ZM601 483 614 485 620 481 633 457 646 438 651 426 649 401 657 391 663 394 665 401 663 426 666 438 687 467 693 470 700 469 704 463 709 432 723 395 723 359 717 346 699 341 607 343 595 345 585 352 580 365 580 389 586 414 597 432 590 463 595 476 601 483ZM620 438 600 414 590 395 588 371 595 356 607 352 632 356 663 348 699 348 713 352 717 365 716 395 710 414 693 440 687 442 678 432 669 383 657 377 650 378 644 384 638 427 632 435 626 439 620 438ZM411 231 448 233 460 228 468 218 472 113 469 101 460 92 417 90 380 104 350 109 343 113 342 120 345 126 374 147 387 149 411 148 418 150 421 156 411 164 387 162 374 166 356 180 331 193 327 199 329 211 336 218 350 222 380 216 411 231ZM423 224 411 220 396 211 374 193 373 187 377 181 387 174 430 168 434 162 434 150 430 144 423 142 387 138 375 132 370 126 372 120 381 113 411 98 430 95 454 97 461 101 464 113 464 156 456 187 460 211 457 218 448 223 423 224ZM129 224 141 228 160 225 196 203 220 199 224 193 222 187 196 179 172 157 166 158 147 177 135 185 110 174 104 175 97 187 100 199 110 212 129 224ZM153 205 149 199 150 193 160 178 166 174 172 173 182 181 185 187 184 193 178 201 166 207 153 205ZM160 145 172 149 209 134 221 127 229 113 226 95 220 89 209 84 172 77 160 79 135 92 123 91 104 84 92 85 83 107 84 120 117 135 160 145ZM142 132 123 126 118 120 117 113 124 107 147 99 166 86 178 84 202 88 215 93 222 101 221 116 209 127 190 131 142 132Z" fill="#ed8888" fill-rule="evenodd"/><path transform="scale(.5)" d="M693 694 699 695 705 689 711 671 724 652 728 640 723 604 718 595 706 589 697 591 690 598 682 616 681 671 687 689 693 694ZM705 647 699 643 695 634 692 616 697 604 706 599 712 601 718 610 720 628 717 640 712 645 705 647ZM607 660 614 663 620 662 635 653 639 647 639 640 632 630 626 627 620 628 612 634 605 647 607 660ZM620 438 626 439 632 435 638 427 644 384 650 378 657 377 669 383 678 432 687 442 693 440 710 414 716 395 717 365 713 352 699 348 663 348 632 356 607 352 595 356 588 371 590 395 600 414 620 438ZM618 420 607 410 600 395 600 377 607 372 626 379 633 389 635 401 632 416 626 422 618 420ZM684 420 680 408 681 387 687 379 699 374 706 376 708 383 707 401 699 417 693 423 687 423 684 420ZM423 224 448 223 457 218 460 211 456 187 464 156 464 113 461 101 454 97 430 95 411 98 381 113 372 120 370 126 375 132 387 138 423 142 430 144 434 150 434 162 430 168 387 174 377 181 373 187 374 193 396 211 411 220 423 224ZM415 211 403 205 391 193 391 187 397 181 417 179 426 181 433 187 440 205 438 211 430 214 415 211ZM398 132 389 126 390 120 399 111 417 104 436 107 439 113 437 120 430 129 417 133 398 132ZM153 206 166 207 180 199 185 187 182 181 172 173 166 174 160 178 150 193 149 199 153 206ZM147 132 190 131 209 127 221 116 222 101 215 93 202 88 178 84 166 86 147 99 124 107 117 113 118 120 123 126 135 131 147 132ZM182 120 170 113 165 107 167 101 172 95 196 94 211 101 213 107 211 113 204 120 196 121 182 120Z" fill="#e97070" fill-rule="evenodd"/><path transform="scale(.5)" d="M706 647 717 640 720 628 718 610 712 601 706 599 697 604 692 616 695 634 699 643 706 647ZM620 421 626 422 632 416 635 401 633 389 626 379 607 372 600 377 600 395 607 410 620 421ZM618 401 620 395 622 401 620 404 618 401ZM687 423 693 423 699 417 707 401 708 383 706 376 699 374 687 379 680 389 681 414 687 423ZM690 401 693 395 696 401 693 405 690 401ZM417 212 438 211 440 205 433 187 426 181 417 179 397 181 391 187 391 193 403 205 417 212ZM409 193 411 190 418 193 411 195 409 193ZM399 132 417 133 430 129 437 120 439 113 436 107 417 104 396 113 390 120 389 126 399 132ZM407 120 411 117 418 120 411 123 407 120ZM184 120 196 121 209 116 213 107 211 101 196 94 172 95 167 101 165 107 170 113 184 120Z" fill="#e55858" fill-rule="evenodd"/><path transform="scale(.5)" d="M620 404 622 401 620 395 618 401 620 404ZM693 405 696 401 693 395 690 401 693 405ZM411 195 418 193 411 190 409 193 411 195ZM411 123 418 120 411 117 407 120 411 123Z" fill="#e14141" fill-rule="evenodd"/></g><path d="M-5,411.0 L411.5,-5" stroke="#fff" stroke-width="4.5"/></g>
</g>
<rect x="761.7" y="1718.0" width="406.5" height="406" fill="none" stroke="#262626" stroke-width="1.6"/>
<text x="799.1" y="2154.5" font-size="22.5" text-anchor="middle">200</text>
<text x="752" y="2094.6" font-size="22.5" text-anchor="end">200</text>
<text x="860.5" y="2154.5" font-size="22.5" text-anchor="middle">220</text>
<text x="752" y="2033.3" font-size="22.5" text-anchor="end">220</text>
<text x="921.8" y="2154.5" font-size="22.5" text-anchor="middle">240</text>
<text x="752" y="1972.1" font-size="22.5" text-anchor="end">240</text>
<text x="983.2" y="2154.5" font-size="22.5" text-anchor="middle">260</text>
<text x="752" y="1910.8" font-size="22.5" text-anchor="end">260</text>
<text x="1044.6" y="2154.5" font-size="22.5" text-anchor="middle">280</text>
<text x="752" y="1849.5" font-size="22.5" text-anchor="end">280</text>
<text x="1105.9" y="2154.5" font-size="22.5" text-anchor="middle">300</text>
<text x="752" y="1788.2" font-size="22.5" text-anchor="end">300</text>
<text x="1167.3" y="2154.5" font-size="22.5" text-anchor="middle">320</text>
<text x="752" y="1726.9" font-size="22.5" text-anchor="end">320</text>
<path d="M799.1,2124.0v-5M799.1,1718.0v5M761.7,2086.6h5M1168.2,2086.6h-5M860.5,2124.0v-5M860.5,1718.0v5M761.7,2025.3h5M1168.2,2025.3h-5M921.8,2124.0v-5M921.8,1718.0v5M761.7,1964.1h5M1168.2,1964.1h-5M983.2,2124.0v-5M983.2,1718.0v5M761.7,1902.8h5M1168.2,1902.8h-5M1044.6,2124.0v-5M1044.6,1718.0v5M761.7,1841.5h5M1168.2,1841.5h-5M1105.9,2124.0v-5M1105.9,1718.0v5M761.7,1780.2h5M1168.2,1780.2h-5M1167.3,2124.0v-5M1167.3,1718.0v5M761.7,1718.9h5M1168.2,1718.9h-5" stroke="#262626" stroke-width="1.6" fill="none"/>
<text x="967.5" y="2189.6" font-size="25.9" text-anchor="middle">Residue number</text>
<text transform="translate(703.6,1921.0) rotate(-90)" font-size="25.9" text-anchor="middle">Residue number</text>
<rect x="1199.20" y="1718.00" width="27.00" height="6.74" fill="#db1515"/><rect x="1199.20" y="1724.34" width="27.00" height="6.74" fill="#dc1c1c"/><rect x="1199.20" y="1730.69" width="27.00" height="6.74" fill="#dd2424"/><rect x="1199.20" y="1737.03" width="27.00" height="6.74" fill="#de2b2b"/><rect x="1199.20" y="1743.38" width="27.00" height="6.74" fill="#df3232"/><rect x="1199.20" y="1749.72" width="27.00" height="6.74" fill="#e03a3a"/><rect x="1199.20" y="1756.06" width="27.00" height="6.74" fill="#e24141"/><rect x="1199.20" y="1762.41" width="27.00" height="6.74" fill="#e34949"/><rect x="1199.20" y="1768.75" width="27.00" height="6.74" fill="#e45050"/><rect x="1199.20" y="1775.09" width="27.00" height="6.74" fill="#e55858"/><rect x="1199.20" y="1781.44" width="27.00" height="6.74" fill="#e65f5f"/><rect x="1199.20" y="1787.78" width="27.00" height="6.74" fill="#e76767"/><rect x="1199.20" y="1794.12" width="27.00" height="6.74" fill="#e86e6e"/><rect x="1199.20" y="1800.47" width="27.00" height="6.74" fill="#ea7575"/><rect x="1199.20" y="1806.81" width="27.00" height="6.74" fill="#eb7d7d"/><rect x="1199.20" y="1813.16" width="27.00" height="6.74" fill="#ec8484"/><rect x="1199.20" y="1819.50" width="27.00" height="6.74" fill="#ed8c8c"/><rect x="1199.20" y="1825.84" width="27.00" height="6.74" fill="#ee9393"/><rect x="1199.20" y="1832.19" width="27.00" height="6.74" fill="#ef9b9b"/><rect x="1199.20" y="1838.53" width="27.00" height="6.74" fill="#f1a2a2"/><rect x="1199.20" y="1844.88" width="27.00" height="6.74" fill="#f2a9a9"/><rect x="1199.20" y="1851.22" width="27.00" height="6.74" fill="#f3b1b1"/><rect x="1199.20" y="1857.56" width="27.00" height="6.74" fill="#f4b8b8"/><rect x="1199.20" y="1863.91" width="27.00" height="6.74" fill="#f5c0c0"/><rect x="1199.20" y="1870.25" width="27.00" height="6.74" fill="#f6c7c7"/><rect x="1199.20" y="1876.59" width="27.00" height="6.74" fill="#f7cfcf"/><rect x="1199.20" y="1882.94" width="27.00" height="6.74" fill="#f9d6d6"/><rect x="1199.20" y="1889.28" width="27.00" height="6.74" fill="#fadede"/><rect x="1199.20" y="1895.62" width="27.00" height="6.74" fill="#fbe5e5"/><rect x="1199.20" y="1901.97" width="27.00" height="6.74" fill="#fcecec"/><rect x="1199.20" y="1908.31" width="27.00" height="6.74" fill="#fdf4f4"/><rect x="1199.20" y="1914.66" width="27.00" height="6.74" fill="#fefbfb"/><rect x="1199.20" y="1921.00" width="27.00" height="6.74" fill="#fbfbff"/><rect x="1199.20" y="1927.34" width="27.00" height="6.74" fill="#f3f3ff"/><rect x="1199.20" y="1933.69" width="27.00" height="6.74" fill="#ebebff"/><rect x="1199.20" y="1940.03" width="27.00" height="6.74" fill="#e3e3ff"/><rect x="1199.20" y="1946.38" width="27.00" height="6.74" fill="#dbdbff"/><rect x="1199.20" y="1952.72" width="27.00" height="6.74" fill="#d3d3ff"/><rect x="1199.20" y="1959.06" width="27.00" height="6.74" fill="#cbcbff"/><rect x="1199.20" y="1965.41" width="27.00" height="6.74" fill="#c3c3ff"/><rect x="1199.20" y="1971.75" width="27.00" height="6.74" fill="#bbbbff"/><rect x="1199.20" y="1978.09" width="27.00" height="6.74" fill="#b3b3ff"/><rect x="1199.20" y="1984.44" width="27.00" height="6.74" fill="#ababff"/><rect x="1199.20" y="1990.78" width="27.00" height="6.74" fill="#a3a3ff"/><rect x="1199.20" y="1997.12" width="27.00" height="6.74" fill="#9b9bff"/><rect x="1199.20" y="2003.47" width="27.00" height="6.74" fill="#9393ff"/><rect x="1199.20" y="2009.81" width="27.00" height="6.74" fill="#8b8bff"/><rect x="1199.20" y="2016.16" width="27.00" height="6.74" fill="#8383ff"/><rect x="1199.20" y="2022.50" width="27.00" height="6.74" fill="#7c7cff"/><rect x="1199.20" y="2028.84" width="27.00" height="6.74" fill="#7474ff"/><rect x="1199.20" y="2035.19" width="27.00" height="6.74" fill="#6c6cff"/><rect x="1199.20" y="2041.53" width="27.00" height="6.74" fill="#6464ff"/><rect x="1199.20" y="2047.88" width="27.00" height="6.74" fill="#5c5cff"/><rect x="1199.20" y="2054.22" width="27.00" height="6.74" fill="#5454ff"/><rect x="1199.20" y="2060.56" width="27.00" height="6.74" fill="#4c4cff"/><rect x="1199.20" y="2066.91" width="27.00" height="6.74" fill="#4444ff"/><rect x="1199.20" y="2073.25" width="27.00" height="6.74" fill="#3c3cff"/><rect x="1199.20" y="2079.59" width="27.00" height="6.74" fill="#3434ff"/><rect x="1199.20" y="2085.94" width="27.00" height="6.74" fill="#2c2cff"/><rect x="1199.20" y="2092.28" width="27.00" height="6.74" fill="#2424ff"/><rect x="1199.20" y="2098.62" width="27.00" height="6.74" fill="#1c1cff"/><rect x="1199.20" y="2104.97" width="27.00" height="6.74" fill="#1414ff"/><rect x="1199.20" y="2111.31" width="27.00" height="6.74" fill="#0c0cff"/><rect x="1199.20" y="2117.66" width="27.00" height="6.74" fill="#0404ff"/>
<rect x="1199.2" y="1718.0" width="27.0" height="406" fill="none" stroke="#262626" stroke-width="1.6"/>
<text x="1233.5" y="2132.0" font-size="22.5">-8</text>
<text x="1233.5" y="2081.2" font-size="22.5">-6</text>
<text x="1233.5" y="2030.5" font-size="22.5">-4</text>
<text x="1233.5" y="1979.8" font-size="22.5">-2</text>
<text x="1233.5" y="1929.0" font-size="22.5">0</text>
<text x="1233.5" y="1878.2" font-size="22.5">2</text>
<text x="1233.5" y="1827.5" font-size="22.5">4</text>
<text x="1233.5" y="1776.8" font-size="22.5">6</text>
<text x="1233.5" y="1726.0" font-size="22.5">8</text>
<path d="M1226.2,2073.2h-4M1226.2,2022.5h-4M1226.2,1971.8h-4M1226.2,1921.0h-4M1226.2,1870.2h-4M1226.2,1819.5h-4M1226.2,1768.8h-4" stroke="#262626" stroke-width="1.6" fill="none"/>
<g transform="translate(1290,1918.7) rotate(-90)"><text x="0" y="0" font-size="27" text-anchor="middle">Δ<tspan font-style="italic">L</tspan><tspan dy="7" font-size="22">segment</tspan><tspan dy="-7"> [Å]</tspan></text></g>
</svg></body></html>
